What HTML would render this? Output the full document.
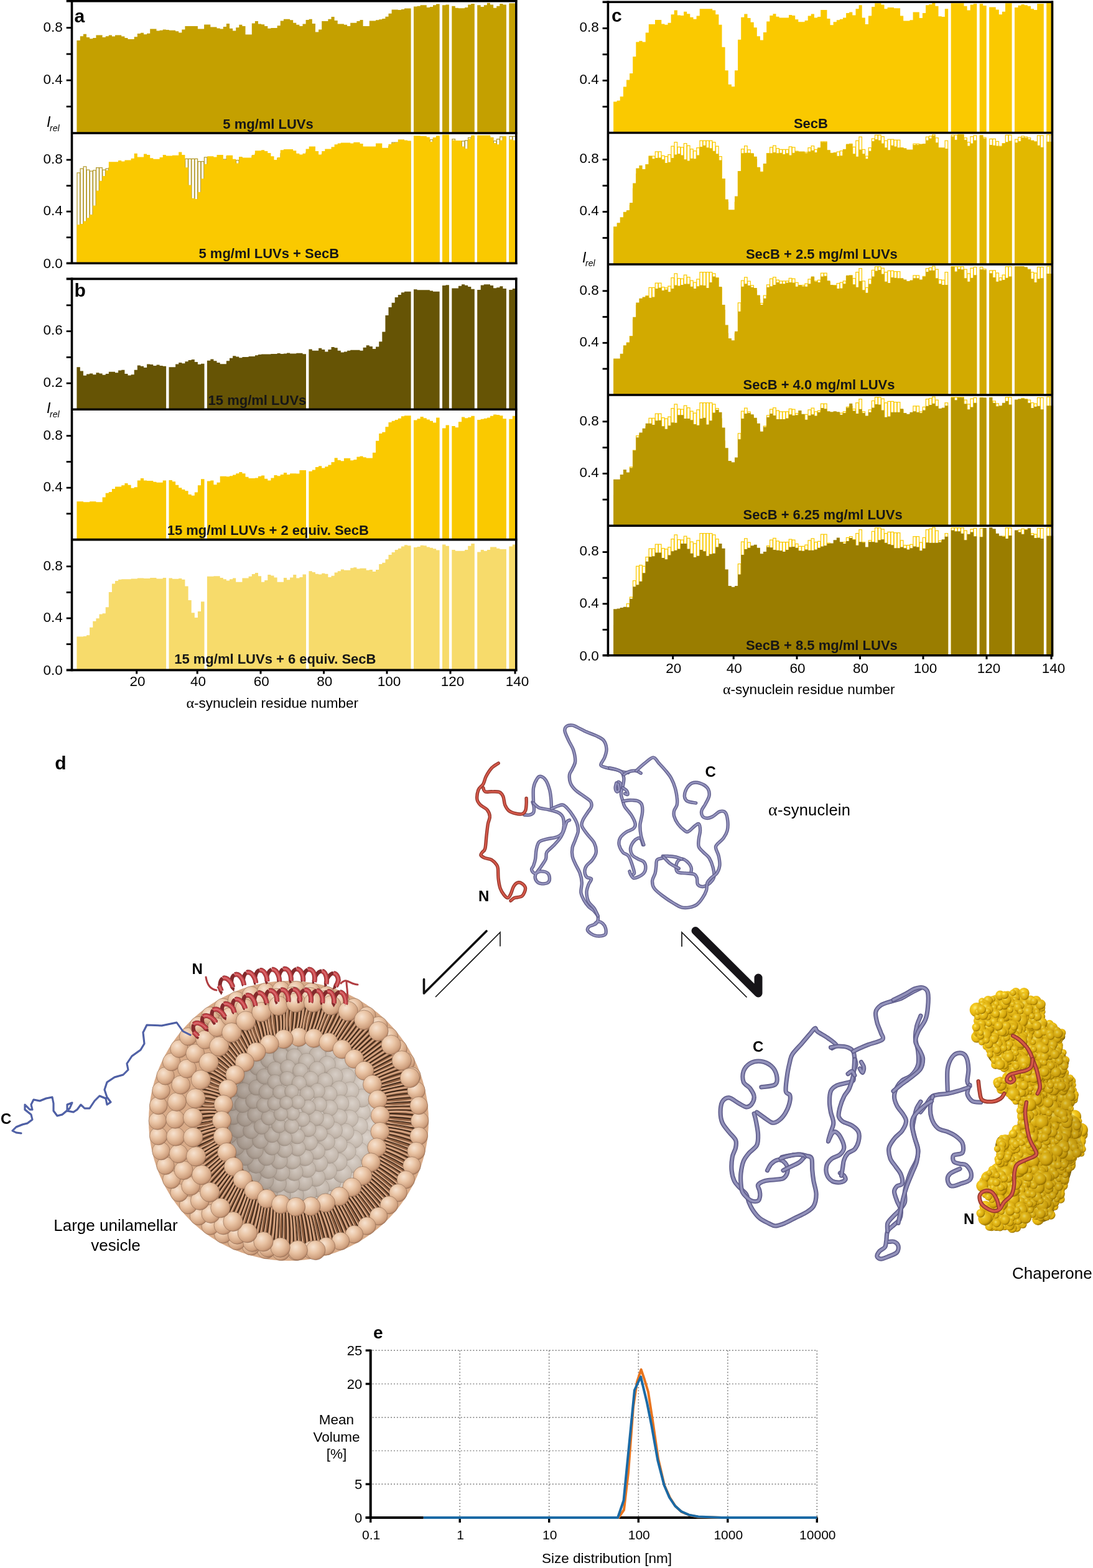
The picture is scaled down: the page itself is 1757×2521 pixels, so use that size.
<!DOCTYPE html>
<html><head><meta charset="utf-8"><title>Figure</title>
<style>html,body{margin:0;padding:0;background:#fff;width:1757px;height:2521px;overflow:hidden;}svg{display:block;}</style>
</head><body>
<svg width="1757" height="2521" viewBox="0 0 1757 2521">
<rect width="1757" height="2521" fill="#fff"/>
<path d="M123.4,213.5 L123.4,65.0 L128.8,65.0 L128.8,58.2 L133.9,58.2 L133.9,54.8 L139.0,54.8 L139.0,60.0 L144.1,60.0 L144.1,62.2 L149.3,62.2 L149.2,60.9 L154.4,60.9 L154.4,56.4 L159.5,56.4 L159.5,56.4 L164.6,56.4 L164.6,60.0 L169.7,60.0 L169.7,58.2 L174.8,58.2 L174.8,56.6 L179.9,56.6 L179.9,58.6 L185.0,58.6 L185.0,56.4 L190.1,56.4 L190.1,56.4 L195.2,56.4 L195.2,58.6 L200.4,58.6 L200.4,60.9 L205.5,60.9 L205.5,63.1 L210.6,63.1 L210.6,63.1 L215.7,63.1 L215.7,59.3 L220.8,59.3 L220.8,54.1 L225.9,54.1 L225.9,52.8 L231.0,52.8 L231.0,55.3 L236.1,55.3 L236.1,53.7 L241.2,53.7 L241.2,46.5 L246.3,46.5 L246.3,46.5 L251.5,46.5 L251.5,49.6 L256.6,49.6 L256.6,48.8 L261.7,48.8 L261.7,47.4 L266.8,47.4 L266.8,48.1 L271.9,48.1 L271.9,48.8 L277.0,48.8 L277.0,48.8 L282.1,48.8 L282.1,50.3 L287.2,50.3 L287.2,52.6 L292.3,52.6 L292.3,47.4 L297.4,47.4 L297.4,42.0 L302.6,42.0 L302.6,42.0 L307.7,42.0 L307.7,42.0 L312.8,42.0 L312.8,42.0 L317.9,42.0 L317.9,46.5 L323.0,46.5 L323.0,46.5 L328.1,46.5 L328.1,39.5 L333.2,39.5 L333.2,39.5 L338.3,39.5 L338.3,43.6 L343.4,43.6 L343.4,43.6 L348.5,43.6 L348.5,45.4 L353.7,45.4 L353.7,46.5 L358.8,46.5 L358.8,42.9 L363.9,42.9 L363.9,38.0 L369.0,38.0 L369.0,45.8 L374.1,45.8 L374.1,49.6 L379.2,49.6 L379.2,44.2 L384.3,44.2 L384.3,39.8 L389.4,39.8 L389.4,42.0 L394.5,42.0 L394.5,55.5 L399.6,55.5 L399.6,55.5 L404.8,55.5 L404.8,37.5 L409.9,37.5 L409.9,33.9 L415.0,33.9 L415.0,38.4 L420.1,38.4 L420.1,39.3 L425.2,39.3 L425.2,42.0 L430.3,42.0 L430.3,45.8 L435.4,45.8 L435.4,45.1 L440.5,45.1 L440.5,45.1 L445.6,45.1 L445.6,41.3 L450.7,41.3 L450.7,33.5 L455.9,33.5 L455.9,30.7 L461.0,30.7 L461.0,30.7 L466.1,30.7 L466.1,32.3 L471.2,32.3 L471.2,36.8 L476.3,36.8 L476.3,39.8 L481.4,39.8 L481.4,42.0 L486.5,42.0 L486.5,38.4 L491.6,38.4 L491.6,31.9 L496.7,31.9 L496.7,30.7 L501.8,30.7 L501.8,38.0 L507.0,38.0 L506.9,51.5 L512.1,51.5 L512.1,47.4 L517.2,47.4 L517.2,34.1 L522.3,34.1 L522.3,34.1 L527.4,34.1 L527.4,30.7 L532.5,30.7 L532.5,27.1 L537.6,27.1 L537.6,33.0 L542.7,33.0 L542.7,38.4 L547.8,38.4 L547.8,38.4 L552.9,38.4 L552.9,39.8 L558.1,39.8 L558.1,42.0 L563.2,42.0 L563.2,36.8 L568.3,36.8 L568.3,36.8 L573.4,36.8 L573.4,34.1 L578.5,34.1 L578.5,31.9 L583.6,31.9 L583.6,42.0 L588.7,42.0 L588.7,42.0 L593.8,42.0 L593.8,33.5 L598.9,33.5 L598.9,33.5 L604.0,33.5 L604.0,32.3 L609.2,32.3 L609.2,31.2 L614.3,31.2 L614.3,30.1 L619.4,30.1 L619.4,26.7 L624.5,26.7 L624.5,21.8 L629.6,21.8 L629.6,15.4 L634.7,15.4 L634.7,15.4 L639.8,15.4 L639.8,16.1 L644.9,16.1 L644.9,15.0 L650.0,15.0 L650.0,13.6 L655.1,13.6 L655.1,13.6 L660.6,13.6 L660.6,213.5Z M665.0,213.5 L665.0,10.5 L670.5,10.5 L670.5,9.8 L675.6,9.8 L675.6,8.2 L680.7,8.2 L680.7,8.2 L685.8,8.2 L685.8,12.1 L690.9,12.1 L690.9,10.9 L696.0,10.9 L696.0,8.2 L701.1,8.2 L701.1,6.5 L706.6,6.5 L706.6,213.5Z M711.0,213.5 L711.0,8.2 L716.5,8.2 L716.5,7.6 L721.9,7.6 L721.9,213.5Z M726.3,213.5 L726.3,9.8 L731.8,9.8 L731.8,12.7 L736.9,12.7 L736.9,13.2 L742.0,13.2 L742.0,13.2 L747.1,13.2 L747.1,12.1 L752.2,12.1 L752.2,7.6 L757.3,7.6 L757.3,6.0 L762.8,6.0 L762.8,213.5Z M767.2,213.5 L767.2,8.2 L772.7,8.2 L772.7,10.9 L777.8,10.9 L777.8,8.2 L782.9,8.2 L782.9,4.7 L788.0,4.7 L788.0,7.6 L793.1,7.6 L793.1,12.7 L798.2,12.7 L798.2,9.8 L803.3,9.8 L803.3,6.0 L808.4,6.0 L808.4,7.6 L813.9,7.6 L813.9,213.5Z M818.3,213.5 L818.3,5.3 L823.8,5.3 L823.8,5.3 L829.2,5.3 L829.2,213.5Z" fill="#c4a000"/>
<path d="M124.00,423.2V277.9H128.51V423.2M129.11,423.2V271.2H133.62V423.2M134.22,423.2V267.9H138.73V423.2M139.33,423.2V273.0H143.84V423.2M144.44,423.2V275.2H148.95V423.2M149.55,423.2V273.9H154.06V423.2M154.66,423.2V269.5H159.17V423.2M159.77,423.2V269.5H164.28V423.2M164.88,423.2V273.0H169.39V423.2M169.99,423.2V271.2H174.50V423.2M175.10,423.2V269.7H179.61V423.2M180.21,423.2V271.7H184.72V423.2M185.32,423.2V269.5H189.83V423.2M190.43,423.2V269.5H194.94V423.2M195.54,423.2V271.7H200.05V423.2M200.65,423.2V273.9H205.16V423.2M205.76,423.2V276.1H210.27V423.2M210.87,423.2V276.1H215.38V423.2M215.98,423.2V272.3H220.49V423.2M221.09,423.2V267.2H225.60V423.2M226.20,423.2V265.9H230.71V423.2M231.31,423.2V268.3H235.82V423.2M236.42,423.2V266.8H240.93V423.2M241.53,423.2V259.7H246.04V423.2M246.64,423.2V259.7H251.15V423.2M251.75,423.2V262.8H256.26V423.2M256.86,423.2V261.9H261.37V423.2M261.97,423.2V260.6H266.48V423.2M267.08,423.2V261.3H271.59V423.2M272.19,423.2V261.9H276.70V423.2M277.30,423.2V261.9H281.81V423.2M282.41,423.2V263.5H286.92V423.2M287.52,423.2V265.7H292.03V423.2M292.63,423.2V260.6H297.14V423.2M297.74,423.2V255.3H302.25V423.2M302.85,423.2V255.3H307.36V423.2M307.96,423.2V255.3H312.47V423.2M313.07,423.2V255.3H317.58V423.2M318.18,423.2V259.7H322.69V423.2M323.29,423.2V259.7H327.80V423.2M328.40,423.2V252.8H332.91V423.2M333.51,423.2V252.8H338.02V423.2M338.62,423.2V256.8H343.13V423.2M343.73,423.2V256.8H348.24V423.2M348.84,423.2V258.6H353.35V423.2M353.95,423.2V259.7H358.46V423.2M359.06,423.2V256.2H363.57V423.2M364.17,423.2V251.3H368.68V423.2M369.28,423.2V259.0H373.79V423.2M374.39,423.2V262.8H378.90V423.2M379.50,423.2V257.5H384.01V423.2M384.61,423.2V253.1H389.12V423.2M389.72,423.2V255.3H394.23V423.2M394.83,423.2V268.6H399.34V423.2M399.94,423.2V268.6H404.45V423.2M405.05,423.2V250.8H409.56V423.2M410.16,423.2V247.3H414.67V423.2M415.27,423.2V251.7H419.78V423.2M420.38,423.2V252.6H424.89V423.2M425.49,423.2V255.3H430.00V423.2M430.60,423.2V259.0H435.11V423.2M435.71,423.2V258.4H440.22V423.2M440.82,423.2V258.4H445.33V423.2M445.93,423.2V254.6H450.44V423.2M451.04,423.2V246.9H455.55V423.2M456.15,423.2V244.2H460.66V423.2M461.26,423.2V244.2H465.77V423.2M466.37,423.2V245.8H470.88V423.2M471.48,423.2V250.2H475.99V423.2M476.59,423.2V253.1H481.10V423.2M481.70,423.2V255.3H486.21V423.2M486.81,423.2V251.7H491.32V423.2M491.92,423.2V245.3H496.43V423.2M497.03,423.2V244.2H501.54V423.2M502.14,423.2V251.3H506.65V423.2M507.25,423.2V264.6H511.76V423.2M512.36,423.2V260.6H516.87V423.2M517.47,423.2V247.5H521.98V423.2M522.58,423.2V247.5H527.09V423.2M527.69,423.2V244.2H532.20V423.2M532.80,423.2V240.7H537.31V423.2M537.91,423.2V246.4H542.42V423.2M543.02,423.2V251.7H547.53V423.2M548.13,423.2V251.7H552.64V423.2M553.24,423.2V253.1H557.75V423.2M558.35,423.2V255.3H562.86V423.2M563.46,423.2V250.2H567.97V423.2M568.57,423.2V250.2H573.08V423.2M573.68,423.2V247.5H578.19V423.2M578.79,423.2V245.3H583.30V423.2M583.90,423.2V255.3H588.41V423.2M589.01,423.2V255.3H593.52V423.2M594.12,423.2V246.9H598.63V423.2M599.23,423.2V246.9H603.74V423.2M604.34,423.2V245.8H608.85V423.2M609.45,423.2V244.6H613.96V423.2M614.56,423.2V243.5H619.07V423.2M619.67,423.2V240.2H624.18V423.2M624.78,423.2V235.3H629.29V423.2M629.89,423.2V229.1H634.40V423.2M635.00,423.2V229.1H639.51V423.2M640.11,423.2V229.8H644.62V423.2M645.22,423.2V228.7H649.73V423.2M650.33,423.2V227.4H654.84V423.2M655.44,423.2V227.4H659.95V423.2M665.66,423.2V224.3H670.17V423.2M670.77,423.2V223.6H675.28V423.2M675.88,423.2V222.1H680.39V423.2M680.99,423.2V222.1H685.50V423.2M686.10,423.2V225.8H690.61V423.2M691.21,423.2V224.7H695.72V423.2M696.32,423.2V222.1H700.83V423.2M701.43,423.2V220.3H705.94V423.2M711.65,423.2V222.1H716.16V423.2M716.76,423.2V221.4H721.27V423.2M726.98,423.2V223.6H731.49V423.2M732.09,423.2V226.5H736.60V423.2M737.20,423.2V226.9H741.71V423.2M742.31,423.2V226.9H746.82V423.2M747.42,423.2V225.8H751.93V423.2M752.53,423.2V221.4H757.04V423.2M757.64,423.2V219.8H762.15V423.2M767.86,423.2V222.1H772.37V423.2M772.97,423.2V224.7H777.48V423.2M778.08,423.2V222.1H782.59V423.2M783.19,423.2V218.5H787.70V423.2M788.30,423.2V221.4H792.81V423.2M793.41,423.2V226.5H797.92V423.2M798.52,423.2V223.6H803.03V423.2M803.63,423.2V219.8H808.14V423.2M808.74,423.2V221.4H813.25V423.2M818.96,423.2V219.2H823.47V423.2M824.07,423.2V219.2H828.58V423.2" fill="none" stroke="#b39a2c" stroke-width="1.25"/>
<path d="M123.4,423.2 L123.4,361.3 L128.8,361.3 L128.8,360.0 L133.9,360.0 L133.9,355.4 L139.0,355.4 L139.0,350.2 L144.1,350.2 L144.1,345.0 L149.3,345.0 L149.2,330.6 L154.4,330.6 L154.4,306.4 L159.5,306.4 L159.5,290.7 L164.6,290.7 L164.6,282.9 L169.7,282.9 L169.7,273.8 L174.8,273.8 L174.8,260.3 L179.9,260.3 L179.9,260.3 L185.0,260.3 L185.0,260.3 L190.1,260.3 L190.1,258.1 L195.2,258.1 L195.2,259.6 L200.4,259.6 L200.4,257.4 L205.5,257.4 L205.5,257.4 L210.6,257.4 L210.6,254.7 L215.7,254.7 L215.7,246.8 L220.8,246.8 L220.8,252.4 L225.9,252.4 L225.9,252.4 L231.0,252.4 L231.0,247.5 L236.1,247.5 L236.1,249.1 L241.2,249.1 L241.2,254.2 L246.3,254.2 L246.3,255.8 L251.5,255.8 L251.5,255.8 L256.6,255.8 L256.6,252.9 L261.7,252.9 L261.7,249.1 L266.8,249.1 L266.8,250.6 L271.9,250.6 L271.9,250.6 L277.0,250.6 L277.0,249.8 L282.1,249.8 L282.1,249.8 L287.2,249.8 L287.2,244.6 L292.3,244.6 L292.3,249.1 L297.4,249.1 L297.4,269.3 L302.6,269.3 L302.6,297.4 L307.7,297.4 L307.7,318.8 L312.8,318.8 L312.8,319.9 L317.9,319.9 L317.9,308.7 L323.0,308.7 L323.0,287.3 L328.1,287.3 L328.1,263.7 L333.2,263.7 L333.2,251.3 L338.3,251.3 L338.3,251.3 L343.4,251.3 L343.4,252.4 L348.5,252.4 L348.5,249.1 L353.7,249.1 L353.7,249.1 L358.8,249.1 L358.8,256.9 L363.9,256.9 L363.9,249.8 L369.0,249.8 L369.0,249.8 L374.1,249.8 L374.1,255.8 L379.2,255.8 L379.2,262.6 L384.3,262.6 L384.3,252.0 L389.4,252.0 L389.4,253.6 L394.5,253.6 L394.5,253.6 L399.6,253.6 L399.6,253.6 L404.8,253.6 L404.8,249.1 L409.9,249.1 L409.9,242.3 L415.0,242.3 L415.0,242.3 L420.1,242.3 L420.1,241.2 L425.2,241.2 L425.2,243.0 L430.3,243.0 L430.3,246.1 L435.4,246.1 L435.4,251.3 L440.5,251.3 L440.5,256.9 L445.6,256.9 L445.6,252.9 L450.7,252.9 L450.7,241.2 L455.9,241.2 L455.9,240.1 L461.0,240.1 L461.0,240.1 L466.1,240.1 L466.1,240.1 L471.2,240.1 L471.2,242.3 L476.3,242.3 L476.3,246.8 L481.4,246.8 L481.4,248.4 L486.5,248.4 L486.5,246.8 L491.6,246.8 L491.6,239.6 L496.7,239.6 L496.7,235.6 L501.8,235.6 L501.8,235.6 L507.0,235.6 L506.9,243.0 L512.1,243.0 L512.1,248.4 L517.2,248.4 L517.2,243.0 L522.3,243.0 L522.3,239.6 L527.4,239.6 L527.4,239.6 L532.5,239.6 L532.5,236.2 L537.6,236.2 L537.6,232.2 L542.7,232.2 L542.7,230.4 L547.8,230.4 L547.8,229.5 L552.9,229.5 L552.9,229.5 L558.1,229.5 L558.1,229.5 L563.2,229.5 L563.2,230.4 L568.3,230.4 L568.3,228.8 L573.4,228.8 L573.4,228.8 L578.5,228.8 L578.5,231.1 L583.6,231.1 L583.6,235.6 L588.7,235.6 L588.7,235.6 L593.8,235.6 L593.8,235.6 L598.9,235.6 L598.9,235.6 L604.0,235.6 L604.0,230.4 L609.2,230.4 L609.2,230.4 L614.3,230.4 L614.3,237.8 L619.4,237.8 L619.4,237.8 L624.5,237.8 L624.5,231.8 L629.6,231.8 L629.6,229.9 L634.7,229.9 L634.7,228.8 L639.8,228.8 L639.8,224.3 L644.9,224.3 L644.9,224.3 L650.0,224.3 L650.0,225.4 L655.1,225.4 L655.1,226.6 L660.6,226.6 L660.6,423.2Z M665.0,423.2 L665.0,218.2 L670.5,218.2 L670.5,218.2 L675.6,218.2 L675.6,218.7 L680.7,218.7 L680.7,218.7 L685.8,218.7 L685.8,220.5 L690.9,220.5 L690.9,227.7 L696.0,227.7 L696.0,220.9 L701.1,220.9 L701.1,218.2 L706.6,218.2 L706.6,423.2Z M711.0,423.2 L711.0,216.4 L716.5,216.4 L716.5,216.4 L721.9,216.4 L721.9,423.2Z M726.3,423.2 L726.3,225.4 L731.8,225.4 L731.8,225.9 L736.9,225.9 L736.9,225.9 L742.0,225.9 L742.0,235.6 L747.1,235.6 L747.1,238.9 L752.2,238.9 L752.2,223.2 L757.3,223.2 L757.3,217.6 L762.8,217.6 L762.8,423.2Z M767.2,423.2 L767.2,217.6 L772.7,217.6 L772.7,217.6 L777.8,217.6 L777.8,217.6 L782.9,217.6 L782.9,217.6 L788.0,217.6 L788.0,220.9 L793.1,220.9 L793.1,229.9 L798.2,229.9 L798.2,232.2 L803.3,232.2 L803.3,225.4 L808.4,225.4 L808.4,219.1 L813.9,219.1 L813.9,423.2Z M818.3,423.2 L818.3,224.3 L823.8,224.3 L823.8,225.4 L829.2,225.4 L829.2,423.2Z" fill="#fac900"/>
<path d="M123.4,658.0 L123.4,590.3 L128.8,590.3 L128.8,596.4 L133.9,596.4 L133.9,603.8 L139.0,603.8 L139.0,601.6 L144.1,601.6 L144.1,600.5 L149.3,600.5 L149.2,602.2 L154.4,602.2 L154.4,599.3 L159.5,599.3 L159.5,600.5 L164.6,600.5 L164.6,602.7 L169.7,602.7 L169.7,600.9 L174.8,600.9 L174.8,597.8 L179.9,597.8 L179.9,597.8 L185.0,597.8 L185.0,599.3 L190.1,599.3 L190.1,595.5 L195.2,595.5 L195.2,594.8 L200.4,594.8 L200.4,600.9 L205.5,600.9 L205.5,603.4 L210.6,603.4 L210.6,602.2 L215.7,602.2 L215.7,594.8 L220.8,594.8 L220.8,587.4 L225.9,587.4 L225.9,588.8 L231.0,588.8 L231.0,591.0 L236.1,591.0 L236.1,585.4 L241.2,585.4 L241.2,586.1 L246.3,586.1 L246.3,587.9 L251.5,587.9 L251.5,586.5 L256.6,586.5 L256.6,588.1 L261.7,588.1 L261.7,588.8 L267.1,588.8 L267.1,658.0Z M271.5,658.0 L271.5,590.3 L277.0,590.3 L277.0,590.3 L282.1,590.3 L282.1,585.4 L287.2,585.4 L287.2,582.9 L292.3,582.9 L292.3,584.2 L297.4,584.2 L297.4,581.3 L302.6,581.3 L302.6,579.1 L307.7,579.1 L307.7,578.0 L312.8,578.0 L312.8,582.0 L317.9,582.0 L317.9,585.8 L323.0,585.8 L323.0,584.7 L328.5,584.7 L328.5,658.0Z M332.9,658.0 L332.9,579.8 L338.3,579.8 L338.3,577.5 L343.4,577.5 L343.4,580.2 L348.5,580.2 L348.5,582.9 L353.7,582.9 L353.7,585.2 L358.8,585.2 L358.8,585.2 L363.9,585.2 L363.9,580.2 L369.0,580.2 L369.0,575.7 L374.1,575.7 L374.1,572.3 L379.2,572.3 L379.2,573.5 L384.3,573.5 L384.3,575.2 L389.4,575.2 L389.4,573.9 L394.5,573.9 L394.5,573.9 L399.6,573.9 L399.6,573.0 L404.8,573.0 L404.8,573.0 L409.9,573.0 L409.9,571.2 L415.0,571.2 L415.0,570.1 L420.1,570.1 L420.1,569.4 L425.2,569.4 L425.2,569.4 L430.3,569.4 L430.3,569.4 L435.4,569.4 L435.4,569.0 L440.5,569.0 L440.5,569.0 L445.6,569.0 L445.6,568.1 L450.7,568.1 L450.7,569.0 L455.9,569.0 L455.9,568.5 L461.0,568.5 L461.0,567.4 L466.1,567.4 L466.1,568.5 L471.2,568.5 L471.2,568.5 L476.3,568.5 L476.3,567.7 L481.4,567.7 L481.4,567.7 L486.5,567.7 L486.5,569.3 L492.0,569.3 L492.0,658.0Z M496.4,658.0 L496.4,561.6 L501.8,561.6 L501.8,563.7 L507.0,563.7 L506.9,563.7 L512.1,563.7 L512.1,559.8 L517.2,559.8 L517.2,562.1 L522.3,562.1 L522.3,565.5 L527.4,565.5 L527.4,562.1 L532.5,562.1 L532.5,558.0 L537.6,558.0 L537.6,559.2 L542.7,559.2 L542.7,563.7 L547.8,563.7 L547.8,566.6 L552.9,566.6 L552.9,565.5 L558.1,565.5 L558.1,563.7 L563.2,563.7 L563.2,562.8 L568.3,562.8 L568.3,562.8 L573.4,562.8 L573.4,562.8 L578.5,562.8 L578.5,563.7 L583.6,563.7 L583.6,558.7 L588.7,558.7 L588.7,555.3 L593.8,555.3 L593.8,556.9 L598.9,556.9 L598.9,561.0 L604.0,561.0 L604.0,557.6 L609.2,557.6 L609.2,549.2 L614.3,549.2 L614.3,533.5 L619.4,533.5 L619.4,506.9 L624.5,506.9 L624.5,493.9 L629.6,493.9 L629.6,486.7 L634.7,486.7 L634.7,478.1 L639.8,478.1 L639.8,474.1 L644.9,474.1 L644.9,470.3 L650.0,470.3 L650.0,468.7 L655.1,468.7 L655.1,468.7 L660.6,468.7 L660.6,658.0Z M665.0,658.0 L665.0,465.3 L670.5,465.3 L670.5,466.2 L675.6,466.2 L675.6,466.2 L680.7,466.2 L680.7,466.2 L685.8,466.2 L685.8,466.2 L690.9,466.2 L690.9,467.4 L696.0,467.4 L696.0,468.7 L701.1,468.7 L701.1,468.7 L706.6,468.7 L706.6,658.0Z M711.0,658.0 L711.0,459.1 L716.5,459.1 L716.5,458.2 L721.9,458.2 L721.9,658.0Z M726.3,658.0 L726.3,463.4 L731.8,463.4 L731.8,463.4 L736.9,463.4 L736.9,459.7 L742.0,459.7 L742.0,457.2 L747.1,457.2 L747.1,458.7 L752.2,458.7 L752.2,460.9 L757.3,460.9 L757.3,464.7 L762.8,464.7 L762.8,658.0Z M767.2,658.0 L767.2,465.9 L772.7,465.9 L772.7,458.4 L777.8,458.4 L777.8,457.2 L782.9,457.2 L782.9,457.2 L788.0,457.2 L788.0,459.1 L793.1,459.1 L793.1,463.2 L798.2,463.2 L798.2,462.2 L803.3,462.2 L803.3,460.3 L808.4,460.3 L808.4,464.1 L813.9,464.1 L813.9,658.0Z M818.3,658.0 L818.3,465.9 L823.8,465.9 L823.8,464.1 L829.2,464.1 L829.2,658.0Z" fill="#665405"/>
<path d="M123.4,867.6 L123.4,806.2 L128.8,806.2 L128.8,806.2 L133.9,806.2 L133.9,807.3 L139.0,807.3 L139.0,807.3 L144.1,807.3 L144.1,806.2 L149.3,806.2 L149.2,806.2 L154.4,806.2 L154.4,807.3 L159.5,807.3 L159.5,807.3 L164.6,807.3 L164.6,799.5 L169.7,799.5 L169.7,792.7 L174.8,792.7 L174.8,790.9 L179.9,790.9 L179.9,786.0 L185.0,786.0 L185.0,782.6 L190.1,782.6 L190.1,782.6 L195.2,782.6 L195.2,780.3 L200.4,780.3 L200.4,777.0 L205.5,777.0 L205.5,779.7 L210.6,779.7 L210.6,784.8 L215.7,784.8 L215.7,783.2 L220.8,783.2 L220.8,772.5 L225.9,772.5 L225.9,769.1 L231.0,769.1 L231.0,772.5 L236.1,772.5 L236.1,772.9 L241.2,772.9 L241.2,772.9 L246.3,772.9 L246.3,774.7 L251.5,774.7 L251.5,775.8 L256.6,775.8 L256.6,775.8 L261.7,775.8 L261.7,772.5 L267.1,772.5 L267.1,867.6Z M271.5,867.6 L271.5,772.0 L277.0,772.0 L277.0,774.2 L282.1,774.2 L282.1,779.7 L287.2,779.7 L287.2,784.2 L292.3,784.2 L292.3,787.1 L297.4,787.1 L297.4,789.3 L302.6,789.3 L302.6,795.0 L307.7,795.0 L307.7,796.8 L312.8,796.8 L312.8,791.6 L317.9,791.6 L317.9,780.3 L323.0,780.3 L323.0,770.2 L328.5,770.2 L328.5,867.6Z M332.9,867.6 L332.9,773.6 L338.3,773.6 L338.3,772.5 L343.4,772.5 L343.4,779.2 L348.5,779.2 L348.5,775.8 L353.7,775.8 L353.7,765.7 L358.8,765.7 L358.8,765.7 L363.9,765.7 L363.9,766.2 L369.0,766.2 L369.0,765.2 L374.1,765.2 L374.1,763.5 L379.2,763.5 L379.2,761.2 L384.3,761.2 L384.3,759.0 L389.4,759.0 L389.4,761.2 L394.5,761.2 L394.5,766.8 L399.6,766.8 L399.6,769.1 L404.8,769.1 L404.8,769.1 L409.9,769.1 L409.9,768.4 L415.0,768.4 L415.0,765.7 L420.1,765.7 L420.1,764.6 L425.2,764.6 L425.2,769.8 L430.3,769.8 L430.3,772.5 L435.4,772.5 L435.4,768.4 L440.5,768.4 L440.5,763.9 L445.6,763.9 L445.6,765.2 L450.7,765.2 L450.7,763.0 L455.9,763.0 L455.9,760.1 L461.0,760.1 L461.0,763.0 L466.1,763.0 L466.1,761.2 L471.2,761.2 L471.2,761.2 L476.3,761.2 L476.3,761.6 L481.4,761.6 L481.4,756.0 L486.5,756.0 L486.5,756.0 L492.0,756.0 L492.0,867.6Z M496.4,867.6 L496.4,757.8 L501.8,757.8 L501.8,755.5 L507.0,755.5 L506.9,751.0 L512.1,751.0 L512.1,749.2 L517.2,749.2 L517.2,752.6 L522.3,752.6 L522.3,750.3 L527.4,750.3 L527.4,747.4 L532.5,747.4 L532.5,742.9 L537.6,742.9 L537.6,736.2 L542.7,736.2 L542.7,739.8 L547.8,739.8 L547.8,741.3 L552.9,741.3 L552.9,736.8 L558.1,736.8 L558.1,736.8 L563.2,736.8 L563.2,740.2 L568.3,740.2 L568.3,739.1 L573.4,739.1 L573.4,734.6 L578.5,734.6 L578.5,733.5 L583.6,733.5 L583.6,735.2 L588.7,735.2 L588.7,736.4 L593.8,736.4 L593.8,736.4 L598.9,736.4 L598.9,727.8 L604.0,727.8 L604.0,708.7 L609.2,708.7 L609.2,697.0 L614.3,697.0 L614.3,694.8 L619.4,694.8 L619.4,686.2 L624.5,686.2 L624.5,679.0 L629.6,679.0 L629.6,676.8 L634.7,676.8 L634.7,675.0 L639.8,675.0 L639.8,672.7 L644.9,672.7 L644.9,669.3 L650.0,669.3 L650.0,668.2 L655.1,668.2 L655.1,668.2 L660.6,668.2 L660.6,867.6Z M665.0,867.6 L665.0,675.4 L670.5,675.4 L670.5,673.2 L675.6,673.2 L675.6,670.0 L680.7,670.0 L680.7,672.2 L685.8,672.2 L685.8,674.5 L690.9,674.5 L690.9,676.8 L696.0,676.8 L696.0,679.5 L701.1,679.5 L701.1,671.6 L706.6,671.6 L706.6,867.6Z M711.0,867.6 L711.0,688.5 L716.5,688.5 L716.5,683.5 L721.9,683.5 L721.9,867.6Z M726.3,867.6 L726.3,685.1 L731.8,685.1 L731.8,687.3 L736.9,687.3 L736.9,678.3 L742.0,678.3 L742.0,670.5 L747.1,670.5 L747.1,672.2 L752.2,672.2 L752.2,670.9 L757.3,670.9 L757.3,668.7 L762.8,668.7 L762.8,867.6Z M767.2,867.6 L767.2,675.0 L772.7,675.0 L772.7,673.8 L777.8,673.8 L777.8,672.7 L782.9,672.7 L782.9,671.6 L788.0,671.6 L788.0,668.7 L793.1,668.7 L793.1,666.4 L798.2,666.4 L798.2,667.1 L803.3,667.1 L803.3,668.2 L808.4,668.2 L808.4,673.2 L813.9,673.2 L813.9,867.6Z M818.3,867.6 L818.3,673.8 L823.8,673.8 L823.8,668.7 L829.2,668.7 L829.2,867.6Z" fill="#fac900"/>
<path d="M123.4,1077.4 L123.4,1023.5 L128.8,1023.5 L128.8,1023.5 L133.9,1023.5 L133.9,1023.0 L139.0,1023.0 L139.0,1021.2 L144.1,1021.2 L144.1,1008.8 L149.3,1008.8 L149.2,998.7 L154.4,998.7 L154.4,994.2 L159.5,994.2 L159.5,987.5 L164.6,987.5 L164.6,986.3 L169.7,986.3 L169.7,976.2 L174.8,976.2 L174.8,951.9 L179.9,951.9 L179.9,938.4 L185.0,938.4 L185.0,933.9 L190.1,933.9 L190.1,931.7 L195.2,931.7 L195.2,931.2 L200.4,931.2 L200.4,931.2 L205.5,931.2 L205.5,931.2 L210.6,931.2 L210.6,930.5 L215.7,930.5 L215.7,930.5 L220.8,930.5 L220.8,929.6 L225.9,929.6 L225.9,929.6 L231.0,929.6 L231.0,930.1 L236.1,930.1 L236.1,930.1 L241.2,930.1 L241.2,929.0 L246.3,929.0 L246.3,929.0 L251.5,929.0 L251.5,930.5 L256.6,930.5 L256.6,930.5 L261.7,930.5 L261.7,929.0 L267.1,929.0 L267.1,1077.4Z M271.5,1077.4 L271.5,929.4 L277.0,929.4 L277.0,930.8 L282.1,930.8 L282.1,930.8 L287.2,930.8 L287.2,930.1 L292.3,930.1 L292.3,931.7 L297.4,931.7 L297.4,942.5 L302.6,942.5 L302.6,965.0 L307.7,965.0 L307.7,985.2 L312.8,985.2 L312.8,993.1 L317.9,993.1 L317.9,983.0 L323.0,983.0 L323.0,967.2 L328.5,967.2 L328.5,1077.4Z M332.9,1077.4 L332.9,926.7 L338.3,926.7 L338.3,926.7 L343.4,926.7 L343.4,926.2 L348.5,926.2 L348.5,926.2 L353.7,926.2 L353.7,929.0 L358.8,929.0 L358.8,931.2 L363.9,931.2 L363.9,933.5 L369.0,933.5 L369.0,931.2 L374.1,931.2 L374.1,929.6 L379.2,929.6 L379.2,935.7 L384.3,935.7 L384.3,935.7 L389.4,935.7 L389.4,929.4 L394.5,929.4 L394.5,929.4 L399.6,929.4 L399.6,926.7 L404.8,926.7 L404.8,922.9 L409.9,922.9 L409.9,921.1 L415.0,921.1 L415.0,926.2 L420.1,926.2 L420.1,935.7 L425.2,935.7 L425.2,933.0 L430.3,933.0 L430.3,924.0 L435.4,924.0 L435.4,925.6 L440.5,925.6 L440.5,928.5 L445.6,928.5 L445.6,935.7 L450.7,935.7 L450.7,935.7 L455.9,935.7 L455.9,929.0 L461.0,929.0 L461.0,932.3 L466.1,932.3 L466.1,928.5 L471.2,928.5 L471.2,924.0 L476.3,924.0 L476.3,929.6 L481.4,929.6 L481.4,928.0 L486.5,928.0 L486.5,923.5 L492.0,923.5 L492.0,1077.4Z M496.4,1077.4 L496.4,918.3 L501.8,918.3 L501.8,919.9 L507.0,919.9 L506.9,922.8 L512.1,922.8 L512.1,923.5 L517.2,923.5 L517.2,921.7 L522.3,921.7 L522.3,922.8 L527.4,922.8 L527.4,928.0 L532.5,928.0 L532.5,925.8 L537.6,925.8 L537.6,920.6 L542.7,920.6 L542.7,918.3 L547.8,918.3 L547.8,915.4 L552.9,915.4 L552.9,916.8 L558.1,916.8 L558.1,916.8 L563.2,916.8 L563.2,913.2 L568.3,913.2 L568.3,912.2 L573.4,912.2 L573.4,914.5 L578.5,914.5 L578.5,913.8 L583.6,913.8 L583.6,913.8 L588.7,913.8 L588.7,916.8 L593.8,916.8 L593.8,916.1 L598.9,916.1 L598.9,919.0 L604.0,919.0 L604.0,916.1 L609.2,916.1 L609.2,907.1 L614.3,907.1 L614.3,904.8 L619.4,904.8 L619.4,899.2 L624.5,899.2 L624.5,892.0 L629.6,892.0 L629.6,888.0 L634.7,888.0 L634.7,883.9 L639.8,883.9 L639.8,881.7 L644.9,881.7 L644.9,878.5 L650.0,878.5 L650.0,876.2 L655.1,876.2 L655.1,877.2 L660.6,877.2 L660.6,1077.4Z M665.0,1077.4 L665.0,880.1 L670.5,880.1 L670.5,879.0 L675.6,879.0 L675.6,876.7 L680.7,876.7 L680.7,877.2 L685.8,877.2 L685.8,879.4 L690.9,879.4 L690.9,880.8 L696.0,880.8 L696.0,882.3 L701.1,882.3 L701.1,884.6 L706.6,884.6 L706.6,1077.4Z M711.0,1077.4 L711.0,875.6 L716.5,875.6 L716.5,877.8 L721.9,877.8 L721.9,1077.4Z M726.3,1077.4 L726.3,883.9 L731.8,883.9 L731.8,885.7 L736.9,885.7 L736.9,885.7 L742.0,885.7 L742.0,885.7 L747.1,885.7 L747.1,883.9 L752.2,883.9 L752.2,877.8 L757.3,877.8 L757.3,874.0 L762.8,874.0 L762.8,1077.4Z M767.2,1077.4 L767.2,887.5 L772.7,887.5 L772.7,883.9 L777.8,883.9 L777.8,885.7 L782.9,885.7 L782.9,883.9 L788.0,883.9 L788.0,879.4 L793.1,879.4 L793.1,879.4 L798.2,879.4 L798.2,881.7 L803.3,881.7 L803.3,883.0 L808.4,883.0 L808.4,883.0 L813.9,883.0 L813.9,1077.4Z M818.3,1077.4 L818.3,878.5 L823.8,878.5 L823.8,875.6 L829.2,875.6 L829.2,1077.4Z" fill="#f7db6b"/>
<path d="M986.1,213.5 L986.1,163.6 L991.6,163.6 L991.6,161.7 L996.7,161.7 L996.7,155.2 L1001.9,155.2 L1001.9,139.5 L1007.0,139.5 L1007.0,128.4 L1012.1,128.4 L1012.1,117.9 L1017.2,117.9 L1017.2,91.1 L1022.3,91.1 L1022.3,67.6 L1027.4,67.6 L1027.4,65.7 L1032.6,65.7 L1032.6,67.6 L1037.7,67.6 L1037.7,52.6 L1042.8,52.6 L1042.8,39.1 L1047.9,39.1 L1047.9,39.1 L1053.0,39.1 L1053.0,31.9 L1058.2,31.9 L1058.2,31.9 L1063.3,31.9 L1063.3,38.4 L1068.4,38.4 L1068.4,39.8 L1073.5,39.8 L1073.5,36.8 L1078.6,36.8 L1078.6,23.3 L1083.7,23.3 L1083.7,16.6 L1088.9,16.6 L1088.9,24.4 L1094.0,24.4 L1094.0,24.9 L1099.1,24.9 L1099.1,18.8 L1104.2,18.8 L1104.2,22.2 L1109.3,22.2 L1109.3,27.8 L1114.5,27.8 L1114.5,30.7 L1119.6,30.7 L1119.6,25.6 L1124.7,25.6 L1124.7,14.3 L1129.8,14.3 L1129.8,14.3 L1134.9,14.3 L1134.9,14.3 L1140.0,14.3 L1140.0,14.3 L1145.2,14.3 L1145.2,16.6 L1150.3,16.6 L1150.3,23.3 L1155.4,23.3 L1155.4,39.8 L1160.5,39.8 L1160.5,75.8 L1165.6,75.8 L1165.6,113.3 L1170.7,113.3 L1170.7,135.8 L1175.9,135.8 L1175.9,139.2 L1181.0,139.2 L1181.0,113.3 L1186.1,113.3 L1186.1,63.8 L1191.2,63.8 L1191.2,27.8 L1196.3,27.8 L1196.3,22.6 L1201.5,22.6 L1201.5,28.9 L1206.6,28.9 L1206.6,35.7 L1211.7,35.7 L1211.7,44.2 L1216.8,44.2 L1216.8,58.2 L1221.9,58.2 L1221.9,64.5 L1227.0,64.5 L1227.0,51.9 L1232.2,51.9 L1232.2,34.6 L1237.3,34.6 L1237.3,24.9 L1242.4,24.9 L1242.4,22.2 L1247.5,22.2 L1247.5,26.7 L1252.6,26.7 L1252.6,28.5 L1257.8,28.5 L1257.8,28.5 L1262.9,28.5 L1262.9,28.5 L1268.0,28.5 L1268.0,24.0 L1273.1,24.0 L1273.1,24.9 L1278.2,24.9 L1278.2,31.2 L1283.3,31.2 L1283.3,35.2 L1288.5,35.2 L1288.5,35.2 L1293.6,35.2 L1293.6,33.0 L1298.7,33.0 L1298.7,25.6 L1303.8,25.6 L1303.8,22.6 L1308.9,22.6 L1308.9,28.5 L1314.1,28.5 L1314.1,27.1 L1319.2,27.1 L1319.2,15.9 L1324.3,15.9 L1324.3,15.9 L1329.4,15.9 L1329.4,30.1 L1334.5,30.1 L1334.5,40.2 L1339.6,40.2 L1339.6,35.2 L1344.8,35.2 L1344.8,32.3 L1349.9,32.3 L1349.9,30.7 L1355.0,30.7 L1355.0,28.5 L1360.1,28.5 L1360.1,21.1 L1365.2,21.1 L1365.2,19.5 L1370.3,19.5 L1370.3,24.4 L1375.5,24.4 L1375.5,14.3 L1380.6,14.3 L1380.6,8.2 L1385.7,8.2 L1385.7,28.5 L1390.8,28.5 L1390.8,39.1 L1395.9,39.1 L1395.9,25.6 L1401.1,25.6 L1401.1,10.9 L1406.2,10.9 L1406.2,5.3 L1411.3,5.3 L1411.3,5.3 L1416.4,5.3 L1416.4,7.6 L1421.5,7.6 L1421.5,14.3 L1426.6,14.3 L1426.6,12.1 L1431.8,12.1 L1431.8,12.1 L1436.9,12.1 L1436.9,13.2 L1442.0,13.2 L1442.0,13.2 L1447.1,13.2 L1447.1,25.6 L1452.2,25.6 L1452.2,33.5 L1457.4,33.5 L1457.4,33.5 L1462.5,33.5 L1462.5,32.3 L1467.6,32.3 L1467.6,19.5 L1472.7,19.5 L1472.7,19.5 L1477.8,19.5 L1477.8,28.9 L1482.9,28.9 L1482.9,21.1 L1488.1,21.1 L1488.1,8.2 L1493.2,8.2 L1493.2,6.9 L1498.3,6.9 L1498.3,4.7 L1503.4,4.7 L1503.4,9.8 L1508.5,9.8 L1508.5,26.2 L1513.7,26.2 L1513.7,27.1 L1518.8,27.1 L1518.8,14.3 L1524.2,14.3 L1524.2,213.5Z M1528.7,213.5 L1528.7,5.3 L1534.1,5.3 L1534.1,5.3 L1539.2,5.3 L1539.2,5.3 L1544.4,5.3 L1544.4,5.3 L1549.5,5.3 L1549.5,9.8 L1554.6,9.8 L1554.6,16.6 L1559.7,16.6 L1559.7,7.6 L1564.8,7.6 L1564.8,6.0 L1570.3,6.0 L1570.3,213.5Z M1574.7,213.5 L1574.7,6.0 L1580.2,6.0 L1580.2,9.1 L1585.7,9.1 L1585.7,213.5Z M1590.1,213.5 L1590.1,11.4 L1595.5,11.4 L1595.5,11.4 L1600.7,11.4 L1600.7,15.4 L1605.8,15.4 L1605.8,23.3 L1610.9,23.3 L1610.9,18.8 L1616.0,18.8 L1616.0,5.3 L1621.1,5.3 L1621.1,5.3 L1626.6,5.3 L1626.6,213.5Z M1631.0,213.5 L1631.0,12.1 L1636.5,12.1 L1636.5,8.7 L1641.6,8.7 L1641.6,6.9 L1646.7,6.9 L1646.7,8.2 L1651.8,8.2 L1651.8,9.8 L1657.0,9.8 L1657.0,14.3 L1662.1,14.3 L1662.1,15.9 L1667.2,15.9 L1667.2,6.0 L1672.3,6.0 L1672.3,6.0 L1677.8,6.0 L1677.8,213.5Z M1682.2,213.5 L1682.2,4.7 L1687.7,4.7 L1687.7,4.7 L1693.1,4.7 L1693.1,213.5Z" fill="#fac900"/>
<path d="M986.80,424.5V375.5H991.32V424.5M991.92,424.5V373.6H996.44V424.5M997.04,424.5V367.1H1001.55V424.5M1002.15,424.5V351.4H1006.67V424.5M1007.27,424.5V340.3H1011.79V424.5M1012.39,424.5V329.8H1016.91V424.5M1017.51,424.5V303.0H1022.03V424.5M1022.63,424.5V279.5H1027.14V424.5M1027.74,424.5V277.6H1032.26V424.5M1032.86,424.5V279.5H1037.38V424.5M1037.98,424.5V264.5H1042.50V424.5M1043.10,424.5V251.0H1047.62V424.5M1048.22,424.5V251.0H1052.73V424.5M1053.33,424.5V243.8H1057.85V424.5M1058.45,424.5V243.8H1062.97V424.5M1063.57,424.5V250.3H1068.09V424.5M1068.69,424.5V251.7H1073.21V424.5M1073.81,424.5V248.7H1078.32V424.5M1078.92,424.5V235.2H1083.44V424.5M1084.04,424.5V228.5H1088.56V424.5M1089.16,424.5V236.3H1093.68V424.5M1094.28,424.5V236.8H1098.80V424.5M1099.40,424.5V230.7H1103.91V424.5M1104.51,424.5V234.1H1109.03V424.5M1109.63,424.5V239.7H1114.15V424.5M1114.75,424.5V242.7H1119.27V424.5M1119.87,424.5V237.5H1124.39V424.5M1124.99,424.5V226.2H1129.50V424.5M1130.10,424.5V226.2H1134.62V424.5M1135.22,424.5V226.2H1139.74V424.5M1140.34,424.5V226.2H1144.86V424.5M1145.46,424.5V228.5H1149.98V424.5M1150.58,424.5V235.2H1155.09V424.5M1155.69,424.5V251.7H1160.21V424.5M1160.81,424.5V287.7H1165.33V424.5M1165.93,424.5V325.2H1170.45V424.5M1171.05,424.5V347.7H1175.57V424.5M1176.17,424.5V351.1H1180.68V424.5M1181.28,424.5V325.2H1185.80V424.5M1186.40,424.5V275.7H1190.92V424.5M1191.52,424.5V239.7H1196.04V424.5M1196.64,424.5V234.5H1201.16V424.5M1201.76,424.5V240.8H1206.27V424.5M1206.87,424.5V247.6H1211.39V424.5M1211.99,424.5V256.2H1216.51V424.5M1217.11,424.5V270.1H1221.63V424.5M1222.23,424.5V276.4H1226.75V424.5M1227.35,424.5V263.8H1231.86V424.5M1232.46,424.5V246.5H1236.98V424.5M1237.58,424.5V236.8H1242.10V424.5M1242.70,424.5V234.1H1247.22V424.5M1247.82,424.5V238.6H1252.34V424.5M1252.94,424.5V240.4H1257.45V424.5M1258.05,424.5V240.4H1262.57V424.5M1263.17,424.5V240.4H1267.69V424.5M1268.29,424.5V235.9H1272.81V424.5M1273.41,424.5V236.8H1277.93V424.5M1278.53,424.5V243.1H1283.04V424.5M1283.64,424.5V247.2H1288.16V424.5M1288.76,424.5V247.2H1293.28V424.5M1293.88,424.5V244.9H1298.40V424.5M1299.00,424.5V237.5H1303.52V424.5M1304.12,424.5V234.5H1308.63V424.5M1309.23,424.5V240.4H1313.75V424.5M1314.35,424.5V239.0H1318.87V424.5M1319.47,424.5V227.8H1323.99V424.5M1324.59,424.5V227.8H1329.11V424.5M1329.71,424.5V242.0H1334.22V424.5M1334.82,424.5V252.1H1339.34V424.5M1339.94,424.5V247.2H1344.46V424.5M1345.06,424.5V244.2H1349.58V424.5M1350.18,424.5V242.7H1354.70V424.5M1355.30,424.5V240.4H1359.81V424.5M1360.41,424.5V233.0H1364.93V424.5M1365.53,424.5V231.4H1370.05V424.5M1370.65,424.5V236.3H1375.17V424.5M1375.77,424.5V226.2H1380.29V424.5M1380.89,424.5V220.2H1385.40V424.5M1386.00,424.5V240.4H1390.52V424.5M1391.12,424.5V251.0H1395.64V424.5M1396.24,424.5V237.5H1400.76V424.5M1401.36,424.5V222.8H1405.88V424.5M1406.48,424.5V217.2H1410.99V424.5M1411.59,424.5V217.2H1416.11V424.5M1416.71,424.5V219.5H1421.23V424.5M1421.83,424.5V226.2H1426.35V424.5M1426.95,424.5V224.0H1431.47V424.5M1432.07,424.5V224.0H1436.58V424.5M1437.18,424.5V225.1H1441.70V424.5M1442.30,424.5V225.1H1446.82V424.5M1447.42,424.5V237.5H1451.94V424.5M1452.54,424.5V245.3H1457.06V424.5M1457.66,424.5V245.3H1462.17V424.5M1462.77,424.5V244.2H1467.29V424.5M1467.89,424.5V231.4H1472.41V424.5M1473.01,424.5V231.4H1477.53V424.5M1478.13,424.5V240.8H1482.65V424.5M1483.25,424.5V233.0H1487.76V424.5M1488.36,424.5V220.2H1492.88V424.5M1493.48,424.5V218.8H1498.00V424.5M1498.60,424.5V216.5H1503.12V424.5M1503.72,424.5V221.7H1508.24V424.5M1508.84,424.5V238.2H1513.35V424.5M1513.95,424.5V239.0H1518.47V424.5M1519.07,424.5V226.2H1523.59V424.5M1529.31,424.5V217.2H1533.83V424.5M1534.43,424.5V217.2H1538.94V424.5M1539.54,424.5V217.2H1544.06V424.5M1544.66,424.5V217.2H1549.18V424.5M1549.78,424.5V221.7H1554.30V424.5M1554.90,424.5V228.5H1559.42V424.5M1560.02,424.5V219.5H1564.53V424.5M1565.13,424.5V217.9H1569.65V424.5M1575.37,424.5V217.9H1579.89V424.5M1580.49,424.5V221.0H1585.01V424.5M1590.72,424.5V223.3H1595.24V424.5M1595.84,424.5V223.3H1600.36V424.5M1600.96,424.5V227.3H1605.48V424.5M1606.08,424.5V235.2H1610.60V424.5M1611.20,424.5V230.7H1615.71V424.5M1616.31,424.5V217.2H1620.83V424.5M1621.43,424.5V217.2H1625.95V424.5M1631.67,424.5V224.0H1636.19V424.5M1636.79,424.5V220.6H1641.30V424.5M1641.90,424.5V218.8H1646.42V424.5M1647.02,424.5V220.2H1651.54V424.5M1652.14,424.5V221.7H1656.66V424.5M1657.26,424.5V226.2H1661.78V424.5M1662.38,424.5V227.8H1666.89V424.5M1667.49,424.5V217.9H1672.01V424.5M1672.61,424.5V217.9H1677.13V424.5M1682.85,424.5V216.5H1687.37V424.5M1687.97,424.5V216.5H1692.48V424.5" fill="none" stroke="#fac900" stroke-width="1.25"/>
<path d="M986.1,424.5 L986.1,364.3 L991.6,364.3 L991.6,358.2 L996.7,358.2 L996.7,349.2 L1001.9,349.2 L1001.9,340.7 L1007.0,340.7 L1007.0,338.0 L1012.1,338.0 L1012.1,326.1 L1017.2,326.1 L1017.2,294.6 L1022.3,294.6 L1022.3,270.5 L1027.4,270.5 L1027.4,266.0 L1032.6,266.0 L1032.6,272.1 L1037.7,272.1 L1037.7,264.6 L1042.8,264.6 L1042.8,250.7 L1047.9,250.7 L1047.9,255.2 L1053.0,255.2 L1053.0,254.1 L1058.2,254.1 L1058.2,253.4 L1063.3,253.4 L1063.3,256.3 L1068.4,256.3 L1068.4,261.9 L1073.5,261.9 L1073.5,260.8 L1078.6,260.8 L1078.6,254.1 L1083.7,254.1 L1083.7,248.4 L1088.9,248.4 L1088.9,247.3 L1094.0,247.3 L1094.0,249.6 L1099.1,249.6 L1099.1,256.3 L1104.2,256.3 L1104.2,258.6 L1109.3,258.6 L1109.3,254.8 L1114.5,254.8 L1114.5,255.2 L1119.6,255.2 L1119.6,249.6 L1124.7,249.6 L1124.7,236.1 L1129.8,236.1 L1129.8,233.8 L1134.9,233.8 L1134.9,237.2 L1140.0,237.2 L1140.0,238.3 L1145.2,238.3 L1145.2,242.8 L1150.3,242.8 L1150.3,247.3 L1155.4,247.3 L1155.4,257.4 L1160.5,257.4 L1160.5,287.8 L1165.6,287.8 L1165.6,320.4 L1170.7,320.4 L1170.7,337.3 L1175.9,337.3 L1175.9,337.3 L1181.0,337.3 L1181.0,315.5 L1186.1,315.5 L1186.1,275.0 L1191.2,275.0 L1191.2,246.2 L1196.3,246.2 L1196.3,245.8 L1201.5,245.8 L1201.5,245.8 L1206.6,245.8 L1206.6,246.2 L1211.7,246.2 L1211.7,251.8 L1216.8,251.8 L1216.8,268.7 L1221.9,268.7 L1221.9,276.6 L1227.0,276.6 L1227.0,263.1 L1232.2,263.1 L1232.2,246.6 L1237.3,246.6 L1237.3,246.2 L1242.4,246.2 L1242.4,245.1 L1247.5,245.1 L1247.5,246.2 L1252.6,246.2 L1252.6,245.8 L1257.8,245.8 L1257.8,248.0 L1262.9,248.0 L1262.9,246.2 L1268.0,246.2 L1268.0,249.6 L1273.1,249.6 L1273.1,245.8 L1278.2,245.8 L1278.2,243.5 L1283.3,243.5 L1283.3,243.5 L1288.5,243.5 L1288.5,243.5 L1293.6,243.5 L1293.6,246.2 L1298.7,246.2 L1298.7,243.5 L1303.8,243.5 L1303.8,241.7 L1308.9,241.7 L1308.9,245.1 L1314.1,245.1 L1314.1,237.2 L1319.2,237.2 L1319.2,228.6 L1324.3,228.6 L1324.3,228.6 L1329.4,228.6 L1329.4,241.2 L1334.5,241.2 L1334.5,245.8 L1339.6,245.8 L1339.6,245.1 L1344.8,245.1 L1344.8,250.7 L1349.9,250.7 L1349.9,250.2 L1355.0,250.2 L1355.0,239.9 L1360.1,239.9 L1360.1,231.6 L1365.2,231.6 L1365.2,231.6 L1370.3,231.6 L1370.3,247.3 L1375.5,247.3 L1375.5,251.8 L1380.6,251.8 L1380.6,240.6 L1385.7,240.6 L1385.7,247.3 L1390.8,247.3 L1390.8,255.2 L1395.9,255.2 L1395.9,242.8 L1401.1,242.8 L1401.1,227.1 L1406.2,227.1 L1406.2,224.1 L1411.3,224.1 L1411.3,225.5 L1416.4,225.5 L1416.4,230.4 L1421.5,230.4 L1421.5,237.2 L1426.6,237.2 L1426.6,241.2 L1431.8,241.2 L1431.8,233.8 L1436.9,233.8 L1436.9,235.4 L1442.0,235.4 L1442.0,237.2 L1447.1,237.2 L1447.1,237.2 L1452.2,237.2 L1452.2,238.3 L1457.4,238.3 L1457.4,240.6 L1462.5,240.6 L1462.5,240.6 L1467.6,240.6 L1467.6,233.1 L1472.7,233.1 L1472.7,232.7 L1477.8,232.7 L1477.8,231.6 L1482.9,231.6 L1482.9,230.9 L1488.1,230.9 L1488.1,225.5 L1493.2,225.5 L1493.2,222.6 L1498.3,222.6 L1498.3,218.1 L1503.4,218.1 L1503.4,229.3 L1508.5,229.3 L1508.5,237.2 L1513.7,237.2 L1513.7,237.2 L1518.8,237.2 L1518.8,239.0 L1524.2,239.0 L1524.2,424.5Z M1528.7,424.5 L1528.7,219.2 L1534.1,219.2 L1534.1,224.8 L1539.2,224.8 L1539.2,215.8 L1544.4,215.8 L1544.4,215.8 L1549.5,215.8 L1549.5,224.8 L1554.6,224.8 L1554.6,234.5 L1559.7,234.5 L1559.7,230.4 L1564.8,230.4 L1564.8,225.5 L1570.3,225.5 L1570.3,424.5Z M1574.7,424.5 L1574.7,217.4 L1580.2,217.4 L1580.2,222.6 L1585.7,222.6 L1585.7,424.5Z M1590.1,424.5 L1590.1,233.1 L1595.5,233.1 L1595.5,233.8 L1600.7,233.8 L1600.7,234.5 L1605.8,234.5 L1605.8,235.4 L1610.9,235.4 L1610.9,230.9 L1616.0,230.9 L1616.0,228.2 L1621.1,228.2 L1621.1,226.4 L1626.6,226.4 L1626.6,424.5Z M1631.0,424.5 L1631.0,229.3 L1636.5,229.3 L1636.5,227.1 L1641.6,227.1 L1641.6,221.0 L1646.7,221.0 L1646.7,221.4 L1651.8,221.4 L1651.8,223.7 L1657.0,223.7 L1657.0,225.9 L1662.1,225.9 L1662.1,227.8 L1667.2,227.8 L1667.2,233.8 L1672.3,233.8 L1672.3,236.8 L1677.8,236.8 L1677.8,424.5Z M1682.2,424.5 L1682.2,227.8 L1687.7,227.8 L1687.7,227.8 L1693.1,227.8 L1693.1,424.5Z" fill="#e2b800"/>
<path d="M986.80,634.8V586.1H991.32V634.8M991.92,634.8V584.2H996.44V634.8M997.04,634.8V577.7H1001.55V634.8M1002.15,634.8V562.1H1006.67V634.8M1007.27,634.8V551.1H1011.79V634.8M1012.39,634.8V540.7H1016.91V634.8M1017.51,634.8V514.0H1022.03V634.8M1022.63,634.8V490.7H1027.14V634.8M1027.74,634.8V488.7H1032.26V634.8M1032.86,634.8V490.7H1037.38V634.8M1037.98,634.8V475.7H1042.50V634.8M1043.10,634.8V462.3H1047.62V634.8M1048.22,634.8V462.3H1052.73V634.8M1053.33,634.8V455.1H1057.85V634.8M1058.45,634.8V455.1H1062.97V634.8M1063.57,634.8V461.6H1068.09V634.8M1068.69,634.8V462.9H1073.21V634.8M1073.81,634.8V460.0H1078.32V634.8M1078.92,634.8V446.6H1083.44V634.8M1084.04,634.8V439.9H1088.56V634.8M1089.16,634.8V447.7H1093.68V634.8M1094.28,634.8V448.2H1098.80V634.8M1099.40,634.8V442.1H1103.91V634.8M1104.51,634.8V445.5H1109.03V634.8M1109.63,634.8V451.1H1114.15V634.8M1114.75,634.8V454.0H1119.27V634.8M1119.87,634.8V448.8H1124.39V634.8M1124.99,634.8V437.7H1129.50V634.8M1130.10,634.8V437.7H1134.62V634.8M1135.22,634.8V437.7H1139.74V634.8M1140.34,634.8V437.7H1144.86V634.8M1145.46,634.8V439.9H1149.98V634.8M1150.58,634.8V446.6H1155.09V634.8M1155.69,634.8V462.9H1160.21V634.8M1160.81,634.8V498.7H1165.33V634.8M1165.93,634.8V536.1H1170.45V634.8M1171.05,634.8V558.5H1175.57V634.8M1176.17,634.8V561.8H1180.68V634.8M1181.28,634.8V536.1H1185.80V634.8M1186.40,634.8V486.9H1190.92V634.8M1191.52,634.8V451.1H1196.04V634.8M1196.64,634.8V445.9H1201.16V634.8M1201.76,634.8V452.2H1206.27V634.8M1206.87,634.8V458.9H1211.39V634.8M1211.99,634.8V467.4H1216.51V634.8M1217.11,634.8V481.3H1221.63V634.8M1222.23,634.8V487.5H1226.75V634.8M1227.35,634.8V475.0H1231.86V634.8M1232.46,634.8V457.8H1236.98V634.8M1237.58,634.8V448.2H1242.10V634.8M1242.70,634.8V445.5H1247.22V634.8M1247.82,634.8V450.0H1252.34V634.8M1252.94,634.8V451.8H1257.45V634.8M1258.05,634.8V451.8H1262.57V634.8M1263.17,634.8V451.8H1267.69V634.8M1268.29,634.8V447.3H1272.81V634.8M1273.41,634.8V448.2H1277.93V634.8M1278.53,634.8V454.4H1283.04V634.8M1283.64,634.8V458.5H1288.16V634.8M1288.76,634.8V458.5H1293.28V634.8M1293.88,634.8V456.2H1298.40V634.8M1299.00,634.8V448.8H1303.52V634.8M1304.12,634.8V445.9H1308.63V634.8M1309.23,634.8V451.8H1313.75V634.8M1314.35,634.8V450.4H1318.87V634.8M1319.47,634.8V439.2H1323.99V634.8M1324.59,634.8V439.2H1329.11V634.8M1329.71,634.8V453.3H1334.22V634.8M1334.82,634.8V463.4H1339.34V634.8M1339.94,634.8V458.5H1344.46V634.8M1345.06,634.8V455.6H1349.58V634.8M1350.18,634.8V454.0H1354.70V634.8M1355.30,634.8V451.8H1359.81V634.8M1360.41,634.8V444.4H1364.93V634.8M1365.53,634.8V442.8H1370.05V634.8M1370.65,634.8V447.7H1375.17V634.8M1375.77,634.8V437.7H1380.29V634.8M1380.89,634.8V431.6H1385.40V634.8M1386.00,634.8V451.8H1390.52V634.8M1391.12,634.8V462.3H1395.64V634.8M1396.24,634.8V448.8H1400.76V634.8M1401.36,634.8V434.3H1405.88V634.8M1406.48,634.8V428.7H1410.99V634.8M1411.59,634.8V428.7H1416.11V634.8M1416.71,634.8V431.0H1421.23V634.8M1421.83,634.8V437.7H1426.35V634.8M1426.95,634.8V435.4H1431.47V634.8M1432.07,634.8V435.4H1436.58V634.8M1437.18,634.8V436.5H1441.70V634.8M1442.30,634.8V436.5H1446.82V634.8M1447.42,634.8V448.8H1451.94V634.8M1452.54,634.8V456.7H1457.06V634.8M1457.66,634.8V456.7H1462.17V634.8M1462.77,634.8V455.6H1467.29V634.8M1467.89,634.8V442.8H1472.41V634.8M1473.01,634.8V442.8H1477.53V634.8M1478.13,634.8V452.2H1482.65V634.8M1483.25,634.8V444.4H1487.76V634.8M1488.36,634.8V431.6H1492.88V634.8M1493.48,634.8V430.3H1498.00V634.8M1498.60,634.8V428.0H1503.12V634.8M1503.72,634.8V433.2H1508.24V634.8M1508.84,634.8V449.5H1513.35V634.8M1513.95,634.8V450.4H1518.47V634.8M1519.07,634.8V437.7H1523.59V634.8M1529.31,634.8V428.7H1533.83V634.8M1534.43,634.8V428.7H1538.94V634.8M1539.54,634.8V428.7H1544.06V634.8M1544.66,634.8V428.7H1549.18V634.8M1549.78,634.8V433.2H1554.30V634.8M1554.90,634.8V439.9H1559.42V634.8M1560.02,634.8V431.0H1564.53V634.8M1565.13,634.8V429.4H1569.65V634.8M1575.37,634.8V429.4H1579.89V634.8M1580.49,634.8V432.5H1585.01V634.8M1590.72,634.8V434.8H1595.24V634.8M1595.84,634.8V434.8H1600.36V634.8M1600.96,634.8V438.8H1605.48V634.8M1606.08,634.8V446.6H1610.60V634.8M1611.20,634.8V442.1H1615.71V634.8M1616.31,634.8V428.7H1620.83V634.8M1621.43,634.8V428.7H1625.95V634.8M1631.67,634.8V435.4H1636.19V634.8M1636.79,634.8V432.1H1641.30V634.8M1641.90,634.8V430.3H1646.42V634.8M1647.02,634.8V431.6H1651.54V634.8M1652.14,634.8V433.2H1656.66V634.8M1657.26,634.8V437.7H1661.78V634.8M1662.38,634.8V439.2H1666.89V634.8M1667.49,634.8V429.4H1672.01V634.8M1672.61,634.8V429.4H1677.13V634.8M1682.85,634.8V428.0H1687.37V634.8M1687.97,634.8V428.0H1692.48V634.8" fill="none" stroke="#fac900" stroke-width="1.25"/>
<path d="M986.1,634.8 L986.1,576.6 L991.6,576.6 L991.6,576.6 L996.7,576.6 L996.7,568.7 L1001.9,568.7 L1001.9,555.2 L1007.0,555.2 L1007.0,550.7 L1012.1,550.7 L1012.1,540.6 L1017.2,540.6 L1017.2,509.8 L1022.3,509.8 L1022.3,486.6 L1027.4,486.6 L1027.4,479.8 L1032.6,479.8 L1032.6,477.6 L1037.7,477.6 L1037.7,476.0 L1042.8,476.0 L1042.8,478.7 L1047.9,478.7 L1047.9,477.6 L1053.0,477.6 L1053.0,464.1 L1058.2,464.1 L1058.2,462.5 L1063.3,462.5 L1063.3,467.0 L1068.4,467.0 L1068.4,465.6 L1073.5,465.6 L1073.5,469.2 L1078.6,469.2 L1078.6,464.1 L1083.7,464.1 L1083.7,458.4 L1088.9,458.4 L1088.9,459.6 L1094.0,459.6 L1094.0,458.0 L1099.1,458.0 L1099.1,456.6 L1104.2,456.6 L1104.2,456.6 L1109.3,456.6 L1109.3,460.7 L1114.5,460.7 L1114.5,464.1 L1119.6,464.1 L1119.6,460.2 L1124.7,460.2 L1124.7,458.4 L1129.8,458.4 L1129.8,458.9 L1134.9,458.9 L1134.9,462.9 L1140.0,462.9 L1140.0,453.9 L1145.2,453.9 L1145.2,444.5 L1150.3,444.5 L1150.3,446.8 L1155.4,446.8 L1155.4,461.1 L1160.5,461.1 L1160.5,489.9 L1165.6,489.9 L1165.6,522.6 L1170.7,522.6 L1170.7,544.0 L1175.9,544.0 L1175.9,547.3 L1181.0,547.3 L1181.0,532.7 L1186.1,532.7 L1186.1,500.8 L1191.2,500.8 L1191.2,460.7 L1196.3,460.7 L1196.3,456.2 L1201.5,456.2 L1201.5,458.9 L1206.6,458.9 L1206.6,461.8 L1211.7,461.8 L1211.7,462.9 L1216.8,462.9 L1216.8,474.6 L1221.9,474.6 L1221.9,489.9 L1227.0,489.9 L1227.0,479.8 L1232.2,479.8 L1232.2,461.8 L1237.3,461.8 L1237.3,460.2 L1242.4,460.2 L1242.4,458.0 L1247.5,458.0 L1247.5,453.9 L1252.6,453.9 L1252.6,456.2 L1257.8,456.2 L1257.8,456.2 L1262.9,456.2 L1262.9,454.4 L1268.0,454.4 L1268.0,453.9 L1273.1,453.9 L1273.1,454.4 L1278.2,454.4 L1278.2,460.7 L1283.3,460.7 L1283.3,458.4 L1288.5,458.4 L1288.5,460.2 L1293.6,460.2 L1293.6,460.7 L1298.7,460.7 L1298.7,456.2 L1303.8,456.2 L1303.8,444.5 L1308.9,444.5 L1308.9,452.8 L1314.1,452.8 L1314.1,453.9 L1319.2,453.9 L1319.2,444.5 L1324.3,444.5 L1324.3,443.8 L1329.4,443.8 L1329.4,451.2 L1334.5,451.2 L1334.5,458.0 L1339.6,458.0 L1339.6,458.9 L1344.8,458.9 L1344.8,464.1 L1349.9,464.1 L1349.9,463.4 L1355.0,463.4 L1355.0,456.2 L1360.1,456.2 L1360.1,442.7 L1365.2,442.7 L1365.2,442.7 L1370.3,442.7 L1370.3,457.3 L1375.5,457.3 L1375.5,461.8 L1380.6,461.8 L1380.6,451.7 L1385.7,451.7 L1385.7,466.3 L1390.8,466.3 L1390.8,470.8 L1395.9,470.8 L1395.9,456.6 L1401.1,456.6 L1401.1,444.5 L1406.2,444.5 L1406.2,435.5 L1411.3,435.5 L1411.3,434.1 L1416.4,434.1 L1416.4,440.4 L1421.5,440.4 L1421.5,452.8 L1426.6,452.8 L1426.6,455.1 L1431.8,455.1 L1431.8,446.1 L1436.9,446.1 L1436.9,446.8 L1442.0,446.8 L1442.0,447.2 L1447.1,447.2 L1447.1,447.2 L1452.2,447.2 L1452.2,449.4 L1457.4,449.4 L1457.4,452.1 L1462.5,452.1 L1462.5,450.6 L1467.6,450.6 L1467.6,447.2 L1472.7,447.2 L1472.7,447.2 L1477.8,447.2 L1477.8,449.4 L1482.9,449.4 L1482.9,444.9 L1488.1,444.9 L1488.1,437.1 L1493.2,437.1 L1493.2,434.8 L1498.3,434.8 L1498.3,434.8 L1503.4,434.8 L1503.4,447.2 L1508.5,447.2 L1508.5,456.2 L1513.7,456.2 L1513.7,458.0 L1518.8,458.0 L1518.8,458.0 L1524.2,458.0 L1524.2,634.8Z M1528.7,634.8 L1528.7,428.8 L1534.1,428.8 L1534.1,436.4 L1539.2,436.4 L1539.2,432.6 L1544.4,432.6 L1544.4,433.2 L1549.5,433.2 L1549.5,447.2 L1554.6,447.2 L1554.6,452.8 L1559.7,452.8 L1559.7,446.8 L1564.8,446.8 L1564.8,442.2 L1570.3,442.2 L1570.3,634.8Z M1574.7,634.8 L1574.7,433.2 L1580.2,433.2 L1580.2,434.1 L1585.7,434.1 L1585.7,634.8Z M1590.1,634.8 L1590.1,439.3 L1595.5,439.3 L1595.5,446.1 L1600.7,446.1 L1600.7,452.8 L1605.8,452.8 L1605.8,451.2 L1610.9,451.2 L1610.9,449.9 L1616.0,449.9 L1616.0,446.8 L1621.1,446.8 L1621.1,444.5 L1626.6,444.5 L1626.6,634.8Z M1631.0,634.8 L1631.0,428.1 L1636.5,428.1 L1636.5,428.1 L1641.6,428.1 L1641.6,428.1 L1646.7,428.1 L1646.7,429.2 L1651.8,429.2 L1651.8,433.2 L1657.0,433.2 L1657.0,448.3 L1662.1,448.3 L1662.1,453.9 L1667.2,453.9 L1667.2,448.3 L1672.3,448.3 L1672.3,447.2 L1677.8,447.2 L1677.8,634.8Z M1682.2,634.8 L1682.2,440.0 L1687.7,440.0 L1687.7,440.0 L1693.1,440.0 L1693.1,634.8Z" fill="#d2aa00"/>
<path d="M986.80,845.0V796.3H991.32V845.0M991.92,845.0V794.3H996.44V845.0M997.04,845.0V787.8H1001.55V845.0M1002.15,845.0V772.2H1006.67V845.0M1007.27,845.0V761.2H1011.79V845.0M1012.39,845.0V750.8H1016.91V845.0M1017.51,845.0V724.1H1022.03V845.0M1022.63,845.0V700.7H1027.14V845.0M1027.74,845.0V698.8H1032.26V845.0M1032.86,845.0V700.7H1037.38V845.0M1037.98,845.0V685.8H1042.50V845.0M1043.10,845.0V672.3H1047.62V845.0M1048.22,845.0V672.3H1052.73V845.0M1053.33,845.0V665.1H1057.85V845.0M1058.45,845.0V665.1H1062.97V845.0M1063.57,845.0V671.6H1068.09V845.0M1068.69,845.0V673.0H1073.21V845.0M1073.81,845.0V670.1H1078.32V845.0M1078.92,845.0V656.6H1083.44V845.0M1084.04,845.0V649.9H1088.56V845.0M1089.16,845.0V657.7H1093.68V845.0M1094.28,845.0V658.2H1098.80V845.0M1099.40,845.0V652.2H1103.91V845.0M1104.51,845.0V655.5H1109.03V845.0M1109.63,845.0V661.1H1114.15V845.0M1114.75,845.0V664.0H1119.27V845.0M1119.87,845.0V658.9H1124.39V845.0M1124.99,845.0V647.7H1129.50V845.0M1130.10,845.0V647.7H1134.62V845.0M1135.22,845.0V647.7H1139.74V845.0M1140.34,845.0V647.7H1144.86V845.0M1145.46,845.0V649.9H1149.98V845.0M1150.58,845.0V656.6H1155.09V845.0M1155.69,845.0V673.0H1160.21V845.0M1160.81,845.0V708.8H1165.33V845.0M1165.93,845.0V746.2H1170.45V845.0M1171.05,845.0V768.6H1175.57V845.0M1176.17,845.0V772.0H1180.68V845.0M1181.28,845.0V746.2H1185.80V845.0M1186.40,845.0V696.9H1190.92V845.0M1191.52,845.0V661.1H1196.04V845.0M1196.64,845.0V656.0H1201.16V845.0M1201.76,845.0V662.2H1206.27V845.0M1206.87,845.0V668.9H1211.39V845.0M1211.99,845.0V677.5H1216.51V845.0M1217.11,845.0V691.3H1221.63V845.0M1222.23,845.0V697.6H1226.75V845.0M1227.35,845.0V685.1H1231.86V845.0M1232.46,845.0V667.8H1236.98V845.0M1237.58,845.0V658.2H1242.10V845.0M1242.70,845.0V655.5H1247.22V845.0M1247.82,845.0V660.0H1252.34V845.0M1252.94,845.0V661.8H1257.45V845.0M1258.05,845.0V661.8H1262.57V845.0M1263.17,845.0V661.8H1267.69V845.0M1268.29,845.0V657.3H1272.81V845.0M1273.41,845.0V658.2H1277.93V845.0M1278.53,845.0V664.5H1283.04V845.0M1283.64,845.0V668.5H1288.16V845.0M1288.76,845.0V668.5H1293.28V845.0M1293.88,845.0V666.3H1298.40V845.0M1299.00,845.0V658.9H1303.52V845.0M1304.12,845.0V656.0H1308.63V845.0M1309.23,845.0V661.8H1313.75V845.0M1314.35,845.0V660.4H1318.87V845.0M1319.47,845.0V649.2H1323.99V845.0M1324.59,845.0V649.2H1329.11V845.0M1329.71,845.0V663.3H1334.22V845.0M1334.82,845.0V673.4H1339.34V845.0M1339.94,845.0V668.5H1344.46V845.0M1345.06,845.0V665.6H1349.58V845.0M1350.18,845.0V664.0H1354.70V845.0M1355.30,845.0V661.8H1359.81V845.0M1360.41,845.0V654.4H1364.93V845.0M1365.53,845.0V652.8H1370.05V845.0M1370.65,845.0V657.7H1375.17V845.0M1375.77,845.0V647.7H1380.29V845.0M1380.89,845.0V641.6H1385.40V845.0M1386.00,845.0V661.8H1390.52V845.0M1391.12,845.0V672.3H1395.64V845.0M1396.24,845.0V658.9H1400.76V845.0M1401.36,845.0V644.3H1405.88V845.0M1406.48,845.0V638.7H1410.99V845.0M1411.59,845.0V638.7H1416.11V845.0M1416.71,845.0V641.0H1421.23V845.0M1421.83,845.0V647.7H1426.35V845.0M1426.95,845.0V645.4H1431.47V845.0M1432.07,845.0V645.4H1436.58V845.0M1437.18,845.0V646.6H1441.70V845.0M1442.30,845.0V646.6H1446.82V845.0M1447.42,845.0V658.9H1451.94V845.0M1452.54,845.0V666.7H1457.06V845.0M1457.66,845.0V666.7H1462.17V845.0M1462.77,845.0V665.6H1467.29V845.0M1467.89,845.0V652.8H1472.41V845.0M1473.01,845.0V652.8H1477.53V845.0M1478.13,845.0V662.2H1482.65V845.0M1483.25,845.0V654.4H1487.76V845.0M1488.36,845.0V641.6H1492.88V845.0M1493.48,845.0V640.3H1498.00V845.0M1498.60,845.0V638.0H1503.12V845.0M1503.72,845.0V643.2H1508.24V845.0M1508.84,845.0V659.5H1513.35V845.0M1513.95,845.0V660.4H1518.47V845.0M1519.07,845.0V647.7H1523.59V845.0M1529.31,845.0V638.7H1533.83V845.0M1534.43,845.0V638.7H1538.94V845.0M1539.54,845.0V638.7H1544.06V845.0M1544.66,845.0V638.7H1549.18V845.0M1549.78,845.0V643.2H1554.30V845.0M1554.90,845.0V649.9H1559.42V845.0M1560.02,845.0V641.0H1564.53V845.0M1565.13,845.0V639.4H1569.65V845.0M1575.37,845.0V639.4H1579.89V845.0M1580.49,845.0V642.5H1585.01V845.0M1590.72,845.0V644.8H1595.24V845.0M1595.84,845.0V644.8H1600.36V845.0M1600.96,845.0V648.8H1605.48V845.0M1606.08,845.0V656.6H1610.60V845.0M1611.20,845.0V652.2H1615.71V845.0M1616.31,845.0V638.7H1620.83V845.0M1621.43,845.0V638.7H1625.95V845.0M1631.67,845.0V645.4H1636.19V845.0M1636.79,845.0V642.1H1641.30V845.0M1641.90,845.0V640.3H1646.42V845.0M1647.02,845.0V641.6H1651.54V845.0M1652.14,845.0V643.2H1656.66V845.0M1657.26,845.0V647.7H1661.78V845.0M1662.38,845.0V649.2H1666.89V845.0M1667.49,845.0V639.4H1672.01V845.0M1672.61,845.0V639.4H1677.13V845.0M1682.85,845.0V638.0H1687.37V845.0M1687.97,845.0V638.0H1692.48V845.0" fill="none" stroke="#fac900" stroke-width="1.25"/>
<path d="M986.1,845.0 L986.1,770.8 L991.6,770.8 L991.6,770.8 L996.7,770.8 L996.7,763.0 L1001.9,763.0 L1001.9,755.1 L1007.0,755.1 L1007.0,759.6 L1012.1,759.6 L1012.1,752.2 L1017.2,752.2 L1017.2,724.2 L1022.3,724.2 L1022.3,703.3 L1027.4,703.3 L1027.4,695.5 L1032.6,695.5 L1032.6,688.7 L1037.7,688.7 L1037.7,680.8 L1042.8,680.8 L1042.8,680.8 L1047.9,680.8 L1047.9,683.1 L1053.0,683.1 L1053.0,676.3 L1058.2,676.3 L1058.2,675.7 L1063.3,675.7 L1063.3,685.3 L1068.4,685.3 L1068.4,689.8 L1073.5,689.8 L1073.5,684.2 L1078.6,684.2 L1078.6,679.2 L1083.7,679.2 L1083.7,679.7 L1088.9,679.7 L1088.9,667.3 L1094.0,667.3 L1094.0,667.3 L1099.1,667.3 L1099.1,673.0 L1104.2,673.0 L1104.2,673.0 L1109.3,673.0 L1109.3,675.2 L1114.5,675.2 L1114.5,682.0 L1119.6,682.0 L1119.6,683.8 L1124.7,683.8 L1124.7,673.0 L1129.8,673.0 L1129.8,671.8 L1134.9,671.8 L1134.9,682.4 L1140.0,682.4 L1140.0,676.3 L1145.2,676.3 L1145.2,663.5 L1150.3,663.5 L1150.3,659.0 L1155.4,659.0 L1155.4,662.8 L1160.5,662.8 L1160.5,687.6 L1165.6,687.6 L1165.6,720.2 L1170.7,720.2 L1170.7,740.9 L1175.9,740.9 L1175.9,743.2 L1181.0,743.2 L1181.0,735.5 L1186.1,735.5 L1186.1,706.2 L1191.2,706.2 L1191.2,673.0 L1196.3,673.0 L1196.3,665.1 L1201.5,665.1 L1201.5,664.0 L1206.6,664.0 L1206.6,666.2 L1211.7,666.2 L1211.7,671.8 L1216.8,671.8 L1216.8,680.8 L1221.9,680.8 L1221.9,693.7 L1227.0,693.7 L1227.0,686.5 L1232.2,686.5 L1232.2,670.7 L1237.3,670.7 L1237.3,665.1 L1242.4,665.1 L1242.4,668.0 L1247.5,668.0 L1247.5,674.1 L1252.6,674.1 L1252.6,674.1 L1257.8,674.1 L1257.8,674.1 L1262.9,674.1 L1262.9,672.5 L1268.0,672.5 L1268.0,666.2 L1273.1,666.2 L1273.1,668.0 L1278.2,668.0 L1278.2,667.3 L1283.3,667.3 L1283.3,659.9 L1288.5,659.9 L1288.5,665.8 L1293.6,665.8 L1293.6,674.8 L1298.7,674.8 L1298.7,668.0 L1303.8,668.0 L1303.8,666.2 L1308.9,666.2 L1308.9,668.5 L1314.1,668.5 L1314.1,662.8 L1319.2,662.8 L1319.2,656.1 L1324.3,656.1 L1324.3,657.2 L1329.4,657.2 L1329.4,661.2 L1334.5,661.2 L1334.5,662.2 L1339.6,662.2 L1339.6,661.2 L1344.8,661.2 L1344.8,662.2 L1349.9,662.2 L1349.9,666.7 L1355.0,666.7 L1355.0,664.0 L1360.1,664.0 L1360.1,655.4 L1365.2,655.4 L1365.2,648.7 L1370.3,648.7 L1370.3,660.6 L1375.5,660.6 L1375.5,665.1 L1380.6,665.1 L1380.6,657.7 L1385.7,657.7 L1385.7,664.0 L1390.8,664.0 L1390.8,668.5 L1395.9,668.5 L1395.9,662.8 L1401.1,662.8 L1401.1,655.4 L1406.2,655.4 L1406.2,650.0 L1411.3,650.0 L1411.3,650.5 L1416.4,650.5 L1416.4,659.5 L1421.5,659.5 L1421.5,670.7 L1426.6,670.7 L1426.6,669.6 L1431.8,669.6 L1431.8,662.8 L1436.9,662.8 L1436.9,662.8 L1442.0,662.8 L1442.0,662.8 L1447.1,662.8 L1447.1,657.2 L1452.2,657.2 L1452.2,664.0 L1457.4,664.0 L1457.4,665.8 L1462.5,665.8 L1462.5,662.8 L1467.6,662.8 L1467.6,661.2 L1472.7,661.2 L1472.7,662.8 L1477.8,662.8 L1477.8,664.0 L1482.9,664.0 L1482.9,659.5 L1488.1,659.5 L1488.1,652.7 L1493.2,652.7 L1493.2,650.9 L1498.3,650.9 L1498.3,648.7 L1503.4,648.7 L1503.4,652.7 L1508.5,652.7 L1508.5,656.8 L1513.7,656.8 L1513.7,655.4 L1518.8,655.4 L1518.8,652.2 L1524.2,652.2 L1524.2,845.0Z M1528.7,845.0 L1528.7,639.2 L1534.1,639.2 L1534.1,643.2 L1539.2,643.2 L1539.2,639.2 L1544.4,639.2 L1544.4,639.2 L1549.5,639.2 L1549.5,649.3 L1554.6,649.3 L1554.6,658.3 L1559.7,658.3 L1559.7,654.5 L1564.8,654.5 L1564.8,647.8 L1570.3,647.8 L1570.3,845.0Z M1574.7,845.0 L1574.7,639.2 L1580.2,639.2 L1580.2,639.2 L1585.7,639.2 L1585.7,845.0Z M1590.1,845.0 L1590.1,638.8 L1595.5,638.8 L1595.5,647.8 L1600.7,647.8 L1600.7,653.2 L1605.8,653.2 L1605.8,652.2 L1610.9,652.2 L1610.9,647.8 L1616.0,647.8 L1616.0,644.8 L1621.1,644.8 L1621.1,650.5 L1626.6,650.5 L1626.6,845.0Z M1631.0,845.0 L1631.0,642.6 L1636.5,642.6 L1636.5,641.5 L1641.6,641.5 L1641.6,641.0 L1646.7,641.0 L1646.7,641.9 L1651.8,641.9 L1651.8,647.8 L1657.0,647.8 L1657.0,656.1 L1662.1,656.1 L1662.1,653.8 L1667.2,653.8 L1667.2,652.7 L1672.3,652.7 L1672.3,658.3 L1677.8,658.3 L1677.8,845.0Z M1682.2,845.0 L1682.2,652.2 L1687.7,652.2 L1687.7,652.2 L1693.1,652.2 L1693.1,845.0Z" fill="#b89700"/>
<path d="M986.80,1054.0V1005.5H991.32V1054.0M991.92,1054.0V1003.6H996.44V1054.0M997.04,1054.0V997.1H1001.55V1054.0M1002.15,1054.0V981.6H1006.67V1054.0M1007.27,1054.0V970.6H1011.79V1054.0M1012.39,1054.0V960.2H1016.91V1054.0M1017.51,1054.0V933.7H1022.03V1054.0M1022.63,1054.0V910.4H1027.14V1054.0M1027.74,1054.0V908.5H1032.26V1054.0M1032.86,1054.0V910.4H1037.38V1054.0M1037.98,1054.0V895.5H1042.50V1054.0M1043.10,1054.0V882.1H1047.62V1054.0M1048.22,1054.0V882.1H1052.73V1054.0M1053.33,1054.0V875.0H1057.85V1054.0M1058.45,1054.0V875.0H1062.97V1054.0M1063.57,1054.0V881.5H1068.09V1054.0M1068.69,1054.0V882.8H1073.21V1054.0M1073.81,1054.0V879.9H1078.32V1054.0M1078.92,1054.0V866.5H1083.44V1054.0M1084.04,1054.0V859.8H1088.56V1054.0M1089.16,1054.0V867.6H1093.68V1054.0M1094.28,1054.0V868.1H1098.80V1054.0M1099.40,1054.0V862.1H1103.91V1054.0M1104.51,1054.0V865.4H1109.03V1054.0M1109.63,1054.0V871.0H1114.15V1054.0M1114.75,1054.0V873.9H1119.27V1054.0M1119.87,1054.0V868.8H1124.39V1054.0M1124.99,1054.0V857.6H1129.50V1054.0M1130.10,1054.0V857.6H1134.62V1054.0M1135.22,1054.0V857.6H1139.74V1054.0M1140.34,1054.0V857.6H1144.86V1054.0M1145.46,1054.0V859.8H1149.98V1054.0M1150.58,1054.0V866.5H1155.09V1054.0M1155.69,1054.0V882.8H1160.21V1054.0M1160.81,1054.0V918.5H1165.33V1054.0M1165.93,1054.0V955.7H1170.45V1054.0M1171.05,1054.0V978.0H1175.57V1054.0M1176.17,1054.0V981.3H1180.68V1054.0M1181.28,1054.0V955.7H1185.80V1054.0M1186.40,1054.0V906.6H1190.92V1054.0M1191.52,1054.0V871.0H1196.04V1054.0M1196.64,1054.0V865.9H1201.16V1054.0M1201.76,1054.0V872.1H1206.27V1054.0M1206.87,1054.0V878.8H1211.39V1054.0M1211.99,1054.0V887.3H1216.51V1054.0M1217.11,1054.0V901.1H1221.63V1054.0M1222.23,1054.0V907.3H1226.75V1054.0M1227.35,1054.0V894.8H1231.86V1054.0M1232.46,1054.0V877.7H1236.98V1054.0M1237.58,1054.0V868.1H1242.10V1054.0M1242.70,1054.0V865.4H1247.22V1054.0M1247.82,1054.0V869.9H1252.34V1054.0M1252.94,1054.0V871.7H1257.45V1054.0M1258.05,1054.0V871.7H1262.57V1054.0M1263.17,1054.0V871.7H1267.69V1054.0M1268.29,1054.0V867.2H1272.81V1054.0M1273.41,1054.0V868.1H1277.93V1054.0M1278.53,1054.0V874.3H1283.04V1054.0M1283.64,1054.0V878.3H1288.16V1054.0M1288.76,1054.0V878.3H1293.28V1054.0M1293.88,1054.0V876.1H1298.40V1054.0M1299.00,1054.0V868.8H1303.52V1054.0M1304.12,1054.0V865.9H1308.63V1054.0M1309.23,1054.0V871.7H1313.75V1054.0M1314.35,1054.0V870.3H1318.87V1054.0M1319.47,1054.0V859.2H1323.99V1054.0M1324.59,1054.0V859.2H1329.11V1054.0M1329.71,1054.0V873.2H1334.22V1054.0M1334.82,1054.0V883.2H1339.34V1054.0M1339.94,1054.0V878.3H1344.46V1054.0M1345.06,1054.0V875.4H1349.58V1054.0M1350.18,1054.0V873.9H1354.70V1054.0M1355.30,1054.0V871.7H1359.81V1054.0M1360.41,1054.0V864.3H1364.93V1054.0M1365.53,1054.0V862.7H1370.05V1054.0M1370.65,1054.0V867.6H1375.17V1054.0M1375.77,1054.0V857.6H1380.29V1054.0M1380.89,1054.0V851.6H1385.40V1054.0M1386.00,1054.0V871.7H1390.52V1054.0M1391.12,1054.0V882.1H1395.64V1054.0M1396.24,1054.0V868.8H1400.76V1054.0M1401.36,1054.0V854.3H1405.88V1054.0M1406.48,1054.0V848.7H1410.99V1054.0M1411.59,1054.0V848.7H1416.11V1054.0M1416.71,1054.0V850.9H1421.23V1054.0M1421.83,1054.0V857.6H1426.35V1054.0M1426.95,1054.0V855.4H1431.47V1054.0M1432.07,1054.0V855.4H1436.58V1054.0M1437.18,1054.0V856.5H1441.70V1054.0M1442.30,1054.0V856.5H1446.82V1054.0M1447.42,1054.0V868.8H1451.94V1054.0M1452.54,1054.0V876.6H1457.06V1054.0M1457.66,1054.0V876.6H1462.17V1054.0M1462.77,1054.0V875.4H1467.29V1054.0M1467.89,1054.0V862.7H1472.41V1054.0M1473.01,1054.0V862.7H1477.53V1054.0M1478.13,1054.0V872.1H1482.65V1054.0M1483.25,1054.0V864.3H1487.76V1054.0M1488.36,1054.0V851.6H1492.88V1054.0M1493.48,1054.0V850.3H1498.00V1054.0M1498.60,1054.0V848.0H1503.12V1054.0M1503.72,1054.0V853.2H1508.24V1054.0M1508.84,1054.0V869.4H1513.35V1054.0M1513.95,1054.0V870.3H1518.47V1054.0M1519.07,1054.0V857.6H1523.59V1054.0M1529.31,1054.0V848.7H1533.83V1054.0M1534.43,1054.0V848.7H1538.94V1054.0M1539.54,1054.0V848.7H1544.06V1054.0M1544.66,1054.0V848.7H1549.18V1054.0M1549.78,1054.0V853.2H1554.30V1054.0M1554.90,1054.0V859.8H1559.42V1054.0M1560.02,1054.0V850.9H1564.53V1054.0M1565.13,1054.0V849.4H1569.65V1054.0M1575.37,1054.0V849.4H1579.89V1054.0M1580.49,1054.0V852.5H1585.01V1054.0M1590.72,1054.0V854.7H1595.24V1054.0M1595.84,1054.0V854.7H1600.36V1054.0M1600.96,1054.0V858.7H1605.48V1054.0M1606.08,1054.0V866.5H1610.60V1054.0M1611.20,1054.0V862.1H1615.71V1054.0M1616.31,1054.0V848.7H1620.83V1054.0M1621.43,1054.0V848.7H1625.95V1054.0M1631.67,1054.0V855.4H1636.19V1054.0M1636.79,1054.0V852.0H1641.30V1054.0M1641.90,1054.0V850.3H1646.42V1054.0M1647.02,1054.0V851.6H1651.54V1054.0M1652.14,1054.0V853.2H1656.66V1054.0M1657.26,1054.0V857.6H1661.78V1054.0M1662.38,1054.0V859.2H1666.89V1054.0M1667.49,1054.0V849.4H1672.01V1054.0M1672.61,1054.0V849.4H1677.13V1054.0M1682.85,1054.0V848.0H1687.37V1054.0M1687.97,1054.0V848.0H1692.48V1054.0" fill="none" stroke="#fac900" stroke-width="1.25"/>
<path d="M986.1,1054.0 L986.1,979.2 L991.6,979.2 L991.6,978.6 L996.7,978.6 L996.7,977.0 L1001.9,977.0 L1001.9,975.7 L1007.0,975.7 L1007.0,976.3 L1012.1,976.3 L1012.1,962.8 L1017.2,962.8 L1017.2,943.2 L1022.3,943.2 L1022.3,940.3 L1027.4,940.3 L1027.4,934.7 L1032.6,934.7 L1032.6,921.2 L1037.7,921.2 L1037.7,902.8 L1042.8,902.8 L1042.8,895.3 L1047.9,895.3 L1047.9,894.2 L1053.0,894.2 L1053.0,888.6 L1058.2,888.6 L1058.2,888.6 L1063.3,888.6 L1063.3,896.9 L1068.4,896.9 L1068.4,899.2 L1073.5,899.2 L1073.5,892.4 L1078.6,892.4 L1078.6,886.3 L1083.7,886.3 L1083.7,884.8 L1088.9,884.8 L1088.9,882.5 L1094.0,882.5 L1094.0,874.0 L1099.1,874.0 L1099.1,874.0 L1104.2,874.0 L1104.2,882.5 L1109.3,882.5 L1109.3,889.7 L1114.5,889.7 L1114.5,896.0 L1119.6,896.0 L1119.6,893.8 L1124.7,893.8 L1124.7,884.1 L1129.8,884.1 L1129.8,886.3 L1134.9,886.3 L1134.9,893.8 L1140.0,893.8 L1140.0,890.8 L1145.2,890.8 L1145.2,889.7 L1150.3,889.7 L1150.3,879.6 L1155.4,879.6 L1155.4,874.0 L1160.5,874.0 L1160.5,881.8 L1165.6,881.8 L1165.6,915.6 L1170.7,915.6 L1170.7,941.9 L1175.9,941.9 L1175.9,943.7 L1181.0,943.7 L1181.0,941.9 L1186.1,941.9 L1186.1,923.5 L1191.2,923.5 L1191.2,892.0 L1196.3,892.0 L1196.3,883.0 L1201.5,883.0 L1201.5,880.7 L1206.6,880.7 L1206.6,877.3 L1211.7,877.3 L1211.7,875.8 L1216.8,875.8 L1216.8,880.7 L1221.9,880.7 L1221.9,890.2 L1227.0,890.2 L1227.0,887.0 L1232.2,887.0 L1232.2,879.6 L1237.3,879.6 L1237.3,880.2 L1242.4,880.2 L1242.4,884.1 L1247.5,884.1 L1247.5,884.8 L1252.6,884.8 L1252.6,885.2 L1257.8,885.2 L1257.8,887.0 L1262.9,887.0 L1262.9,884.1 L1268.0,884.1 L1268.0,879.6 L1273.1,879.6 L1273.1,878.9 L1278.2,878.9 L1278.2,880.7 L1283.3,880.7 L1283.3,885.2 L1288.5,885.2 L1288.5,885.7 L1293.6,885.7 L1293.6,883.4 L1298.7,883.4 L1298.7,884.8 L1303.8,884.8 L1303.8,884.8 L1308.9,884.8 L1308.9,883.4 L1314.1,883.4 L1314.1,880.7 L1319.2,880.7 L1319.2,878.5 L1324.3,878.5 L1324.3,877.3 L1329.4,877.3 L1329.4,874.0 L1334.5,874.0 L1334.5,873.5 L1339.6,873.5 L1339.6,868.3 L1344.8,868.3 L1344.8,864.5 L1349.9,864.5 L1349.9,871.2 L1355.0,871.2 L1355.0,874.0 L1360.1,874.0 L1360.1,869.9 L1365.2,869.9 L1365.2,865.0 L1370.3,865.0 L1370.3,867.7 L1375.5,867.7 L1375.5,876.7 L1380.6,876.7 L1380.6,871.2 L1385.7,871.2 L1385.7,872.2 L1390.8,872.2 L1390.8,879.6 L1395.9,879.6 L1395.9,871.2 L1401.1,871.2 L1401.1,871.2 L1406.2,871.2 L1406.2,872.2 L1411.3,872.2 L1411.3,868.3 L1416.4,868.3 L1416.4,867.2 L1421.5,867.2 L1421.5,872.8 L1426.6,872.8 L1426.6,875.1 L1431.8,875.1 L1431.8,876.2 L1436.9,876.2 L1436.9,881.2 L1442.0,881.2 L1442.0,881.2 L1447.1,881.2 L1447.1,879.6 L1452.2,879.6 L1452.2,881.2 L1457.4,881.2 L1457.4,883.4 L1462.5,883.4 L1462.5,881.2 L1467.6,881.2 L1467.6,878.5 L1472.7,878.5 L1472.7,879.6 L1477.8,879.6 L1477.8,885.2 L1482.9,885.2 L1482.9,881.8 L1488.1,881.8 L1488.1,872.2 L1493.2,872.2 L1493.2,872.8 L1498.3,872.8 L1498.3,872.8 L1503.4,872.8 L1503.4,872.8 L1508.5,872.8 L1508.5,871.7 L1513.7,871.7 L1513.7,867.2 L1518.8,867.2 L1518.8,862.7 L1524.2,862.7 L1524.2,1054.0Z M1528.7,1054.0 L1528.7,852.6 L1534.1,852.6 L1534.1,854.2 L1539.2,854.2 L1539.2,854.2 L1544.4,854.2 L1544.4,857.8 L1549.5,857.8 L1549.5,868.3 L1554.6,868.3 L1554.6,858.7 L1559.7,858.7 L1559.7,855.5 L1564.8,855.5 L1564.8,862.2 L1570.3,862.2 L1570.3,1054.0Z M1574.7,1054.0 L1574.7,863.2 L1580.2,863.2 L1580.2,848.8 L1585.7,848.8 L1585.7,1054.0Z M1590.1,1054.0 L1590.1,848.1 L1595.5,848.1 L1595.5,850.3 L1600.7,850.3 L1600.7,857.8 L1605.8,857.8 L1605.8,861.6 L1610.9,861.6 L1610.9,862.7 L1616.0,862.7 L1616.0,866.1 L1621.1,866.1 L1621.1,860.9 L1626.6,860.9 L1626.6,1054.0Z M1631.0,1054.0 L1631.0,852.6 L1636.5,852.6 L1636.5,855.5 L1641.6,855.5 L1641.6,858.7 L1646.7,858.7 L1646.7,851.9 L1651.8,851.9 L1651.8,849.2 L1657.0,849.2 L1657.0,860.5 L1662.1,860.5 L1662.1,865.0 L1667.2,865.0 L1667.2,864.5 L1672.3,864.5 L1672.3,866.1 L1677.8,866.1 L1677.8,1054.0Z M1682.2,1054.0 L1682.2,861.6 L1687.7,861.6 L1687.7,861.6 L1693.1,861.6 L1693.1,1054.0Z" fill="#9a7d00"/>
<line x1="106.7" y1="1.6" x2="831.3" y2="1.6" stroke="#000" stroke-width="3.6"/>
<line x1="115.5" y1="214.0" x2="831.3" y2="214.0" stroke="#000" stroke-width="3.6"/>
<line x1="106.7" y1="423.3" x2="831.3" y2="423.3" stroke="#000" stroke-width="3.6"/>
<line x1="106.7" y1="448.4" x2="831.3" y2="448.4" stroke="#000" stroke-width="3.6"/>
<line x1="115.5" y1="658.3" x2="831.3" y2="658.3" stroke="#000" stroke-width="3.6"/>
<line x1="115.5" y1="867.6" x2="831.3" y2="867.6" stroke="#000" stroke-width="3.6"/>
<line x1="106.7" y1="1077.4" x2="831.3" y2="1077.4" stroke="#000" stroke-width="3.6"/>
<line x1="968.6" y1="3.2" x2="1693.0" y2="3.2" stroke="#000" stroke-width="3.6"/>
<line x1="977.4" y1="213.5" x2="1693.0" y2="213.5" stroke="#000" stroke-width="3.6"/>
<line x1="977.4" y1="425.0" x2="1693.0" y2="425.0" stroke="#000" stroke-width="3.6"/>
<line x1="977.4" y1="635.0" x2="1693.0" y2="635.0" stroke="#000" stroke-width="3.6"/>
<line x1="977.4" y1="845.2" x2="1693.0" y2="845.2" stroke="#000" stroke-width="3.6"/>
<line x1="968.6" y1="1053.8" x2="1693.0" y2="1053.8" stroke="#000" stroke-width="3.6"/>
<line x1="115.5" y1="-0.2" x2="115.5" y2="425.1" stroke="#000" stroke-width="3.6"/>
<line x1="829.8" y1="-0.2" x2="829.8" y2="425.1" stroke="#000" stroke-width="3.6"/>
<line x1="115.5" y1="446.6" x2="115.5" y2="1079.2" stroke="#000" stroke-width="3.6"/>
<line x1="829.8" y1="446.6" x2="829.8" y2="1079.2" stroke="#000" stroke-width="3.6"/>
<line x1="977.4" y1="1.4" x2="977.4" y2="1055.6" stroke="#000" stroke-width="3.6"/>
<line x1="1691.5" y1="1.4" x2="1691.5" y2="1055.6" stroke="#000" stroke-width="3.6"/>
<line x1="106.7" y1="171.3" x2="115.5" y2="171.3" stroke="#000" stroke-width="2.8"/>
<line x1="106.7" y1="129.1" x2="115.5" y2="129.1" stroke="#000" stroke-width="2.8"/>
<line x1="106.7" y1="86.9" x2="115.5" y2="86.9" stroke="#000" stroke-width="2.8"/>
<line x1="106.7" y1="44.7" x2="115.5" y2="44.7" stroke="#000" stroke-width="2.8"/>
<text x="100.8" y="50.5" text-anchor="end" style="font-family:'Liberation Sans',Arial,sans-serif;font-size:22.5px">0.8</text>
<text x="100.8" y="134.9" text-anchor="end" style="font-family:'Liberation Sans',Arial,sans-serif;font-size:22.5px">0.4</text>
<line x1="106.7" y1="381.7" x2="115.5" y2="381.7" stroke="#000" stroke-width="2.8"/>
<line x1="106.7" y1="340.1" x2="115.5" y2="340.1" stroke="#000" stroke-width="2.8"/>
<line x1="106.7" y1="298.6" x2="115.5" y2="298.6" stroke="#000" stroke-width="2.8"/>
<line x1="106.7" y1="257.0" x2="115.5" y2="257.0" stroke="#000" stroke-width="2.8"/>
<text x="100.8" y="262.8" text-anchor="end" style="font-family:'Liberation Sans',Arial,sans-serif;font-size:22.5px">0.8</text>
<text x="100.8" y="345.9" text-anchor="end" style="font-family:'Liberation Sans',Arial,sans-serif;font-size:22.5px">0.4</text>
<text x="100.8" y="431.2" text-anchor="end" style="font-family:'Liberation Sans',Arial,sans-serif;font-size:22.5px">0.0</text>
<line x1="106.7" y1="616.2" x2="115.5" y2="616.2" stroke="#000" stroke-width="2.8"/>
<line x1="106.7" y1="574.4" x2="115.5" y2="574.4" stroke="#000" stroke-width="2.8"/>
<line x1="106.7" y1="532.6" x2="115.5" y2="532.6" stroke="#000" stroke-width="2.8"/>
<line x1="106.7" y1="490.8" x2="115.5" y2="490.8" stroke="#000" stroke-width="2.8"/>
<text x="100.8" y="538.4" text-anchor="end" style="font-family:'Liberation Sans',Arial,sans-serif;font-size:22.5px">0.6</text>
<text x="100.8" y="622.0" text-anchor="end" style="font-family:'Liberation Sans',Arial,sans-serif;font-size:22.5px">0.2</text>
<line x1="106.7" y1="825.9" x2="115.5" y2="825.9" stroke="#000" stroke-width="2.8"/>
<line x1="106.7" y1="784.2" x2="115.5" y2="784.2" stroke="#000" stroke-width="2.8"/>
<line x1="106.7" y1="742.4" x2="115.5" y2="742.4" stroke="#000" stroke-width="2.8"/>
<line x1="106.7" y1="700.7" x2="115.5" y2="700.7" stroke="#000" stroke-width="2.8"/>
<text x="100.8" y="706.5" text-anchor="end" style="font-family:'Liberation Sans',Arial,sans-serif;font-size:22.5px">0.8</text>
<text x="100.8" y="790.0" text-anchor="end" style="font-family:'Liberation Sans',Arial,sans-serif;font-size:22.5px">0.4</text>
<line x1="106.7" y1="1035.7" x2="115.5" y2="1035.7" stroke="#000" stroke-width="2.8"/>
<line x1="106.7" y1="994.0" x2="115.5" y2="994.0" stroke="#000" stroke-width="2.8"/>
<line x1="106.7" y1="952.4" x2="115.5" y2="952.4" stroke="#000" stroke-width="2.8"/>
<line x1="106.7" y1="910.7" x2="115.5" y2="910.7" stroke="#000" stroke-width="2.8"/>
<text x="100.8" y="916.5" text-anchor="end" style="font-family:'Liberation Sans',Arial,sans-serif;font-size:22.5px">0.8</text>
<text x="100.8" y="999.8" text-anchor="end" style="font-family:'Liberation Sans',Arial,sans-serif;font-size:22.5px">0.4</text>
<text x="100.8" y="1085.4" text-anchor="end" style="font-family:'Liberation Sans',Arial,sans-serif;font-size:22.5px">0.0</text>
<line x1="968.6" y1="171.5" x2="977.4" y2="171.5" stroke="#000" stroke-width="2.8"/>
<line x1="968.6" y1="129.5" x2="977.4" y2="129.5" stroke="#000" stroke-width="2.8"/>
<line x1="968.6" y1="87.5" x2="977.4" y2="87.5" stroke="#000" stroke-width="2.8"/>
<line x1="968.6" y1="45.5" x2="977.4" y2="45.5" stroke="#000" stroke-width="2.8"/>
<text x="962.7" y="51.3" text-anchor="end" style="font-family:'Liberation Sans',Arial,sans-serif;font-size:22.5px">0.8</text>
<text x="962.7" y="135.3" text-anchor="end" style="font-family:'Liberation Sans',Arial,sans-serif;font-size:22.5px">0.4</text>
<line x1="968.6" y1="382.5" x2="977.4" y2="382.5" stroke="#000" stroke-width="2.8"/>
<line x1="968.6" y1="340.5" x2="977.4" y2="340.5" stroke="#000" stroke-width="2.8"/>
<line x1="968.6" y1="298.5" x2="977.4" y2="298.5" stroke="#000" stroke-width="2.8"/>
<line x1="968.6" y1="256.5" x2="977.4" y2="256.5" stroke="#000" stroke-width="2.8"/>
<text x="962.7" y="262.3" text-anchor="end" style="font-family:'Liberation Sans',Arial,sans-serif;font-size:22.5px">0.8</text>
<text x="962.7" y="346.3" text-anchor="end" style="font-family:'Liberation Sans',Arial,sans-serif;font-size:22.5px">0.4</text>
<line x1="968.6" y1="593.0" x2="977.4" y2="593.0" stroke="#000" stroke-width="2.8"/>
<line x1="968.6" y1="551.3" x2="977.4" y2="551.3" stroke="#000" stroke-width="2.8"/>
<line x1="968.6" y1="509.5" x2="977.4" y2="509.5" stroke="#000" stroke-width="2.8"/>
<line x1="968.6" y1="467.8" x2="977.4" y2="467.8" stroke="#000" stroke-width="2.8"/>
<text x="962.7" y="473.6" text-anchor="end" style="font-family:'Liberation Sans',Arial,sans-serif;font-size:22.5px">0.8</text>
<text x="962.7" y="557.1" text-anchor="end" style="font-family:'Liberation Sans',Arial,sans-serif;font-size:22.5px">0.4</text>
<line x1="968.6" y1="803.2" x2="977.4" y2="803.2" stroke="#000" stroke-width="2.8"/>
<line x1="968.6" y1="761.4" x2="977.4" y2="761.4" stroke="#000" stroke-width="2.8"/>
<line x1="968.6" y1="719.6" x2="977.4" y2="719.6" stroke="#000" stroke-width="2.8"/>
<line x1="968.6" y1="677.8" x2="977.4" y2="677.8" stroke="#000" stroke-width="2.8"/>
<text x="962.7" y="683.6" text-anchor="end" style="font-family:'Liberation Sans',Arial,sans-serif;font-size:22.5px">0.8</text>
<text x="962.7" y="767.2" text-anchor="end" style="font-family:'Liberation Sans',Arial,sans-serif;font-size:22.5px">0.4</text>
<line x1="968.6" y1="1012.4" x2="977.4" y2="1012.4" stroke="#000" stroke-width="2.8"/>
<line x1="968.6" y1="970.8" x2="977.4" y2="970.8" stroke="#000" stroke-width="2.8"/>
<line x1="968.6" y1="929.2" x2="977.4" y2="929.2" stroke="#000" stroke-width="2.8"/>
<line x1="968.6" y1="887.6" x2="977.4" y2="887.6" stroke="#000" stroke-width="2.8"/>
<text x="962.7" y="893.4" text-anchor="end" style="font-family:'Liberation Sans',Arial,sans-serif;font-size:22.5px">0.8</text>
<text x="962.7" y="976.6" text-anchor="end" style="font-family:'Liberation Sans',Arial,sans-serif;font-size:22.5px">0.4</text>
<text x="962.7" y="1062.0" text-anchor="end" style="font-family:'Liberation Sans',Arial,sans-serif;font-size:22.5px">0.0</text>
<line x1="219.7" y1="1077.4" x2="219.7" y2="1083.5" stroke="#000" stroke-width="3.0"/>
<text x="220.9" y="1103.4" text-anchor="middle" style="font-family:'Liberation Sans',Arial,sans-serif;font-size:22.5px">20</text>
<line x1="317.2" y1="1077.4" x2="317.2" y2="1083.5" stroke="#000" stroke-width="3.0"/>
<text x="318.4" y="1103.4" text-anchor="middle" style="font-family:'Liberation Sans',Arial,sans-serif;font-size:22.5px">40</text>
<line x1="419.0" y1="1077.4" x2="419.0" y2="1083.5" stroke="#000" stroke-width="3.0"/>
<text x="420.2" y="1103.4" text-anchor="middle" style="font-family:'Liberation Sans',Arial,sans-serif;font-size:22.5px">60</text>
<line x1="520.5" y1="1077.4" x2="520.5" y2="1083.5" stroke="#000" stroke-width="3.0"/>
<text x="521.7" y="1103.4" text-anchor="middle" style="font-family:'Liberation Sans',Arial,sans-serif;font-size:22.5px">80</text>
<line x1="622.0" y1="1077.4" x2="622.0" y2="1083.5" stroke="#000" stroke-width="3.0"/>
<text x="625.6" y="1103.4" text-anchor="middle" style="font-family:'Liberation Sans',Arial,sans-serif;font-size:22.5px">100</text>
<line x1="724.0" y1="1077.4" x2="724.0" y2="1083.5" stroke="#000" stroke-width="3.0"/>
<text x="727.6" y="1103.4" text-anchor="middle" style="font-family:'Liberation Sans',Arial,sans-serif;font-size:22.5px">120</text>
<line x1="828.0" y1="1077.4" x2="828.0" y2="1083.5" stroke="#000" stroke-width="3.0"/>
<text x="831.6" y="1103.4" text-anchor="middle" style="font-family:'Liberation Sans',Arial,sans-serif;font-size:22.5px">140</text>
<line x1="1081.7" y1="1053.8" x2="1081.7" y2="1060.0" stroke="#000" stroke-width="3.0"/>
<text x="1082.7" y="1081.8" text-anchor="middle" style="font-family:'Liberation Sans',Arial,sans-serif;font-size:22.5px">20</text>
<line x1="1179.2" y1="1053.8" x2="1179.2" y2="1060.0" stroke="#000" stroke-width="3.0"/>
<text x="1180.2" y="1081.8" text-anchor="middle" style="font-family:'Liberation Sans',Arial,sans-serif;font-size:22.5px">40</text>
<line x1="1281.0" y1="1053.8" x2="1281.0" y2="1060.0" stroke="#000" stroke-width="3.0"/>
<text x="1282.0" y="1081.8" text-anchor="middle" style="font-family:'Liberation Sans',Arial,sans-serif;font-size:22.5px">60</text>
<line x1="1382.5" y1="1053.8" x2="1382.5" y2="1060.0" stroke="#000" stroke-width="3.0"/>
<text x="1383.5" y="1081.8" text-anchor="middle" style="font-family:'Liberation Sans',Arial,sans-serif;font-size:22.5px">80</text>
<line x1="1484.0" y1="1053.8" x2="1484.0" y2="1060.0" stroke="#000" stroke-width="3.0"/>
<text x="1487.6" y="1081.8" text-anchor="middle" style="font-family:'Liberation Sans',Arial,sans-serif;font-size:22.5px">100</text>
<line x1="1586.0" y1="1053.8" x2="1586.0" y2="1060.0" stroke="#000" stroke-width="3.0"/>
<text x="1589.6" y="1081.8" text-anchor="middle" style="font-family:'Liberation Sans',Arial,sans-serif;font-size:22.5px">120</text>
<line x1="1690.0" y1="1053.8" x2="1690.0" y2="1060.0" stroke="#000" stroke-width="3.0"/>
<text x="1693.6" y="1081.8" text-anchor="middle" style="font-family:'Liberation Sans',Arial,sans-serif;font-size:22.5px">140</text>
<text x="299.5" y="1138.2" style="font-family:'Liberation Sans',Arial,sans-serif;font-size:22.5px"><tspan style="font-family:'Liberation Serif',serif;font-size:24px">&#945;</tspan>-synuclein residue number</text>
<text x="1162.0" y="1116.3" style="font-family:'Liberation Sans',Arial,sans-serif;font-size:22.5px"><tspan style="font-family:'Liberation Serif',serif;font-size:24px">&#945;</tspan>-synuclein residue number</text>
<text x="75.0" y="204.0" style="font-family:'Liberation Sans',Arial,sans-serif;font-size:23px;font-style:italic">I</text>
<text x="80.0" y="210.5" style="font-family:'Liberation Sans',Arial,sans-serif;font-size:14px;font-style:italic">rel</text>
<text x="75.0" y="664.0" style="font-family:'Liberation Sans',Arial,sans-serif;font-size:23px;font-style:italic">I</text>
<text x="80.0" y="670.5" style="font-family:'Liberation Sans',Arial,sans-serif;font-size:14px;font-style:italic">rel</text>
<text x="936.0" y="421.8" style="font-family:'Liberation Sans',Arial,sans-serif;font-size:23px;font-style:italic">I</text>
<text x="941.0" y="428.3" style="font-family:'Liberation Sans',Arial,sans-serif;font-size:14px;font-style:italic">rel</text>
<text x="119.5" y="35.6" style="font-family:'Liberation Sans',Arial,sans-serif;font-weight:bold;font-size:30px">a</text>
<text x="119.5" y="476.5" style="font-family:'Liberation Sans',Arial,sans-serif;font-weight:bold;font-size:30px">b</text>
<text x="983.0" y="35.3" style="font-family:'Liberation Sans',Arial,sans-serif;font-weight:bold;font-size:30px">c</text>
<text x="358.3" y="206.8" style="font-family:'Liberation Sans',Arial,sans-serif;font-weight:bold;font-size:22px;fill:#161616">5 mg/ml LUVs</text>
<text x="319.5" y="415.4" style="font-family:'Liberation Sans',Arial,sans-serif;font-weight:bold;font-size:22px;fill:#161616">5 mg/ml LUVs + SecB</text>
<text x="334.6" y="650.8" style="font-family:'Liberation Sans',Arial,sans-serif;font-weight:bold;font-size:22px;fill:#161616">15 mg/ml LUVs</text>
<text x="268.7" y="860.0" style="font-family:'Liberation Sans',Arial,sans-serif;font-weight:bold;font-size:22px;fill:#161616">15 mg/ml LUVs + 2 equiv. SecB</text>
<text x="280.2" y="1066.5" style="font-family:'Liberation Sans',Arial,sans-serif;font-weight:bold;font-size:22px;fill:#161616">15 mg/ml LUVs + 6 equiv. SecB</text>
<text x="1275.9" y="205.8" style="font-family:'Liberation Sans',Arial,sans-serif;font-weight:bold;font-size:22px;fill:#161616">SecB</text>
<text x="1198.9" y="416.3" style="font-family:'Liberation Sans',Arial,sans-serif;font-weight:bold;font-size:22px;fill:#161616">SecB + 2.5 mg/ml LUVs</text>
<text x="1194.5" y="625.8" style="font-family:'Liberation Sans',Arial,sans-serif;font-weight:bold;font-size:22px;fill:#161616">SecB + 4.0 mg/ml LUVs</text>
<text x="1194.5" y="834.5" style="font-family:'Liberation Sans',Arial,sans-serif;font-weight:bold;font-size:22px;fill:#161616">SecB + 6.25 mg/ml LUVs</text>
<text x="1198.9" y="1044.5" style="font-family:'Liberation Sans',Arial,sans-serif;font-weight:bold;font-size:22px;fill:#161616">SecB + 8.5 mg/ml LUVs</text>
<text x="88.2" y="1237.2" text-anchor="start" style="font-family:'Liberation Sans',Arial,sans-serif;font-size:30.0px;font-weight:bold">d</text>
<path d="M843.1,1310.2 C844.5,1310.2 849.1,1310.8 851.5,1310.2 C853.9,1309.6 856.4,1308.5 857.6,1306.4 C858.7,1304.2 858.6,1300.0 858.3,1297.2 C858.1,1294.4 856.4,1290.9 856.1,1289.6" fill="none" stroke="#62608e" stroke-width="5.4" stroke-linecap="round" stroke-linejoin="round"/><path d="M843.1,1310.2 C844.5,1310.2 849.1,1310.8 851.5,1310.2 C853.9,1309.6 856.4,1308.5 857.6,1306.4 C858.7,1304.2 858.6,1300.0 858.3,1297.2 C858.1,1294.4 856.4,1290.9 856.1,1289.6" fill="none" stroke="#9594be" stroke-width="2.6" stroke-linecap="round" stroke-linejoin="round"/>
<path d="M857.6,1291.1 C857.6,1287.1 856.6,1273.3 857.6,1266.7 C858.6,1260.1 861.7,1254.5 863.7,1251.5 C865.7,1248.4 867.5,1247.9 869.8,1248.4 C872.1,1248.9 875.1,1251.0 877.4,1254.5 C879.7,1258.1 882.1,1264.7 883.5,1269.8 C884.9,1274.9 885.3,1279.9 885.8,1285.0 C886.3,1290.1 886.4,1297.7 886.6,1300.3" fill="none" stroke="#62608e" stroke-width="5.4" stroke-linecap="round" stroke-linejoin="round"/><path d="M857.6,1291.1 C857.6,1287.1 856.6,1273.3 857.6,1266.7 C858.6,1260.1 861.7,1254.5 863.7,1251.5 C865.7,1248.4 867.5,1247.9 869.8,1248.4 C872.1,1248.9 875.1,1251.0 877.4,1254.5 C879.7,1258.1 882.1,1264.7 883.5,1269.8 C884.9,1274.9 885.3,1279.9 885.8,1285.0 C886.3,1290.1 886.4,1297.7 886.6,1300.3" fill="none" stroke="#9594be" stroke-width="2.6" stroke-linecap="round" stroke-linejoin="round"/>
<path d="M857.6,1291.1 C859.1,1292.4 862.7,1297.0 866.7,1298.8 C870.8,1300.5 876.9,1300.5 882.0,1301.8 C887.1,1303.1 893.4,1304.3 897.2,1306.4 C901.0,1308.4 903.3,1310.4 904.9,1314.0 C906.4,1317.6 906.6,1323.4 906.4,1327.7 C906.1,1332.0 905.4,1336.9 903.3,1339.9 C901.3,1343.0 898.2,1344.5 894.2,1346.0 C890.1,1347.5 883.5,1347.8 878.9,1349.1 C874.4,1350.3 869.5,1350.9 866.7,1353.6 C863.9,1356.4 863.2,1361.3 862.2,1365.8 C861.1,1370.4 861.4,1376.8 860.6,1381.1 C859.9,1385.4 858.6,1389.0 857.6,1391.8 C856.6,1394.6 854.3,1395.8 854.5,1397.9 C854.8,1399.9 856.6,1403.5 859.1,1404.0 C861.7,1404.5 866.2,1400.9 869.8,1400.9 C873.3,1400.9 878.2,1401.9 880.5,1404.0 C882.7,1406.0 883.5,1410.6 883.5,1413.1 C883.5,1415.7 882.7,1417.9 880.5,1419.2 C878.2,1420.5 872.8,1421.2 869.8,1420.7 C866.7,1420.2 863.7,1418.4 862.2,1416.2 C860.6,1413.9 859.4,1410.8 860.6,1407.0 C861.9,1403.2 867.0,1397.6 869.8,1393.3 C872.6,1389.0 875.9,1384.9 877.4,1381.1 C878.9,1377.3 876.9,1374.0 878.9,1370.4 C881.0,1366.9 886.0,1363.6 889.6,1359.7 C893.2,1355.9 897.5,1351.6 900.3,1347.5 C903.1,1343.5 904.6,1339.7 906.4,1335.3 C908.2,1331.0 909.4,1324.4 911.0,1321.6 C912.5,1318.8 914.8,1319.1 915.5,1318.6" fill="none" stroke="#62608e" stroke-width="5.4" stroke-linecap="round" stroke-linejoin="round"/><path d="M857.6,1291.1 C859.1,1292.4 862.7,1297.0 866.7,1298.8 C870.8,1300.5 876.9,1300.5 882.0,1301.8 C887.1,1303.1 893.4,1304.3 897.2,1306.4 C901.0,1308.4 903.3,1310.4 904.9,1314.0 C906.4,1317.6 906.6,1323.4 906.4,1327.7 C906.1,1332.0 905.4,1336.9 903.3,1339.9 C901.3,1343.0 898.2,1344.5 894.2,1346.0 C890.1,1347.5 883.5,1347.8 878.9,1349.1 C874.4,1350.3 869.5,1350.9 866.7,1353.6 C863.9,1356.4 863.2,1361.3 862.2,1365.8 C861.1,1370.4 861.4,1376.8 860.6,1381.1 C859.9,1385.4 858.6,1389.0 857.6,1391.8 C856.6,1394.6 854.3,1395.8 854.5,1397.9 C854.8,1399.9 856.6,1403.5 859.1,1404.0 C861.7,1404.5 866.2,1400.9 869.8,1400.9 C873.3,1400.9 878.2,1401.9 880.5,1404.0 C882.7,1406.0 883.5,1410.6 883.5,1413.1 C883.5,1415.7 882.7,1417.9 880.5,1419.2 C878.2,1420.5 872.8,1421.2 869.8,1420.7 C866.7,1420.2 863.7,1418.4 862.2,1416.2 C860.6,1413.9 859.4,1410.8 860.6,1407.0 C861.9,1403.2 867.0,1397.6 869.8,1393.3 C872.6,1389.0 875.9,1384.9 877.4,1381.1 C878.9,1377.3 876.9,1374.0 878.9,1370.4 C881.0,1366.9 886.0,1363.6 889.6,1359.7 C893.2,1355.9 897.5,1351.6 900.3,1347.5 C903.1,1343.5 904.6,1339.7 906.4,1335.3 C908.2,1331.0 909.4,1324.4 911.0,1321.6 C912.5,1318.8 914.8,1319.1 915.5,1318.6" fill="none" stroke="#9594be" stroke-width="2.6" stroke-linecap="round" stroke-linejoin="round"/>
<path d="M886.6,1300.3 C888.3,1299.5 894.2,1296.7 897.2,1295.7 C900.3,1294.7 902.3,1293.4 904.9,1294.2 C907.4,1294.9 909.7,1297.2 912.5,1300.3 C915.3,1303.3 919.1,1308.4 921.6,1312.5 C924.2,1316.5 926.5,1320.6 927.7,1324.7 C929.0,1328.7 929.8,1332.6 929.3,1336.9 C928.7,1341.2 926.2,1346.3 924.7,1350.6 C923.2,1354.9 920.9,1358.5 920.1,1362.8 C919.3,1367.1 919.3,1372.2 920.1,1376.5 C920.9,1380.8 922.6,1384.1 924.7,1388.7 C926.7,1393.3 930.5,1398.9 932.3,1404.0 C934.1,1409.0 935.1,1414.1 935.3,1419.2 C935.6,1424.3 933.3,1429.9 933.8,1434.5 C934.3,1439.0 936.4,1442.8 938.4,1446.7 C940.4,1450.5 943.2,1454.3 946.0,1457.3 C948.8,1460.4 952.6,1462.2 955.2,1465.0 C957.7,1467.8 960.8,1470.8 961.3,1474.1 C961.8,1477.4 960.5,1482.2 958.2,1484.8 C955.9,1487.3 949.8,1487.6 947.5,1489.4 C945.3,1491.1 944.0,1493.4 944.5,1495.5 C945.0,1497.5 948.3,1500.0 950.6,1501.6 C952.9,1503.1 955.4,1504.1 958.2,1504.6 C961.0,1505.1 964.8,1505.1 967.4,1504.6 C969.9,1504.1 972.5,1503.6 973.5,1501.6 C974.5,1499.5 974.2,1495.2 973.5,1492.4 C972.7,1489.6 970.9,1486.6 968.9,1484.8 C966.9,1483.0 963.6,1481.5 961.3,1481.7 C959.0,1482.0 956.2,1485.5 955.2,1486.3" fill="none" stroke="#62608e" stroke-width="5.4" stroke-linecap="round" stroke-linejoin="round"/><path d="M886.6,1300.3 C888.3,1299.5 894.2,1296.7 897.2,1295.7 C900.3,1294.7 902.3,1293.4 904.9,1294.2 C907.4,1294.9 909.7,1297.2 912.5,1300.3 C915.3,1303.3 919.1,1308.4 921.6,1312.5 C924.2,1316.5 926.5,1320.6 927.7,1324.7 C929.0,1328.7 929.8,1332.6 929.3,1336.9 C928.7,1341.2 926.2,1346.3 924.7,1350.6 C923.2,1354.9 920.9,1358.5 920.1,1362.8 C919.3,1367.1 919.3,1372.2 920.1,1376.5 C920.9,1380.8 922.6,1384.1 924.7,1388.7 C926.7,1393.3 930.5,1398.9 932.3,1404.0 C934.1,1409.0 935.1,1414.1 935.3,1419.2 C935.6,1424.3 933.3,1429.9 933.8,1434.5 C934.3,1439.0 936.4,1442.8 938.4,1446.7 C940.4,1450.5 943.2,1454.3 946.0,1457.3 C948.8,1460.4 952.6,1462.2 955.2,1465.0 C957.7,1467.8 960.8,1470.8 961.3,1474.1 C961.8,1477.4 960.5,1482.2 958.2,1484.8 C955.9,1487.3 949.8,1487.6 947.5,1489.4 C945.3,1491.1 944.0,1493.4 944.5,1495.5 C945.0,1497.5 948.3,1500.0 950.6,1501.6 C952.9,1503.1 955.4,1504.1 958.2,1504.6 C961.0,1505.1 964.8,1505.1 967.4,1504.6 C969.9,1504.1 972.5,1503.6 973.5,1501.6 C974.5,1499.5 974.2,1495.2 973.5,1492.4 C972.7,1489.6 970.9,1486.6 968.9,1484.8 C966.9,1483.0 963.6,1481.5 961.3,1481.7 C959.0,1482.0 956.2,1485.5 955.2,1486.3" fill="none" stroke="#9594be" stroke-width="2.6" stroke-linecap="round" stroke-linejoin="round"/>
<path d="M961.3,1472.6 C960.3,1470.5 957.7,1464.2 955.2,1460.4 C952.6,1456.6 948.1,1454.0 946.0,1449.7 C944.0,1445.4 943.0,1439.0 943.0,1434.5 C943.0,1429.9 944.8,1425.8 946.0,1422.3 C947.3,1418.7 951.1,1415.1 950.6,1413.1 C950.1,1411.1 944.8,1412.1 943.0,1410.1 C941.2,1408.0 939.9,1404.0 939.9,1400.9 C939.9,1397.9 940.9,1394.8 943.0,1391.8 C945.0,1388.7 949.6,1386.2 952.1,1382.6 C954.7,1379.1 957.7,1375.0 958.2,1370.4 C958.7,1365.8 957.7,1360.3 955.2,1355.2 C952.6,1350.1 946.3,1344.5 943.0,1339.9 C939.7,1335.3 936.4,1331.3 935.3,1327.7 C934.3,1324.2 935.3,1322.1 936.9,1318.6 C938.4,1315.0 942.2,1309.9 944.5,1306.4 C946.8,1302.8 949.8,1300.3 950.6,1297.2 C951.4,1294.2 951.4,1291.1 949.1,1288.1 C946.8,1285.0 940.9,1282.0 936.9,1278.9 C932.8,1275.9 928.0,1273.1 924.7,1269.8 C921.4,1266.5 918.6,1263.2 917.1,1259.1 C915.5,1255.0 915.0,1249.2 915.5,1245.4 C916.0,1241.6 918.6,1239.8 920.1,1236.2 C921.6,1232.7 924.4,1229.1 924.7,1224.0 C924.9,1219.0 923.4,1211.3 921.6,1205.7 C919.8,1200.2 916.3,1195.6 914.0,1190.5 C911.7,1185.4 908.4,1179.1 907.9,1175.2 C907.4,1171.4 908.9,1169.1 911.0,1167.6 C913.0,1166.1 917.3,1165.8 920.1,1166.1 C922.9,1166.4 923.9,1167.4 927.7,1169.1 C931.5,1170.9 937.9,1174.5 943.0,1176.8 C948.1,1179.1 953.6,1180.6 958.2,1182.9 C962.8,1185.2 967.6,1186.9 970.4,1190.5 C973.2,1194.1 974.7,1199.6 975.0,1204.2 C975.2,1208.8 973.5,1213.6 971.9,1217.9 C970.4,1222.3 965.1,1227.3 965.8,1230.1 C966.6,1232.9 972.2,1233.4 976.5,1234.7 C980.8,1236.0 987.9,1236.7 991.8,1237.8 C995.7,1238.8 997.0,1240.1 1000.0,1240.8 C1003.0,1241.6 1008.4,1242.1 1010.1,1242.3" fill="none" stroke="#62608e" stroke-width="5.4" stroke-linecap="round" stroke-linejoin="round"/><path d="M961.3,1472.6 C960.3,1470.5 957.7,1464.2 955.2,1460.4 C952.6,1456.6 948.1,1454.0 946.0,1449.7 C944.0,1445.4 943.0,1439.0 943.0,1434.5 C943.0,1429.9 944.8,1425.8 946.0,1422.3 C947.3,1418.7 951.1,1415.1 950.6,1413.1 C950.1,1411.1 944.8,1412.1 943.0,1410.1 C941.2,1408.0 939.9,1404.0 939.9,1400.9 C939.9,1397.9 940.9,1394.8 943.0,1391.8 C945.0,1388.7 949.6,1386.2 952.1,1382.6 C954.7,1379.1 957.7,1375.0 958.2,1370.4 C958.7,1365.8 957.7,1360.3 955.2,1355.2 C952.6,1350.1 946.3,1344.5 943.0,1339.9 C939.7,1335.3 936.4,1331.3 935.3,1327.7 C934.3,1324.2 935.3,1322.1 936.9,1318.6 C938.4,1315.0 942.2,1309.9 944.5,1306.4 C946.8,1302.8 949.8,1300.3 950.6,1297.2 C951.4,1294.2 951.4,1291.1 949.1,1288.1 C946.8,1285.0 940.9,1282.0 936.9,1278.9 C932.8,1275.9 928.0,1273.1 924.7,1269.8 C921.4,1266.5 918.6,1263.2 917.1,1259.1 C915.5,1255.0 915.0,1249.2 915.5,1245.4 C916.0,1241.6 918.6,1239.8 920.1,1236.2 C921.6,1232.7 924.4,1229.1 924.7,1224.0 C924.9,1219.0 923.4,1211.3 921.6,1205.7 C919.8,1200.2 916.3,1195.6 914.0,1190.5 C911.7,1185.4 908.4,1179.1 907.9,1175.2 C907.4,1171.4 908.9,1169.1 911.0,1167.6 C913.0,1166.1 917.3,1165.8 920.1,1166.1 C922.9,1166.4 923.9,1167.4 927.7,1169.1 C931.5,1170.9 937.9,1174.5 943.0,1176.8 C948.1,1179.1 953.6,1180.6 958.2,1182.9 C962.8,1185.2 967.6,1186.9 970.4,1190.5 C973.2,1194.1 974.7,1199.6 975.0,1204.2 C975.2,1208.8 973.5,1213.6 971.9,1217.9 C970.4,1222.3 965.1,1227.3 965.8,1230.1 C966.6,1232.9 972.2,1233.4 976.5,1234.7 C980.8,1236.0 987.9,1236.7 991.8,1237.8 C995.7,1238.8 997.0,1240.1 1000.0,1240.8 C1003.0,1241.6 1008.4,1242.1 1010.1,1242.3" fill="none" stroke="#9594be" stroke-width="2.6" stroke-linecap="round" stroke-linejoin="round"/>
<path d="M990.2,1266.7 C990.7,1265.2 992.0,1258.6 993.3,1257.6 C994.6,1256.6 997.4,1258.6 997.9,1260.6 C998.4,1262.7 997.4,1268.0 996.3,1269.8 C995.3,1271.6 992.5,1271.1 991.8,1271.3" fill="none" stroke="#62608e" stroke-width="5.4" stroke-linecap="round" stroke-linejoin="round"/><path d="M990.2,1266.7 C990.7,1265.2 992.0,1258.6 993.3,1257.6 C994.6,1256.6 997.4,1258.6 997.9,1260.6 C998.4,1262.7 997.4,1268.0 996.3,1269.8 C995.3,1271.6 992.5,1271.1 991.8,1271.3" fill="none" stroke="#9594be" stroke-width="2.6" stroke-linecap="round" stroke-linejoin="round"/>
<path d="M980.0,1234.7 C982.0,1235.2 988.9,1236.5 992.2,1237.8 C995.5,1239.0 998.0,1240.0 999.8,1242.3 C1001.6,1244.6 1002.6,1247.9 1002.9,1251.5 C1003.1,1255.0 1002.1,1259.6 1001.3,1263.7 C1000.6,1267.7 998.3,1271.8 998.3,1275.9 C998.3,1279.9 1000.3,1284.5 1001.3,1288.1 C1002.4,1291.6 1002.1,1293.4 1004.4,1297.2 C1006.7,1301.0 1012.3,1306.4 1015.1,1310.9 C1017.9,1315.5 1020.7,1321.1 1021.2,1324.7 C1021.7,1328.2 1020.7,1330.0 1018.1,1332.3 C1015.6,1334.6 1009.5,1335.8 1005.9,1338.4 C1002.4,1340.9 998.5,1344.2 996.8,1347.5 C995.0,1350.8 994.5,1354.4 995.2,1358.2 C996.0,1362.0 998.8,1367.3 1001.3,1370.4 C1003.9,1373.4 1008.0,1372.9 1010.5,1376.5 C1013.0,1380.1 1015.1,1387.2 1016.6,1391.7 C1018.1,1396.3 1019.9,1401.4 1019.6,1403.9 C1019.4,1406.5 1015.8,1406.5 1015.1,1407.0" fill="none" stroke="#62608e" stroke-width="5.4" stroke-linecap="round" stroke-linejoin="round"/><path d="M980.0,1234.7 C982.0,1235.2 988.9,1236.5 992.2,1237.8 C995.5,1239.0 998.0,1240.0 999.8,1242.3 C1001.6,1244.6 1002.6,1247.9 1002.9,1251.5 C1003.1,1255.0 1002.1,1259.6 1001.3,1263.7 C1000.6,1267.7 998.3,1271.8 998.3,1275.9 C998.3,1279.9 1000.3,1284.5 1001.3,1288.1 C1002.4,1291.6 1002.1,1293.4 1004.4,1297.2 C1006.7,1301.0 1012.3,1306.4 1015.1,1310.9 C1017.9,1315.5 1020.7,1321.1 1021.2,1324.7 C1021.7,1328.2 1020.7,1330.0 1018.1,1332.3 C1015.6,1334.6 1009.5,1335.8 1005.9,1338.4 C1002.4,1340.9 998.5,1344.2 996.8,1347.5 C995.0,1350.8 994.5,1354.4 995.2,1358.2 C996.0,1362.0 998.8,1367.3 1001.3,1370.4 C1003.9,1373.4 1008.0,1372.9 1010.5,1376.5 C1013.0,1380.1 1015.1,1387.2 1016.6,1391.7 C1018.1,1396.3 1019.9,1401.4 1019.6,1403.9 C1019.4,1406.5 1015.8,1406.5 1015.1,1407.0" fill="none" stroke="#9594be" stroke-width="2.6" stroke-linecap="round" stroke-linejoin="round"/>
<path d="M1002.9,1245.4 C1004.1,1244.6 1007.2,1241.8 1010.5,1240.8 C1013.8,1239.8 1019.4,1238.9 1022.7,1239.3 C1026.0,1239.7 1029.0,1242.5 1030.3,1243.1" fill="none" stroke="#62608e" stroke-width="5.4" stroke-linecap="round" stroke-linejoin="round"/><path d="M1002.9,1245.4 C1004.1,1244.6 1007.2,1241.8 1010.5,1240.8 C1013.8,1239.8 1019.4,1238.9 1022.7,1239.3 C1026.0,1239.7 1029.0,1242.5 1030.3,1243.1" fill="none" stroke="#9594be" stroke-width="2.6" stroke-linecap="round" stroke-linejoin="round"/>
<path d="M1022.7,1239.3 C1025.0,1237.2 1031.8,1230.6 1036.4,1227.1 C1041.0,1223.5 1046.3,1217.9 1050.1,1217.9 C1053.9,1217.9 1055.7,1223.3 1059.3,1227.1 C1062.8,1230.9 1068.2,1236.7 1071.5,1240.8 C1074.8,1244.9 1076.8,1247.2 1079.1,1251.5 C1081.4,1255.8 1083.7,1261.6 1085.2,1266.7 C1086.7,1271.8 1087.7,1277.4 1088.2,1282.0 C1088.8,1286.5 1089.0,1290.6 1088.2,1294.2 C1087.5,1297.7 1084.4,1300.3 1083.7,1303.3 C1082.9,1306.4 1082.7,1308.9 1083.7,1312.5 C1084.7,1316.0 1087.0,1320.8 1089.8,1324.7 C1092.6,1328.5 1097.6,1333.3 1100.4,1335.3 C1103.2,1337.4 1103.7,1338.1 1106.5,1336.9 C1109.3,1335.6 1114.4,1329.7 1117.2,1327.7 C1120.0,1325.7 1121.9,1323.4 1123.3,1324.7 C1124.7,1325.9 1125.6,1331.3 1125.6,1335.3 C1125.6,1339.4 1123.7,1344.7 1123.3,1349.1 C1122.9,1353.4 1122.0,1357.7 1123.3,1361.2 C1124.6,1364.8 1128.1,1367.3 1130.9,1370.4 C1133.7,1373.4 1137.5,1375.5 1140.1,1379.5 C1142.6,1383.6 1144.9,1389.7 1146.2,1394.8 C1147.5,1399.9 1148.5,1406.0 1147.7,1410.0 C1146.9,1414.1 1144.4,1416.6 1141.6,1419.2 C1138.8,1421.7 1134.2,1424.8 1130.9,1425.3 C1127.6,1425.8 1123.6,1424.5 1121.8,1422.2 C1120.0,1419.9 1121.3,1414.4 1120.3,1411.6 C1119.2,1408.8 1118.7,1406.7 1115.7,1405.5 C1112.6,1404.2 1106.3,1404.4 1102.0,1403.9 C1097.6,1403.4 1092.3,1403.9 1089.8,1402.4 C1087.2,1400.9 1086.7,1397.8 1086.7,1394.8 C1086.7,1391.7 1088.0,1386.4 1089.8,1384.1 C1091.6,1381.8 1094.6,1380.6 1097.4,1381.1 C1100.2,1381.6 1104.3,1384.9 1106.5,1387.2 C1108.8,1389.5 1110.4,1392.5 1111.1,1394.8 C1111.9,1397.1 1111.1,1399.9 1111.1,1400.9" fill="none" stroke="#62608e" stroke-width="5.4" stroke-linecap="round" stroke-linejoin="round"/><path d="M1022.7,1239.3 C1025.0,1237.2 1031.8,1230.6 1036.4,1227.1 C1041.0,1223.5 1046.3,1217.9 1050.1,1217.9 C1053.9,1217.9 1055.7,1223.3 1059.3,1227.1 C1062.8,1230.9 1068.2,1236.7 1071.5,1240.8 C1074.8,1244.9 1076.8,1247.2 1079.1,1251.5 C1081.4,1255.8 1083.7,1261.6 1085.2,1266.7 C1086.7,1271.8 1087.7,1277.4 1088.2,1282.0 C1088.8,1286.5 1089.0,1290.6 1088.2,1294.2 C1087.5,1297.7 1084.4,1300.3 1083.7,1303.3 C1082.9,1306.4 1082.7,1308.9 1083.7,1312.5 C1084.7,1316.0 1087.0,1320.8 1089.8,1324.7 C1092.6,1328.5 1097.6,1333.3 1100.4,1335.3 C1103.2,1337.4 1103.7,1338.1 1106.5,1336.9 C1109.3,1335.6 1114.4,1329.7 1117.2,1327.7 C1120.0,1325.7 1121.9,1323.4 1123.3,1324.7 C1124.7,1325.9 1125.6,1331.3 1125.6,1335.3 C1125.6,1339.4 1123.7,1344.7 1123.3,1349.1 C1122.9,1353.4 1122.0,1357.7 1123.3,1361.2 C1124.6,1364.8 1128.1,1367.3 1130.9,1370.4 C1133.7,1373.4 1137.5,1375.5 1140.1,1379.5 C1142.6,1383.6 1144.9,1389.7 1146.2,1394.8 C1147.5,1399.9 1148.5,1406.0 1147.7,1410.0 C1146.9,1414.1 1144.4,1416.6 1141.6,1419.2 C1138.8,1421.7 1134.2,1424.8 1130.9,1425.3 C1127.6,1425.8 1123.6,1424.5 1121.8,1422.2 C1120.0,1419.9 1121.3,1414.4 1120.3,1411.6 C1119.2,1408.8 1118.7,1406.7 1115.7,1405.5 C1112.6,1404.2 1106.3,1404.4 1102.0,1403.9 C1097.6,1403.4 1092.3,1403.9 1089.8,1402.4 C1087.2,1400.9 1086.7,1397.8 1086.7,1394.8 C1086.7,1391.7 1088.0,1386.4 1089.8,1384.1 C1091.6,1381.8 1094.6,1380.6 1097.4,1381.1 C1100.2,1381.6 1104.3,1384.9 1106.5,1387.2 C1108.8,1389.5 1110.4,1392.5 1111.1,1394.8 C1111.9,1397.1 1111.1,1399.9 1111.1,1400.9" fill="none" stroke="#9594be" stroke-width="2.6" stroke-linecap="round" stroke-linejoin="round"/>
<path d="M1118.7,1291.1 C1116.5,1290.6 1108.1,1289.8 1105.0,1288.1 C1102.0,1286.3 1100.7,1283.7 1100.4,1280.4 C1100.2,1277.1 1101.5,1271.8 1103.5,1268.2 C1105.5,1264.7 1109.1,1260.6 1112.6,1259.1 C1116.2,1257.6 1120.8,1257.8 1124.8,1259.1 C1128.9,1260.4 1134.5,1263.4 1137.0,1266.7 C1139.6,1270.0 1140.6,1274.6 1140.1,1278.9 C1139.6,1283.2 1136.0,1288.6 1134.0,1292.6 C1132.0,1296.7 1128.6,1300.0 1127.9,1303.3 C1127.1,1306.6 1127.9,1310.4 1129.4,1312.5 C1130.9,1314.5 1134.2,1315.5 1137.0,1315.5 C1139.8,1315.5 1142.9,1314.2 1146.2,1312.5 C1149.5,1310.7 1153.6,1305.9 1156.9,1304.8 C1160.2,1303.8 1163.8,1303.8 1166.0,1306.4 C1168.2,1308.9 1169.3,1315.3 1169.8,1320.1 C1170.3,1324.9 1170.2,1330.8 1169.1,1335.3 C1167.9,1339.9 1165.7,1343.7 1163.0,1347.5 C1160.2,1351.3 1154.3,1355.4 1152.3,1358.2 C1150.2,1361.0 1150.2,1361.2 1150.8,1364.3 C1151.3,1367.3 1154.3,1371.9 1155.3,1376.5 C1156.3,1381.1 1157.4,1387.2 1156.9,1391.7 C1156.3,1396.3 1154.6,1400.6 1152.3,1403.9 C1150.0,1407.2 1145.7,1409.0 1143.1,1411.6 C1140.6,1414.1 1138.3,1415.9 1137.0,1419.2 C1135.8,1422.5 1136.8,1427.3 1135.5,1431.4 C1134.2,1435.4 1132.0,1439.8 1129.4,1443.6 C1126.9,1447.4 1123.8,1451.7 1120.3,1454.2 C1116.7,1456.8 1112.1,1458.1 1108.1,1458.8 C1104.0,1459.6 1099.9,1459.8 1095.9,1458.8 C1091.8,1457.8 1088.8,1455.8 1083.7,1452.7 C1078.6,1449.7 1070.7,1444.6 1065.4,1440.5 C1060.0,1436.5 1054.5,1432.4 1051.7,1428.3 C1048.9,1424.3 1048.4,1420.2 1048.6,1416.1 C1048.9,1412.1 1052.2,1407.7 1053.2,1403.9 C1054.2,1400.1 1054.2,1396.8 1054.7,1393.3 C1055.2,1389.7 1054.5,1384.9 1056.2,1382.6 C1058.0,1380.3 1063.9,1380.1 1065.4,1379.5" fill="none" stroke="#62608e" stroke-width="5.4" stroke-linecap="round" stroke-linejoin="round"/><path d="M1118.7,1291.1 C1116.5,1290.6 1108.1,1289.8 1105.0,1288.1 C1102.0,1286.3 1100.7,1283.7 1100.4,1280.4 C1100.2,1277.1 1101.5,1271.8 1103.5,1268.2 C1105.5,1264.7 1109.1,1260.6 1112.6,1259.1 C1116.2,1257.6 1120.8,1257.8 1124.8,1259.1 C1128.9,1260.4 1134.5,1263.4 1137.0,1266.7 C1139.6,1270.0 1140.6,1274.6 1140.1,1278.9 C1139.6,1283.2 1136.0,1288.6 1134.0,1292.6 C1132.0,1296.7 1128.6,1300.0 1127.9,1303.3 C1127.1,1306.6 1127.9,1310.4 1129.4,1312.5 C1130.9,1314.5 1134.2,1315.5 1137.0,1315.5 C1139.8,1315.5 1142.9,1314.2 1146.2,1312.5 C1149.5,1310.7 1153.6,1305.9 1156.9,1304.8 C1160.2,1303.8 1163.8,1303.8 1166.0,1306.4 C1168.2,1308.9 1169.3,1315.3 1169.8,1320.1 C1170.3,1324.9 1170.2,1330.8 1169.1,1335.3 C1167.9,1339.9 1165.7,1343.7 1163.0,1347.5 C1160.2,1351.3 1154.3,1355.4 1152.3,1358.2 C1150.2,1361.0 1150.2,1361.2 1150.8,1364.3 C1151.3,1367.3 1154.3,1371.9 1155.3,1376.5 C1156.3,1381.1 1157.4,1387.2 1156.9,1391.7 C1156.3,1396.3 1154.6,1400.6 1152.3,1403.9 C1150.0,1407.2 1145.7,1409.0 1143.1,1411.6 C1140.6,1414.1 1138.3,1415.9 1137.0,1419.2 C1135.8,1422.5 1136.8,1427.3 1135.5,1431.4 C1134.2,1435.4 1132.0,1439.8 1129.4,1443.6 C1126.9,1447.4 1123.8,1451.7 1120.3,1454.2 C1116.7,1456.8 1112.1,1458.1 1108.1,1458.8 C1104.0,1459.6 1099.9,1459.8 1095.9,1458.8 C1091.8,1457.8 1088.8,1455.8 1083.7,1452.7 C1078.6,1449.7 1070.7,1444.6 1065.4,1440.5 C1060.0,1436.5 1054.5,1432.4 1051.7,1428.3 C1048.9,1424.3 1048.4,1420.2 1048.6,1416.1 C1048.9,1412.1 1052.2,1407.7 1053.2,1403.9 C1054.2,1400.1 1054.2,1396.8 1054.7,1393.3 C1055.2,1389.7 1054.5,1384.9 1056.2,1382.6 C1058.0,1380.3 1063.9,1380.1 1065.4,1379.5" fill="none" stroke="#9594be" stroke-width="2.6" stroke-linecap="round" stroke-linejoin="round"/>
<path d="M1065.4,1376.5 C1066.9,1376.5 1071.0,1376.2 1074.5,1376.5 C1078.1,1376.7 1083.2,1377.3 1086.7,1378.0 C1090.3,1378.8 1094.3,1380.6 1095.9,1381.1" fill="none" stroke="#62608e" stroke-width="5.4" stroke-linecap="round" stroke-linejoin="round"/><path d="M1065.4,1376.5 C1066.9,1376.5 1071.0,1376.2 1074.5,1376.5 C1078.1,1376.7 1083.2,1377.3 1086.7,1378.0 C1090.3,1378.8 1094.3,1380.6 1095.9,1381.1" fill="none" stroke="#9594be" stroke-width="2.6" stroke-linecap="round" stroke-linejoin="round"/>
<path d="M1066.9,1378.0 C1068.7,1379.8 1073.5,1385.6 1077.6,1388.7 C1081.6,1391.7 1089.0,1395.0 1091.3,1396.3" fill="none" stroke="#62608e" stroke-width="5.4" stroke-linecap="round" stroke-linejoin="round"/><path d="M1066.9,1378.0 C1068.7,1379.8 1073.5,1385.6 1077.6,1388.7 C1081.6,1391.7 1089.0,1395.0 1091.3,1396.3" fill="none" stroke="#9594be" stroke-width="2.6" stroke-linecap="round" stroke-linejoin="round"/>
<path d="M1033.4,1358.2 C1032.9,1356.7 1031.6,1350.8 1030.3,1349.1 C1029.0,1347.3 1027.8,1346.8 1025.7,1347.5 C1023.7,1348.3 1020.1,1350.8 1018.1,1353.6 C1016.1,1356.4 1013.8,1360.7 1013.5,1364.3 C1013.3,1367.9 1014.6,1372.2 1016.6,1375.0 C1018.6,1377.8 1022.7,1379.3 1025.7,1381.1 C1028.8,1382.8 1032.9,1383.4 1034.9,1385.6 C1036.9,1387.9 1037.9,1391.7 1037.9,1394.8 C1037.9,1397.8 1036.9,1401.4 1034.9,1403.9 C1032.9,1406.5 1028.5,1408.8 1025.7,1410.0 C1022.9,1411.3 1020.1,1412.3 1018.1,1411.6 C1016.1,1410.8 1014.6,1407.2 1013.5,1405.5 C1012.5,1403.7 1012.3,1401.6 1012.0,1400.9" fill="none" stroke="#62608e" stroke-width="5.4" stroke-linecap="round" stroke-linejoin="round"/><path d="M1033.4,1358.2 C1032.9,1356.7 1031.6,1350.8 1030.3,1349.1 C1029.0,1347.3 1027.8,1346.8 1025.7,1347.5 C1023.7,1348.3 1020.1,1350.8 1018.1,1353.6 C1016.1,1356.4 1013.8,1360.7 1013.5,1364.3 C1013.3,1367.9 1014.6,1372.2 1016.6,1375.0 C1018.6,1377.8 1022.7,1379.3 1025.7,1381.1 C1028.8,1382.8 1032.9,1383.4 1034.9,1385.6 C1036.9,1387.9 1037.9,1391.7 1037.9,1394.8 C1037.9,1397.8 1036.9,1401.4 1034.9,1403.9 C1032.9,1406.5 1028.5,1408.8 1025.7,1410.0 C1022.9,1411.3 1020.1,1412.3 1018.1,1411.6 C1016.1,1410.8 1014.6,1407.2 1013.5,1405.5 C1012.5,1403.7 1012.3,1401.6 1012.0,1400.9" fill="none" stroke="#9594be" stroke-width="2.6" stroke-linecap="round" stroke-linejoin="round"/>
<path d="M1001.3,1288.1 C1003.4,1287.8 1009.5,1286.5 1013.5,1286.5 C1017.6,1286.5 1022.7,1286.8 1025.7,1288.1 C1028.8,1289.3 1030.7,1291.1 1031.8,1294.2 C1033.0,1297.2 1032.9,1302.3 1032.6,1306.4 C1032.3,1310.4 1030.9,1315.0 1030.3,1318.6 C1029.7,1322.1 1028.8,1323.6 1028.8,1327.7 C1028.8,1331.8 1029.3,1337.9 1030.3,1343.0 C1031.3,1348.0 1034.1,1355.7 1034.9,1358.2" fill="none" stroke="#62608e" stroke-width="5.4" stroke-linecap="round" stroke-linejoin="round"/><path d="M1001.3,1288.1 C1003.4,1287.8 1009.5,1286.5 1013.5,1286.5 C1017.6,1286.5 1022.7,1286.8 1025.7,1288.1 C1028.8,1289.3 1030.7,1291.1 1031.8,1294.2 C1033.0,1297.2 1032.9,1302.3 1032.6,1306.4 C1032.3,1310.4 1030.9,1315.0 1030.3,1318.6 C1029.7,1322.1 1028.8,1323.6 1028.8,1327.7 C1028.8,1331.8 1029.3,1337.9 1030.3,1343.0 C1031.3,1348.0 1034.1,1355.7 1034.9,1358.2" fill="none" stroke="#9594be" stroke-width="2.6" stroke-linecap="round" stroke-linejoin="round"/>
<path d="M990.7,1259.1 C990.4,1260.4 989.0,1264.4 989.1,1266.7 C989.3,1269.0 990.4,1272.3 991.4,1272.8 C992.5,1273.3 994.9,1271.8 995.2,1269.8 C995.6,1267.7 994.0,1262.1 993.7,1260.6" fill="none" stroke="#62608e" stroke-width="5.4" stroke-linecap="round" stroke-linejoin="round"/><path d="M990.7,1259.1 C990.4,1260.4 989.0,1264.4 989.1,1266.7 C989.3,1269.0 990.4,1272.3 991.4,1272.8 C992.5,1273.3 994.9,1271.8 995.2,1269.8 C995.6,1267.7 994.0,1262.1 993.7,1260.6" fill="none" stroke="#9594be" stroke-width="2.6" stroke-linecap="round" stroke-linejoin="round"/>
<path d="M1001.3,1266.7 C1002.4,1267.5 1006.2,1269.5 1007.4,1271.3 C1008.7,1273.1 1009.5,1276.6 1009.0,1277.4 C1008.5,1278.2 1005.2,1276.1 1004.4,1275.9" fill="none" stroke="#62608e" stroke-width="5.4" stroke-linecap="round" stroke-linejoin="round"/><path d="M1001.3,1266.7 C1002.4,1267.5 1006.2,1269.5 1007.4,1271.3 C1008.7,1273.1 1009.5,1276.6 1009.0,1277.4 C1008.5,1278.2 1005.2,1276.1 1004.4,1275.9" fill="none" stroke="#9594be" stroke-width="2.6" stroke-linecap="round" stroke-linejoin="round"/>
<path d="M801.2,1227.1 C799.4,1228.4 793.8,1231.2 790.5,1234.7 C787.2,1238.3 783.6,1244.1 781.3,1248.4 C779.1,1252.8 778.8,1257.1 776.8,1260.6 C774.7,1264.2 770.8,1265.7 769.1,1269.8 C767.5,1273.9 766.4,1281.0 766.9,1285.0 C767.4,1289.1 769.5,1291.4 772.2,1294.2 C774.9,1297.0 780.3,1298.8 782.9,1301.8 C785.4,1304.9 787.2,1308.7 787.4,1312.5 C787.7,1316.3 785.3,1319.6 784.4,1324.7 C783.5,1329.8 782.9,1336.4 782.1,1343.0 C781.3,1349.6 781.0,1359.7 779.8,1364.3 C778.7,1368.9 776.4,1368.6 775.2,1370.4 C774.1,1372.2 772.2,1373.5 773.0,1375.0 C773.7,1376.5 776.9,1378.3 779.8,1379.6 C782.7,1380.8 787.4,1380.8 790.5,1382.6 C793.5,1384.4 796.5,1388.0 798.1,1390.2 C799.8,1392.5 799.9,1392.5 800.4,1396.3 C800.9,1400.2 800.5,1407.8 801.2,1413.1 C801.8,1418.4 802.7,1424.0 804.2,1428.4 C805.7,1432.7 808.3,1436.5 810.3,1439.0 C812.4,1441.6 814.6,1443.9 816.4,1443.6 C818.2,1443.4 819.5,1440.6 821.0,1437.5 C822.5,1434.5 823.8,1428.4 825.6,1425.3 C827.3,1422.3 829.4,1420.0 831.7,1419.2 C834.0,1418.4 837.1,1419.2 839.3,1420.7 C841.4,1422.3 844.6,1425.1 844.6,1428.4 C844.6,1431.7 842.2,1438.0 839.3,1440.6 C836.4,1443.1 830.1,1442.3 827.1,1443.6 C824.0,1444.9 822.0,1447.4 821.0,1448.2" fill="none" stroke="#93352a" stroke-width="5.4" stroke-linecap="round" stroke-linejoin="round"/><path d="M801.2,1227.1 C799.4,1228.4 793.8,1231.2 790.5,1234.7 C787.2,1238.3 783.6,1244.1 781.3,1248.4 C779.1,1252.8 778.8,1257.1 776.8,1260.6 C774.7,1264.2 770.8,1265.7 769.1,1269.8 C767.5,1273.9 766.4,1281.0 766.9,1285.0 C767.4,1289.1 769.5,1291.4 772.2,1294.2 C774.9,1297.0 780.3,1298.8 782.9,1301.8 C785.4,1304.9 787.2,1308.7 787.4,1312.5 C787.7,1316.3 785.3,1319.6 784.4,1324.7 C783.5,1329.8 782.9,1336.4 782.1,1343.0 C781.3,1349.6 781.0,1359.7 779.8,1364.3 C778.7,1368.9 776.4,1368.6 775.2,1370.4 C774.1,1372.2 772.2,1373.5 773.0,1375.0 C773.7,1376.5 776.9,1378.3 779.8,1379.6 C782.7,1380.8 787.4,1380.8 790.5,1382.6 C793.5,1384.4 796.5,1388.0 798.1,1390.2 C799.8,1392.5 799.9,1392.5 800.4,1396.3 C800.9,1400.2 800.5,1407.8 801.2,1413.1 C801.8,1418.4 802.7,1424.0 804.2,1428.4 C805.7,1432.7 808.3,1436.5 810.3,1439.0 C812.4,1441.6 814.6,1443.9 816.4,1443.6 C818.2,1443.4 819.5,1440.6 821.0,1437.5 C822.5,1434.5 823.8,1428.4 825.6,1425.3 C827.3,1422.3 829.4,1420.0 831.7,1419.2 C834.0,1418.4 837.1,1419.2 839.3,1420.7 C841.4,1422.3 844.6,1425.1 844.6,1428.4 C844.6,1431.7 842.2,1438.0 839.3,1440.6 C836.4,1443.1 830.1,1442.3 827.1,1443.6 C824.0,1444.9 822.0,1447.4 821.0,1448.2" fill="none" stroke="#d4584a" stroke-width="2.8" stroke-linecap="round" stroke-linejoin="round"/>
<path d="M776.8,1266.7 C777.3,1267.8 777.5,1271.8 779.8,1272.8 C782.1,1273.9 786.7,1272.7 790.5,1272.8 C794.3,1273.0 799.6,1272.3 802.7,1273.6 C805.7,1274.9 807.3,1277.0 808.8,1280.5 C810.3,1283.9 810.3,1290.4 811.8,1294.2 C813.4,1298.0 815.1,1301.0 817.9,1303.3 C820.7,1305.6 825.1,1307.0 828.6,1307.9 C832.2,1308.8 836.6,1309.4 839.3,1308.7 C842.0,1307.9 843.5,1306.0 844.6,1303.3 C845.8,1300.7 845.9,1296.0 846.1,1292.7 C846.4,1289.4 846.1,1285.0 846.1,1283.5" fill="none" stroke="#93352a" stroke-width="5.4" stroke-linecap="round" stroke-linejoin="round"/><path d="M776.8,1266.7 C777.3,1267.8 777.5,1271.8 779.8,1272.8 C782.1,1273.9 786.7,1272.7 790.5,1272.8 C794.3,1273.0 799.6,1272.3 802.7,1273.6 C805.7,1274.9 807.3,1277.0 808.8,1280.5 C810.3,1283.9 810.3,1290.4 811.8,1294.2 C813.4,1298.0 815.1,1301.0 817.9,1303.3 C820.7,1305.6 825.1,1307.0 828.6,1307.9 C832.2,1308.8 836.6,1309.4 839.3,1308.7 C842.0,1307.9 843.5,1306.0 844.6,1303.3 C845.8,1300.7 845.9,1296.0 846.1,1292.7 C846.4,1289.4 846.1,1285.0 846.1,1283.5" fill="none" stroke="#d4584a" stroke-width="2.8" stroke-linecap="round" stroke-linejoin="round"/>
<text x="769.0" y="1449.0" text-anchor="start" style="font-family:'Liberation Sans',Arial,sans-serif;font-size:24.0px;font-weight:bold">N</text>
<text x="1133.5" y="1248.5" text-anchor="start" style="font-family:'Liberation Sans',Arial,sans-serif;font-size:24.0px;font-weight:bold">C</text>
<text x="1235" y="1311" style="font-family:'Liberation Sans',Arial,sans-serif;font-size:25.5px;letter-spacing:0.25px"><tspan style="font-family:'Liberation Serif',serif;font-size:28px">&#945;</tspan>-synuclein</text>
<path d="M782,1497 L681.5,1597 L681.5,1574.5" fill="none" stroke="#111" stroke-width="3.6" stroke-linecap="round" stroke-linejoin="round"/>
<path d="M700,1603 L804,1499 L804,1521.5" fill="none" stroke="#111" stroke-width="1.6"/>
<path d="M1118,1496.5 L1219,1597 L1219,1572" fill="none" stroke="#161418" stroke-width="13" stroke-linecap="round" stroke-linejoin="round"/>
<path d="M1096,1522 L1096,1499 L1200.5,1603.5" fill="none" stroke="#111" stroke-width="1.7"/>
<defs><radialGradient id="vsph" cx="0.38" cy="0.33" r="0.7"><stop offset="0" stop-color="#f6e2d0"/><stop offset="0.45" stop-color="#e9c3a3"/><stop offset="0.85" stop-color="#cfa07e"/><stop offset="1" stop-color="#ae7e60"/></radialGradient><radialGradient id="lsph" cx="0.55" cy="0.4" r="0.75"><stop offset="0" stop-color="#dbd2ca"/><stop offset="0.6" stop-color="#c4b7ab"/><stop offset="1" stop-color="#9f9084"/></radialGradient><radialGradient id="lumg" cx="0.62" cy="0.5" r="0.75"><stop offset="0" stop-color="#d9d0c8"/><stop offset="0.6" stop-color="#c4b6aa"/><stop offset="1" stop-color="#9c8c80"/></radialGradient><linearGradient id="lumshade" x1="0" y1="0" x2="1" y2="0"><stop offset="0" stop-color="#5a4a40" stop-opacity="0.35"/><stop offset="0.45" stop-color="#5a4a40" stop-opacity="0.08"/><stop offset="1" stop-color="#ffffff" stop-opacity="0.1"/></linearGradient><clipPath id="lumclip"><ellipse cx="485.0" cy="1803.0" rx="118.0" ry="127.0"/></clipPath></defs>
<circle cx="464.0" cy="1802.0" r="225.0" fill="#d9ab88"/>
<ellipse cx="491.5" cy="1811.0" rx="174.5" ry="192.5" fill="#8c5e40"/>
<path d="M621.0,1804.0 Q644.5,1810.5 668.0,1811.0" fill="none" stroke="#d8a886" stroke-width="2.4"/>
<path d="M621.0,1806.7 Q646.5,1808.6 668.0,1814.6" fill="none" stroke="#1c120b" stroke-width="1.1"/>
<path d="M620.9,1809.4 Q647.2,1814.9 667.9,1818.2" fill="none" stroke="#d8a886" stroke-width="2.4"/>
<path d="M620.8,1812.1 Q646.3,1814.9 667.7,1821.8" fill="none" stroke="#1c120b" stroke-width="1.1"/>
<path d="M620.6,1814.8 Q645.8,1817.9 667.5,1825.4" fill="none" stroke="#d8a886" stroke-width="2.4"/>
<path d="M620.4,1817.5 Q645.8,1821.2 667.2,1828.9" fill="none" stroke="#1c120b" stroke-width="1.1"/>
<path d="M620.2,1820.2 Q641.8,1823.6 666.9,1832.5" fill="none" stroke="#d8a886" stroke-width="2.4"/>
<path d="M619.9,1822.8 Q645.2,1827.5 666.5,1836.1" fill="none" stroke="#1c120b" stroke-width="1.1"/>
<path d="M619.5,1825.5 Q639.9,1832.7 666.1,1839.7" fill="none" stroke="#d8a886" stroke-width="2.4"/>
<path d="M619.1,1828.2 Q644.3,1833.7 665.6,1843.2" fill="none" stroke="#1c120b" stroke-width="1.1"/>
<path d="M618.7,1830.8 Q641.9,1841.6 665.0,1846.7" fill="none" stroke="#d8a886" stroke-width="2.4"/>
<path d="M618.2,1833.5 Q643.3,1839.9 664.4,1850.3" fill="none" stroke="#1c120b" stroke-width="1.1"/>
<path d="M617.6,1836.1 Q643.5,1847.0 663.7,1853.8" fill="none" stroke="#d8a886" stroke-width="2.4"/>
<path d="M617.1,1838.7 Q642.0,1846.0 662.9,1857.3" fill="none" stroke="#1c120b" stroke-width="1.1"/>
<path d="M616.4,1841.4 Q641.0,1849.8 662.1,1860.8" fill="none" stroke="#d8a886" stroke-width="2.4"/>
<path d="M615.8,1844.0 Q640.5,1852.1 661.3,1864.2" fill="none" stroke="#1c120b" stroke-width="1.1"/>
<path d="M615.1,1846.5 Q635.9,1854.1 660.3,1867.7" fill="none" stroke="#d8a886" stroke-width="2.4"/>
<path d="M614.3,1849.1 Q638.8,1858.1 659.4,1871.1" fill="none" stroke="#1c120b" stroke-width="1.1"/>
<path d="M613.5,1851.7 Q633.1,1862.1 658.3,1874.5" fill="none" stroke="#d8a886" stroke-width="2.4"/>
<path d="M612.6,1854.2 Q636.9,1864.1 657.2,1877.9" fill="none" stroke="#1c120b" stroke-width="1.1"/>
<path d="M611.7,1856.7 Q634.0,1871.3 656.1,1881.3" fill="none" stroke="#d8a886" stroke-width="2.4"/>
<path d="M610.8,1859.2 Q634.8,1869.9 654.9,1884.6" fill="none" stroke="#1c120b" stroke-width="1.1"/>
<path d="M609.8,1861.7 Q634.6,1877.5 653.6,1887.9" fill="none" stroke="#d8a886" stroke-width="2.4"/>
<path d="M608.8,1864.2 Q632.6,1875.7 652.3,1891.2" fill="none" stroke="#1c120b" stroke-width="1.1"/>
<path d="M607.7,1866.7 Q631.0,1880.3 650.9,1894.5" fill="none" stroke="#d8a886" stroke-width="2.4"/>
<path d="M606.6,1869.1 Q630.1,1881.4 649.5,1897.7" fill="none" stroke="#1c120b" stroke-width="1.1"/>
<path d="M605.5,1871.5 Q624.9,1883.3 648.0,1900.9" fill="none" stroke="#d8a886" stroke-width="2.4"/>
<path d="M604.3,1873.9 Q627.4,1887.0 646.5,1904.1" fill="none" stroke="#1c120b" stroke-width="1.1"/>
<path d="M603.1,1876.2 Q621.2,1889.8 644.9,1907.2" fill="none" stroke="#d8a886" stroke-width="2.4"/>
<path d="M601.8,1878.6 Q624.5,1892.4 643.3,1910.3" fill="none" stroke="#1c120b" stroke-width="1.1"/>
<path d="M600.5,1880.9 Q621.1,1898.5 641.6,1913.4" fill="none" stroke="#d8a886" stroke-width="2.4"/>
<path d="M599.1,1883.1 Q621.5,1897.8 639.8,1916.4" fill="none" stroke="#1c120b" stroke-width="1.1"/>
<path d="M597.7,1885.4 Q620.8,1905.4 638.0,1919.4" fill="none" stroke="#d8a886" stroke-width="2.4"/>
<path d="M596.3,1887.6 Q618.2,1903.0 636.2,1922.4" fill="none" stroke="#1c120b" stroke-width="1.1"/>
<path d="M594.8,1889.8 Q616.2,1908.4 634.3,1925.3" fill="none" stroke="#d8a886" stroke-width="2.4"/>
<path d="M593.3,1892.0 Q614.8,1908.1 632.4,1928.2" fill="none" stroke="#1c120b" stroke-width="1.1"/>
<path d="M591.8,1894.1 Q609.2,1910.2 630.4,1931.1" fill="none" stroke="#d8a886" stroke-width="2.4"/>
<path d="M590.2,1896.2 Q611.3,1913.0 628.3,1933.9" fill="none" stroke="#1c120b" stroke-width="1.1"/>
<path d="M588.6,1898.3 Q604.6,1914.9 626.2,1936.6" fill="none" stroke="#d8a886" stroke-width="2.4"/>
<path d="M586.9,1900.3 Q607.5,1917.9 624.1,1939.4" fill="none" stroke="#1c120b" stroke-width="1.1"/>
<path d="M585.2,1902.4 Q603.7,1922.6 621.9,1942.0" fill="none" stroke="#d8a886" stroke-width="2.4"/>
<path d="M583.5,1904.3 Q603.6,1922.5 619.7,1944.7" fill="none" stroke="#1c120b" stroke-width="1.1"/>
<path d="M581.8,1906.3 Q602.5,1929.7 617.5,1947.3" fill="none" stroke="#d8a886" stroke-width="2.4"/>
<path d="M580.0,1908.2 Q599.6,1927.0 615.1,1949.8" fill="none" stroke="#1c120b" stroke-width="1.1"/>
<path d="M578.2,1910.1 Q597.1,1933.0 612.8,1952.3" fill="none" stroke="#d8a886" stroke-width="2.4"/>
<path d="M576.3,1911.9 Q595.4,1931.3 610.4,1954.7" fill="none" stroke="#1c120b" stroke-width="1.1"/>
<path d="M574.4,1913.7 Q589.3,1933.9 608.0,1957.1" fill="none" stroke="#d8a886" stroke-width="2.4"/>
<path d="M572.5,1915.5 Q591.0,1935.5 605.5,1959.5" fill="none" stroke="#1c120b" stroke-width="1.1"/>
<path d="M570.5,1917.2 Q584.0,1936.5 603.0,1961.8" fill="none" stroke="#d8a886" stroke-width="2.4"/>
<path d="M568.6,1918.9 Q586.5,1939.4 600.4,1964.0" fill="none" stroke="#1c120b" stroke-width="1.1"/>
<path d="M566.6,1920.5 Q582.4,1942.7 597.9,1966.2" fill="none" stroke="#d8a886" stroke-width="2.4"/>
<path d="M564.5,1922.1 Q581.9,1943.2 595.2,1968.4" fill="none" stroke="#1c120b" stroke-width="1.1"/>
<path d="M562.5,1923.7 Q580.4,1949.5 592.6,1970.4" fill="none" stroke="#d8a886" stroke-width="2.4"/>
<path d="M560.4,1925.2 Q577.1,1946.8 589.9,1972.5" fill="none" stroke="#1c120b" stroke-width="1.1"/>
<path d="M558.3,1926.7 Q574.3,1953.1 587.2,1974.4" fill="none" stroke="#d8a886" stroke-width="2.4"/>
<path d="M556.1,1928.1 Q572.3,1950.2 584.4,1976.4" fill="none" stroke="#1c120b" stroke-width="1.1"/>
<path d="M554.0,1929.5 Q565.9,1953.3 581.6,1978.2" fill="none" stroke="#d8a886" stroke-width="2.4"/>
<path d="M551.8,1930.9 Q567.3,1953.5 578.8,1980.0" fill="none" stroke="#1c120b" stroke-width="1.1"/>
<path d="M549.6,1932.2 Q560.0,1954.1 576.0,1981.8" fill="none" stroke="#d8a886" stroke-width="2.4"/>
<path d="M547.3,1933.5 Q562.2,1956.5 573.1,1983.5" fill="none" stroke="#1c120b" stroke-width="1.1"/>
<path d="M545.1,1934.7 Q557.8,1958.2 570.2,1985.1" fill="none" stroke="#d8a886" stroke-width="2.4"/>
<path d="M542.8,1935.9 Q557.0,1959.3 567.2,1986.7" fill="none" stroke="#1c120b" stroke-width="1.1"/>
<path d="M540.5,1937.0 Q555.3,1964.3 564.3,1988.2" fill="none" stroke="#d8a886" stroke-width="2.4"/>
<path d="M538.2,1938.1 Q551.7,1961.9 561.3,1989.6" fill="none" stroke="#1c120b" stroke-width="1.1"/>
<path d="M535.8,1939.1 Q548.7,1968.0 558.3,1991.0" fill="none" stroke="#d8a886" stroke-width="2.4"/>
<path d="M533.5,1940.1 Q546.4,1964.3 555.3,1992.4" fill="none" stroke="#1c120b" stroke-width="1.1"/>
<path d="M531.1,1941.1 Q539.7,1967.9 552.2,1993.6" fill="none" stroke="#d8a886" stroke-width="2.4"/>
<path d="M528.7,1942.0 Q540.9,1966.4 549.1,1994.8" fill="none" stroke="#1c120b" stroke-width="1.1"/>
<path d="M526.3,1942.9 Q533.4,1966.9 546.0,1996.0" fill="none" stroke="#d8a886" stroke-width="2.4"/>
<path d="M523.9,1943.7 Q535.4,1968.4 542.9,1997.1" fill="none" stroke="#1c120b" stroke-width="1.1"/>
<path d="M521.5,1944.4 Q530.9,1968.8 539.8,1998.1" fill="none" stroke="#d8a886" stroke-width="2.4"/>
<path d="M519.1,1945.1 Q529.9,1970.1 536.7,1999.0" fill="none" stroke="#1c120b" stroke-width="1.1"/>
<path d="M516.6,1945.8 Q528.0,1973.6 533.5,1999.9" fill="none" stroke="#d8a886" stroke-width="2.4"/>
<path d="M514.1,1946.4 Q524.2,1971.6 530.3,2000.7" fill="none" stroke="#1c120b" stroke-width="1.1"/>
<path d="M511.7,1947.0 Q521.0,1977.2 527.1,2001.5" fill="none" stroke="#d8a886" stroke-width="2.4"/>
<path d="M509.2,1947.5 Q518.6,1972.9 523.9,2002.2" fill="none" stroke="#1c120b" stroke-width="1.1"/>
<path d="M506.7,1948.0 Q511.8,1976.9 520.7,2002.8" fill="none" stroke="#d8a886" stroke-width="2.4"/>
<path d="M504.2,1948.4 Q512.8,1973.9 517.5,2003.4" fill="none" stroke="#1c120b" stroke-width="1.1"/>
<path d="M501.7,1948.8 Q505.2,1974.5 514.3,2003.9" fill="none" stroke="#d8a886" stroke-width="2.4"/>
<path d="M499.2,1949.1 Q507.1,1974.7 511.0,2004.3" fill="none" stroke="#1c120b" stroke-width="1.1"/>
<path d="M496.6,1949.4 Q502.5,1974.1 507.8,2004.7" fill="none" stroke="#d8a886" stroke-width="2.4"/>
<path d="M494.1,1949.6 Q501.3,1975.3 504.5,2005.0" fill="none" stroke="#1c120b" stroke-width="1.1"/>
<path d="M491.6,1949.8 Q499.4,1977.1 501.3,2005.2" fill="none" stroke="#d8a886" stroke-width="2.4"/>
<path d="M489.1,1949.9 Q495.5,1975.6 498.0,2005.4" fill="none" stroke="#1c120b" stroke-width="1.1"/>
<path d="M486.5,1950.0 Q492.2,1980.3 494.8,2005.5" fill="none" stroke="#d8a886" stroke-width="2.4"/>
<path d="M484.0,1950.0 Q489.8,1975.8 491.5,2005.5" fill="none" stroke="#1c120b" stroke-width="1.1"/>
<path d="M481.5,1950.0 Q482.9,1980.1 488.2,2005.5" fill="none" stroke="#d8a886" stroke-width="2.4"/>
<path d="M478.9,1949.9 Q484.0,1975.6 485.0,2005.4" fill="none" stroke="#1c120b" stroke-width="1.1"/>
<path d="M476.4,1949.8 Q476.3,1976.6 481.7,2005.2" fill="none" stroke="#d8a886" stroke-width="2.4"/>
<path d="M473.9,1949.6 Q478.2,1975.3 478.5,2005.0" fill="none" stroke="#1c120b" stroke-width="1.1"/>
<path d="M471.4,1949.4 Q473.6,1974.0 475.2,2004.7" fill="none" stroke="#d8a886" stroke-width="2.4"/>
<path d="M468.8,1949.1 Q472.4,1974.7 472.0,2004.3" fill="none" stroke="#1c120b" stroke-width="1.1"/>
<path d="M466.3,1948.8 Q470.5,1974.9 468.7,2003.9" fill="none" stroke="#d8a886" stroke-width="2.4"/>
<path d="M463.8,1948.4 Q466.7,1973.9 465.5,2003.4" fill="none" stroke="#1c120b" stroke-width="1.1"/>
<path d="M461.3,1948.0 Q463.3,1977.4 462.3,2002.8" fill="none" stroke="#d8a886" stroke-width="2.4"/>
<path d="M458.8,1947.5 Q460.9,1972.9 459.1,2002.2" fill="none" stroke="#1c120b" stroke-width="1.1"/>
<path d="M456.3,1947.0 Q454.1,1977.1 455.9,2001.5" fill="none" stroke="#d8a886" stroke-width="2.4"/>
<path d="M453.9,1946.4 Q455.3,1971.6 452.7,2000.7" fill="none" stroke="#1c120b" stroke-width="1.1"/>
<path d="M451.4,1945.8 Q447.7,1973.1 449.5,1999.9" fill="none" stroke="#d8a886" stroke-width="2.4"/>
<path d="M448.9,1945.1 Q449.6,1970.1 446.3,1999.0" fill="none" stroke="#1c120b" stroke-width="1.1"/>
<path d="M446.5,1944.4 Q445.2,1968.5 443.2,1998.1" fill="none" stroke="#d8a886" stroke-width="2.4"/>
<path d="M444.1,1943.7 Q444.1,1968.4 440.1,1997.1" fill="none" stroke="#1c120b" stroke-width="1.1"/>
<path d="M441.7,1942.9 Q442.2,1967.2 437.0,1996.0" fill="none" stroke="#d8a886" stroke-width="2.4"/>
<path d="M439.3,1942.0 Q438.6,1966.4 433.9,1994.8" fill="none" stroke="#1c120b" stroke-width="1.1"/>
<path d="M436.9,1941.1 Q435.3,1968.4 430.8,1993.6" fill="none" stroke="#d8a886" stroke-width="2.4"/>
<path d="M434.5,1940.1 Q433.1,1964.3 427.7,1992.4" fill="none" stroke="#1c120b" stroke-width="1.1"/>
<path d="M432.2,1939.1 Q426.4,1968.1 424.7,1991.0" fill="none" stroke="#d8a886" stroke-width="2.4"/>
<path d="M429.8,1938.1 Q427.8,1961.9 421.7,1989.6" fill="none" stroke="#1c120b" stroke-width="1.1"/>
<path d="M427.5,1937.0 Q420.4,1963.8 418.7,1988.2" fill="none" stroke="#d8a886" stroke-width="2.4"/>
<path d="M425.2,1935.9 Q422.5,1959.3 415.8,1986.7" fill="none" stroke="#1c120b" stroke-width="1.1"/>
<path d="M422.9,1934.7 Q418.2,1957.8 412.8,1985.1" fill="none" stroke="#d8a886" stroke-width="2.4"/>
<path d="M420.7,1933.5 Q417.3,1956.5 409.9,1983.5" fill="none" stroke="#1c120b" stroke-width="1.1"/>
<path d="M418.4,1932.2 Q415.7,1954.2 407.0,1981.8" fill="none" stroke="#d8a886" stroke-width="2.4"/>
<path d="M416.2,1930.9 Q412.2,1953.5 404.2,1980.0" fill="none" stroke="#1c120b" stroke-width="1.1"/>
<path d="M414.0,1929.5 Q409.2,1953.8 401.4,1978.2" fill="none" stroke="#d8a886" stroke-width="2.4"/>
<path d="M411.9,1928.1 Q407.2,1950.2 398.6,1976.4" fill="none" stroke="#1c120b" stroke-width="1.1"/>
<path d="M409.7,1926.7 Q400.7,1953.3 395.8,1974.4" fill="none" stroke="#d8a886" stroke-width="2.4"/>
<path d="M407.6,1925.2 Q402.4,1946.8 393.1,1972.5" fill="none" stroke="#1c120b" stroke-width="1.1"/>
<path d="M405.5,1923.7 Q395.3,1949.2 390.4,1970.4" fill="none" stroke="#d8a886" stroke-width="2.4"/>
<path d="M403.5,1922.1 Q397.6,1943.2 387.8,1968.4" fill="none" stroke="#1c120b" stroke-width="1.1"/>
<path d="M401.4,1920.5 Q393.7,1942.2 385.1,1966.2" fill="none" stroke="#d8a886" stroke-width="2.4"/>
<path d="M399.4,1918.9 Q393.0,1939.4 382.6,1964.0" fill="none" stroke="#1c120b" stroke-width="1.1"/>
<path d="M397.5,1917.2 Q391.7,1936.5 380.0,1961.8" fill="none" stroke="#d8a886" stroke-width="2.4"/>
<path d="M395.5,1915.5 Q388.5,1935.5 377.5,1959.5" fill="none" stroke="#1c120b" stroke-width="1.1"/>
<path d="M393.6,1913.7 Q385.7,1934.3 375.0,1957.1" fill="none" stroke="#d8a886" stroke-width="2.4"/>
<path d="M391.7,1911.9 Q384.1,1931.3 372.6,1954.7" fill="none" stroke="#1c120b" stroke-width="1.1"/>
<path d="M389.8,1910.1 Q378.0,1933.4 370.2,1952.3" fill="none" stroke="#d8a886" stroke-width="2.4"/>
<path d="M388.0,1908.2 Q379.9,1927.0 367.9,1949.8" fill="none" stroke="#1c120b" stroke-width="1.1"/>
<path d="M386.2,1906.3 Q373.2,1929.5 365.5,1947.3" fill="none" stroke="#d8a886" stroke-width="2.4"/>
<path d="M384.5,1904.3 Q375.9,1922.5 363.3,1944.7" fill="none" stroke="#1c120b" stroke-width="1.1"/>
<path d="M382.8,1902.4 Q372.3,1922.1 361.1,1942.0" fill="none" stroke="#d8a886" stroke-width="2.4"/>
<path d="M381.1,1900.3 Q372.0,1917.9 358.9,1939.4" fill="none" stroke="#1c120b" stroke-width="1.1"/>
<path d="M379.4,1898.3 Q371.0,1914.6 356.8,1936.6" fill="none" stroke="#d8a886" stroke-width="2.4"/>
<path d="M377.8,1896.2 Q368.2,1913.0 354.7,1933.9" fill="none" stroke="#1c120b" stroke-width="1.1"/>
<path d="M376.2,1894.1 Q365.8,1910.6 352.6,1931.1" fill="none" stroke="#d8a886" stroke-width="2.4"/>
<path d="M374.7,1892.0 Q364.7,1908.1 350.6,1928.2" fill="none" stroke="#1c120b" stroke-width="1.1"/>
<path d="M373.2,1889.8 Q358.8,1908.9 348.7,1925.3" fill="none" stroke="#d8a886" stroke-width="2.4"/>
<path d="M371.7,1887.6 Q361.3,1903.0 346.8,1922.4" fill="none" stroke="#1c120b" stroke-width="1.1"/>
<path d="M370.3,1885.4 Q354.9,1905.4 345.0,1919.4" fill="none" stroke="#d8a886" stroke-width="2.4"/>
<path d="M368.9,1883.1 Q358.0,1897.8 343.2,1916.4" fill="none" stroke="#1c120b" stroke-width="1.1"/>
<path d="M367.5,1880.9 Q354.9,1898.1 341.4,1913.4" fill="none" stroke="#d8a886" stroke-width="2.4"/>
<path d="M366.2,1878.6 Q355.0,1892.4 339.7,1910.3" fill="none" stroke="#1c120b" stroke-width="1.1"/>
<path d="M364.9,1876.2 Q354.5,1889.4 338.1,1907.2" fill="none" stroke="#d8a886" stroke-width="2.4"/>
<path d="M363.7,1873.9 Q352.1,1887.0 336.5,1904.1" fill="none" stroke="#1c120b" stroke-width="1.1"/>
<path d="M362.5,1871.5 Q350.1,1883.5 335.0,1900.9" fill="none" stroke="#d8a886" stroke-width="2.4"/>
<path d="M361.4,1869.1 Q349.4,1881.4 333.5,1897.7" fill="none" stroke="#1c120b" stroke-width="1.1"/>
<path d="M360.3,1866.7 Q344.1,1880.8 332.1,1894.5" fill="none" stroke="#d8a886" stroke-width="2.4"/>
<path d="M359.2,1864.2 Q346.9,1875.7 330.7,1891.2" fill="none" stroke="#1c120b" stroke-width="1.1"/>
<path d="M358.2,1861.7 Q341.1,1877.7 329.4,1887.9" fill="none" stroke="#d8a886" stroke-width="2.4"/>
<path d="M357.2,1859.2 Q344.7,1869.9 328.1,1884.6" fill="none" stroke="#1c120b" stroke-width="1.1"/>
<path d="M356.3,1856.7 Q342.1,1870.9 326.9,1881.3" fill="none" stroke="#d8a886" stroke-width="2.4"/>
<path d="M355.4,1854.2 Q342.6,1864.1 325.8,1877.9" fill="none" stroke="#1c120b" stroke-width="1.1"/>
<path d="M354.5,1851.7 Q342.6,1861.6 324.7,1874.5" fill="none" stroke="#d8a886" stroke-width="2.4"/>
<path d="M353.7,1849.1 Q340.7,1858.1 323.6,1871.1" fill="none" stroke="#1c120b" stroke-width="1.1"/>
<path d="M352.9,1846.5 Q339.2,1854.1 322.7,1867.7" fill="none" stroke="#d8a886" stroke-width="2.4"/>
<path d="M352.2,1844.0 Q339.0,1852.1 321.7,1864.2" fill="none" stroke="#1c120b" stroke-width="1.1"/>
<path d="M351.6,1841.4 Q334.1,1850.3 320.9,1860.8" fill="none" stroke="#d8a886" stroke-width="2.4"/>
<path d="M350.9,1838.7 Q337.5,1846.0 320.1,1857.3" fill="none" stroke="#1c120b" stroke-width="1.1"/>
<path d="M350.4,1836.1 Q332.2,1847.3 319.3,1853.8" fill="none" stroke="#d8a886" stroke-width="2.4"/>
<path d="M349.8,1833.5 Q336.2,1839.9 318.6,1850.3" fill="none" stroke="#1c120b" stroke-width="1.1"/>
<path d="M349.3,1830.8 Q334.2,1841.4 318.0,1846.7" fill="none" stroke="#d8a886" stroke-width="2.4"/>
<path d="M348.9,1828.2 Q335.2,1833.7 317.4,1843.2" fill="none" stroke="#1c120b" stroke-width="1.1"/>
<path d="M348.5,1825.5 Q335.7,1832.1 316.9,1839.7" fill="none" stroke="#d8a886" stroke-width="2.4"/>
<path d="M348.1,1822.8 Q334.3,1827.5 316.5,1836.1" fill="none" stroke="#1c120b" stroke-width="1.1"/>
<path d="M347.8,1820.2 Q333.3,1823.4 316.1,1832.5" fill="none" stroke="#d8a886" stroke-width="2.4"/>
<path d="M347.6,1817.5 Q333.7,1821.2 315.8,1828.9" fill="none" stroke="#1c120b" stroke-width="1.1"/>
<path d="M347.4,1814.8 Q329.3,1818.3 315.5,1825.4" fill="none" stroke="#d8a886" stroke-width="2.4"/>
<path d="M347.2,1812.1 Q333.2,1814.9 315.3,1821.8" fill="none" stroke="#1c120b" stroke-width="1.1"/>
<path d="M347.1,1809.4 Q328.5,1815.4 315.1,1818.2" fill="none" stroke="#d8a886" stroke-width="2.4"/>
<path d="M347.0,1806.7 Q333.0,1808.6 315.0,1814.6" fill="none" stroke="#1c120b" stroke-width="1.1"/>
<path d="M347.0,1804.0 Q331.5,1810.5 315.0,1811.0" fill="none" stroke="#d8a886" stroke-width="2.4"/>
<path d="M347.0,1801.3 Q333.0,1802.4 315.0,1807.4" fill="none" stroke="#1c120b" stroke-width="1.1"/>
<path d="M347.1,1798.6 Q334.1,1801.8 315.1,1803.8" fill="none" stroke="#d8a886" stroke-width="2.4"/>
<path d="M347.2,1795.9 Q333.2,1796.1 315.3,1800.2" fill="none" stroke="#1c120b" stroke-width="1.1"/>
<path d="M347.4,1793.2 Q332.7,1792.4 315.5,1796.6" fill="none" stroke="#d8a886" stroke-width="2.4"/>
<path d="M347.6,1790.5 Q333.7,1789.8 315.8,1793.1" fill="none" stroke="#1c120b" stroke-width="1.1"/>
<path d="M347.8,1787.8 Q329.8,1786.2 316.1,1789.5" fill="none" stroke="#d8a886" stroke-width="2.4"/>
<path d="M348.1,1785.2 Q334.3,1783.5 316.5,1785.9" fill="none" stroke="#1c120b" stroke-width="1.1"/>
<path d="M348.5,1782.5 Q330.1,1783.0 316.9,1782.3" fill="none" stroke="#d8a886" stroke-width="2.4"/>
<path d="M348.9,1779.8 Q335.2,1777.3 317.4,1778.8" fill="none" stroke="#1c120b" stroke-width="1.1"/>
<path d="M349.3,1777.2 Q334.2,1779.2 318.0,1775.3" fill="none" stroke="#d8a886" stroke-width="2.4"/>
<path d="M349.8,1774.5 Q336.2,1771.1 318.6,1771.7" fill="none" stroke="#1c120b" stroke-width="1.1"/>
<path d="M350.4,1771.9 Q337.8,1771.7 319.3,1768.2" fill="none" stroke="#d8a886" stroke-width="2.4"/>
<path d="M350.9,1769.3 Q337.5,1765.0 320.1,1764.7" fill="none" stroke="#1c120b" stroke-width="1.1"/>
<path d="M351.6,1766.6 Q337.5,1762.2 320.9,1761.2" fill="none" stroke="#d8a886" stroke-width="2.4"/>
<path d="M352.2,1764.0 Q339.0,1758.9 321.7,1757.8" fill="none" stroke="#1c120b" stroke-width="1.1"/>
<path d="M352.9,1761.5 Q335.6,1755.0 322.7,1754.3" fill="none" stroke="#d8a886" stroke-width="2.4"/>
<path d="M353.7,1758.9 Q340.7,1752.9 323.6,1750.9" fill="none" stroke="#1c120b" stroke-width="1.1"/>
<path d="M354.5,1756.3 Q337.0,1751.4 324.7,1747.5" fill="none" stroke="#d8a886" stroke-width="2.4"/>
<path d="M355.4,1753.8 Q342.6,1746.9 325.8,1744.1" fill="none" stroke="#1c120b" stroke-width="1.1"/>
<path d="M356.3,1751.3 Q342.2,1748.6 326.9,1740.7" fill="none" stroke="#d8a886" stroke-width="2.4"/>
<path d="M357.2,1748.8 Q344.7,1741.1 328.1,1737.4" fill="none" stroke="#1c120b" stroke-width="1.1"/>
<path d="M358.2,1746.3 Q346.8,1742.6 329.4,1734.1" fill="none" stroke="#d8a886" stroke-width="2.4"/>
<path d="M359.2,1743.8 Q346.9,1735.3 330.7,1730.8" fill="none" stroke="#1c120b" stroke-width="1.1"/>
<path d="M360.3,1741.3 Q347.4,1733.7 332.1,1727.5" fill="none" stroke="#d8a886" stroke-width="2.4"/>
<path d="M361.4,1738.9 Q349.4,1729.6 333.5,1724.3" fill="none" stroke="#1c120b" stroke-width="1.1"/>
<path d="M362.5,1736.5 Q346.5,1725.8 335.0,1721.1" fill="none" stroke="#d8a886" stroke-width="2.4"/>
<path d="M363.7,1734.1 Q352.1,1724.0 336.5,1717.9" fill="none" stroke="#1c120b" stroke-width="1.1"/>
<path d="M364.9,1731.8 Q348.9,1721.8 338.1,1714.8" fill="none" stroke="#d8a886" stroke-width="2.4"/>
<path d="M366.2,1729.4 Q355.0,1718.6 339.7,1711.7" fill="none" stroke="#1c120b" stroke-width="1.1"/>
<path d="M367.5,1727.1 Q355.1,1719.7 341.4,1708.6" fill="none" stroke="#d8a886" stroke-width="2.4"/>
<path d="M368.9,1724.9 Q358.0,1713.2 343.2,1705.6" fill="none" stroke="#1c120b" stroke-width="1.1"/>
<path d="M370.3,1722.6 Q360.6,1715.5 345.0,1702.6" fill="none" stroke="#d8a886" stroke-width="2.4"/>
<path d="M371.7,1720.4 Q361.3,1708.0 346.8,1699.6" fill="none" stroke="#1c120b" stroke-width="1.1"/>
<path d="M373.2,1718.2 Q362.1,1707.7 348.7,1696.7" fill="none" stroke="#d8a886" stroke-width="2.4"/>
<path d="M374.7,1716.0 Q364.7,1702.9 350.6,1693.8" fill="none" stroke="#1c120b" stroke-width="1.1"/>
<path d="M376.2,1713.9 Q362.2,1699.8 352.6,1690.9" fill="none" stroke="#d8a886" stroke-width="2.4"/>
<path d="M377.8,1711.8 Q368.2,1698.0 354.7,1688.1" fill="none" stroke="#1c120b" stroke-width="1.1"/>
<path d="M379.4,1709.7 Q365.5,1695.2 356.8,1685.4" fill="none" stroke="#d8a886" stroke-width="2.4"/>
<path d="M381.1,1707.7 Q372.0,1693.1 358.9,1682.6" fill="none" stroke="#1c120b" stroke-width="1.1"/>
<path d="M382.8,1705.6 Q372.6,1693.7 361.1,1680.0" fill="none" stroke="#d8a886" stroke-width="2.4"/>
<path d="M384.5,1703.7 Q375.9,1688.5 363.3,1677.3" fill="none" stroke="#1c120b" stroke-width="1.1"/>
<path d="M386.2,1701.7 Q378.9,1691.2 365.5,1674.7" fill="none" stroke="#d8a886" stroke-width="2.4"/>
<path d="M388.0,1699.8 Q379.9,1684.0 367.9,1672.2" fill="none" stroke="#1c120b" stroke-width="1.1"/>
<path d="M389.8,1697.9 Q381.2,1685.2 370.2,1669.7" fill="none" stroke="#d8a886" stroke-width="2.4"/>
<path d="M391.7,1696.1 Q384.1,1679.7 372.6,1667.3" fill="none" stroke="#1c120b" stroke-width="1.1"/>
<path d="M393.6,1694.3 Q382.0,1677.6 375.0,1664.9" fill="none" stroke="#d8a886" stroke-width="2.4"/>
<path d="M395.5,1692.5 Q388.5,1675.5 377.5,1662.5" fill="none" stroke="#1c120b" stroke-width="1.1"/>
<path d="M397.5,1690.8 Q386.2,1672.7 380.0,1660.2" fill="none" stroke="#d8a886" stroke-width="2.4"/>
<path d="M399.4,1689.1 Q393.0,1671.6 382.6,1658.0" fill="none" stroke="#1c120b" stroke-width="1.1"/>
<path d="M401.4,1687.5 Q394.0,1671.5 385.1,1655.8" fill="none" stroke="#d8a886" stroke-width="2.4"/>
<path d="M403.5,1685.9 Q397.6,1667.8 387.8,1653.6" fill="none" stroke="#1c120b" stroke-width="1.1"/>
<path d="M405.5,1684.3 Q401.0,1670.7 390.4,1651.6" fill="none" stroke="#d8a886" stroke-width="2.4"/>
<path d="M407.6,1682.8 Q402.4,1664.2 393.1,1649.5" fill="none" stroke="#1c120b" stroke-width="1.1"/>
<path d="M409.7,1681.3 Q403.9,1666.6 395.8,1647.6" fill="none" stroke="#d8a886" stroke-width="2.4"/>
<path d="M411.9,1679.9 Q407.2,1660.8 398.6,1645.6" fill="none" stroke="#1c120b" stroke-width="1.1"/>
<path d="M414.0,1678.5 Q405.4,1660.0 401.4,1643.8" fill="none" stroke="#d8a886" stroke-width="2.4"/>
<path d="M416.2,1677.1 Q412.2,1657.5 404.2,1642.0" fill="none" stroke="#1c120b" stroke-width="1.1"/>
<path d="M418.4,1675.8 Q410.2,1655.0 407.0,1640.2" fill="none" stroke="#d8a886" stroke-width="2.4"/>
<path d="M420.7,1674.5 Q417.3,1654.5 409.9,1638.5" fill="none" stroke="#1c120b" stroke-width="1.1"/>
<path d="M422.9,1673.3 Q418.6,1653.9 412.8,1636.9" fill="none" stroke="#d8a886" stroke-width="2.4"/>
<path d="M425.2,1672.1 Q422.5,1651.7 415.8,1635.3" fill="none" stroke="#1c120b" stroke-width="1.1"/>
<path d="M427.5,1671.0 Q426.1,1654.5 418.7,1633.8" fill="none" stroke="#d8a886" stroke-width="2.4"/>
<path d="M429.8,1669.9 Q427.8,1649.1 421.7,1632.4" fill="none" stroke="#1c120b" stroke-width="1.1"/>
<path d="M432.2,1668.9 Q429.6,1652.7 424.7,1631.0" fill="none" stroke="#d8a886" stroke-width="2.4"/>
<path d="M434.5,1667.9 Q433.1,1646.7 427.7,1629.6" fill="none" stroke="#1c120b" stroke-width="1.1"/>
<path d="M436.9,1666.9 Q431.5,1647.6 430.8,1628.4" fill="none" stroke="#d8a886" stroke-width="2.4"/>
<path d="M439.3,1666.0 Q438.6,1644.6 433.9,1627.2" fill="none" stroke="#1c120b" stroke-width="1.1"/>
<path d="M441.7,1665.1 Q436.8,1642.8 437.0,1626.0" fill="none" stroke="#d8a886" stroke-width="2.4"/>
<path d="M444.1,1664.3 Q444.1,1642.6 440.1,1624.9" fill="none" stroke="#1c120b" stroke-width="1.1"/>
<path d="M446.5,1663.6 Q445.6,1641.7 443.2,1623.9" fill="none" stroke="#d8a886" stroke-width="2.4"/>
<path d="M448.9,1662.9 Q449.6,1640.9 446.3,1623.0" fill="none" stroke="#1c120b" stroke-width="1.1"/>
<path d="M451.4,1662.2 Q453.4,1643.4 449.5,1622.1" fill="none" stroke="#d8a886" stroke-width="2.4"/>
<path d="M453.9,1661.6 Q455.3,1639.4 452.7,1621.3" fill="none" stroke="#1c120b" stroke-width="1.1"/>
<path d="M456.3,1661.0 Q457.2,1643.8 455.9,1620.5" fill="none" stroke="#d8a886" stroke-width="2.4"/>
<path d="M458.8,1660.5 Q460.9,1638.1 459.1,1619.8" fill="none" stroke="#1c120b" stroke-width="1.1"/>
<path d="M461.3,1660.0 Q459.5,1640.6 462.3,1619.2" fill="none" stroke="#d8a886" stroke-width="2.4"/>
<path d="M463.8,1659.6 Q466.7,1637.1 465.5,1618.6" fill="none" stroke="#1c120b" stroke-width="1.1"/>
<path d="M466.3,1659.2 Q465.0,1636.5 468.7,1618.1" fill="none" stroke="#d8a886" stroke-width="2.4"/>
<path d="M468.8,1658.9 Q472.4,1636.3 472.0,1617.7" fill="none" stroke="#1c120b" stroke-width="1.1"/>
<path d="M471.4,1658.6 Q474.1,1635.3 475.2,1617.3" fill="none" stroke="#d8a886" stroke-width="2.4"/>
<path d="M473.9,1658.4 Q478.2,1635.7 478.5,1617.0" fill="none" stroke="#1c120b" stroke-width="1.1"/>
<path d="M476.4,1658.2 Q482.1,1637.7 481.7,1616.8" fill="none" stroke="#d8a886" stroke-width="2.4"/>
<path d="M478.9,1658.1 Q484.0,1635.4 485.0,1616.6" fill="none" stroke="#1c120b" stroke-width="1.1"/>
<path d="M481.5,1658.0 Q485.9,1640.1 488.2,1616.5" fill="none" stroke="#d8a886" stroke-width="2.4"/>
<path d="M484.0,1658.0 Q489.8,1635.2 491.5,1616.5" fill="none" stroke="#1c120b" stroke-width="1.1"/>
<path d="M486.5,1658.0 Q488.3,1639.2 494.8,1616.5" fill="none" stroke="#d8a886" stroke-width="2.4"/>
<path d="M489.1,1658.1 Q495.5,1635.4 498.0,1616.6" fill="none" stroke="#1c120b" stroke-width="1.1"/>
<path d="M491.6,1658.2 Q493.9,1636.1 501.3,1616.8" fill="none" stroke="#d8a886" stroke-width="2.4"/>
<path d="M494.1,1658.4 Q501.3,1635.7 504.5,1617.0" fill="none" stroke="#1c120b" stroke-width="1.1"/>
<path d="M496.6,1658.6 Q503.0,1635.0 507.8,1617.3" fill="none" stroke="#d8a886" stroke-width="2.4"/>
<path d="M499.2,1658.9 Q507.1,1636.3 511.0,1617.7" fill="none" stroke="#1c120b" stroke-width="1.1"/>
<path d="M501.7,1659.2 Q511.0,1637.8 514.3,1618.1" fill="none" stroke="#d8a886" stroke-width="2.4"/>
<path d="M504.2,1659.6 Q512.8,1637.1 517.5,1618.6" fill="none" stroke="#1c120b" stroke-width="1.1"/>
<path d="M506.7,1660.0 Q514.7,1641.9 520.7,1619.2" fill="none" stroke="#d8a886" stroke-width="2.4"/>
<path d="M509.2,1660.5 Q518.6,1638.1 523.9,1619.8" fill="none" stroke="#1c120b" stroke-width="1.1"/>
<path d="M511.7,1661.0 Q517.0,1643.4 527.1,1620.5" fill="none" stroke="#d8a886" stroke-width="2.4"/>
<path d="M514.1,1661.6 Q524.2,1639.4 530.3,1621.3" fill="none" stroke="#1c120b" stroke-width="1.1"/>
<path d="M516.6,1662.2 Q522.6,1641.8 533.5,1622.1" fill="none" stroke="#d8a886" stroke-width="2.4"/>
<path d="M519.1,1662.9 Q529.9,1640.9 536.7,1623.0" fill="none" stroke="#1c120b" stroke-width="1.1"/>
<path d="M521.5,1663.6 Q531.5,1640.9 539.8,1623.9" fill="none" stroke="#d8a886" stroke-width="2.4"/>
<path d="M523.9,1664.3 Q535.4,1642.6 542.9,1624.9" fill="none" stroke="#1c120b" stroke-width="1.1"/>
<path d="M526.3,1665.1 Q539.2,1643.7 546.0,1626.0" fill="none" stroke="#d8a886" stroke-width="2.4"/>
<path d="M528.7,1666.0 Q540.9,1644.6 549.1,1627.2" fill="none" stroke="#1c120b" stroke-width="1.1"/>
<path d="M531.1,1666.9 Q542.7,1649.1 552.2,1628.4" fill="none" stroke="#d8a886" stroke-width="2.4"/>
<path d="M533.5,1667.9 Q546.4,1646.7 555.3,1629.6" fill="none" stroke="#1c120b" stroke-width="1.1"/>
<path d="M535.8,1668.9 Q544.7,1652.9 558.3,1631.0" fill="none" stroke="#d8a886" stroke-width="2.4"/>
<path d="M538.2,1669.9 Q551.7,1649.1 561.3,1632.4" fill="none" stroke="#1c120b" stroke-width="1.1"/>
<path d="M540.5,1671.0 Q549.9,1653.1 564.3,1633.8" fill="none" stroke="#d8a886" stroke-width="2.4"/>
<path d="M542.8,1672.1 Q557.0,1651.7 567.2,1635.3" fill="none" stroke="#1c120b" stroke-width="1.1"/>
<path d="M545.1,1673.3 Q558.5,1652.7 570.2,1636.9" fill="none" stroke="#d8a886" stroke-width="2.4"/>
<path d="M547.3,1674.5 Q562.2,1654.5 573.1,1638.5" fill="none" stroke="#1c120b" stroke-width="1.1"/>
<path d="M549.6,1675.8 Q565.8,1655.5 576.0,1640.2" fill="none" stroke="#d8a886" stroke-width="2.4"/>
<path d="M551.8,1677.1 Q567.3,1657.5 578.8,1642.0" fill="none" stroke="#1c120b" stroke-width="1.1"/>
<path d="M554.0,1678.5 Q568.8,1661.6 581.6,1643.8" fill="none" stroke="#d8a886" stroke-width="2.4"/>
<path d="M556.1,1679.9 Q572.3,1660.8 584.4,1645.6" fill="none" stroke="#1c120b" stroke-width="1.1"/>
<path d="M558.3,1681.3 Q570.3,1667.4 587.2,1647.6" fill="none" stroke="#d8a886" stroke-width="2.4"/>
<path d="M560.4,1682.8 Q577.1,1664.2 589.9,1649.5" fill="none" stroke="#1c120b" stroke-width="1.1"/>
<path d="M562.5,1684.3 Q575.1,1669.6 592.6,1651.6" fill="none" stroke="#d8a886" stroke-width="2.4"/>
<path d="M564.5,1685.9 Q581.9,1667.8 595.2,1653.6" fill="none" stroke="#1c120b" stroke-width="1.1"/>
<path d="M566.6,1687.5 Q583.1,1670.0 597.9,1655.8" fill="none" stroke="#d8a886" stroke-width="2.4"/>
<path d="M568.6,1689.1 Q586.5,1671.6 600.4,1658.0" fill="none" stroke="#1c120b" stroke-width="1.1"/>
<path d="M570.5,1690.8 Q589.8,1672.6 603.0,1660.2" fill="none" stroke="#d8a886" stroke-width="2.4"/>
<path d="M572.5,1692.5 Q591.0,1675.5 605.5,1662.5" fill="none" stroke="#1c120b" stroke-width="1.1"/>
<path d="M574.4,1694.3 Q592.1,1679.0 608.0,1664.9" fill="none" stroke="#d8a886" stroke-width="2.4"/>
<path d="M576.3,1696.1 Q595.4,1679.7 610.4,1667.3" fill="none" stroke="#1c120b" stroke-width="1.1"/>
<path d="M578.2,1697.9 Q593.1,1686.3 612.8,1669.7" fill="none" stroke="#d8a886" stroke-width="2.4"/>
<path d="M580.0,1699.8 Q599.6,1684.0 615.1,1672.2" fill="none" stroke="#1c120b" stroke-width="1.1"/>
<path d="M581.8,1701.7 Q597.2,1690.7 617.5,1674.7" fill="none" stroke="#d8a886" stroke-width="2.4"/>
<path d="M583.5,1703.7 Q603.6,1688.5 619.7,1677.3" fill="none" stroke="#1c120b" stroke-width="1.1"/>
<path d="M585.2,1705.6 Q604.5,1692.1 621.9,1680.0" fill="none" stroke="#d8a886" stroke-width="2.4"/>
<path d="M586.9,1707.7 Q607.5,1693.1 624.1,1682.6" fill="none" stroke="#1c120b" stroke-width="1.1"/>
<path d="M588.6,1709.7 Q610.4,1694.6 626.2,1685.4" fill="none" stroke="#d8a886" stroke-width="2.4"/>
<path d="M590.2,1711.8 Q611.3,1698.0 628.3,1688.1" fill="none" stroke="#1c120b" stroke-width="1.1"/>
<path d="M591.8,1713.9 Q612.0,1700.8 630.4,1690.9" fill="none" stroke="#d8a886" stroke-width="2.4"/>
<path d="M593.3,1716.0 Q614.8,1702.9 632.4,1693.8" fill="none" stroke="#1c120b" stroke-width="1.1"/>
<path d="M594.8,1718.2 Q612.1,1709.2 634.3,1696.7" fill="none" stroke="#d8a886" stroke-width="2.4"/>
<path d="M596.3,1720.4 Q618.2,1708.0 636.2,1699.6" fill="none" stroke="#1c120b" stroke-width="1.1"/>
<path d="M597.7,1722.6 Q615.5,1715.5 638.0,1702.6" fill="none" stroke="#d8a886" stroke-width="2.4"/>
<path d="M599.1,1724.9 Q621.5,1713.2 639.8,1705.6" fill="none" stroke="#1c120b" stroke-width="1.1"/>
<path d="M600.5,1727.1 Q622.0,1718.3 641.6,1708.6" fill="none" stroke="#d8a886" stroke-width="2.4"/>
<path d="M601.8,1729.4 Q624.5,1718.6 643.3,1711.7" fill="none" stroke="#1c120b" stroke-width="1.1"/>
<path d="M603.1,1731.8 Q627.0,1720.7 644.9,1714.8" fill="none" stroke="#d8a886" stroke-width="2.4"/>
<path d="M604.3,1734.1 Q627.4,1724.0 646.5,1717.9" fill="none" stroke="#1c120b" stroke-width="1.1"/>
<path d="M605.5,1736.5 Q627.6,1726.4 648.0,1721.1" fill="none" stroke="#d8a886" stroke-width="2.4"/>
<path d="M606.6,1738.9 Q630.1,1729.6 649.5,1724.3" fill="none" stroke="#1c120b" stroke-width="1.1"/>
<path d="M607.7,1741.3 Q626.9,1735.3 650.9,1727.5" fill="none" stroke="#d8a886" stroke-width="2.4"/>
<path d="M608.8,1743.8 Q632.6,1735.3 652.3,1730.8" fill="none" stroke="#1c120b" stroke-width="1.1"/>
<path d="M609.8,1746.3 Q629.3,1743.2 653.6,1734.1" fill="none" stroke="#d8a886" stroke-width="2.4"/>
<path d="M610.8,1748.8 Q634.8,1741.1 654.9,1737.4" fill="none" stroke="#1c120b" stroke-width="1.1"/>
<path d="M611.7,1751.3 Q634.9,1747.4 656.1,1740.7" fill="none" stroke="#d8a886" stroke-width="2.4"/>
<path d="M612.6,1753.8 Q636.9,1746.9 657.2,1744.1" fill="none" stroke="#1c120b" stroke-width="1.1"/>
<path d="M613.5,1756.3 Q638.9,1750.0 658.3,1747.5" fill="none" stroke="#d8a886" stroke-width="2.4"/>
<path d="M614.3,1758.9 Q638.8,1752.9 659.4,1750.9" fill="none" stroke="#1c120b" stroke-width="1.1"/>
<path d="M615.1,1761.5 Q638.6,1755.0 660.3,1754.3" fill="none" stroke="#d8a886" stroke-width="2.4"/>
<path d="M615.8,1764.0 Q640.5,1758.9 661.3,1757.8" fill="none" stroke="#1c120b" stroke-width="1.1"/>
<path d="M616.4,1766.6 Q636.8,1763.7 662.1,1761.2" fill="none" stroke="#d8a886" stroke-width="2.4"/>
<path d="M617.1,1769.3 Q642.0,1765.0 662.9,1764.7" fill="none" stroke="#1c120b" stroke-width="1.1"/>
<path d="M617.6,1771.9 Q638.3,1772.7 663.7,1768.2" fill="none" stroke="#d8a886" stroke-width="2.4"/>
<path d="M618.2,1774.5 Q643.3,1771.1 664.4,1771.7" fill="none" stroke="#1c120b" stroke-width="1.1"/>
<path d="M618.7,1777.2 Q642.8,1778.5 665.0,1775.3" fill="none" stroke="#d8a886" stroke-width="2.4"/>
<path d="M619.1,1779.8 Q644.3,1777.3 665.6,1778.8" fill="none" stroke="#1c120b" stroke-width="1.1"/>
<path d="M619.5,1782.5 Q645.8,1781.5 666.1,1782.3" fill="none" stroke="#d8a886" stroke-width="2.4"/>
<path d="M619.9,1785.2 Q645.2,1783.5 666.5,1785.9" fill="none" stroke="#1c120b" stroke-width="1.1"/>
<path d="M620.2,1787.8 Q644.4,1785.7 666.9,1789.5" fill="none" stroke="#d8a886" stroke-width="2.4"/>
<path d="M620.4,1790.5 Q645.8,1789.8 667.2,1793.1" fill="none" stroke="#1c120b" stroke-width="1.1"/>
<path d="M620.6,1793.2 Q641.6,1793.6 667.5,1796.6" fill="none" stroke="#d8a886" stroke-width="2.4"/>
<path d="M620.8,1795.9 Q646.3,1796.1 667.7,1800.2" fill="none" stroke="#1c120b" stroke-width="1.1"/>
<path d="M620.9,1798.6 Q642.0,1803.2 667.9,1803.8" fill="none" stroke="#d8a886" stroke-width="2.4"/>
<path d="M621.0,1801.3 Q646.5,1802.4 668.0,1807.4" fill="none" stroke="#1c120b" stroke-width="1.1"/>
<ellipse cx="485.0" cy="1803.0" rx="118.0" ry="127.0" fill="url(#lumg)"/>
<g clip-path="url(#lumclip)">
<circle cx="296.1" cy="1832.2" r="16.5" fill="url(#lsph)" stroke="#8d8076" stroke-width="0.6" stroke-opacity="0.60"/>
<circle cx="290.5" cy="1809.7" r="16.5" fill="url(#lsph)" stroke="#8d8076" stroke-width="0.6" stroke-opacity="0.60"/>
<circle cx="287.6" cy="1786.6" r="16.5" fill="url(#lsph)" stroke="#8d8076" stroke-width="0.6" stroke-opacity="0.60"/>
<circle cx="287.3" cy="1763.3" r="16.5" fill="url(#lsph)" stroke="#8d8076" stroke-width="0.6" stroke-opacity="0.60"/>
<circle cx="289.8" cy="1740.2" r="16.5" fill="url(#lsph)" stroke="#8d8076" stroke-width="0.6" stroke-opacity="0.60"/>
<circle cx="295.0" cy="1717.5" r="16.5" fill="url(#lsph)" stroke="#8d8076" stroke-width="0.6" stroke-opacity="0.60"/>
<circle cx="302.8" cy="1695.7" r="16.5" fill="url(#lsph)" stroke="#8d8076" stroke-width="0.6" stroke-opacity="0.60"/>
<circle cx="313.0" cy="1675.2" r="16.5" fill="url(#lsph)" stroke="#8d8076" stroke-width="0.6" stroke-opacity="0.60"/>
<circle cx="325.6" cy="1656.2" r="16.5" fill="url(#lsph)" stroke="#8d8076" stroke-width="0.6" stroke-opacity="0.60"/>
<circle cx="340.3" cy="1639.0" r="16.5" fill="url(#lsph)" stroke="#8d8076" stroke-width="0.6" stroke-opacity="0.60"/>
<circle cx="356.9" cy="1624.0" r="16.5" fill="url(#lsph)" stroke="#8d8076" stroke-width="0.6" stroke-opacity="0.60"/>
<circle cx="375.1" cy="1611.3" r="16.5" fill="url(#lsph)" stroke="#8d8076" stroke-width="0.6" stroke-opacity="0.60"/>
<circle cx="394.6" cy="1601.1" r="16.5" fill="url(#lsph)" stroke="#8d8076" stroke-width="0.6" stroke-opacity="0.60"/>
<circle cx="415.2" cy="1593.7" r="16.5" fill="url(#lsph)" stroke="#8d8076" stroke-width="0.6" stroke-opacity="0.60"/>
<circle cx="436.5" cy="1589.1" r="16.5" fill="url(#lsph)" stroke="#8d8076" stroke-width="0.6" stroke-opacity="0.60"/>
<circle cx="458.2" cy="1587.4" r="16.5" fill="url(#lsph)" stroke="#8d8076" stroke-width="0.6" stroke-opacity="0.60"/>
<circle cx="479.8" cy="1588.6" r="16.5" fill="url(#lsph)" stroke="#8d8076" stroke-width="0.6" stroke-opacity="0.60"/>
<circle cx="501.2" cy="1592.7" r="16.5" fill="url(#lsph)" stroke="#8d8076" stroke-width="0.6" stroke-opacity="0.60"/>
<circle cx="521.9" cy="1599.7" r="16.5" fill="url(#lsph)" stroke="#8d8076" stroke-width="0.6" stroke-opacity="0.60"/>
<circle cx="541.7" cy="1609.4" r="16.5" fill="url(#lsph)" stroke="#8d8076" stroke-width="0.6" stroke-opacity="0.60"/>
<circle cx="560.1" cy="1621.7" r="16.5" fill="url(#lsph)" stroke="#8d8076" stroke-width="0.6" stroke-opacity="0.60"/>
<circle cx="577.0" cy="1636.3" r="16.5" fill="url(#lsph)" stroke="#8d8076" stroke-width="0.6" stroke-opacity="0.60"/>
<circle cx="592.0" cy="1653.2" r="16.5" fill="url(#lsph)" stroke="#8d8076" stroke-width="0.6" stroke-opacity="0.60"/>
<circle cx="605.0" cy="1671.9" r="16.5" fill="url(#lsph)" stroke="#8d8076" stroke-width="0.6" stroke-opacity="0.60"/>
<circle cx="615.7" cy="1692.2" r="16.5" fill="url(#lsph)" stroke="#8d8076" stroke-width="0.6" stroke-opacity="0.60"/>
<circle cx="623.9" cy="1713.8" r="16.5" fill="url(#lsph)" stroke="#8d8076" stroke-width="0.6" stroke-opacity="0.60"/>
<circle cx="629.5" cy="1736.3" r="16.5" fill="url(#lsph)" stroke="#8d8076" stroke-width="0.6" stroke-opacity="0.60"/>
<circle cx="632.4" cy="1759.4" r="16.5" fill="url(#lsph)" stroke="#8d8076" stroke-width="0.6" stroke-opacity="0.60"/>
<circle cx="632.7" cy="1782.7" r="16.5" fill="url(#lsph)" stroke="#8d8076" stroke-width="0.6" stroke-opacity="0.60"/>
<circle cx="630.2" cy="1805.8" r="16.5" fill="url(#lsph)" stroke="#8d8076" stroke-width="0.6" stroke-opacity="0.60"/>
<circle cx="625.0" cy="1828.5" r="16.5" fill="url(#lsph)" stroke="#8d8076" stroke-width="0.6" stroke-opacity="0.60"/>
<circle cx="617.2" cy="1850.3" r="16.5" fill="url(#lsph)" stroke="#8d8076" stroke-width="0.6" stroke-opacity="0.60"/>
<circle cx="607.0" cy="1870.8" r="16.5" fill="url(#lsph)" stroke="#8d8076" stroke-width="0.6" stroke-opacity="0.60"/>
<circle cx="594.4" cy="1889.8" r="16.5" fill="url(#lsph)" stroke="#8d8076" stroke-width="0.6" stroke-opacity="0.60"/>
<circle cx="579.7" cy="1907.0" r="16.5" fill="url(#lsph)" stroke="#8d8076" stroke-width="0.6" stroke-opacity="0.60"/>
<circle cx="563.1" cy="1922.0" r="16.5" fill="url(#lsph)" stroke="#8d8076" stroke-width="0.6" stroke-opacity="0.60"/>
<circle cx="544.9" cy="1934.7" r="16.5" fill="url(#lsph)" stroke="#8d8076" stroke-width="0.6" stroke-opacity="0.60"/>
<circle cx="525.4" cy="1944.9" r="16.5" fill="url(#lsph)" stroke="#8d8076" stroke-width="0.6" stroke-opacity="0.60"/>
<circle cx="504.8" cy="1952.3" r="16.5" fill="url(#lsph)" stroke="#8d8076" stroke-width="0.6" stroke-opacity="0.60"/>
<circle cx="483.5" cy="1956.9" r="16.5" fill="url(#lsph)" stroke="#8d8076" stroke-width="0.6" stroke-opacity="0.60"/>
<circle cx="461.8" cy="1958.6" r="16.5" fill="url(#lsph)" stroke="#8d8076" stroke-width="0.6" stroke-opacity="0.60"/>
<circle cx="440.2" cy="1957.4" r="16.5" fill="url(#lsph)" stroke="#8d8076" stroke-width="0.6" stroke-opacity="0.60"/>
<circle cx="418.8" cy="1953.3" r="16.5" fill="url(#lsph)" stroke="#8d8076" stroke-width="0.6" stroke-opacity="0.60"/>
<circle cx="398.1" cy="1946.3" r="16.5" fill="url(#lsph)" stroke="#8d8076" stroke-width="0.6" stroke-opacity="0.60"/>
<circle cx="378.3" cy="1936.6" r="16.5" fill="url(#lsph)" stroke="#8d8076" stroke-width="0.6" stroke-opacity="0.60"/>
<circle cx="359.9" cy="1924.3" r="16.5" fill="url(#lsph)" stroke="#8d8076" stroke-width="0.6" stroke-opacity="0.60"/>
<circle cx="343.0" cy="1909.7" r="16.5" fill="url(#lsph)" stroke="#8d8076" stroke-width="0.6" stroke-opacity="0.60"/>
<circle cx="328.0" cy="1892.8" r="16.5" fill="url(#lsph)" stroke="#8d8076" stroke-width="0.6" stroke-opacity="0.60"/>
<circle cx="315.0" cy="1874.1" r="16.5" fill="url(#lsph)" stroke="#8d8076" stroke-width="0.6" stroke-opacity="0.60"/>
<circle cx="304.3" cy="1853.8" r="16.5" fill="url(#lsph)" stroke="#8d8076" stroke-width="0.6" stroke-opacity="0.60"/>
<circle cx="407.2" cy="1930.4" r="15.9" fill="url(#lsph)" stroke="#8d8076" stroke-width="0.6" stroke-opacity="0.60"/>
<circle cx="387.7" cy="1921.2" r="15.9" fill="url(#lsph)" stroke="#8d8076" stroke-width="0.6" stroke-opacity="0.60"/>
<circle cx="369.6" cy="1909.2" r="15.9" fill="url(#lsph)" stroke="#8d8076" stroke-width="0.6" stroke-opacity="0.60"/>
<circle cx="353.1" cy="1894.7" r="15.9" fill="url(#lsph)" stroke="#8d8076" stroke-width="0.6" stroke-opacity="0.60"/>
<circle cx="338.7" cy="1878.0" r="15.9" fill="url(#lsph)" stroke="#8d8076" stroke-width="0.6" stroke-opacity="0.60"/>
<circle cx="326.5" cy="1859.3" r="15.9" fill="url(#lsph)" stroke="#8d8076" stroke-width="0.6" stroke-opacity="0.60"/>
<circle cx="316.8" cy="1838.9" r="15.9" fill="url(#lsph)" stroke="#8d8076" stroke-width="0.6" stroke-opacity="0.60"/>
<circle cx="309.8" cy="1817.4" r="15.9" fill="url(#lsph)" stroke="#8d8076" stroke-width="0.6" stroke-opacity="0.60"/>
<circle cx="305.6" cy="1795.0" r="15.9" fill="url(#lsph)" stroke="#8d8076" stroke-width="0.6" stroke-opacity="0.60"/>
<circle cx="304.2" cy="1772.2" r="15.9" fill="url(#lsph)" stroke="#8d8076" stroke-width="0.6" stroke-opacity="0.60"/>
<circle cx="305.7" cy="1749.5" r="15.9" fill="url(#lsph)" stroke="#8d8076" stroke-width="0.6" stroke-opacity="0.60"/>
<circle cx="310.2" cy="1727.1" r="15.9" fill="url(#lsph)" stroke="#8d8076" stroke-width="0.6" stroke-opacity="0.60"/>
<circle cx="317.4" cy="1705.7" r="15.9" fill="url(#lsph)" stroke="#8d8076" stroke-width="0.6" stroke-opacity="0.60"/>
<circle cx="327.3" cy="1685.4" r="15.9" fill="url(#lsph)" stroke="#8d8076" stroke-width="0.6" stroke-opacity="0.60"/>
<circle cx="339.6" cy="1666.8" r="15.9" fill="url(#lsph)" stroke="#8d8076" stroke-width="0.6" stroke-opacity="0.60"/>
<circle cx="354.2" cy="1650.2" r="15.9" fill="url(#lsph)" stroke="#8d8076" stroke-width="0.6" stroke-opacity="0.60"/>
<circle cx="370.7" cy="1635.9" r="15.9" fill="url(#lsph)" stroke="#8d8076" stroke-width="0.6" stroke-opacity="0.60"/>
<circle cx="389.0" cy="1624.1" r="15.9" fill="url(#lsph)" stroke="#8d8076" stroke-width="0.6" stroke-opacity="0.60"/>
<circle cx="408.5" cy="1615.1" r="15.9" fill="url(#lsph)" stroke="#8d8076" stroke-width="0.6" stroke-opacity="0.60"/>
<circle cx="429.0" cy="1609.1" r="15.9" fill="url(#lsph)" stroke="#8d8076" stroke-width="0.6" stroke-opacity="0.60"/>
<circle cx="450.1" cy="1606.1" r="15.9" fill="url(#lsph)" stroke="#8d8076" stroke-width="0.6" stroke-opacity="0.60"/>
<circle cx="471.3" cy="1606.2" r="15.9" fill="url(#lsph)" stroke="#8d8076" stroke-width="0.6" stroke-opacity="0.60"/>
<circle cx="492.4" cy="1609.4" r="15.9" fill="url(#lsph)" stroke="#8d8076" stroke-width="0.6" stroke-opacity="0.60"/>
<circle cx="512.8" cy="1615.6" r="15.9" fill="url(#lsph)" stroke="#8d8076" stroke-width="0.6" stroke-opacity="0.60"/>
<circle cx="532.3" cy="1624.8" r="15.9" fill="url(#lsph)" stroke="#8d8076" stroke-width="0.6" stroke-opacity="0.60"/>
<circle cx="550.4" cy="1636.8" r="15.9" fill="url(#lsph)" stroke="#8d8076" stroke-width="0.6" stroke-opacity="0.60"/>
<circle cx="566.9" cy="1651.3" r="15.9" fill="url(#lsph)" stroke="#8d8076" stroke-width="0.6" stroke-opacity="0.60"/>
<circle cx="581.3" cy="1668.0" r="15.9" fill="url(#lsph)" stroke="#8d8076" stroke-width="0.6" stroke-opacity="0.60"/>
<circle cx="593.5" cy="1686.7" r="15.9" fill="url(#lsph)" stroke="#8d8076" stroke-width="0.6" stroke-opacity="0.60"/>
<circle cx="603.2" cy="1707.1" r="15.9" fill="url(#lsph)" stroke="#8d8076" stroke-width="0.6" stroke-opacity="0.60"/>
<circle cx="610.2" cy="1728.6" r="15.9" fill="url(#lsph)" stroke="#8d8076" stroke-width="0.6" stroke-opacity="0.60"/>
<circle cx="614.4" cy="1751.0" r="15.9" fill="url(#lsph)" stroke="#8d8076" stroke-width="0.6" stroke-opacity="0.60"/>
<circle cx="615.8" cy="1773.8" r="15.9" fill="url(#lsph)" stroke="#8d8076" stroke-width="0.6" stroke-opacity="0.60"/>
<circle cx="614.3" cy="1796.5" r="15.9" fill="url(#lsph)" stroke="#8d8076" stroke-width="0.6" stroke-opacity="0.60"/>
<circle cx="609.8" cy="1818.9" r="15.9" fill="url(#lsph)" stroke="#8d8076" stroke-width="0.6" stroke-opacity="0.60"/>
<circle cx="602.6" cy="1840.3" r="15.9" fill="url(#lsph)" stroke="#8d8076" stroke-width="0.6" stroke-opacity="0.60"/>
<circle cx="592.7" cy="1860.6" r="15.9" fill="url(#lsph)" stroke="#8d8076" stroke-width="0.6" stroke-opacity="0.60"/>
<circle cx="580.4" cy="1879.2" r="15.9" fill="url(#lsph)" stroke="#8d8076" stroke-width="0.6" stroke-opacity="0.60"/>
<circle cx="565.8" cy="1895.8" r="15.9" fill="url(#lsph)" stroke="#8d8076" stroke-width="0.6" stroke-opacity="0.60"/>
<circle cx="549.3" cy="1910.1" r="15.9" fill="url(#lsph)" stroke="#8d8076" stroke-width="0.6" stroke-opacity="0.60"/>
<circle cx="531.0" cy="1921.9" r="15.9" fill="url(#lsph)" stroke="#8d8076" stroke-width="0.6" stroke-opacity="0.60"/>
<circle cx="511.5" cy="1930.9" r="15.9" fill="url(#lsph)" stroke="#8d8076" stroke-width="0.6" stroke-opacity="0.60"/>
<circle cx="491.0" cy="1936.9" r="15.9" fill="url(#lsph)" stroke="#8d8076" stroke-width="0.6" stroke-opacity="0.60"/>
<circle cx="469.9" cy="1939.9" r="15.9" fill="url(#lsph)" stroke="#8d8076" stroke-width="0.6" stroke-opacity="0.60"/>
<circle cx="448.7" cy="1939.8" r="15.9" fill="url(#lsph)" stroke="#8d8076" stroke-width="0.6" stroke-opacity="0.60"/>
<circle cx="427.6" cy="1936.6" r="15.9" fill="url(#lsph)" stroke="#8d8076" stroke-width="0.6" stroke-opacity="0.60"/>
<circle cx="533.0" cy="1899.6" r="15.3" fill="url(#lsph)" stroke="#8d8076" stroke-width="0.6" stroke-opacity="0.60"/>
<circle cx="514.1" cy="1910.1" r="15.3" fill="url(#lsph)" stroke="#8d8076" stroke-width="0.6" stroke-opacity="0.60"/>
<circle cx="494.0" cy="1917.4" r="15.3" fill="url(#lsph)" stroke="#8d8076" stroke-width="0.6" stroke-opacity="0.60"/>
<circle cx="473.1" cy="1921.3" r="15.3" fill="url(#lsph)" stroke="#8d8076" stroke-width="0.6" stroke-opacity="0.60"/>
<circle cx="451.8" cy="1921.7" r="15.3" fill="url(#lsph)" stroke="#8d8076" stroke-width="0.6" stroke-opacity="0.60"/>
<circle cx="430.8" cy="1918.6" r="15.3" fill="url(#lsph)" stroke="#8d8076" stroke-width="0.6" stroke-opacity="0.60"/>
<circle cx="410.4" cy="1912.1" r="15.3" fill="url(#lsph)" stroke="#8d8076" stroke-width="0.6" stroke-opacity="0.60"/>
<circle cx="391.2" cy="1902.3" r="15.3" fill="url(#lsph)" stroke="#8d8076" stroke-width="0.6" stroke-opacity="0.60"/>
<circle cx="373.7" cy="1889.5" r="15.3" fill="url(#lsph)" stroke="#8d8076" stroke-width="0.6" stroke-opacity="0.60"/>
<circle cx="358.1" cy="1874.0" r="15.3" fill="url(#lsph)" stroke="#8d8076" stroke-width="0.6" stroke-opacity="0.60"/>
<circle cx="344.9" cy="1856.1" r="15.3" fill="url(#lsph)" stroke="#8d8076" stroke-width="0.6" stroke-opacity="0.60"/>
<circle cx="334.5" cy="1836.3" r="15.3" fill="url(#lsph)" stroke="#8d8076" stroke-width="0.6" stroke-opacity="0.60"/>
<circle cx="326.9" cy="1815.0" r="15.3" fill="url(#lsph)" stroke="#8d8076" stroke-width="0.6" stroke-opacity="0.60"/>
<circle cx="322.5" cy="1792.7" r="15.3" fill="url(#lsph)" stroke="#8d8076" stroke-width="0.6" stroke-opacity="0.60"/>
<circle cx="321.3" cy="1769.9" r="15.3" fill="url(#lsph)" stroke="#8d8076" stroke-width="0.6" stroke-opacity="0.60"/>
<circle cx="323.4" cy="1747.2" r="15.3" fill="url(#lsph)" stroke="#8d8076" stroke-width="0.6" stroke-opacity="0.60"/>
<circle cx="328.7" cy="1725.1" r="15.3" fill="url(#lsph)" stroke="#8d8076" stroke-width="0.6" stroke-opacity="0.60"/>
<circle cx="337.0" cy="1704.2" r="15.3" fill="url(#lsph)" stroke="#8d8076" stroke-width="0.6" stroke-opacity="0.60"/>
<circle cx="348.2" cy="1684.8" r="15.3" fill="url(#lsph)" stroke="#8d8076" stroke-width="0.6" stroke-opacity="0.60"/>
<circle cx="362.1" cy="1667.5" r="15.3" fill="url(#lsph)" stroke="#8d8076" stroke-width="0.6" stroke-opacity="0.60"/>
<circle cx="378.2" cy="1652.7" r="15.3" fill="url(#lsph)" stroke="#8d8076" stroke-width="0.6" stroke-opacity="0.60"/>
<circle cx="396.3" cy="1640.7" r="15.3" fill="url(#lsph)" stroke="#8d8076" stroke-width="0.6" stroke-opacity="0.60"/>
<circle cx="415.8" cy="1631.8" r="15.3" fill="url(#lsph)" stroke="#8d8076" stroke-width="0.6" stroke-opacity="0.60"/>
<circle cx="436.4" cy="1626.2" r="15.3" fill="url(#lsph)" stroke="#8d8076" stroke-width="0.6" stroke-opacity="0.60"/>
<circle cx="457.6" cy="1624.1" r="15.3" fill="url(#lsph)" stroke="#8d8076" stroke-width="0.6" stroke-opacity="0.60"/>
<circle cx="478.8" cy="1625.4" r="15.3" fill="url(#lsph)" stroke="#8d8076" stroke-width="0.6" stroke-opacity="0.60"/>
<circle cx="499.5" cy="1630.3" r="15.3" fill="url(#lsph)" stroke="#8d8076" stroke-width="0.6" stroke-opacity="0.60"/>
<circle cx="519.3" cy="1638.4" r="15.3" fill="url(#lsph)" stroke="#8d8076" stroke-width="0.6" stroke-opacity="0.60"/>
<circle cx="537.8" cy="1649.7" r="15.3" fill="url(#lsph)" stroke="#8d8076" stroke-width="0.6" stroke-opacity="0.60"/>
<circle cx="554.4" cy="1663.9" r="15.3" fill="url(#lsph)" stroke="#8d8076" stroke-width="0.6" stroke-opacity="0.60"/>
<circle cx="568.8" cy="1680.6" r="15.3" fill="url(#lsph)" stroke="#8d8076" stroke-width="0.6" stroke-opacity="0.60"/>
<circle cx="580.7" cy="1699.6" r="15.3" fill="url(#lsph)" stroke="#8d8076" stroke-width="0.6" stroke-opacity="0.60"/>
<circle cx="589.7" cy="1720.2" r="15.3" fill="url(#lsph)" stroke="#8d8076" stroke-width="0.6" stroke-opacity="0.60"/>
<circle cx="595.7" cy="1742.1" r="15.3" fill="url(#lsph)" stroke="#8d8076" stroke-width="0.6" stroke-opacity="0.60"/>
<circle cx="598.5" cy="1764.7" r="15.3" fill="url(#lsph)" stroke="#8d8076" stroke-width="0.6" stroke-opacity="0.60"/>
<circle cx="598.0" cy="1787.5" r="15.3" fill="url(#lsph)" stroke="#8d8076" stroke-width="0.6" stroke-opacity="0.60"/>
<circle cx="594.4" cy="1809.9" r="15.3" fill="url(#lsph)" stroke="#8d8076" stroke-width="0.6" stroke-opacity="0.60"/>
<circle cx="587.5" cy="1831.5" r="15.3" fill="url(#lsph)" stroke="#8d8076" stroke-width="0.6" stroke-opacity="0.60"/>
<circle cx="577.7" cy="1851.7" r="15.3" fill="url(#lsph)" stroke="#8d8076" stroke-width="0.6" stroke-opacity="0.60"/>
<circle cx="565.2" cy="1870.1" r="15.3" fill="url(#lsph)" stroke="#8d8076" stroke-width="0.6" stroke-opacity="0.60"/>
<circle cx="550.1" cy="1886.2" r="15.3" fill="url(#lsph)" stroke="#8d8076" stroke-width="0.6" stroke-opacity="0.60"/>
<circle cx="580.8" cy="1788.2" r="14.7" fill="url(#lsph)" stroke="#8d8076" stroke-width="0.6" stroke-opacity="0.60"/>
<circle cx="576.5" cy="1810.5" r="14.7" fill="url(#lsph)" stroke="#8d8076" stroke-width="0.6" stroke-opacity="0.60"/>
<circle cx="568.6" cy="1831.6" r="14.7" fill="url(#lsph)" stroke="#8d8076" stroke-width="0.6" stroke-opacity="0.60"/>
<circle cx="557.5" cy="1851.0" r="14.7" fill="url(#lsph)" stroke="#8d8076" stroke-width="0.6" stroke-opacity="0.60"/>
<circle cx="543.4" cy="1868.0" r="14.7" fill="url(#lsph)" stroke="#8d8076" stroke-width="0.6" stroke-opacity="0.60"/>
<circle cx="526.8" cy="1882.1" r="14.7" fill="url(#lsph)" stroke="#8d8076" stroke-width="0.6" stroke-opacity="0.60"/>
<circle cx="508.1" cy="1892.9" r="14.7" fill="url(#lsph)" stroke="#8d8076" stroke-width="0.6" stroke-opacity="0.60"/>
<circle cx="488.0" cy="1900.1" r="14.7" fill="url(#lsph)" stroke="#8d8076" stroke-width="0.6" stroke-opacity="0.60"/>
<circle cx="467.0" cy="1903.3" r="14.7" fill="url(#lsph)" stroke="#8d8076" stroke-width="0.6" stroke-opacity="0.60"/>
<circle cx="445.8" cy="1902.7" r="14.7" fill="url(#lsph)" stroke="#8d8076" stroke-width="0.6" stroke-opacity="0.60"/>
<circle cx="425.1" cy="1898.1" r="14.7" fill="url(#lsph)" stroke="#8d8076" stroke-width="0.6" stroke-opacity="0.60"/>
<circle cx="405.4" cy="1889.6" r="14.7" fill="url(#lsph)" stroke="#8d8076" stroke-width="0.6" stroke-opacity="0.60"/>
<circle cx="387.3" cy="1877.7" r="14.7" fill="url(#lsph)" stroke="#8d8076" stroke-width="0.6" stroke-opacity="0.60"/>
<circle cx="371.5" cy="1862.6" r="14.7" fill="url(#lsph)" stroke="#8d8076" stroke-width="0.6" stroke-opacity="0.60"/>
<circle cx="358.4" cy="1844.7" r="14.7" fill="url(#lsph)" stroke="#8d8076" stroke-width="0.6" stroke-opacity="0.60"/>
<circle cx="348.3" cy="1824.7" r="14.7" fill="url(#lsph)" stroke="#8d8076" stroke-width="0.6" stroke-opacity="0.60"/>
<circle cx="341.7" cy="1803.1" r="14.7" fill="url(#lsph)" stroke="#8d8076" stroke-width="0.6" stroke-opacity="0.60"/>
<circle cx="338.6" cy="1780.5" r="14.7" fill="url(#lsph)" stroke="#8d8076" stroke-width="0.6" stroke-opacity="0.60"/>
<circle cx="339.2" cy="1757.8" r="14.7" fill="url(#lsph)" stroke="#8d8076" stroke-width="0.6" stroke-opacity="0.60"/>
<circle cx="343.5" cy="1735.5" r="14.7" fill="url(#lsph)" stroke="#8d8076" stroke-width="0.6" stroke-opacity="0.60"/>
<circle cx="351.4" cy="1714.4" r="14.7" fill="url(#lsph)" stroke="#8d8076" stroke-width="0.6" stroke-opacity="0.60"/>
<circle cx="362.5" cy="1695.0" r="14.7" fill="url(#lsph)" stroke="#8d8076" stroke-width="0.6" stroke-opacity="0.60"/>
<circle cx="376.6" cy="1678.0" r="14.7" fill="url(#lsph)" stroke="#8d8076" stroke-width="0.6" stroke-opacity="0.60"/>
<circle cx="393.2" cy="1663.9" r="14.7" fill="url(#lsph)" stroke="#8d8076" stroke-width="0.6" stroke-opacity="0.60"/>
<circle cx="411.9" cy="1653.1" r="14.7" fill="url(#lsph)" stroke="#8d8076" stroke-width="0.6" stroke-opacity="0.60"/>
<circle cx="432.0" cy="1645.9" r="14.7" fill="url(#lsph)" stroke="#8d8076" stroke-width="0.6" stroke-opacity="0.60"/>
<circle cx="453.0" cy="1642.7" r="14.7" fill="url(#lsph)" stroke="#8d8076" stroke-width="0.6" stroke-opacity="0.60"/>
<circle cx="474.2" cy="1643.3" r="14.7" fill="url(#lsph)" stroke="#8d8076" stroke-width="0.6" stroke-opacity="0.60"/>
<circle cx="494.9" cy="1647.9" r="14.7" fill="url(#lsph)" stroke="#8d8076" stroke-width="0.6" stroke-opacity="0.60"/>
<circle cx="514.6" cy="1656.4" r="14.7" fill="url(#lsph)" stroke="#8d8076" stroke-width="0.6" stroke-opacity="0.60"/>
<circle cx="532.7" cy="1668.3" r="14.7" fill="url(#lsph)" stroke="#8d8076" stroke-width="0.6" stroke-opacity="0.60"/>
<circle cx="548.5" cy="1683.4" r="14.7" fill="url(#lsph)" stroke="#8d8076" stroke-width="0.6" stroke-opacity="0.60"/>
<circle cx="561.6" cy="1701.3" r="14.7" fill="url(#lsph)" stroke="#8d8076" stroke-width="0.6" stroke-opacity="0.60"/>
<circle cx="571.7" cy="1721.3" r="14.7" fill="url(#lsph)" stroke="#8d8076" stroke-width="0.6" stroke-opacity="0.60"/>
<circle cx="578.3" cy="1742.9" r="14.7" fill="url(#lsph)" stroke="#8d8076" stroke-width="0.6" stroke-opacity="0.60"/>
<circle cx="581.4" cy="1765.5" r="14.7" fill="url(#lsph)" stroke="#8d8076" stroke-width="0.6" stroke-opacity="0.60"/>
<circle cx="534.1" cy="1693.8" r="14.1" fill="url(#lsph)" stroke="#8d8076" stroke-width="0.6" stroke-opacity="0.60"/>
<circle cx="547.4" cy="1711.5" r="14.1" fill="url(#lsph)" stroke="#8d8076" stroke-width="0.6" stroke-opacity="0.60"/>
<circle cx="557.1" cy="1731.6" r="14.1" fill="url(#lsph)" stroke="#8d8076" stroke-width="0.6" stroke-opacity="0.60"/>
<circle cx="562.9" cy="1753.5" r="14.1" fill="url(#lsph)" stroke="#8d8076" stroke-width="0.6" stroke-opacity="0.60"/>
<circle cx="564.5" cy="1776.1" r="14.1" fill="url(#lsph)" stroke="#8d8076" stroke-width="0.6" stroke-opacity="0.60"/>
<circle cx="561.7" cy="1798.6" r="14.1" fill="url(#lsph)" stroke="#8d8076" stroke-width="0.6" stroke-opacity="0.60"/>
<circle cx="554.9" cy="1820.1" r="14.1" fill="url(#lsph)" stroke="#8d8076" stroke-width="0.6" stroke-opacity="0.60"/>
<circle cx="544.1" cy="1839.6" r="14.1" fill="url(#lsph)" stroke="#8d8076" stroke-width="0.6" stroke-opacity="0.60"/>
<circle cx="529.9" cy="1856.4" r="14.1" fill="url(#lsph)" stroke="#8d8076" stroke-width="0.6" stroke-opacity="0.60"/>
<circle cx="512.8" cy="1869.8" r="14.1" fill="url(#lsph)" stroke="#8d8076" stroke-width="0.6" stroke-opacity="0.60"/>
<circle cx="493.6" cy="1879.2" r="14.1" fill="url(#lsph)" stroke="#8d8076" stroke-width="0.6" stroke-opacity="0.60"/>
<circle cx="473.0" cy="1884.3" r="14.1" fill="url(#lsph)" stroke="#8d8076" stroke-width="0.6" stroke-opacity="0.60"/>
<circle cx="451.8" cy="1884.9" r="14.1" fill="url(#lsph)" stroke="#8d8076" stroke-width="0.6" stroke-opacity="0.60"/>
<circle cx="431.0" cy="1880.8" r="14.1" fill="url(#lsph)" stroke="#8d8076" stroke-width="0.6" stroke-opacity="0.60"/>
<circle cx="411.4" cy="1872.3" r="14.1" fill="url(#lsph)" stroke="#8d8076" stroke-width="0.6" stroke-opacity="0.60"/>
<circle cx="393.8" cy="1859.8" r="14.1" fill="url(#lsph)" stroke="#8d8076" stroke-width="0.6" stroke-opacity="0.60"/>
<circle cx="378.9" cy="1843.7" r="14.1" fill="url(#lsph)" stroke="#8d8076" stroke-width="0.6" stroke-opacity="0.60"/>
<circle cx="367.3" cy="1824.7" r="14.1" fill="url(#lsph)" stroke="#8d8076" stroke-width="0.6" stroke-opacity="0.60"/>
<circle cx="359.5" cy="1803.6" r="14.1" fill="url(#lsph)" stroke="#8d8076" stroke-width="0.6" stroke-opacity="0.60"/>
<circle cx="355.8" cy="1781.3" r="14.1" fill="url(#lsph)" stroke="#8d8076" stroke-width="0.6" stroke-opacity="0.60"/>
<circle cx="356.4" cy="1758.6" r="14.1" fill="url(#lsph)" stroke="#8d8076" stroke-width="0.6" stroke-opacity="0.60"/>
<circle cx="361.2" cy="1736.5" r="14.1" fill="url(#lsph)" stroke="#8d8076" stroke-width="0.6" stroke-opacity="0.60"/>
<circle cx="370.1" cy="1715.9" r="14.1" fill="url(#lsph)" stroke="#8d8076" stroke-width="0.6" stroke-opacity="0.60"/>
<circle cx="382.6" cy="1697.6" r="14.1" fill="url(#lsph)" stroke="#8d8076" stroke-width="0.6" stroke-opacity="0.60"/>
<circle cx="398.3" cy="1682.4" r="14.1" fill="url(#lsph)" stroke="#8d8076" stroke-width="0.6" stroke-opacity="0.60"/>
<circle cx="416.6" cy="1670.9" r="14.1" fill="url(#lsph)" stroke="#8d8076" stroke-width="0.6" stroke-opacity="0.60"/>
<circle cx="436.6" cy="1663.6" r="14.1" fill="url(#lsph)" stroke="#8d8076" stroke-width="0.6" stroke-opacity="0.60"/>
<circle cx="457.6" cy="1660.8" r="14.1" fill="url(#lsph)" stroke="#8d8076" stroke-width="0.6" stroke-opacity="0.60"/>
<circle cx="478.7" cy="1662.6" r="14.1" fill="url(#lsph)" stroke="#8d8076" stroke-width="0.6" stroke-opacity="0.60"/>
<circle cx="499.0" cy="1668.9" r="14.1" fill="url(#lsph)" stroke="#8d8076" stroke-width="0.6" stroke-opacity="0.60"/>
<circle cx="517.7" cy="1679.5" r="14.1" fill="url(#lsph)" stroke="#8d8076" stroke-width="0.6" stroke-opacity="0.60"/>
<circle cx="450.2" cy="1679.8" r="13.5" fill="url(#lsph)" stroke="#8d8076" stroke-width="0.6" stroke-opacity="0.60"/>
<circle cx="471.3" cy="1679.9" r="13.5" fill="url(#lsph)" stroke="#8d8076" stroke-width="0.6" stroke-opacity="0.60"/>
<circle cx="491.7" cy="1685.5" r="13.5" fill="url(#lsph)" stroke="#8d8076" stroke-width="0.6" stroke-opacity="0.60"/>
<circle cx="510.3" cy="1696.2" r="13.5" fill="url(#lsph)" stroke="#8d8076" stroke-width="0.6" stroke-opacity="0.60"/>
<circle cx="525.9" cy="1711.4" r="13.5" fill="url(#lsph)" stroke="#8d8076" stroke-width="0.6" stroke-opacity="0.60"/>
<circle cx="537.7" cy="1730.1" r="13.5" fill="url(#lsph)" stroke="#8d8076" stroke-width="0.6" stroke-opacity="0.60"/>
<circle cx="545.0" cy="1751.3" r="13.5" fill="url(#lsph)" stroke="#8d8076" stroke-width="0.6" stroke-opacity="0.60"/>
<circle cx="547.4" cy="1773.8" r="13.5" fill="url(#lsph)" stroke="#8d8076" stroke-width="0.6" stroke-opacity="0.60"/>
<circle cx="544.7" cy="1796.2" r="13.5" fill="url(#lsph)" stroke="#8d8076" stroke-width="0.6" stroke-opacity="0.60"/>
<circle cx="537.0" cy="1817.3" r="13.5" fill="url(#lsph)" stroke="#8d8076" stroke-width="0.6" stroke-opacity="0.60"/>
<circle cx="524.9" cy="1835.8" r="13.5" fill="url(#lsph)" stroke="#8d8076" stroke-width="0.6" stroke-opacity="0.60"/>
<circle cx="509.0" cy="1850.7" r="13.5" fill="url(#lsph)" stroke="#8d8076" stroke-width="0.6" stroke-opacity="0.60"/>
<circle cx="490.3" cy="1861.0" r="13.5" fill="url(#lsph)" stroke="#8d8076" stroke-width="0.6" stroke-opacity="0.60"/>
<circle cx="469.8" cy="1866.2" r="13.5" fill="url(#lsph)" stroke="#8d8076" stroke-width="0.6" stroke-opacity="0.60"/>
<circle cx="448.7" cy="1866.1" r="13.5" fill="url(#lsph)" stroke="#8d8076" stroke-width="0.6" stroke-opacity="0.60"/>
<circle cx="428.3" cy="1860.5" r="13.5" fill="url(#lsph)" stroke="#8d8076" stroke-width="0.6" stroke-opacity="0.60"/>
<circle cx="409.7" cy="1849.8" r="13.5" fill="url(#lsph)" stroke="#8d8076" stroke-width="0.6" stroke-opacity="0.60"/>
<circle cx="394.1" cy="1834.6" r="13.5" fill="url(#lsph)" stroke="#8d8076" stroke-width="0.6" stroke-opacity="0.60"/>
<circle cx="382.3" cy="1815.9" r="13.5" fill="url(#lsph)" stroke="#8d8076" stroke-width="0.6" stroke-opacity="0.60"/>
<circle cx="375.0" cy="1794.7" r="13.5" fill="url(#lsph)" stroke="#8d8076" stroke-width="0.6" stroke-opacity="0.60"/>
<circle cx="372.6" cy="1772.2" r="13.5" fill="url(#lsph)" stroke="#8d8076" stroke-width="0.6" stroke-opacity="0.60"/>
<circle cx="375.3" cy="1749.8" r="13.5" fill="url(#lsph)" stroke="#8d8076" stroke-width="0.6" stroke-opacity="0.60"/>
<circle cx="383.0" cy="1728.7" r="13.5" fill="url(#lsph)" stroke="#8d8076" stroke-width="0.6" stroke-opacity="0.60"/>
<circle cx="395.1" cy="1710.2" r="13.5" fill="url(#lsph)" stroke="#8d8076" stroke-width="0.6" stroke-opacity="0.60"/>
<circle cx="411.0" cy="1695.3" r="13.5" fill="url(#lsph)" stroke="#8d8076" stroke-width="0.6" stroke-opacity="0.60"/>
<circle cx="429.7" cy="1685.0" r="13.5" fill="url(#lsph)" stroke="#8d8076" stroke-width="0.6" stroke-opacity="0.60"/>
<circle cx="400.4" cy="1733.0" r="12.9" fill="url(#lsph)" stroke="#8d8076" stroke-width="0.6" stroke-opacity="0.60"/>
<circle cx="414.0" cy="1715.9" r="12.9" fill="url(#lsph)" stroke="#8d8076" stroke-width="0.6" stroke-opacity="0.60"/>
<circle cx="431.7" cy="1703.9" r="12.9" fill="url(#lsph)" stroke="#8d8076" stroke-width="0.6" stroke-opacity="0.60"/>
<circle cx="451.9" cy="1698.0" r="12.9" fill="url(#lsph)" stroke="#8d8076" stroke-width="0.6" stroke-opacity="0.60"/>
<circle cx="472.9" cy="1698.8" r="12.9" fill="url(#lsph)" stroke="#8d8076" stroke-width="0.6" stroke-opacity="0.60"/>
<circle cx="492.7" cy="1706.2" r="12.9" fill="url(#lsph)" stroke="#8d8076" stroke-width="0.6" stroke-opacity="0.60"/>
<circle cx="509.6" cy="1719.5" r="12.9" fill="url(#lsph)" stroke="#8d8076" stroke-width="0.6" stroke-opacity="0.60"/>
<circle cx="522.1" cy="1737.6" r="12.9" fill="url(#lsph)" stroke="#8d8076" stroke-width="0.6" stroke-opacity="0.60"/>
<circle cx="529.0" cy="1758.8" r="12.9" fill="url(#lsph)" stroke="#8d8076" stroke-width="0.6" stroke-opacity="0.60"/>
<circle cx="529.9" cy="1781.3" r="12.9" fill="url(#lsph)" stroke="#8d8076" stroke-width="0.6" stroke-opacity="0.60"/>
<circle cx="524.5" cy="1803.0" r="12.9" fill="url(#lsph)" stroke="#8d8076" stroke-width="0.6" stroke-opacity="0.60"/>
<circle cx="513.4" cy="1822.1" r="12.9" fill="url(#lsph)" stroke="#8d8076" stroke-width="0.6" stroke-opacity="0.60"/>
<circle cx="497.6" cy="1836.8" r="12.9" fill="url(#lsph)" stroke="#8d8076" stroke-width="0.6" stroke-opacity="0.60"/>
<circle cx="478.4" cy="1845.9" r="12.9" fill="url(#lsph)" stroke="#8d8076" stroke-width="0.6" stroke-opacity="0.60"/>
<circle cx="457.6" cy="1848.4" r="12.9" fill="url(#lsph)" stroke="#8d8076" stroke-width="0.6" stroke-opacity="0.60"/>
<circle cx="437.0" cy="1844.3" r="12.9" fill="url(#lsph)" stroke="#8d8076" stroke-width="0.6" stroke-opacity="0.60"/>
<circle cx="418.4" cy="1833.8" r="12.9" fill="url(#lsph)" stroke="#8d8076" stroke-width="0.6" stroke-opacity="0.60"/>
<circle cx="403.5" cy="1818.0" r="12.9" fill="url(#lsph)" stroke="#8d8076" stroke-width="0.6" stroke-opacity="0.60"/>
<circle cx="393.7" cy="1798.1" r="12.9" fill="url(#lsph)" stroke="#8d8076" stroke-width="0.6" stroke-opacity="0.60"/>
<circle cx="389.8" cy="1776.0" r="12.9" fill="url(#lsph)" stroke="#8d8076" stroke-width="0.6" stroke-opacity="0.60"/>
<circle cx="392.0" cy="1753.7" r="12.9" fill="url(#lsph)" stroke="#8d8076" stroke-width="0.6" stroke-opacity="0.60"/>
<circle cx="409.9" cy="1792.1" r="12.3" fill="url(#lsph)" stroke="#8d8076" stroke-width="0.6" stroke-opacity="0.60"/>
<circle cx="406.9" cy="1770.1" r="12.3" fill="url(#lsph)" stroke="#8d8076" stroke-width="0.6" stroke-opacity="0.60"/>
<circle cx="412.0" cy="1748.5" r="12.3" fill="url(#lsph)" stroke="#8d8076" stroke-width="0.6" stroke-opacity="0.60"/>
<circle cx="424.4" cy="1730.6" r="12.3" fill="url(#lsph)" stroke="#8d8076" stroke-width="0.6" stroke-opacity="0.60"/>
<circle cx="442.2" cy="1719.2" r="12.3" fill="url(#lsph)" stroke="#8d8076" stroke-width="0.6" stroke-opacity="0.60"/>
<circle cx="462.7" cy="1716.0" r="12.3" fill="url(#lsph)" stroke="#8d8076" stroke-width="0.6" stroke-opacity="0.60"/>
<circle cx="482.8" cy="1721.4" r="12.3" fill="url(#lsph)" stroke="#8d8076" stroke-width="0.6" stroke-opacity="0.60"/>
<circle cx="499.5" cy="1734.7" r="12.3" fill="url(#lsph)" stroke="#8d8076" stroke-width="0.6" stroke-opacity="0.60"/>
<circle cx="510.1" cy="1753.9" r="12.3" fill="url(#lsph)" stroke="#8d8076" stroke-width="0.6" stroke-opacity="0.60"/>
<circle cx="513.1" cy="1775.9" r="12.3" fill="url(#lsph)" stroke="#8d8076" stroke-width="0.6" stroke-opacity="0.60"/>
<circle cx="508.0" cy="1797.5" r="12.3" fill="url(#lsph)" stroke="#8d8076" stroke-width="0.6" stroke-opacity="0.60"/>
<circle cx="495.6" cy="1815.4" r="12.3" fill="url(#lsph)" stroke="#8d8076" stroke-width="0.6" stroke-opacity="0.60"/>
<circle cx="477.8" cy="1826.8" r="12.3" fill="url(#lsph)" stroke="#8d8076" stroke-width="0.6" stroke-opacity="0.60"/>
<circle cx="457.3" cy="1830.0" r="12.3" fill="url(#lsph)" stroke="#8d8076" stroke-width="0.6" stroke-opacity="0.60"/>
<circle cx="437.2" cy="1824.6" r="12.3" fill="url(#lsph)" stroke="#8d8076" stroke-width="0.6" stroke-opacity="0.60"/>
<circle cx="420.5" cy="1811.3" r="12.3" fill="url(#lsph)" stroke="#8d8076" stroke-width="0.6" stroke-opacity="0.60"/>
<circle cx="448.3" cy="1809.7" r="11.8" fill="url(#lsph)" stroke="#8d8076" stroke-width="0.6" stroke-opacity="0.60"/>
<circle cx="431.7" cy="1797.1" r="11.8" fill="url(#lsph)" stroke="#8d8076" stroke-width="0.6" stroke-opacity="0.60"/>
<circle cx="424.1" cy="1776.8" r="11.8" fill="url(#lsph)" stroke="#8d8076" stroke-width="0.6" stroke-opacity="0.60"/>
<circle cx="427.8" cy="1755.4" r="11.8" fill="url(#lsph)" stroke="#8d8076" stroke-width="0.6" stroke-opacity="0.60"/>
<circle cx="441.8" cy="1739.5" r="11.8" fill="url(#lsph)" stroke="#8d8076" stroke-width="0.6" stroke-opacity="0.60"/>
<circle cx="461.6" cy="1734.3" r="11.8" fill="url(#lsph)" stroke="#8d8076" stroke-width="0.6" stroke-opacity="0.60"/>
<circle cx="480.8" cy="1741.3" r="11.8" fill="url(#lsph)" stroke="#8d8076" stroke-width="0.6" stroke-opacity="0.60"/>
<circle cx="493.5" cy="1758.5" r="11.8" fill="url(#lsph)" stroke="#8d8076" stroke-width="0.6" stroke-opacity="0.60"/>
<circle cx="495.5" cy="1780.2" r="11.8" fill="url(#lsph)" stroke="#8d8076" stroke-width="0.6" stroke-opacity="0.60"/>
<circle cx="486.2" cy="1799.6" r="11.8" fill="url(#lsph)" stroke="#8d8076" stroke-width="0.6" stroke-opacity="0.60"/>
<circle cx="468.7" cy="1810.6" r="11.8" fill="url(#lsph)" stroke="#8d8076" stroke-width="0.6" stroke-opacity="0.60"/>
<circle cx="470.3" cy="1790.2" r="11.2" fill="url(#lsph)" stroke="#8d8076" stroke-width="0.6" stroke-opacity="0.60"/>
<circle cx="451.3" cy="1791.1" r="11.2" fill="url(#lsph)" stroke="#8d8076" stroke-width="0.6" stroke-opacity="0.60"/>
<circle cx="441.0" cy="1774.0" r="11.2" fill="url(#lsph)" stroke="#8d8076" stroke-width="0.6" stroke-opacity="0.60"/>
<circle cx="449.7" cy="1755.8" r="11.2" fill="url(#lsph)" stroke="#8d8076" stroke-width="0.6" stroke-opacity="0.60"/>
<circle cx="468.7" cy="1754.9" r="11.2" fill="url(#lsph)" stroke="#8d8076" stroke-width="0.6" stroke-opacity="0.60"/>
<circle cx="479.0" cy="1772.0" r="11.2" fill="url(#lsph)" stroke="#8d8076" stroke-width="0.6" stroke-opacity="0.60"/>
<circle cx="460.0" cy="1773.0" r="10.5" fill="url(#lsph)" stroke="#8d8076" stroke-width="0.6" stroke-opacity="0.60"/>
<ellipse cx="485.0" cy="1803.0" rx="118.0" ry="127.0" fill="url(#lumshade)"/>
</g>
<circle cx="480.3" cy="1667.4" r="15.1" fill="url(#vsph)" stroke="#80604a" stroke-width="0.7" stroke-opacity="0.75"/>
<circle cx="504.5" cy="1669.1" r="15.1" fill="url(#vsph)" stroke="#80604a" stroke-width="0.7" stroke-opacity="0.75"/>
<circle cx="456.2" cy="1670.6" r="15.1" fill="url(#vsph)" stroke="#80604a" stroke-width="0.7" stroke-opacity="0.75"/>
<circle cx="528.0" cy="1675.7" r="15.1" fill="url(#vsph)" stroke="#80604a" stroke-width="0.7" stroke-opacity="0.75"/>
<circle cx="433.1" cy="1678.6" r="15.1" fill="url(#vsph)" stroke="#80604a" stroke-width="0.7" stroke-opacity="0.75"/>
<circle cx="549.9" cy="1686.9" r="15.1" fill="url(#vsph)" stroke="#80604a" stroke-width="0.7" stroke-opacity="0.75"/>
<circle cx="411.9" cy="1691.2" r="15.1" fill="url(#vsph)" stroke="#80604a" stroke-width="0.7" stroke-opacity="0.75"/>
<circle cx="569.4" cy="1702.4" r="15.1" fill="url(#vsph)" stroke="#80604a" stroke-width="0.7" stroke-opacity="0.75"/>
<circle cx="393.2" cy="1707.9" r="15.1" fill="url(#vsph)" stroke="#80604a" stroke-width="0.7" stroke-opacity="0.75"/>
<circle cx="585.8" cy="1721.5" r="15.1" fill="url(#vsph)" stroke="#80604a" stroke-width="0.7" stroke-opacity="0.75"/>
<circle cx="377.9" cy="1728.0" r="15.1" fill="url(#vsph)" stroke="#80604a" stroke-width="0.7" stroke-opacity="0.75"/>
<circle cx="598.6" cy="1743.6" r="15.1" fill="url(#vsph)" stroke="#80604a" stroke-width="0.7" stroke-opacity="0.75"/>
<circle cx="366.3" cy="1750.9" r="15.1" fill="url(#vsph)" stroke="#80604a" stroke-width="0.7" stroke-opacity="0.75"/>
<circle cx="607.2" cy="1767.9" r="15.1" fill="url(#vsph)" stroke="#80604a" stroke-width="0.7" stroke-opacity="0.75"/>
<circle cx="359.1" cy="1775.7" r="15.1" fill="url(#vsph)" stroke="#80604a" stroke-width="0.7" stroke-opacity="0.75"/>
<circle cx="611.3" cy="1793.5" r="15.1" fill="url(#vsph)" stroke="#80604a" stroke-width="0.7" stroke-opacity="0.75"/>
<circle cx="356.3" cy="1801.5" r="15.1" fill="url(#vsph)" stroke="#80604a" stroke-width="0.7" stroke-opacity="0.75"/>
<circle cx="610.9" cy="1819.5" r="15.1" fill="url(#vsph)" stroke="#80604a" stroke-width="0.7" stroke-opacity="0.75"/>
<circle cx="358.2" cy="1827.4" r="15.1" fill="url(#vsph)" stroke="#80604a" stroke-width="0.7" stroke-opacity="0.75"/>
<circle cx="605.8" cy="1844.9" r="15.1" fill="url(#vsph)" stroke="#80604a" stroke-width="0.7" stroke-opacity="0.75"/>
<circle cx="364.6" cy="1852.5" r="15.1" fill="url(#vsph)" stroke="#80604a" stroke-width="0.7" stroke-opacity="0.75"/>
<circle cx="596.4" cy="1868.9" r="15.1" fill="url(#vsph)" stroke="#80604a" stroke-width="0.7" stroke-opacity="0.75"/>
<circle cx="375.3" cy="1875.8" r="15.1" fill="url(#vsph)" stroke="#80604a" stroke-width="0.7" stroke-opacity="0.75"/>
<circle cx="582.9" cy="1890.5" r="15.1" fill="url(#vsph)" stroke="#80604a" stroke-width="0.7" stroke-opacity="0.75"/>
<circle cx="390.0" cy="1896.5" r="15.1" fill="url(#vsph)" stroke="#80604a" stroke-width="0.7" stroke-opacity="0.75"/>
<circle cx="565.8" cy="1908.9" r="15.1" fill="url(#vsph)" stroke="#80604a" stroke-width="0.7" stroke-opacity="0.75"/>
<circle cx="408.0" cy="1913.9" r="15.1" fill="url(#vsph)" stroke="#80604a" stroke-width="0.7" stroke-opacity="0.75"/>
<circle cx="545.8" cy="1923.6" r="15.1" fill="url(#vsph)" stroke="#80604a" stroke-width="0.7" stroke-opacity="0.75"/>
<circle cx="428.8" cy="1927.3" r="15.1" fill="url(#vsph)" stroke="#80604a" stroke-width="0.7" stroke-opacity="0.75"/>
<circle cx="523.5" cy="1934.0" r="15.1" fill="url(#vsph)" stroke="#80604a" stroke-width="0.7" stroke-opacity="0.75"/>
<circle cx="451.6" cy="1936.2" r="15.1" fill="url(#vsph)" stroke="#80604a" stroke-width="0.7" stroke-opacity="0.75"/>
<circle cx="499.8" cy="1939.6" r="15.1" fill="url(#vsph)" stroke="#80604a" stroke-width="0.7" stroke-opacity="0.75"/>
<circle cx="475.6" cy="1940.4" r="15.1" fill="url(#vsph)" stroke="#80604a" stroke-width="0.7" stroke-opacity="0.75"/>
<circle cx="674.7" cy="1802.0" r="14.3" fill="url(#vsph)" stroke="#80604a" stroke-width="0.7" stroke-opacity="0.75"/>
<circle cx="673.3" cy="1826.5" r="14.3" fill="url(#vsph)" stroke="#80604a" stroke-width="0.7" stroke-opacity="0.75"/>
<circle cx="669.0" cy="1850.6" r="14.3" fill="url(#vsph)" stroke="#80604a" stroke-width="0.7" stroke-opacity="0.75"/>
<circle cx="662.0" cy="1874.1" r="14.3" fill="url(#vsph)" stroke="#80604a" stroke-width="0.7" stroke-opacity="0.75"/>
<circle cx="652.3" cy="1896.6" r="14.3" fill="url(#vsph)" stroke="#80604a" stroke-width="0.7" stroke-opacity="0.75"/>
<circle cx="640.0" cy="1917.8" r="14.3" fill="url(#vsph)" stroke="#80604a" stroke-width="0.7" stroke-opacity="0.75"/>
<circle cx="625.4" cy="1937.4" r="14.3" fill="url(#vsph)" stroke="#80604a" stroke-width="0.7" stroke-opacity="0.75"/>
<circle cx="608.6" cy="1955.3" r="14.3" fill="url(#vsph)" stroke="#80604a" stroke-width="0.7" stroke-opacity="0.75"/>
<circle cx="589.8" cy="1971.0" r="14.3" fill="url(#vsph)" stroke="#80604a" stroke-width="0.7" stroke-opacity="0.75"/>
<circle cx="569.4" cy="1984.5" r="14.3" fill="url(#vsph)" stroke="#80604a" stroke-width="0.7" stroke-opacity="0.75"/>
<circle cx="547.5" cy="1995.5" r="14.3" fill="url(#vsph)" stroke="#80604a" stroke-width="0.7" stroke-opacity="0.75"/>
<circle cx="524.4" cy="2003.8" r="14.3" fill="url(#vsph)" stroke="#80604a" stroke-width="0.7" stroke-opacity="0.75"/>
<circle cx="500.6" cy="2009.5" r="14.3" fill="url(#vsph)" stroke="#80604a" stroke-width="0.7" stroke-opacity="0.75"/>
<circle cx="476.3" cy="2012.3" r="14.3" fill="url(#vsph)" stroke="#80604a" stroke-width="0.7" stroke-opacity="0.75"/>
<circle cx="451.7" cy="2012.3" r="14.3" fill="url(#vsph)" stroke="#80604a" stroke-width="0.7" stroke-opacity="0.75"/>
<circle cx="427.4" cy="2009.5" r="14.3" fill="url(#vsph)" stroke="#80604a" stroke-width="0.7" stroke-opacity="0.75"/>
<circle cx="403.6" cy="2003.8" r="14.3" fill="url(#vsph)" stroke="#80604a" stroke-width="0.7" stroke-opacity="0.75"/>
<circle cx="380.5" cy="1995.5" r="14.3" fill="url(#vsph)" stroke="#80604a" stroke-width="0.7" stroke-opacity="0.75"/>
<circle cx="358.7" cy="1984.5" r="14.3" fill="url(#vsph)" stroke="#80604a" stroke-width="0.7" stroke-opacity="0.75"/>
<circle cx="338.2" cy="1971.0" r="14.3" fill="url(#vsph)" stroke="#80604a" stroke-width="0.7" stroke-opacity="0.75"/>
<circle cx="319.4" cy="1955.3" r="14.3" fill="url(#vsph)" stroke="#80604a" stroke-width="0.7" stroke-opacity="0.75"/>
<circle cx="302.6" cy="1937.4" r="14.3" fill="url(#vsph)" stroke="#80604a" stroke-width="0.7" stroke-opacity="0.75"/>
<circle cx="288.0" cy="1917.8" r="14.3" fill="url(#vsph)" stroke="#80604a" stroke-width="0.7" stroke-opacity="0.75"/>
<circle cx="275.7" cy="1896.6" r="14.3" fill="url(#vsph)" stroke="#80604a" stroke-width="0.7" stroke-opacity="0.75"/>
<circle cx="266.0" cy="1874.1" r="14.3" fill="url(#vsph)" stroke="#80604a" stroke-width="0.7" stroke-opacity="0.75"/>
<circle cx="259.0" cy="1850.6" r="14.3" fill="url(#vsph)" stroke="#80604a" stroke-width="0.7" stroke-opacity="0.75"/>
<circle cx="254.7" cy="1826.5" r="14.3" fill="url(#vsph)" stroke="#80604a" stroke-width="0.7" stroke-opacity="0.75"/>
<circle cx="253.3" cy="1802.0" r="14.3" fill="url(#vsph)" stroke="#80604a" stroke-width="0.7" stroke-opacity="0.75"/>
<circle cx="254.7" cy="1777.5" r="14.3" fill="url(#vsph)" stroke="#80604a" stroke-width="0.7" stroke-opacity="0.75"/>
<circle cx="259.0" cy="1753.4" r="14.3" fill="url(#vsph)" stroke="#80604a" stroke-width="0.7" stroke-opacity="0.75"/>
<circle cx="266.0" cy="1729.9" r="14.3" fill="url(#vsph)" stroke="#80604a" stroke-width="0.7" stroke-opacity="0.75"/>
<circle cx="275.7" cy="1707.4" r="14.3" fill="url(#vsph)" stroke="#80604a" stroke-width="0.7" stroke-opacity="0.75"/>
<circle cx="288.0" cy="1686.2" r="14.3" fill="url(#vsph)" stroke="#80604a" stroke-width="0.7" stroke-opacity="0.75"/>
<circle cx="302.6" cy="1666.6" r="14.3" fill="url(#vsph)" stroke="#80604a" stroke-width="0.7" stroke-opacity="0.75"/>
<circle cx="319.4" cy="1648.7" r="14.3" fill="url(#vsph)" stroke="#80604a" stroke-width="0.7" stroke-opacity="0.75"/>
<circle cx="338.2" cy="1633.0" r="14.3" fill="url(#vsph)" stroke="#80604a" stroke-width="0.7" stroke-opacity="0.75"/>
<circle cx="358.6" cy="1619.5" r="14.3" fill="url(#vsph)" stroke="#80604a" stroke-width="0.7" stroke-opacity="0.75"/>
<circle cx="380.5" cy="1608.5" r="14.3" fill="url(#vsph)" stroke="#80604a" stroke-width="0.7" stroke-opacity="0.75"/>
<circle cx="403.6" cy="1600.2" r="14.3" fill="url(#vsph)" stroke="#80604a" stroke-width="0.7" stroke-opacity="0.75"/>
<circle cx="427.4" cy="1594.5" r="14.3" fill="url(#vsph)" stroke="#80604a" stroke-width="0.7" stroke-opacity="0.75"/>
<circle cx="451.7" cy="1591.7" r="14.3" fill="url(#vsph)" stroke="#80604a" stroke-width="0.7" stroke-opacity="0.75"/>
<circle cx="476.3" cy="1591.7" r="14.3" fill="url(#vsph)" stroke="#80604a" stroke-width="0.7" stroke-opacity="0.75"/>
<circle cx="500.6" cy="1594.5" r="14.3" fill="url(#vsph)" stroke="#80604a" stroke-width="0.7" stroke-opacity="0.75"/>
<circle cx="524.4" cy="1600.2" r="14.3" fill="url(#vsph)" stroke="#80604a" stroke-width="0.7" stroke-opacity="0.75"/>
<circle cx="547.5" cy="1608.5" r="14.3" fill="url(#vsph)" stroke="#80604a" stroke-width="0.7" stroke-opacity="0.75"/>
<circle cx="569.4" cy="1619.5" r="14.3" fill="url(#vsph)" stroke="#80604a" stroke-width="0.7" stroke-opacity="0.75"/>
<circle cx="589.8" cy="1633.0" r="14.3" fill="url(#vsph)" stroke="#80604a" stroke-width="0.7" stroke-opacity="0.75"/>
<circle cx="608.6" cy="1648.7" r="14.3" fill="url(#vsph)" stroke="#80604a" stroke-width="0.7" stroke-opacity="0.75"/>
<circle cx="625.4" cy="1666.6" r="14.3" fill="url(#vsph)" stroke="#80604a" stroke-width="0.7" stroke-opacity="0.75"/>
<circle cx="640.0" cy="1686.2" r="14.3" fill="url(#vsph)" stroke="#80604a" stroke-width="0.7" stroke-opacity="0.75"/>
<circle cx="652.3" cy="1707.4" r="14.3" fill="url(#vsph)" stroke="#80604a" stroke-width="0.7" stroke-opacity="0.75"/>
<circle cx="662.0" cy="1729.9" r="14.3" fill="url(#vsph)" stroke="#80604a" stroke-width="0.7" stroke-opacity="0.75"/>
<circle cx="669.0" cy="1753.4" r="14.3" fill="url(#vsph)" stroke="#80604a" stroke-width="0.7" stroke-opacity="0.75"/>
<circle cx="673.3" cy="1777.5" r="14.3" fill="url(#vsph)" stroke="#80604a" stroke-width="0.7" stroke-opacity="0.75"/>
<circle cx="431.1" cy="2005.9" r="15.0" fill="url(#vsph)" stroke="#80604a" stroke-width="0.7" stroke-opacity="0.75"/>
<circle cx="405.6" cy="1997.4" r="15.0" fill="url(#vsph)" stroke="#80604a" stroke-width="0.7" stroke-opacity="0.75"/>
<circle cx="381.4" cy="1985.3" r="15.0" fill="url(#vsph)" stroke="#80604a" stroke-width="0.7" stroke-opacity="0.75"/>
<circle cx="359.0" cy="1969.9" r="15.0" fill="url(#vsph)" stroke="#80604a" stroke-width="0.7" stroke-opacity="0.75"/>
<circle cx="338.9" cy="1951.5" r="15.0" fill="url(#vsph)" stroke="#80604a" stroke-width="0.7" stroke-opacity="0.75"/>
<circle cx="321.3" cy="1930.4" r="15.0" fill="url(#vsph)" stroke="#80604a" stroke-width="0.7" stroke-opacity="0.75"/>
<circle cx="306.6" cy="1906.9" r="15.0" fill="url(#vsph)" stroke="#80604a" stroke-width="0.7" stroke-opacity="0.75"/>
<circle cx="295.1" cy="1881.6" r="15.0" fill="url(#vsph)" stroke="#80604a" stroke-width="0.7" stroke-opacity="0.75"/>
<circle cx="287.0" cy="1854.9" r="15.0" fill="url(#vsph)" stroke="#80604a" stroke-width="0.7" stroke-opacity="0.75"/>
<circle cx="282.5" cy="1827.3" r="15.0" fill="url(#vsph)" stroke="#80604a" stroke-width="0.7" stroke-opacity="0.75"/>
<circle cx="281.6" cy="1799.3" r="15.0" fill="url(#vsph)" stroke="#80604a" stroke-width="0.7" stroke-opacity="0.75"/>
<circle cx="284.4" cy="1771.5" r="15.0" fill="url(#vsph)" stroke="#80604a" stroke-width="0.7" stroke-opacity="0.75"/>
<circle cx="290.7" cy="1744.2" r="15.0" fill="url(#vsph)" stroke="#80604a" stroke-width="0.7" stroke-opacity="0.75"/>
<circle cx="300.6" cy="1718.2" r="15.0" fill="url(#vsph)" stroke="#80604a" stroke-width="0.7" stroke-opacity="0.75"/>
<circle cx="313.7" cy="1693.8" r="15.0" fill="url(#vsph)" stroke="#80604a" stroke-width="0.7" stroke-opacity="0.75"/>
<circle cx="329.9" cy="1671.5" r="15.0" fill="url(#vsph)" stroke="#80604a" stroke-width="0.7" stroke-opacity="0.75"/>
<circle cx="348.9" cy="1651.7" r="15.0" fill="url(#vsph)" stroke="#80604a" stroke-width="0.7" stroke-opacity="0.75"/>
<circle cx="370.3" cy="1634.8" r="15.0" fill="url(#vsph)" stroke="#80604a" stroke-width="0.7" stroke-opacity="0.75"/>
<circle cx="393.6" cy="1621.1" r="15.0" fill="url(#vsph)" stroke="#80604a" stroke-width="0.7" stroke-opacity="0.75"/>
<circle cx="418.5" cy="1610.8" r="15.0" fill="url(#vsph)" stroke="#80604a" stroke-width="0.7" stroke-opacity="0.75"/>
<circle cx="444.6" cy="1604.2" r="15.0" fill="url(#vsph)" stroke="#80604a" stroke-width="0.7" stroke-opacity="0.75"/>
<circle cx="471.2" cy="1601.4" r="15.0" fill="url(#vsph)" stroke="#80604a" stroke-width="0.7" stroke-opacity="0.75"/>
<circle cx="498.0" cy="1602.3" r="15.0" fill="url(#vsph)" stroke="#80604a" stroke-width="0.7" stroke-opacity="0.75"/>
<circle cx="524.4" cy="1607.1" r="15.0" fill="url(#vsph)" stroke="#80604a" stroke-width="0.7" stroke-opacity="0.75"/>
<circle cx="507.3" cy="2010.0" r="15.7" fill="url(#vsph)" stroke="#80604a" stroke-width="0.7" stroke-opacity="0.75"/>
<circle cx="478.8" cy="2010.3" r="15.7" fill="url(#vsph)" stroke="#80604a" stroke-width="0.7" stroke-opacity="0.75"/>
<circle cx="450.6" cy="2005.7" r="15.7" fill="url(#vsph)" stroke="#80604a" stroke-width="0.7" stroke-opacity="0.75"/>
<circle cx="423.4" cy="1996.2" r="15.7" fill="url(#vsph)" stroke="#80604a" stroke-width="0.7" stroke-opacity="0.75"/>
<circle cx="397.8" cy="1982.2" r="15.7" fill="url(#vsph)" stroke="#80604a" stroke-width="0.7" stroke-opacity="0.75"/>
<circle cx="374.6" cy="1964.0" r="15.7" fill="url(#vsph)" stroke="#80604a" stroke-width="0.7" stroke-opacity="0.75"/>
<circle cx="354.3" cy="1942.1" r="15.7" fill="url(#vsph)" stroke="#80604a" stroke-width="0.7" stroke-opacity="0.75"/>
<circle cx="337.3" cy="1916.8" r="15.7" fill="url(#vsph)" stroke="#80604a" stroke-width="0.7" stroke-opacity="0.75"/>
<circle cx="324.1" cy="1889.0" r="15.7" fill="url(#vsph)" stroke="#80604a" stroke-width="0.7" stroke-opacity="0.75"/>
<circle cx="315.1" cy="1859.3" r="15.7" fill="url(#vsph)" stroke="#80604a" stroke-width="0.7" stroke-opacity="0.75"/>
<circle cx="310.4" cy="1828.4" r="15.7" fill="url(#vsph)" stroke="#80604a" stroke-width="0.7" stroke-opacity="0.75"/>
<circle cx="310.1" cy="1797.0" r="15.7" fill="url(#vsph)" stroke="#80604a" stroke-width="0.7" stroke-opacity="0.75"/>
<circle cx="314.4" cy="1766.0" r="15.7" fill="url(#vsph)" stroke="#80604a" stroke-width="0.7" stroke-opacity="0.75"/>
<circle cx="323.0" cy="1736.1" r="15.7" fill="url(#vsph)" stroke="#80604a" stroke-width="0.7" stroke-opacity="0.75"/>
<circle cx="335.7" cy="1708.1" r="15.7" fill="url(#vsph)" stroke="#80604a" stroke-width="0.7" stroke-opacity="0.75"/>
<circle cx="352.3" cy="1682.5" r="15.7" fill="url(#vsph)" stroke="#80604a" stroke-width="0.7" stroke-opacity="0.75"/>
<circle cx="372.3" cy="1660.2" r="15.7" fill="url(#vsph)" stroke="#80604a" stroke-width="0.7" stroke-opacity="0.75"/>
<circle cx="395.2" cy="1641.5" r="15.7" fill="url(#vsph)" stroke="#80604a" stroke-width="0.7" stroke-opacity="0.75"/>
<circle cx="420.5" cy="1627.1" r="15.7" fill="url(#vsph)" stroke="#80604a" stroke-width="0.7" stroke-opacity="0.75"/>
<circle cx="447.6" cy="1617.1" r="15.7" fill="url(#vsph)" stroke="#80604a" stroke-width="0.7" stroke-opacity="0.75"/>
<circle cx="475.7" cy="1612.0" r="15.7" fill="url(#vsph)" stroke="#80604a" stroke-width="0.7" stroke-opacity="0.75"/>
<circle cx="504.2" cy="1611.7" r="15.7" fill="url(#vsph)" stroke="#80604a" stroke-width="0.7" stroke-opacity="0.75"/>
<circle cx="532.4" cy="1616.3" r="15.7" fill="url(#vsph)" stroke="#80604a" stroke-width="0.7" stroke-opacity="0.75"/>
<circle cx="559.6" cy="1625.8" r="15.7" fill="url(#vsph)" stroke="#80604a" stroke-width="0.7" stroke-opacity="0.75"/>
<circle cx="585.2" cy="1639.8" r="15.7" fill="url(#vsph)" stroke="#80604a" stroke-width="0.7" stroke-opacity="0.75"/>
<circle cx="608.4" cy="1658.0" r="15.7" fill="url(#vsph)" stroke="#80604a" stroke-width="0.7" stroke-opacity="0.75"/>
<circle cx="628.7" cy="1679.9" r="15.7" fill="url(#vsph)" stroke="#80604a" stroke-width="0.7" stroke-opacity="0.75"/>
<circle cx="645.7" cy="1705.2" r="15.7" fill="url(#vsph)" stroke="#80604a" stroke-width="0.7" stroke-opacity="0.75"/>
<circle cx="658.9" cy="1733.0" r="15.7" fill="url(#vsph)" stroke="#80604a" stroke-width="0.7" stroke-opacity="0.75"/>
<polyline points="317.6,1666.2 317.4,1666.5 316.6,1665.9 315.3,1664.4 313.8,1662.2 312.3,1659.3 311.2,1656.1 310.6,1652.8 310.7,1649.8 311.5,1647.3" fill="none" stroke="#842a2c" stroke-width="6.2" stroke-linecap="butt"/>
<polyline points="331.9,1654.2 331.9,1654.8 331.3,1654.6 330.2,1653.5 328.7,1651.5 327.2,1648.8 326.0,1645.7 325.1,1642.4 324.9,1639.3 325.5,1636.6 326.8,1634.5" fill="none" stroke="#842a2c" stroke-width="6.2" stroke-linecap="butt"/>
<polyline points="345.7,1643.5 344.5,1644.1 343.8,1643.2 342.7,1641.4 341.7,1638.7 340.9,1635.6 340.5,1632.2 340.6,1629.0 341.4,1626.1 342.8,1624.0" fill="none" stroke="#842a2c" stroke-width="6.2" stroke-linecap="butt"/>
<polyline points="361.2,1635.0 361.1,1635.5 360.5,1635.1 359.6,1633.7 358.5,1631.4 357.6,1628.5 357.0,1625.2 356.8,1621.8 357.3,1618.8 358.3,1616.2 360.1,1614.5" fill="none" stroke="#842a2c" stroke-width="6.2" stroke-linecap="butt"/>
<polyline points="376.5,1627.7 376.1,1627.6 375.4,1626.4 374.7,1624.2 374.0,1621.2 373.7,1617.8 373.9,1614.4 374.7,1611.2 376.1,1608.6 378.0,1607.0" fill="none" stroke="#842a2c" stroke-width="6.2" stroke-linecap="butt"/>
<polyline points="393.9,1621.3 393.5,1621.2 392.8,1619.9 392.0,1617.7 391.4,1614.7 391.1,1611.3 391.3,1607.8 392.1,1604.7 393.5,1602.2 395.5,1600.6" fill="none" stroke="#842a2c" stroke-width="6.2" stroke-linecap="butt"/>
<polyline points="410.2,1616.6 409.8,1616.4 409.3,1615.1 408.9,1612.9 408.7,1609.9 409.0,1606.6 409.7,1603.2 410.9,1600.2 412.6,1597.8 414.7,1596.4" fill="none" stroke="#842a2c" stroke-width="6.2" stroke-linecap="butt"/>
<polyline points="428.4,1612.9 428.0,1612.9 427.5,1611.8 427.1,1609.6 426.9,1606.8 427.0,1603.4 427.7,1600.0 428.8,1596.9 430.4,1594.5 432.5,1592.9" fill="none" stroke="#842a2c" stroke-width="6.2" stroke-linecap="butt"/>
<polyline points="445.1,1610.1 444.8,1610.3 444.4,1609.4 444.3,1607.5 444.5,1604.9 445.0,1601.7 446.1,1598.5 447.5,1595.5 449.4,1593.2 451.6,1591.6" fill="none" stroke="#842a2c" stroke-width="6.2" stroke-linecap="butt"/>
<polyline points="463.4,1609.9 463.1,1609.5 462.8,1608.1 462.8,1605.8 463.2,1602.9 464.0,1599.6 465.3,1596.5 466.9,1593.8 469.0,1591.8 471.2,1590.8" fill="none" stroke="#842a2c" stroke-width="6.2" stroke-linecap="butt"/>
<polyline points="481.2,1609.4 480.8,1609.5 480.6,1608.6 480.6,1606.6 481.1,1604.0 482.0,1600.9 483.3,1597.8 485.1,1595.0 487.2,1592.9 489.5,1591.6" fill="none" stroke="#842a2c" stroke-width="6.2" stroke-linecap="butt"/>
<polyline points="499.4,1611.0 499.1,1610.5 499.0,1609.0 499.3,1606.6 500.0,1603.7 501.1,1600.6 502.7,1597.6 504.7,1595.1 506.9,1593.4 509.3,1592.7" fill="none" stroke="#842a2c" stroke-width="6.2" stroke-linecap="butt"/>
<polyline points="518.0,1612.2 517.7,1612.2 517.5,1611.2 517.7,1609.2 518.1,1606.5 519.0,1603.4 520.3,1600.3 522.1,1597.5 524.2,1595.4 526.5,1594.2" fill="none" stroke="#842a2c" stroke-width="6.2" stroke-linecap="butt"/>
<polyline points="536.8,1612.9 536.5,1613.4 536.2,1612.9 536.1,1611.3 536.3,1608.9 537.0,1605.9 538.1,1602.8 539.7,1599.8 541.6,1597.3 543.9,1595.6 546.2,1595.0" fill="none" stroke="#842a2c" stroke-width="6.2" stroke-linecap="butt"/>
<polyline points="555.1,1614.3 554.8,1614.3" fill="none" stroke="#842a2c" stroke-width="6.2" stroke-linecap="butt"/>
<polyline points="311.1,1659.5 313.7,1661.5 315.8,1663.4 317.1,1665.1 317.6,1666.2" fill="none" stroke="#8e2c2e" stroke-width="7.8" stroke-linecap="butt"/>
<polyline points="311.1,1659.5 313.7,1661.5 315.8,1663.4 317.1,1665.1 317.6,1666.2" fill="none" stroke="#c7464b" stroke-width="5.8" stroke-linecap="butt"/>
<polyline points="311.1,1659.5 313.7,1661.5 315.8,1663.4 317.1,1665.1 317.6,1666.2" fill="none" stroke="#e0787a" stroke-width="1.4" stroke-linecap="butt"/>
<polyline points="311.5,1647.3 313.2,1645.6 315.5,1644.7 318.2,1644.7 321.3,1645.6 324.3,1647.1 327.1,1649.0 329.4,1651.0 331.0,1652.8 331.9,1654.2" fill="none" stroke="#8e2c2e" stroke-width="7.8" stroke-linecap="butt"/>
<polyline points="311.5,1647.3 313.2,1645.6 315.5,1644.7 318.2,1644.7 321.3,1645.6 324.3,1647.1 327.1,1649.0 329.4,1651.0 331.0,1652.8 331.9,1654.2" fill="none" stroke="#c7464b" stroke-width="5.8" stroke-linecap="butt"/>
<polyline points="311.5,1647.3 313.2,1645.6 315.5,1644.7 318.2,1644.7 321.3,1645.6 324.3,1647.1 327.1,1649.0 329.4,1651.0 331.0,1652.8 331.9,1654.2" fill="none" stroke="#e0787a" stroke-width="1.4" stroke-linecap="butt"/>
<polyline points="326.8,1634.5 328.8,1633.3 331.4,1633.0 334.4,1633.5 337.5,1634.8 340.4,1636.5 342.9,1638.5 344.8,1640.5 346.0,1642.0 345.7,1643.5" fill="none" stroke="#8e2c2e" stroke-width="7.8" stroke-linecap="butt"/>
<polyline points="326.8,1634.5 328.8,1633.3 331.4,1633.0 334.4,1633.5 337.5,1634.8 340.4,1636.5 342.9,1638.5 344.8,1640.5 346.0,1642.0 345.7,1643.5" fill="none" stroke="#c7464b" stroke-width="5.8" stroke-linecap="butt"/>
<polyline points="326.8,1634.5 328.8,1633.3 331.4,1633.0 334.4,1633.5 337.5,1634.8 340.4,1636.5 342.9,1638.5 344.8,1640.5 346.0,1642.0 345.7,1643.5" fill="none" stroke="#e0787a" stroke-width="1.4" stroke-linecap="butt"/>
<polyline points="342.8,1624.0 344.8,1622.7 347.3,1622.5 350.0,1623.2 352.8,1624.7 355.5,1626.8 357.8,1629.2 359.5,1631.6 360.7,1633.6 361.2,1635.0" fill="none" stroke="#8e2c2e" stroke-width="7.8" stroke-linecap="butt"/>
<polyline points="342.8,1624.0 344.8,1622.7 347.3,1622.5 350.0,1623.2 352.8,1624.7 355.5,1626.8 357.8,1629.2 359.5,1631.6 360.7,1633.6 361.2,1635.0" fill="none" stroke="#c7464b" stroke-width="5.8" stroke-linecap="butt"/>
<polyline points="342.8,1624.0 344.8,1622.7 347.3,1622.5 350.0,1623.2 352.8,1624.7 355.5,1626.8 357.8,1629.2 359.5,1631.6 360.7,1633.6 361.2,1635.0" fill="none" stroke="#e0787a" stroke-width="1.4" stroke-linecap="butt"/>
<polyline points="360.1,1614.5 362.3,1613.8 364.9,1614.0 367.7,1615.1 370.5,1617.0 373.0,1619.3 374.9,1622.0 375.9,1624.9 376.5,1626.7 376.5,1627.7" fill="none" stroke="#8e2c2e" stroke-width="7.8" stroke-linecap="butt"/>
<polyline points="360.1,1614.5 362.3,1613.8 364.9,1614.0 367.7,1615.1 370.5,1617.0 373.0,1619.3 374.9,1622.0 375.9,1624.9 376.5,1626.7 376.5,1627.7" fill="none" stroke="#c7464b" stroke-width="5.8" stroke-linecap="butt"/>
<polyline points="360.1,1614.5 362.3,1613.8 364.9,1614.0 367.7,1615.1 370.5,1617.0 373.0,1619.3 374.9,1622.0 375.9,1624.9 376.5,1626.7 376.5,1627.7" fill="none" stroke="#e0787a" stroke-width="1.4" stroke-linecap="butt"/>
<polyline points="378.0,1607.0 380.4,1606.4 383.0,1606.9 385.7,1608.4 388.3,1610.7 390.5,1613.4 392.2,1616.1 393.4,1618.6 393.9,1620.4 393.9,1621.3" fill="none" stroke="#8e2c2e" stroke-width="7.8" stroke-linecap="butt"/>
<polyline points="378.0,1607.0 380.4,1606.4 383.0,1606.9 385.7,1608.4 388.3,1610.7 390.5,1613.4 392.2,1616.1 393.4,1618.6 393.9,1620.4 393.9,1621.3" fill="none" stroke="#c7464b" stroke-width="5.8" stroke-linecap="butt"/>
<polyline points="378.0,1607.0 380.4,1606.4 383.0,1606.9 385.7,1608.4 388.3,1610.7 390.5,1613.4 392.2,1616.1 393.4,1618.6 393.9,1620.4 393.9,1621.3" fill="none" stroke="#e0787a" stroke-width="1.4" stroke-linecap="butt"/>
<polyline points="395.5,1600.6 398.6,1599.9 401.8,1600.8 404.2,1602.7 406.3,1605.3 408.1,1608.3 409.3,1611.2 410.1,1613.8 410.4,1615.7 410.2,1616.6" fill="none" stroke="#8e2c2e" stroke-width="7.8" stroke-linecap="butt"/>
<polyline points="395.5,1600.6 398.6,1599.9 401.8,1600.8 404.2,1602.7 406.3,1605.3 408.1,1608.3 409.3,1611.2 410.1,1613.8 410.4,1615.7 410.2,1616.6" fill="none" stroke="#c7464b" stroke-width="5.8" stroke-linecap="butt"/>
<polyline points="395.5,1600.6 398.6,1599.9 401.8,1600.8 404.2,1602.7 406.3,1605.3 408.1,1608.3 409.3,1611.2 410.1,1613.8 410.4,1615.7 410.2,1616.6" fill="none" stroke="#e0787a" stroke-width="1.4" stroke-linecap="butt"/>
<polyline points="414.7,1596.4 417.1,1596.1 419.6,1596.9 422.0,1598.7 424.2,1601.2 426.0,1604.2 427.3,1607.2 428.2,1609.9 428.5,1611.8 428.4,1612.9" fill="none" stroke="#8e2c2e" stroke-width="7.8" stroke-linecap="butt"/>
<polyline points="414.7,1596.4 417.1,1596.1 419.6,1596.9 422.0,1598.7 424.2,1601.2 426.0,1604.2 427.3,1607.2 428.2,1609.9 428.5,1611.8 428.4,1612.9" fill="none" stroke="#c7464b" stroke-width="5.8" stroke-linecap="butt"/>
<polyline points="414.7,1596.4 417.1,1596.1 419.6,1596.9 422.0,1598.7 424.2,1601.2 426.0,1604.2 427.3,1607.2 428.2,1609.9 428.5,1611.8 428.4,1612.9" fill="none" stroke="#e0787a" stroke-width="1.4" stroke-linecap="butt"/>
<polyline points="432.5,1592.9 434.9,1592.5 437.3,1593.1 439.8,1594.8 442.0,1597.2 444.0,1600.5 444.9,1604.0 445.3,1606.8 445.3,1608.9 445.1,1610.1" fill="none" stroke="#8e2c2e" stroke-width="7.8" stroke-linecap="butt"/>
<polyline points="432.5,1592.9 434.9,1592.5 437.3,1593.1 439.8,1594.8 442.0,1597.2 444.0,1600.5 444.9,1604.0 445.3,1606.8 445.3,1608.9 445.1,1610.1" fill="none" stroke="#c7464b" stroke-width="5.8" stroke-linecap="butt"/>
<polyline points="432.5,1592.9 434.9,1592.5 437.3,1593.1 439.8,1594.8 442.0,1597.2 444.0,1600.5 444.9,1604.0 445.3,1606.8 445.3,1608.9 445.1,1610.1" fill="none" stroke="#e0787a" stroke-width="1.4" stroke-linecap="butt"/>
<polyline points="451.6,1591.6 453.9,1591.2 456.2,1591.8 458.4,1593.4 460.4,1595.8 461.9,1598.8 463.0,1602.0 463.6,1605.0 463.8,1607.5 463.7,1609.2 463.4,1609.9" fill="none" stroke="#8e2c2e" stroke-width="7.8" stroke-linecap="butt"/>
<polyline points="451.6,1591.6 453.9,1591.2 456.2,1591.8 458.4,1593.4 460.4,1595.8 461.9,1598.8 463.0,1602.0 463.6,1605.0 463.8,1607.5 463.7,1609.2 463.4,1609.9" fill="none" stroke="#c7464b" stroke-width="5.8" stroke-linecap="butt"/>
<polyline points="451.6,1591.6 453.9,1591.2 456.2,1591.8 458.4,1593.4 460.4,1595.8 461.9,1598.8 463.0,1602.0 463.6,1605.0 463.8,1607.5 463.7,1609.2 463.4,1609.9" fill="none" stroke="#e0787a" stroke-width="1.4" stroke-linecap="butt"/>
<polyline points="471.2,1590.8 473.6,1590.9 475.9,1592.0 478.0,1594.0 479.7,1596.8 481.0,1599.9 481.9,1603.1 482.3,1605.9 481.9,1608.1 481.2,1609.4" fill="none" stroke="#8e2c2e" stroke-width="7.8" stroke-linecap="butt"/>
<polyline points="471.2,1590.8 473.6,1590.9 475.9,1592.0 478.0,1594.0 479.7,1596.8 481.0,1599.9 481.9,1603.1 482.3,1605.9 481.9,1608.1 481.2,1609.4" fill="none" stroke="#c7464b" stroke-width="5.8" stroke-linecap="butt"/>
<polyline points="471.2,1590.8 473.6,1590.9 475.9,1592.0 478.0,1594.0 479.7,1596.8 481.0,1599.9 481.9,1603.1 482.3,1605.9 481.9,1608.1 481.2,1609.4" fill="none" stroke="#e0787a" stroke-width="1.4" stroke-linecap="butt"/>
<polyline points="489.5,1591.6 491.9,1591.4 494.2,1592.3 496.2,1594.1 497.8,1596.8 499.1,1599.9 499.8,1603.2 500.1,1606.3 500.1,1608.7 499.8,1610.4 499.4,1611.0" fill="none" stroke="#8e2c2e" stroke-width="7.8" stroke-linecap="butt"/>
<polyline points="489.5,1591.6 491.9,1591.4 494.2,1592.3 496.2,1594.1 497.8,1596.8 499.1,1599.9 499.8,1603.2 500.1,1606.3 500.1,1608.7 499.8,1610.4 499.4,1611.0" fill="none" stroke="#c7464b" stroke-width="5.8" stroke-linecap="butt"/>
<polyline points="489.5,1591.6 491.9,1591.4 494.2,1592.3 496.2,1594.1 497.8,1596.8 499.1,1599.9 499.8,1603.2 500.1,1606.3 500.1,1608.7 499.8,1610.4 499.4,1611.0" fill="none" stroke="#e0787a" stroke-width="1.4" stroke-linecap="butt"/>
<polyline points="509.3,1592.7 511.6,1593.1 513.8,1594.6 515.6,1596.9 517.0,1599.9 518.0,1603.1 518.5,1606.3 518.6,1609.1 518.4,1611.1 518.0,1612.2" fill="none" stroke="#8e2c2e" stroke-width="7.8" stroke-linecap="butt"/>
<polyline points="509.3,1592.7 511.6,1593.1 513.8,1594.6 515.6,1596.9 517.0,1599.9 518.0,1603.1 518.5,1606.3 518.6,1609.1 518.4,1611.1 518.0,1612.2" fill="none" stroke="#c7464b" stroke-width="5.8" stroke-linecap="butt"/>
<polyline points="509.3,1592.7 511.6,1593.1 513.8,1594.6 515.6,1596.9 517.0,1599.9 518.0,1603.1 518.5,1606.3 518.6,1609.1 518.4,1611.1 518.0,1612.2" fill="none" stroke="#e0787a" stroke-width="1.4" stroke-linecap="butt"/>
<polyline points="526.5,1594.2 528.8,1594.0 531.1,1594.9 533.1,1596.8 534.8,1599.5 536.0,1602.7 536.8,1605.9 537.1,1608.9 537.1,1611.4 536.8,1612.9" fill="none" stroke="#8e2c2e" stroke-width="7.8" stroke-linecap="butt"/>
<polyline points="526.5,1594.2 528.8,1594.0 531.1,1594.9 533.1,1596.8 534.8,1599.5 536.0,1602.7 536.8,1605.9 537.1,1608.9 537.1,1611.4 536.8,1612.9" fill="none" stroke="#c7464b" stroke-width="5.8" stroke-linecap="butt"/>
<polyline points="526.5,1594.2 528.8,1594.0 531.1,1594.9 533.1,1596.8 534.8,1599.5 536.0,1602.7 536.8,1605.9 537.1,1608.9 537.1,1611.4 536.8,1612.9" fill="none" stroke="#e0787a" stroke-width="1.4" stroke-linecap="butt"/>
<polyline points="546.2,1595.0 548.5,1595.4 550.7,1596.9 552.5,1599.2 554.0,1602.2 555.0,1605.4 555.5,1608.6 555.6,1611.3 555.5,1613.3 555.1,1614.3" fill="none" stroke="#8e2c2e" stroke-width="7.8" stroke-linecap="butt"/>
<polyline points="546.2,1595.0 548.5,1595.4 550.7,1596.9 552.5,1599.2 554.0,1602.2 555.0,1605.4 555.5,1608.6 555.6,1611.3 555.5,1613.3 555.1,1614.3" fill="none" stroke="#c7464b" stroke-width="5.8" stroke-linecap="butt"/>
<polyline points="546.2,1595.0 548.5,1595.4 550.7,1596.9 552.5,1599.2 554.0,1602.2 555.0,1605.4 555.5,1608.6 555.6,1611.3 555.5,1613.3 555.1,1614.3" fill="none" stroke="#e0787a" stroke-width="1.4" stroke-linecap="butt"/>
<polyline points="355.6,1593.2 355.4,1593.6 355.0,1593.0 354.4,1591.5 353.9,1589.1 353.5,1586.2 353.5,1583.0 354.0,1579.7 354.9,1576.8 356.4,1574.4 358.3,1572.9" fill="none" stroke="#842a2c" stroke-width="6.2" stroke-linecap="butt"/>
<polyline points="374.2,1587.2 374.1,1587.8 373.7,1587.4 373.1,1586.0 372.6,1583.8 372.2,1581.0 372.1,1577.8 372.5,1574.5 373.3,1571.5 374.7,1569.0 377.1,1567.1" fill="none" stroke="#842a2c" stroke-width="6.2" stroke-linecap="butt"/>
<polyline points="391.9,1583.5 391.6,1583.3 391.2,1582.1 390.9,1580.0 390.8,1577.2 391.1,1574.1 391.7,1570.8 392.9,1567.9 394.5,1565.4 396.4,1563.8" fill="none" stroke="#842a2c" stroke-width="6.2" stroke-linecap="butt"/>
<polyline points="411.1,1580.1 410.8,1580.1 410.5,1579.0 410.1,1577.1 410.0,1574.5 410.2,1571.4 410.8,1568.1 411.8,1565.1 413.3,1562.5 415.2,1560.7 417.4,1559.8" fill="none" stroke="#842a2c" stroke-width="6.2" stroke-linecap="butt"/>
<polyline points="429.4,1577.8 429.1,1578.0 428.8,1577.3 428.7,1575.6 428.8,1573.3 429.2,1570.4 430.0,1567.3 431.2,1564.3 432.8,1561.7 434.8,1559.8 436.9,1558.7" fill="none" stroke="#842a2c" stroke-width="6.2" stroke-linecap="butt"/>
<polyline points="448.7,1577.1 448.4,1576.8 448.2,1575.6 448.2,1573.5 448.4,1570.8 449.0,1567.8 450.0,1564.7 451.5,1561.9 453.3,1559.6 455.3,1558.2" fill="none" stroke="#842a2c" stroke-width="6.2" stroke-linecap="butt"/>
<polyline points="467.6,1576.5 467.4,1576.6 467.1,1575.8 467.1,1574.2 467.4,1571.8 468.0,1568.9 469.1,1565.9 470.5,1563.0 472.3,1560.6 474.4,1558.9 476.7,1558.0" fill="none" stroke="#842a2c" stroke-width="6.2" stroke-linecap="butt"/>
<polyline points="487.0,1577.2 486.7,1576.8 486.6,1575.6 486.7,1573.5 487.2,1570.9 488.0,1567.9 489.3,1564.9 490.9,1562.2 492.9,1560.1 495.0,1558.8" fill="none" stroke="#842a2c" stroke-width="6.2" stroke-linecap="butt"/>
<polyline points="505.1,1578.4 504.8,1578.4 504.8,1577.5 505.0,1575.7 505.7,1573.2 506.9,1570.4 508.5,1567.5 510.4,1565.0 512.7,1562.9 515.0,1561.7 517.4,1561.4" fill="none" stroke="#842a2c" stroke-width="6.2" stroke-linecap="butt"/>
<polyline points="524.4,1581.6 524.1,1581.8 524.0,1581.1 524.2,1579.5 524.8,1577.1 525.8,1574.4 527.3,1571.5 529.2,1568.8 531.4,1566.6 533.7,1565.2 536.1,1564.8" fill="none" stroke="#842a2c" stroke-width="6.2" stroke-linecap="butt"/>
<polyline points="539.7,1585.5 539.2,1585.7 539.4,1585.0 540.2,1583.5 541.7,1581.5 543.8,1579.2" fill="none" stroke="#842a2c" stroke-width="6.2" stroke-linecap="butt"/>
<polyline points="351.8,1584.8 353.5,1587.5 354.7,1590.0 355.4,1592.0 355.6,1593.2" fill="none" stroke="#8e2c2e" stroke-width="7.8" stroke-linecap="butt"/>
<polyline points="351.8,1584.8 353.5,1587.5 354.7,1590.0 355.4,1592.0 355.6,1593.2" fill="none" stroke="#c7464b" stroke-width="5.8" stroke-linecap="butt"/>
<polyline points="351.8,1584.8 353.5,1587.5 354.7,1590.0 355.4,1592.0 355.6,1593.2" fill="none" stroke="#e0787a" stroke-width="1.4" stroke-linecap="butt"/>
<polyline points="358.3,1572.9 360.5,1572.3 363.0,1572.7 365.5,1574.0 367.9,1576.0 370.1,1578.5 371.8,1581.2 373.1,1583.7 373.9,1585.8 374.2,1587.2" fill="none" stroke="#8e2c2e" stroke-width="7.8" stroke-linecap="butt"/>
<polyline points="358.3,1572.9 360.5,1572.3 363.0,1572.7 365.5,1574.0 367.9,1576.0 370.1,1578.5 371.8,1581.2 373.1,1583.7 373.9,1585.8 374.2,1587.2" fill="none" stroke="#c7464b" stroke-width="5.8" stroke-linecap="butt"/>
<polyline points="358.3,1572.9 360.5,1572.3 363.0,1572.7 365.5,1574.0 367.9,1576.0 370.1,1578.5 371.8,1581.2 373.1,1583.7 373.9,1585.8 374.2,1587.2" fill="none" stroke="#e0787a" stroke-width="1.4" stroke-linecap="butt"/>
<polyline points="377.1,1567.1 379.9,1566.5 382.3,1567.0 384.6,1568.4 386.8,1570.6 388.7,1573.2 390.2,1576.1 391.2,1578.9 391.8,1581.2 392.0,1582.8 391.9,1583.5" fill="none" stroke="#8e2c2e" stroke-width="7.8" stroke-linecap="butt"/>
<polyline points="377.1,1567.1 379.9,1566.5 382.3,1567.0 384.6,1568.4 386.8,1570.6 388.7,1573.2 390.2,1576.1 391.2,1578.9 391.8,1581.2 392.0,1582.8 391.9,1583.5" fill="none" stroke="#c7464b" stroke-width="5.8" stroke-linecap="butt"/>
<polyline points="377.1,1567.1 379.9,1566.5 382.3,1567.0 384.6,1568.4 386.8,1570.6 388.7,1573.2 390.2,1576.1 391.2,1578.9 391.8,1581.2 392.0,1582.8 391.9,1583.5" fill="none" stroke="#e0787a" stroke-width="1.4" stroke-linecap="butt"/>
<polyline points="396.4,1563.8 398.6,1563.1 401.0,1563.4 403.4,1564.7 405.6,1566.7 407.5,1569.3 409.1,1572.2 410.3,1575.0 410.9,1577.4 411.2,1579.2 411.1,1580.1" fill="none" stroke="#8e2c2e" stroke-width="7.8" stroke-linecap="butt"/>
<polyline points="396.4,1563.8 398.6,1563.1 401.0,1563.4 403.4,1564.7 405.6,1566.7 407.5,1569.3 409.1,1572.2 410.3,1575.0 410.9,1577.4 411.2,1579.2 411.1,1580.1" fill="none" stroke="#c7464b" stroke-width="5.8" stroke-linecap="butt"/>
<polyline points="396.4,1563.8 398.6,1563.1 401.0,1563.4 403.4,1564.7 405.6,1566.7 407.5,1569.3 409.1,1572.2 410.3,1575.0 410.9,1577.4 411.2,1579.2 411.1,1580.1" fill="none" stroke="#e0787a" stroke-width="1.4" stroke-linecap="butt"/>
<polyline points="417.4,1559.8 420.3,1559.9 423.0,1561.3 425.0,1563.4 426.7,1566.1 428.0,1569.0 428.9,1572.0 429.4,1574.6 429.5,1576.6 429.4,1577.8" fill="none" stroke="#8e2c2e" stroke-width="7.8" stroke-linecap="butt"/>
<polyline points="417.4,1559.8 420.3,1559.9 423.0,1561.3 425.0,1563.4 426.7,1566.1 428.0,1569.0 428.9,1572.0 429.4,1574.6 429.5,1576.6 429.4,1577.8" fill="none" stroke="#c7464b" stroke-width="5.8" stroke-linecap="butt"/>
<polyline points="417.4,1559.8 420.3,1559.9 423.0,1561.3 425.0,1563.4 426.7,1566.1 428.0,1569.0 428.9,1572.0 429.4,1574.6 429.5,1576.6 429.4,1577.8" fill="none" stroke="#e0787a" stroke-width="1.4" stroke-linecap="butt"/>
<polyline points="436.9,1558.7 439.2,1558.7 441.5,1559.6 443.6,1561.3 445.4,1563.8 446.9,1566.6 448.0,1569.6 448.7,1572.4 449.0,1574.8 449.0,1576.4 448.7,1577.1" fill="none" stroke="#8e2c2e" stroke-width="7.8" stroke-linecap="butt"/>
<polyline points="436.9,1558.7 439.2,1558.7 441.5,1559.6 443.6,1561.3 445.4,1563.8 446.9,1566.6 448.0,1569.6 448.7,1572.4 449.0,1574.8 449.0,1576.4 448.7,1577.1" fill="none" stroke="#c7464b" stroke-width="5.8" stroke-linecap="butt"/>
<polyline points="436.9,1558.7 439.2,1558.7 441.5,1559.6 443.6,1561.3 445.4,1563.8 446.9,1566.6 448.0,1569.6 448.7,1572.4 449.0,1574.8 449.0,1576.4 448.7,1577.1" fill="none" stroke="#e0787a" stroke-width="1.4" stroke-linecap="butt"/>
<polyline points="455.3,1558.2 457.6,1557.6 459.9,1558.0 462.4,1559.5 464.5,1561.9 465.9,1564.7 467.0,1567.7 467.6,1570.7 467.9,1573.3 467.9,1575.3 467.6,1576.5" fill="none" stroke="#8e2c2e" stroke-width="7.8" stroke-linecap="butt"/>
<polyline points="455.3,1558.2 457.6,1557.6 459.9,1558.0 462.4,1559.5 464.5,1561.9 465.9,1564.7 467.0,1567.7 467.6,1570.7 467.9,1573.3 467.9,1575.3 467.6,1576.5" fill="none" stroke="#c7464b" stroke-width="5.8" stroke-linecap="butt"/>
<polyline points="455.3,1558.2 457.6,1557.6 459.9,1558.0 462.4,1559.5 464.5,1561.9 465.9,1564.7 467.0,1567.7 467.6,1570.7 467.9,1573.3 467.9,1575.3 467.6,1576.5" fill="none" stroke="#e0787a" stroke-width="1.4" stroke-linecap="butt"/>
<polyline points="476.7,1558.0 479.0,1558.1 481.1,1559.2 483.1,1561.1 484.7,1563.7 486.0,1566.7 486.8,1569.8 487.3,1572.6 487.4,1574.9 487.3,1576.5 487.0,1577.2" fill="none" stroke="#8e2c2e" stroke-width="7.8" stroke-linecap="butt"/>
<polyline points="476.7,1558.0 479.0,1558.1 481.1,1559.2 483.1,1561.1 484.7,1563.7 486.0,1566.7 486.8,1569.8 487.3,1572.6 487.4,1574.9 487.3,1576.5 487.0,1577.2" fill="none" stroke="#c7464b" stroke-width="5.8" stroke-linecap="butt"/>
<polyline points="476.7,1558.0 479.0,1558.1 481.1,1559.2 483.1,1561.1 484.7,1563.7 486.0,1566.7 486.8,1569.8 487.3,1572.6 487.4,1574.9 487.3,1576.5 487.0,1577.2" fill="none" stroke="#e0787a" stroke-width="1.4" stroke-linecap="butt"/>
<polyline points="495.0,1558.8 497.3,1558.4 499.6,1559.0 501.7,1560.6 503.8,1563.1 505.2,1566.5 505.8,1569.7 506.0,1572.8 505.9,1575.4 505.5,1577.4 505.1,1578.4" fill="none" stroke="#8e2c2e" stroke-width="7.8" stroke-linecap="butt"/>
<polyline points="495.0,1558.8 497.3,1558.4 499.6,1559.0 501.7,1560.6 503.8,1563.1 505.2,1566.5 505.8,1569.7 506.0,1572.8 505.9,1575.4 505.5,1577.4 505.1,1578.4" fill="none" stroke="#c7464b" stroke-width="5.8" stroke-linecap="butt"/>
<polyline points="495.0,1558.8 497.3,1558.4 499.6,1559.0 501.7,1560.6 503.8,1563.1 505.2,1566.5 505.8,1569.7 506.0,1572.8 505.9,1575.4 505.5,1577.4 505.1,1578.4" fill="none" stroke="#e0787a" stroke-width="1.4" stroke-linecap="butt"/>
<polyline points="517.4,1561.4 519.6,1562.1 521.6,1563.8 523.1,1566.2 524.3,1569.2 524.9,1572.4 525.2,1575.6 525.1,1578.3 524.8,1580.4 524.4,1581.6" fill="none" stroke="#8e2c2e" stroke-width="7.8" stroke-linecap="butt"/>
<polyline points="517.4,1561.4 519.6,1562.1 521.6,1563.8 523.1,1566.2 524.3,1569.2 524.9,1572.4 525.2,1575.6 525.1,1578.3 524.8,1580.4 524.4,1581.6" fill="none" stroke="#c7464b" stroke-width="5.8" stroke-linecap="butt"/>
<polyline points="517.4,1561.4 519.6,1562.1 521.6,1563.8 523.1,1566.2 524.3,1569.2 524.9,1572.4 525.2,1575.6 525.1,1578.3 524.8,1580.4 524.4,1581.6" fill="none" stroke="#e0787a" stroke-width="1.4" stroke-linecap="butt"/>
<polyline points="536.1,1564.8 538.4,1565.3 540.4,1566.7 542.0,1569.0 543.3,1571.9 543.9,1575.9 542.8,1579.8 541.7,1582.5 540.5,1584.5 539.7,1585.5" fill="none" stroke="#8e2c2e" stroke-width="7.8" stroke-linecap="butt"/>
<polyline points="536.1,1564.8 538.4,1565.3 540.4,1566.7 542.0,1569.0 543.3,1571.9 543.9,1575.9 542.8,1579.8 541.7,1582.5 540.5,1584.5 539.7,1585.5" fill="none" stroke="#c7464b" stroke-width="5.8" stroke-linecap="butt"/>
<polyline points="536.1,1564.8 538.4,1565.3 540.4,1566.7 542.0,1569.0 543.3,1571.9 543.9,1575.9 542.8,1579.8 541.7,1582.5 540.5,1584.5 539.7,1585.5" fill="none" stroke="#e0787a" stroke-width="1.4" stroke-linecap="butt"/>
<path d="M331,1571 Q334,1590 348,1592" fill="none" stroke="#b03c40" stroke-width="3" stroke-linecap="round"/>
<path d="M548,1581 Q553,1576 557,1577 C562,1578 567,1583 575,1583" fill="none" stroke="#b03c40" stroke-width="3" stroke-linecap="round"/>
<path d="M558,1606 C560,1597 557,1588 557,1578" fill="none" stroke="#b03c40" stroke-width="3" stroke-linecap="round"/>
<polyline points="306.0,1664.0 294.0,1658.0 284.0,1644.0 260.0,1649.0 236.0,1648.0 230.0,1660.0 232.0,1678.0 226.0,1688.0 212.0,1698.0 204.0,1710.0 206.0,1720.0 198.0,1728.0 184.0,1732.0 172.0,1740.0 168.0,1752.0 172.0,1764.0 178.0,1772.0 172.0,1776.0 170.0,1766.0 160.0,1762.0 152.0,1770.0 144.0,1782.0 136.0,1782.0 130.0,1776.0 124.0,1784.0 118.0,1788.0 108.0,1786.0 108.0,1776.0 116.0,1773.0 112.0,1782.0 100.0,1792.0 92.0,1794.0 86.0,1786.0 86.0,1774.0 84.0,1764.0 74.0,1766.0 64.0,1770.0 54.0,1768.0 50.0,1776.0 52.0,1784.0 48.0,1784.0 40.0,1776.0 40.0,1784.0 50.0,1792.0 52.0,1800.0 44.0,1806.0 36.0,1808.0 26.0,1812.0 20.0,1818.0 26.0,1821.0 34.0,1822.0" fill="none" stroke="#3d4d94" stroke-width="3.0" stroke-linejoin="round" stroke-linecap="round"/>
<polyline points="306.0,1664.0 294.0,1658.0 284.0,1644.0 260.0,1649.0 236.0,1648.0 230.0,1660.0 232.0,1678.0 226.0,1688.0 212.0,1698.0 204.0,1710.0 206.0,1720.0 198.0,1728.0 184.0,1732.0 172.0,1740.0 168.0,1752.0 172.0,1764.0 178.0,1772.0 172.0,1776.0 170.0,1766.0 160.0,1762.0 152.0,1770.0 144.0,1782.0 136.0,1782.0 130.0,1776.0 124.0,1784.0 118.0,1788.0 108.0,1786.0 108.0,1776.0 116.0,1773.0 112.0,1782.0 100.0,1792.0 92.0,1794.0 86.0,1786.0 86.0,1774.0 84.0,1764.0 74.0,1766.0 64.0,1770.0 54.0,1768.0 50.0,1776.0 52.0,1784.0 48.0,1784.0 40.0,1776.0 40.0,1784.0 50.0,1792.0 52.0,1800.0 44.0,1806.0 36.0,1808.0 26.0,1812.0 20.0,1818.0 26.0,1821.0 34.0,1822.0" fill="none" stroke="#5c6fb6" stroke-width="1.2" stroke-linejoin="round"/>
<text x="308.5" y="1565.5" style="font-family:'Liberation Sans',Arial,sans-serif;font-size:24px;font-weight:bold">N</text>
<text x="1" y="1806.5" style="font-family:'Liberation Sans',Arial,sans-serif;font-size:24px;font-weight:bold">C</text>
<text x="186.0" y="1979.2" text-anchor="middle" style="font-family:'Liberation Sans',Arial,sans-serif;font-size:26.0px">Large unilamellar</text>
<text x="186.0" y="2010.8" text-anchor="middle" style="font-family:'Liberation Sans',Arial,sans-serif;font-size:26.0px">vesicle</text>
<path d="M1223.9,1747.9 C1227.7,1747.2 1242.2,1746.8 1246.2,1743.6 C1250.3,1740.4 1249.4,1733.7 1248.4,1728.8 C1247.3,1723.8 1244.1,1717.6 1239.9,1713.9 C1235.6,1710.2 1228.5,1707.1 1222.9,1706.4 C1217.2,1705.7 1210.5,1707.0 1205.9,1709.6 C1201.3,1712.3 1197.0,1717.4 1195.2,1722.4 C1193.5,1727.3 1193.5,1734.8 1195.2,1739.4 C1197.0,1744.0 1203.0,1746.1 1205.9,1750.0 C1208.7,1753.9 1211.9,1758.5 1212.2,1762.8 C1212.6,1767.0 1210.1,1772.7 1208.0,1775.5 C1205.9,1778.3 1203.0,1780.1 1199.5,1779.8 C1196.0,1779.4 1191.4,1775.9 1186.8,1773.4 C1182.1,1770.9 1176.1,1765.2 1171.9,1764.9 C1167.6,1764.5 1163.6,1767.4 1161.2,1771.2 C1158.9,1775.1 1158.1,1782.6 1158.1,1788.2 C1158.1,1793.9 1158.9,1799.9 1161.2,1805.2 C1163.6,1810.6 1168.3,1815.5 1171.9,1820.1 C1175.4,1824.7 1180.7,1828.6 1182.5,1832.9 C1184.3,1837.1 1183.4,1841.0 1182.5,1845.6 C1181.6,1850.2 1178.2,1854.5 1177.2,1860.5 C1176.1,1866.5 1175.6,1875.4 1176.1,1881.8 C1176.7,1888.1 1178.2,1894.1 1180.4,1898.8 C1182.5,1903.4 1185.7,1905.8 1188.9,1909.4 C1192.1,1912.9 1197.0,1916.1 1199.5,1920.0 C1202.0,1923.9 1202.0,1928.5 1203.8,1932.8 C1205.5,1937.0 1207.3,1941.2 1210.1,1945.5 C1213.0,1949.8 1216.5,1954.7 1220.8,1958.2 C1225.0,1961.8 1231.4,1964.6 1235.6,1966.8 C1239.9,1968.9 1242.0,1971.0 1246.2,1971.0 C1250.5,1971.0 1255.8,1968.9 1261.1,1966.8 C1266.4,1964.6 1272.5,1961.1 1278.1,1958.2 C1283.8,1955.4 1290.2,1952.9 1295.1,1949.8 C1300.1,1946.6 1305.0,1944.1 1307.9,1939.1 C1310.7,1934.2 1312.1,1926.7 1312.1,1920.0 C1312.1,1913.3 1308.9,1905.1 1307.9,1898.8 C1306.8,1892.4 1306.3,1887.8 1305.8,1881.8 C1305.2,1875.7 1306.1,1866.5 1304.7,1862.6 C1303.3,1858.7 1301.0,1859.4 1297.2,1858.4 C1293.5,1857.3 1287.3,1856.2 1282.4,1856.2 C1277.4,1856.2 1271.8,1857.7 1267.5,1858.4 C1263.2,1859.1 1258.6,1860.1 1256.9,1860.5" fill="none" stroke="#62608e" stroke-width="7.2" stroke-linecap="round" stroke-linejoin="round"/><path d="M1223.9,1747.9 C1227.7,1747.2 1242.2,1746.8 1246.2,1743.6 C1250.3,1740.4 1249.4,1733.7 1248.4,1728.8 C1247.3,1723.8 1244.1,1717.6 1239.9,1713.9 C1235.6,1710.2 1228.5,1707.1 1222.9,1706.4 C1217.2,1705.7 1210.5,1707.0 1205.9,1709.6 C1201.3,1712.3 1197.0,1717.4 1195.2,1722.4 C1193.5,1727.3 1193.5,1734.8 1195.2,1739.4 C1197.0,1744.0 1203.0,1746.1 1205.9,1750.0 C1208.7,1753.9 1211.9,1758.5 1212.2,1762.8 C1212.6,1767.0 1210.1,1772.7 1208.0,1775.5 C1205.9,1778.3 1203.0,1780.1 1199.5,1779.8 C1196.0,1779.4 1191.4,1775.9 1186.8,1773.4 C1182.1,1770.9 1176.1,1765.2 1171.9,1764.9 C1167.6,1764.5 1163.6,1767.4 1161.2,1771.2 C1158.9,1775.1 1158.1,1782.6 1158.1,1788.2 C1158.1,1793.9 1158.9,1799.9 1161.2,1805.2 C1163.6,1810.6 1168.3,1815.5 1171.9,1820.1 C1175.4,1824.7 1180.7,1828.6 1182.5,1832.9 C1184.3,1837.1 1183.4,1841.0 1182.5,1845.6 C1181.6,1850.2 1178.2,1854.5 1177.2,1860.5 C1176.1,1866.5 1175.6,1875.4 1176.1,1881.8 C1176.7,1888.1 1178.2,1894.1 1180.4,1898.8 C1182.5,1903.4 1185.7,1905.8 1188.9,1909.4 C1192.1,1912.9 1197.0,1916.1 1199.5,1920.0 C1202.0,1923.9 1202.0,1928.5 1203.8,1932.8 C1205.5,1937.0 1207.3,1941.2 1210.1,1945.5 C1213.0,1949.8 1216.5,1954.7 1220.8,1958.2 C1225.0,1961.8 1231.4,1964.6 1235.6,1966.8 C1239.9,1968.9 1242.0,1971.0 1246.2,1971.0 C1250.5,1971.0 1255.8,1968.9 1261.1,1966.8 C1266.4,1964.6 1272.5,1961.1 1278.1,1958.2 C1283.8,1955.4 1290.2,1952.9 1295.1,1949.8 C1300.1,1946.6 1305.0,1944.1 1307.9,1939.1 C1310.7,1934.2 1312.1,1926.7 1312.1,1920.0 C1312.1,1913.3 1308.9,1905.1 1307.9,1898.8 C1306.8,1892.4 1306.3,1887.8 1305.8,1881.8 C1305.2,1875.7 1306.1,1866.5 1304.7,1862.6 C1303.3,1858.7 1301.0,1859.4 1297.2,1858.4 C1293.5,1857.3 1287.3,1856.2 1282.4,1856.2 C1277.4,1856.2 1271.8,1857.7 1267.5,1858.4 C1263.2,1859.1 1258.6,1860.1 1256.9,1860.5" fill="none" stroke="#9392bb" stroke-width="3.6" stroke-linecap="round" stroke-linejoin="round"/>
<path d="M1216.5,1788.2 C1219.0,1790.0 1227.1,1796.0 1231.4,1798.9 C1235.6,1801.7 1238.5,1804.9 1242.0,1805.2 C1245.5,1805.6 1249.1,1803.8 1252.6,1801.0 C1256.2,1798.2 1260.4,1793.2 1263.2,1788.2 C1266.1,1783.3 1268.6,1775.9 1269.6,1771.2 C1270.7,1766.6 1270.7,1763.5 1269.6,1760.6 C1268.6,1757.8 1264.0,1759.6 1263.2,1754.2 C1262.5,1748.9 1264.3,1736.5 1265.4,1728.8 C1266.4,1721.0 1268.2,1713.2 1269.6,1707.5 C1271.0,1701.8 1270.7,1699.7 1273.9,1694.8 C1277.1,1689.8 1284.1,1683.1 1288.8,1677.8 C1293.4,1672.4 1298.0,1666.9 1301.5,1662.9 C1305.0,1658.8 1307.9,1654.0 1310.0,1653.3 C1312.1,1652.6 1310.7,1656.0 1314.2,1658.6 C1317.8,1661.3 1326.3,1665.7 1331.2,1669.2 C1336.2,1672.8 1342.9,1677.2 1344.0,1679.9 C1345.1,1682.5 1338.7,1684.3 1337.6,1685.2" fill="none" stroke="#62608e" stroke-width="7.2" stroke-linecap="round" stroke-linejoin="round"/><path d="M1216.5,1788.2 C1219.0,1790.0 1227.1,1796.0 1231.4,1798.9 C1235.6,1801.7 1238.5,1804.9 1242.0,1805.2 C1245.5,1805.6 1249.1,1803.8 1252.6,1801.0 C1256.2,1798.2 1260.4,1793.2 1263.2,1788.2 C1266.1,1783.3 1268.6,1775.9 1269.6,1771.2 C1270.7,1766.6 1270.7,1763.5 1269.6,1760.6 C1268.6,1757.8 1264.0,1759.6 1263.2,1754.2 C1262.5,1748.9 1264.3,1736.5 1265.4,1728.8 C1266.4,1721.0 1268.2,1713.2 1269.6,1707.5 C1271.0,1701.8 1270.7,1699.7 1273.9,1694.8 C1277.1,1689.8 1284.1,1683.1 1288.8,1677.8 C1293.4,1672.4 1298.0,1666.9 1301.5,1662.9 C1305.0,1658.8 1307.9,1654.0 1310.0,1653.3 C1312.1,1652.6 1310.7,1656.0 1314.2,1658.6 C1317.8,1661.3 1326.3,1665.7 1331.2,1669.2 C1336.2,1672.8 1342.9,1677.2 1344.0,1679.9 C1345.1,1682.5 1338.7,1684.3 1337.6,1685.2" fill="none" stroke="#9392bb" stroke-width="3.6" stroke-linecap="round" stroke-linejoin="round"/>
<path d="M1212.2,1790.4 C1212.8,1792.5 1214.4,1797.5 1215.4,1803.1 C1216.5,1808.8 1218.4,1818.0 1218.6,1824.4 C1218.8,1830.8 1219.0,1836.4 1216.5,1841.4 C1214.0,1846.3 1207.3,1849.9 1203.8,1854.1 C1200.2,1858.4 1197.4,1861.6 1195.2,1866.9 C1193.1,1872.2 1191.7,1880.0 1191.0,1886.0 C1190.3,1892.0 1190.6,1898.0 1191.0,1903.0 C1191.4,1908.0 1191.7,1912.2 1193.1,1915.8 C1194.5,1919.3 1197.0,1921.8 1199.5,1924.2 C1202.0,1926.7 1204.8,1929.6 1208.0,1930.6 C1211.2,1931.7 1216.3,1932.0 1218.6,1930.6 C1220.9,1929.2 1221.5,1925.0 1221.8,1922.1 C1222.2,1919.3 1221.3,1916.5 1220.8,1913.6 C1220.2,1910.8 1217.2,1907.6 1218.6,1905.1 C1220.0,1902.6 1224.6,1900.2 1229.2,1898.8 C1233.9,1897.3 1241.3,1897.3 1246.2,1896.6 C1251.2,1895.9 1255.8,1896.3 1259.0,1894.5 C1262.2,1892.7 1264.3,1889.2 1265.4,1886.0 C1266.4,1882.8 1266.4,1878.6 1265.4,1875.4 C1264.3,1872.2 1261.5,1868.6 1259.0,1866.9 C1256.5,1865.1 1253.7,1864.0 1250.5,1864.8 C1247.3,1865.5 1242.7,1868.3 1239.9,1871.1 C1237.0,1874.0 1234.6,1880.0 1233.5,1881.8" fill="none" stroke="#62608e" stroke-width="7.2" stroke-linecap="round" stroke-linejoin="round"/><path d="M1212.2,1790.4 C1212.8,1792.5 1214.4,1797.5 1215.4,1803.1 C1216.5,1808.8 1218.4,1818.0 1218.6,1824.4 C1218.8,1830.8 1219.0,1836.4 1216.5,1841.4 C1214.0,1846.3 1207.3,1849.9 1203.8,1854.1 C1200.2,1858.4 1197.4,1861.6 1195.2,1866.9 C1193.1,1872.2 1191.7,1880.0 1191.0,1886.0 C1190.3,1892.0 1190.6,1898.0 1191.0,1903.0 C1191.4,1908.0 1191.7,1912.2 1193.1,1915.8 C1194.5,1919.3 1197.0,1921.8 1199.5,1924.2 C1202.0,1926.7 1204.8,1929.6 1208.0,1930.6 C1211.2,1931.7 1216.3,1932.0 1218.6,1930.6 C1220.9,1929.2 1221.5,1925.0 1221.8,1922.1 C1222.2,1919.3 1221.3,1916.5 1220.8,1913.6 C1220.2,1910.8 1217.2,1907.6 1218.6,1905.1 C1220.0,1902.6 1224.6,1900.2 1229.2,1898.8 C1233.9,1897.3 1241.3,1897.3 1246.2,1896.6 C1251.2,1895.9 1255.8,1896.3 1259.0,1894.5 C1262.2,1892.7 1264.3,1889.2 1265.4,1886.0 C1266.4,1882.8 1266.4,1878.6 1265.4,1875.4 C1264.3,1872.2 1261.5,1868.6 1259.0,1866.9 C1256.5,1865.1 1253.7,1864.0 1250.5,1864.8 C1247.3,1865.5 1242.7,1868.3 1239.9,1871.1 C1237.0,1874.0 1234.6,1880.0 1233.5,1881.8" fill="none" stroke="#9392bb" stroke-width="3.6" stroke-linecap="round" stroke-linejoin="round"/>
<path d="M1254.8,1862.6 C1256.9,1861.9 1262.2,1859.4 1267.5,1858.4 C1272.8,1857.3 1282.4,1855.9 1286.6,1856.2 C1290.9,1856.6 1291.9,1859.8 1293.0,1860.5" fill="none" stroke="#62608e" stroke-width="7.2" stroke-linecap="round" stroke-linejoin="round"/><path d="M1254.8,1862.6 C1256.9,1861.9 1262.2,1859.4 1267.5,1858.4 C1272.8,1857.3 1282.4,1855.9 1286.6,1856.2 C1290.9,1856.6 1291.9,1859.8 1293.0,1860.5" fill="none" stroke="#9392bb" stroke-width="3.6" stroke-linecap="round" stroke-linejoin="round"/>
<path d="M1259.0,1881.8 C1260.4,1881.0 1263.2,1879.6 1267.5,1877.5 C1271.8,1875.4 1280.6,1871.5 1284.5,1869.0 C1288.4,1866.5 1289.8,1863.7 1290.9,1862.6" fill="none" stroke="#62608e" stroke-width="7.2" stroke-linecap="round" stroke-linejoin="round"/><path d="M1259.0,1881.8 C1260.4,1881.0 1263.2,1879.6 1267.5,1877.5 C1271.8,1875.4 1280.6,1871.5 1284.5,1869.0 C1288.4,1866.5 1289.8,1863.7 1290.9,1862.6" fill="none" stroke="#9392bb" stroke-width="3.6" stroke-linecap="round" stroke-linejoin="round"/>
<path d="M1335.5,1684.1 C1337.6,1683.8 1343.6,1682.0 1348.2,1682.0 C1352.9,1682.0 1359.2,1682.7 1363.1,1684.1 C1367.0,1685.5 1369.9,1687.7 1371.6,1690.5 C1373.4,1693.3 1373.0,1697.6 1373.8,1701.1 C1374.5,1704.7 1376.2,1707.9 1375.9,1711.8 C1375.5,1715.6 1372.3,1720.2 1371.6,1724.5 C1370.9,1728.8 1373.8,1734.4 1371.6,1737.2 C1369.5,1740.1 1363.5,1740.1 1358.9,1741.5 C1354.3,1742.9 1347.9,1743.6 1344.0,1745.8 C1340.1,1747.9 1337.3,1750.0 1335.5,1754.2 C1333.7,1758.5 1333.4,1765.6 1333.4,1771.2 C1333.4,1776.9 1334.4,1782.6 1335.5,1788.2 C1336.6,1793.9 1339.8,1799.9 1339.8,1805.2 C1339.8,1810.6 1336.9,1815.2 1335.5,1820.1 C1334.1,1825.1 1330.9,1834.6 1331.2,1835.0 C1331.6,1835.4 1335.5,1824.7 1337.6,1822.2 C1339.8,1819.8 1341.5,1818.7 1344.0,1820.1 C1346.5,1821.5 1350.4,1826.5 1352.5,1830.8 C1354.6,1835.0 1357.1,1841.4 1356.8,1845.6 C1356.4,1849.9 1353.6,1853.4 1350.4,1856.2 C1347.2,1859.1 1341.2,1859.8 1337.6,1862.6 C1334.1,1865.5 1330.5,1869.0 1329.1,1873.2 C1327.7,1877.5 1327.7,1883.9 1329.1,1888.1 C1330.5,1892.4 1334.1,1896.6 1337.6,1898.8 C1341.2,1900.9 1346.8,1901.2 1350.4,1900.9 C1353.9,1900.5 1357.8,1898.4 1358.9,1896.6 C1359.9,1894.9 1358.2,1892.0 1356.8,1890.2 C1355.3,1888.5 1351.4,1886.7 1350.4,1886.0" fill="none" stroke="#62608e" stroke-width="7.2" stroke-linecap="round" stroke-linejoin="round"/><path d="M1335.5,1684.1 C1337.6,1683.8 1343.6,1682.0 1348.2,1682.0 C1352.9,1682.0 1359.2,1682.7 1363.1,1684.1 C1367.0,1685.5 1369.9,1687.7 1371.6,1690.5 C1373.4,1693.3 1373.0,1697.6 1373.8,1701.1 C1374.5,1704.7 1376.2,1707.9 1375.9,1711.8 C1375.5,1715.6 1372.3,1720.2 1371.6,1724.5 C1370.9,1728.8 1373.8,1734.4 1371.6,1737.2 C1369.5,1740.1 1363.5,1740.1 1358.9,1741.5 C1354.3,1742.9 1347.9,1743.6 1344.0,1745.8 C1340.1,1747.9 1337.3,1750.0 1335.5,1754.2 C1333.7,1758.5 1333.4,1765.6 1333.4,1771.2 C1333.4,1776.9 1334.4,1782.6 1335.5,1788.2 C1336.6,1793.9 1339.8,1799.9 1339.8,1805.2 C1339.8,1810.6 1336.9,1815.2 1335.5,1820.1 C1334.1,1825.1 1330.9,1834.6 1331.2,1835.0 C1331.6,1835.4 1335.5,1824.7 1337.6,1822.2 C1339.8,1819.8 1341.5,1818.7 1344.0,1820.1 C1346.5,1821.5 1350.4,1826.5 1352.5,1830.8 C1354.6,1835.0 1357.1,1841.4 1356.8,1845.6 C1356.4,1849.9 1353.6,1853.4 1350.4,1856.2 C1347.2,1859.1 1341.2,1859.8 1337.6,1862.6 C1334.1,1865.5 1330.5,1869.0 1329.1,1873.2 C1327.7,1877.5 1327.7,1883.9 1329.1,1888.1 C1330.5,1892.4 1334.1,1896.6 1337.6,1898.8 C1341.2,1900.9 1346.8,1901.2 1350.4,1900.9 C1353.9,1900.5 1357.8,1898.4 1358.9,1896.6 C1359.9,1894.9 1358.2,1892.0 1356.8,1890.2 C1355.3,1888.5 1351.4,1886.7 1350.4,1886.0" fill="none" stroke="#9392bb" stroke-width="3.6" stroke-linecap="round" stroke-linejoin="round"/>
<path d="M1371.6,1690.5 C1373.0,1689.8 1376.2,1688.0 1380.1,1686.2 C1384.0,1684.5 1388.6,1682.4 1395.0,1679.9 C1401.4,1677.4 1414.8,1674.6 1418.4,1671.4 C1421.9,1668.2 1417.7,1665.4 1416.2,1660.8 C1414.8,1656.1 1411.3,1649.4 1409.9,1643.8 C1408.5,1638.1 1406.7,1631.4 1407.8,1626.8 C1408.8,1622.1 1412.0,1619.0 1416.2,1616.1 C1420.5,1613.3 1427.9,1611.5 1433.2,1609.8 C1438.6,1608.0 1443.2,1607.6 1448.1,1605.5 C1453.1,1603.4 1457.7,1599.8 1463.0,1597.0 C1468.3,1594.2 1477.2,1589.9 1480.0,1588.5" fill="none" stroke="#62608e" stroke-width="7.2" stroke-linecap="round" stroke-linejoin="round"/><path d="M1371.6,1690.5 C1373.0,1689.8 1376.2,1688.0 1380.1,1686.2 C1384.0,1684.5 1388.6,1682.4 1395.0,1679.9 C1401.4,1677.4 1414.8,1674.6 1418.4,1671.4 C1421.9,1668.2 1417.7,1665.4 1416.2,1660.8 C1414.8,1656.1 1411.3,1649.4 1409.9,1643.8 C1408.5,1638.1 1406.7,1631.4 1407.8,1626.8 C1408.8,1622.1 1412.0,1619.0 1416.2,1616.1 C1420.5,1613.3 1427.9,1611.5 1433.2,1609.8 C1438.6,1608.0 1443.2,1607.6 1448.1,1605.5 C1453.1,1603.4 1457.7,1599.8 1463.0,1597.0 C1468.3,1594.2 1477.2,1589.9 1480.0,1588.5" fill="none" stroke="#9392bb" stroke-width="3.6" stroke-linecap="round" stroke-linejoin="round"/>
<path d="M1373.8,1703.2 C1373.4,1707.5 1373.0,1721.0 1371.6,1728.8 C1370.2,1736.5 1367.7,1744.3 1365.2,1750.0 C1362.8,1755.7 1359.2,1757.8 1356.8,1762.8 C1354.3,1767.7 1351.8,1774.4 1350.4,1779.8 C1349.0,1785.1 1347.5,1790.7 1348.2,1794.6 C1349.0,1798.5 1351.1,1800.6 1354.6,1803.1 C1358.2,1805.6 1365.2,1806.7 1369.5,1809.5 C1373.8,1812.3 1378.4,1815.9 1380.1,1820.1 C1381.9,1824.4 1381.2,1830.4 1380.1,1835.0 C1379.1,1839.6 1376.6,1844.6 1373.8,1847.8 C1370.9,1850.9 1366.0,1851.3 1363.1,1854.1 C1360.3,1857.0 1358.2,1860.9 1356.8,1864.8 C1355.3,1868.6 1355.3,1873.2 1354.6,1877.5 C1353.9,1881.8 1352.9,1888.1 1352.5,1890.2" fill="none" stroke="#62608e" stroke-width="7.2" stroke-linecap="round" stroke-linejoin="round"/><path d="M1373.8,1703.2 C1373.4,1707.5 1373.0,1721.0 1371.6,1728.8 C1370.2,1736.5 1367.7,1744.3 1365.2,1750.0 C1362.8,1755.7 1359.2,1757.8 1356.8,1762.8 C1354.3,1767.7 1351.8,1774.4 1350.4,1779.8 C1349.0,1785.1 1347.5,1790.7 1348.2,1794.6 C1349.0,1798.5 1351.1,1800.6 1354.6,1803.1 C1358.2,1805.6 1365.2,1806.7 1369.5,1809.5 C1373.8,1812.3 1378.4,1815.9 1380.1,1820.1 C1381.9,1824.4 1381.2,1830.4 1380.1,1835.0 C1379.1,1839.6 1376.6,1844.6 1373.8,1847.8 C1370.9,1850.9 1366.0,1851.3 1363.1,1854.1 C1360.3,1857.0 1358.2,1860.9 1356.8,1864.8 C1355.3,1868.6 1355.3,1873.2 1354.6,1877.5 C1353.9,1881.8 1352.9,1888.1 1352.5,1890.2" fill="none" stroke="#9392bb" stroke-width="3.6" stroke-linecap="round" stroke-linejoin="round"/>
<path d="M1384.4,1707.5 C1385.1,1708.9 1388.3,1713.2 1388.6,1716.0 C1389.0,1718.8 1387.6,1724.1 1386.5,1724.5 C1385.4,1724.9 1383.0,1719.2 1382.2,1718.1" fill="none" stroke="#62608e" stroke-width="7.2" stroke-linecap="round" stroke-linejoin="round"/><path d="M1384.4,1707.5 C1385.1,1708.9 1388.3,1713.2 1388.6,1716.0 C1389.0,1718.8 1387.6,1724.1 1386.5,1724.5 C1385.4,1724.9 1383.0,1719.2 1382.2,1718.1" fill="none" stroke="#9392bb" stroke-width="3.6" stroke-linecap="round" stroke-linejoin="round"/>
<path d="M1363.1,1726.6 C1364.2,1725.9 1367.7,1722.0 1369.5,1722.4 C1371.3,1722.7 1373.0,1727.7 1373.8,1728.8" fill="none" stroke="#62608e" stroke-width="7.2" stroke-linecap="round" stroke-linejoin="round"/><path d="M1363.1,1726.6 C1364.2,1725.9 1367.7,1722.0 1369.5,1722.4 C1371.3,1722.7 1373.0,1727.7 1373.8,1728.8" fill="none" stroke="#9392bb" stroke-width="3.6" stroke-linecap="round" stroke-linejoin="round"/>
<path d="M1480.0,1633.1 C1478.9,1636.0 1475.0,1644.1 1473.6,1650.1 C1472.2,1656.1 1471.1,1662.5 1471.5,1669.2 C1471.9,1676.0 1475.0,1683.4 1475.8,1690.5 C1476.5,1697.6 1477.5,1705.4 1475.8,1711.8 C1474.0,1718.1 1469.4,1724.5 1465.1,1728.8 C1460.9,1733.0 1454.1,1734.1 1450.2,1737.2 C1446.4,1740.4 1443.9,1743.6 1441.8,1747.9 C1439.6,1752.1 1437.5,1757.8 1437.5,1762.8 C1437.5,1767.7 1439.3,1772.7 1441.8,1777.6 C1444.2,1782.6 1449.9,1788.2 1452.4,1792.5 C1454.9,1796.8 1457.0,1798.9 1456.6,1803.1 C1456.3,1807.4 1453.4,1813.4 1450.2,1818.0 C1447.1,1822.6 1441.0,1826.1 1437.5,1830.8 C1434.0,1835.4 1430.1,1840.3 1429.0,1845.6 C1427.9,1850.9 1429.4,1857.7 1431.1,1862.6 C1432.9,1867.6 1436.8,1871.1 1439.6,1875.4 C1442.5,1879.6 1446.4,1883.5 1448.1,1888.1 C1449.9,1892.7 1451.3,1899.8 1450.2,1903.0 C1449.2,1906.2 1443.9,1905.1 1441.8,1907.2 C1439.6,1909.4 1437.5,1911.9 1437.5,1915.8 C1437.5,1919.6 1440.0,1925.7 1441.8,1930.6 C1443.5,1935.6 1447.4,1940.5 1448.1,1945.5 C1448.8,1950.5 1447.8,1956.5 1446.0,1960.4 C1444.2,1964.3 1440.7,1965.7 1437.5,1968.9 C1434.3,1972.1 1429.0,1975.2 1426.9,1979.5 C1424.8,1983.8 1425.5,1990.1 1424.8,1994.4 C1424.0,1998.6 1424.4,2002.2 1422.6,2005.0 C1420.9,2007.8 1416.2,2008.9 1414.1,2011.4 C1412.0,2013.9 1409.5,2017.8 1409.9,2019.9 C1410.2,2022.0 1413.1,2024.1 1416.2,2024.1 C1419.4,2024.1 1424.8,2021.6 1429.0,2019.9 C1433.2,2018.1 1439.3,2016.3 1441.8,2013.5 C1444.2,2010.7 1444.6,2005.7 1443.9,2002.9 C1443.2,2000.0 1440.0,1997.6 1437.5,1996.5 C1435.0,1995.4 1430.4,1996.5 1429.0,1996.5" fill="none" stroke="#62608e" stroke-width="7.2" stroke-linecap="round" stroke-linejoin="round"/><path d="M1480.0,1633.1 C1478.9,1636.0 1475.0,1644.1 1473.6,1650.1 C1472.2,1656.1 1471.1,1662.5 1471.5,1669.2 C1471.9,1676.0 1475.0,1683.4 1475.8,1690.5 C1476.5,1697.6 1477.5,1705.4 1475.8,1711.8 C1474.0,1718.1 1469.4,1724.5 1465.1,1728.8 C1460.9,1733.0 1454.1,1734.1 1450.2,1737.2 C1446.4,1740.4 1443.9,1743.6 1441.8,1747.9 C1439.6,1752.1 1437.5,1757.8 1437.5,1762.8 C1437.5,1767.7 1439.3,1772.7 1441.8,1777.6 C1444.2,1782.6 1449.9,1788.2 1452.4,1792.5 C1454.9,1796.8 1457.0,1798.9 1456.6,1803.1 C1456.3,1807.4 1453.4,1813.4 1450.2,1818.0 C1447.1,1822.6 1441.0,1826.1 1437.5,1830.8 C1434.0,1835.4 1430.1,1840.3 1429.0,1845.6 C1427.9,1850.9 1429.4,1857.7 1431.1,1862.6 C1432.9,1867.6 1436.8,1871.1 1439.6,1875.4 C1442.5,1879.6 1446.4,1883.5 1448.1,1888.1 C1449.9,1892.7 1451.3,1899.8 1450.2,1903.0 C1449.2,1906.2 1443.9,1905.1 1441.8,1907.2 C1439.6,1909.4 1437.5,1911.9 1437.5,1915.8 C1437.5,1919.6 1440.0,1925.7 1441.8,1930.6 C1443.5,1935.6 1447.4,1940.5 1448.1,1945.5 C1448.8,1950.5 1447.8,1956.5 1446.0,1960.4 C1444.2,1964.3 1440.7,1965.7 1437.5,1968.9 C1434.3,1972.1 1429.0,1975.2 1426.9,1979.5 C1424.8,1983.8 1425.5,1990.1 1424.8,1994.4 C1424.0,1998.6 1424.4,2002.2 1422.6,2005.0 C1420.9,2007.8 1416.2,2008.9 1414.1,2011.4 C1412.0,2013.9 1409.5,2017.8 1409.9,2019.9 C1410.2,2022.0 1413.1,2024.1 1416.2,2024.1 C1419.4,2024.1 1424.8,2021.6 1429.0,2019.9 C1433.2,2018.1 1439.3,2016.3 1441.8,2013.5 C1444.2,2010.7 1444.6,2005.7 1443.9,2002.9 C1443.2,2000.0 1440.0,1997.6 1437.5,1996.5 C1435.0,1995.4 1430.4,1996.5 1429.0,1996.5" fill="none" stroke="#9392bb" stroke-width="3.6" stroke-linecap="round" stroke-linejoin="round"/>
<path d="M1480.0,1771.2 C1478.9,1773.0 1475.4,1777.3 1473.6,1781.9 C1471.9,1786.5 1470.4,1793.6 1469.4,1798.9 C1468.3,1804.2 1466.9,1808.1 1467.2,1813.8 C1467.6,1819.4 1470.1,1826.9 1471.5,1832.9 C1472.9,1838.9 1475.4,1844.6 1475.8,1849.9 C1476.1,1855.2 1475.4,1859.4 1473.6,1864.8 C1471.9,1870.1 1467.6,1876.1 1465.1,1881.8 C1462.6,1887.4 1460.5,1893.1 1458.8,1898.8 C1457.0,1904.4 1455.2,1910.1 1454.5,1915.8 C1453.8,1921.4 1455.9,1927.8 1454.5,1932.8 C1453.1,1937.7 1449.2,1941.6 1446.0,1945.5 C1442.8,1949.4 1438.6,1952.6 1435.4,1956.1 C1432.2,1959.7 1428.3,1962.9 1426.9,1966.8 C1425.5,1970.6 1426.9,1977.4 1426.9,1979.5" fill="none" stroke="#62608e" stroke-width="7.2" stroke-linecap="round" stroke-linejoin="round"/><path d="M1480.0,1771.2 C1478.9,1773.0 1475.4,1777.3 1473.6,1781.9 C1471.9,1786.5 1470.4,1793.6 1469.4,1798.9 C1468.3,1804.2 1466.9,1808.1 1467.2,1813.8 C1467.6,1819.4 1470.1,1826.9 1471.5,1832.9 C1472.9,1838.9 1475.4,1844.6 1475.8,1849.9 C1476.1,1855.2 1475.4,1859.4 1473.6,1864.8 C1471.9,1870.1 1467.6,1876.1 1465.1,1881.8 C1462.6,1887.4 1460.5,1893.1 1458.8,1898.8 C1457.0,1904.4 1455.2,1910.1 1454.5,1915.8 C1453.8,1921.4 1455.9,1927.8 1454.5,1932.8 C1453.1,1937.7 1449.2,1941.6 1446.0,1945.5 C1442.8,1949.4 1438.6,1952.6 1435.4,1956.1 C1432.2,1959.7 1428.3,1962.9 1426.9,1966.8 C1425.5,1970.6 1426.9,1977.4 1426.9,1979.5" fill="none" stroke="#9392bb" stroke-width="3.6" stroke-linecap="round" stroke-linejoin="round"/>
<path d="M1436.0,1607.7 C1439.3,1606.1 1450.2,1600.8 1455.8,1597.8 C1461.5,1594.9 1465.1,1591.6 1469.7,1589.9 C1474.3,1588.3 1480.0,1586.9 1483.6,1587.9 C1487.2,1588.9 1490.2,1590.6 1491.5,1595.8 C1492.8,1601.1 1492.2,1612.4 1491.5,1619.6 C1490.9,1626.9 1490.2,1632.8 1487.5,1639.4 C1484.9,1646.0 1478.3,1653.3 1475.7,1659.2 C1473.0,1665.2 1471.0,1669.8 1471.7,1675.1 C1472.4,1680.4 1477.6,1686.3 1479.6,1691.0 C1481.6,1695.6 1483.6,1698.2 1483.6,1702.8 C1483.6,1707.5 1482.9,1713.7 1479.6,1718.7 C1476.3,1723.6 1469.1,1728.3 1463.8,1732.6 C1458.5,1736.8 1452.5,1740.8 1447.9,1744.4 C1443.3,1748.1 1438.0,1752.7 1436.0,1754.3" fill="none" stroke="#62608e" stroke-width="7.2" stroke-linecap="round" stroke-linejoin="round"/><path d="M1436.0,1607.7 C1439.3,1606.1 1450.2,1600.8 1455.8,1597.8 C1461.5,1594.9 1465.1,1591.6 1469.7,1589.9 C1474.3,1588.3 1480.0,1586.9 1483.6,1587.9 C1487.2,1588.9 1490.2,1590.6 1491.5,1595.8 C1492.8,1601.1 1492.2,1612.4 1491.5,1619.6 C1490.9,1626.9 1490.2,1632.8 1487.5,1639.4 C1484.9,1646.0 1478.3,1653.3 1475.7,1659.2 C1473.0,1665.2 1471.0,1669.8 1471.7,1675.1 C1472.4,1680.4 1477.6,1686.3 1479.6,1691.0 C1481.6,1695.6 1483.6,1698.2 1483.6,1702.8 C1483.6,1707.5 1482.9,1713.7 1479.6,1718.7 C1476.3,1723.6 1469.1,1728.3 1463.8,1732.6 C1458.5,1736.8 1452.5,1740.8 1447.9,1744.4 C1443.3,1748.1 1438.0,1752.7 1436.0,1754.3" fill="none" stroke="#9392bb" stroke-width="3.6" stroke-linecap="round" stroke-linejoin="round"/>
<path d="M1523.2,1752.4 C1523.2,1746.8 1521.9,1727.6 1523.2,1718.7 C1524.5,1709.8 1527.8,1703.2 1531.1,1698.9 C1534.4,1694.6 1539.4,1692.9 1543.0,1692.9 C1546.7,1692.9 1550.6,1694.6 1552.9,1698.9 C1555.2,1703.2 1556.6,1712.1 1556.9,1718.7 C1557.2,1725.3 1554.6,1733.9 1554.9,1738.5 C1555.2,1743.1 1558.2,1745.1 1558.9,1746.4" fill="none" stroke="#62608e" stroke-width="7.2" stroke-linecap="round" stroke-linejoin="round"/><path d="M1523.2,1752.4 C1523.2,1746.8 1521.9,1727.6 1523.2,1718.7 C1524.5,1709.8 1527.8,1703.2 1531.1,1698.9 C1534.4,1694.6 1539.4,1692.9 1543.0,1692.9 C1546.7,1692.9 1550.6,1694.6 1552.9,1698.9 C1555.2,1703.2 1556.6,1712.1 1556.9,1718.7 C1557.2,1725.3 1554.6,1733.9 1554.9,1738.5 C1555.2,1743.1 1558.2,1745.1 1558.9,1746.4" fill="none" stroke="#9392bb" stroke-width="3.6" stroke-linecap="round" stroke-linejoin="round"/>
<path d="M1558.9,1744.4 C1558.2,1746.8 1554.3,1754.0 1554.9,1758.3 C1555.6,1762.6 1559.2,1767.9 1562.8,1770.2 C1566.5,1772.5 1574.4,1771.9 1576.7,1772.2" fill="none" stroke="#62608e" stroke-width="7.2" stroke-linecap="round" stroke-linejoin="round"/><path d="M1558.9,1744.4 C1558.2,1746.8 1554.3,1754.0 1554.9,1758.3 C1555.6,1762.6 1559.2,1767.9 1562.8,1770.2 C1566.5,1772.5 1574.4,1771.9 1576.7,1772.2" fill="none" stroke="#9392bb" stroke-width="3.6" stroke-linecap="round" stroke-linejoin="round"/>
<path d="M1479.6,1788.0 C1480.9,1786.4 1484.2,1782.4 1487.5,1778.1 C1490.9,1773.8 1493.5,1765.6 1499.4,1762.3 C1505.4,1759.0 1516.6,1759.6 1523.2,1758.3 C1529.8,1757.0 1533.4,1756.0 1539.1,1754.3 C1544.7,1752.7 1553.9,1749.4 1556.9,1748.4" fill="none" stroke="#62608e" stroke-width="7.2" stroke-linecap="round" stroke-linejoin="round"/><path d="M1479.6,1788.0 C1480.9,1786.4 1484.2,1782.4 1487.5,1778.1 C1490.9,1773.8 1493.5,1765.6 1499.4,1762.3 C1505.4,1759.0 1516.6,1759.6 1523.2,1758.3 C1529.8,1757.0 1533.4,1756.0 1539.1,1754.3 C1544.7,1752.7 1553.9,1749.4 1556.9,1748.4" fill="none" stroke="#9392bb" stroke-width="3.6" stroke-linecap="round" stroke-linejoin="round"/>
<path d="M1499.4,1762.3 C1498.8,1764.9 1495.8,1772.2 1495.5,1778.1 C1495.1,1784.1 1495.5,1792.0 1497.5,1797.9 C1499.4,1803.9 1503.1,1810.2 1507.4,1813.8 C1511.7,1817.4 1518.6,1817.8 1523.2,1819.7 C1527.8,1821.7 1531.1,1822.7 1535.1,1825.7 C1539.1,1828.6 1545.0,1832.9 1547.0,1837.6 C1549.0,1842.2 1549.3,1850.1 1547.0,1853.4 C1544.7,1856.7 1535.4,1855.1 1533.1,1857.4 C1530.8,1859.7 1531.5,1865.0 1533.1,1867.3 C1534.8,1869.6 1539.7,1870.3 1543.0,1871.2 C1546.3,1872.2 1550.0,1870.9 1552.9,1873.2 C1555.9,1875.5 1559.9,1881.1 1560.9,1885.1 C1561.8,1889.1 1561.5,1894.0 1558.9,1897.0 C1556.2,1900.0 1550.0,1901.3 1545.0,1902.9 C1540.1,1904.6 1532.8,1907.9 1529.2,1906.9 C1525.5,1905.9 1523.5,1900.3 1523.2,1897.0 C1522.9,1893.7 1523.9,1890.1 1527.2,1887.1 C1530.5,1884.1 1540.4,1880.5 1543.0,1879.2" fill="none" stroke="#62608e" stroke-width="7.2" stroke-linecap="round" stroke-linejoin="round"/><path d="M1499.4,1762.3 C1498.8,1764.9 1495.8,1772.2 1495.5,1778.1 C1495.1,1784.1 1495.5,1792.0 1497.5,1797.9 C1499.4,1803.9 1503.1,1810.2 1507.4,1813.8 C1511.7,1817.4 1518.6,1817.8 1523.2,1819.7 C1527.8,1821.7 1531.1,1822.7 1535.1,1825.7 C1539.1,1828.6 1545.0,1832.9 1547.0,1837.6 C1549.0,1842.2 1549.3,1850.1 1547.0,1853.4 C1544.7,1856.7 1535.4,1855.1 1533.1,1857.4 C1530.8,1859.7 1531.5,1865.0 1533.1,1867.3 C1534.8,1869.6 1539.7,1870.3 1543.0,1871.2 C1546.3,1872.2 1550.0,1870.9 1552.9,1873.2 C1555.9,1875.5 1559.9,1881.1 1560.9,1885.1 C1561.8,1889.1 1561.5,1894.0 1558.9,1897.0 C1556.2,1900.0 1550.0,1901.3 1545.0,1902.9 C1540.1,1904.6 1532.8,1907.9 1529.2,1906.9 C1525.5,1905.9 1523.5,1900.3 1523.2,1897.0 C1522.9,1893.7 1523.9,1890.1 1527.2,1887.1 C1530.5,1884.1 1540.4,1880.5 1543.0,1879.2" fill="none" stroke="#9392bb" stroke-width="3.6" stroke-linecap="round" stroke-linejoin="round"/>
<path d="M1497.5,1770.2 C1495.5,1771.5 1490.2,1774.2 1485.6,1778.1 C1480.9,1782.1 1473.0,1789.0 1469.7,1794.0 C1466.4,1798.9 1465.8,1802.2 1465.8,1807.8 C1465.8,1813.5 1468.1,1821.1 1469.7,1827.7 C1471.4,1834.3 1475.0,1840.9 1475.7,1847.5 C1476.3,1854.1 1475.3,1860.7 1473.7,1867.3 C1472.0,1873.9 1468.4,1880.5 1465.8,1887.1 C1463.1,1893.7 1460.1,1900.3 1457.8,1906.9 C1455.5,1913.5 1453.5,1920.1 1451.9,1926.7 C1450.2,1933.3 1449.2,1939.9 1447.9,1946.5 C1446.6,1953.1 1444.6,1963.0 1444.0,1966.3" fill="none" stroke="#62608e" stroke-width="7.2" stroke-linecap="round" stroke-linejoin="round"/><path d="M1497.5,1770.2 C1495.5,1771.5 1490.2,1774.2 1485.6,1778.1 C1480.9,1782.1 1473.0,1789.0 1469.7,1794.0 C1466.4,1798.9 1465.8,1802.2 1465.8,1807.8 C1465.8,1813.5 1468.1,1821.1 1469.7,1827.7 C1471.4,1834.3 1475.0,1840.9 1475.7,1847.5 C1476.3,1854.1 1475.3,1860.7 1473.7,1867.3 C1472.0,1873.9 1468.4,1880.5 1465.8,1887.1 C1463.1,1893.7 1460.1,1900.3 1457.8,1906.9 C1455.5,1913.5 1453.5,1920.1 1451.9,1926.7 C1450.2,1933.3 1449.2,1939.9 1447.9,1946.5 C1446.6,1953.1 1444.6,1963.0 1444.0,1966.3" fill="none" stroke="#9392bb" stroke-width="3.6" stroke-linecap="round" stroke-linejoin="round"/>
<defs><radialGradient id="ysph" cx="0.38" cy="0.35" r="0.65"><stop offset="0" stop-color="#fdec78"/><stop offset="0.3" stop-color="#f6cc22"/><stop offset="0.75" stop-color="#e0b00e"/><stop offset="1" stop-color="#9c7600"/></radialGradient><linearGradient id="chshade" x1="0" y1="0" x2="1" y2="0.3"><stop offset="0" stop-color="#6a4a00" stop-opacity="0.05"/><stop offset="0.55" stop-color="#6a4a00" stop-opacity="0.12"/><stop offset="1" stop-color="#6a4a00" stop-opacity="0.32"/></linearGradient><clipPath id="chclip"><path d="M1566.8,1625.6 C1568.5,1619.0 1573.4,1611.7 1578.7,1607.7 C1584.0,1603.8 1591.9,1603.4 1598.5,1601.8 C1605.1,1600.1 1613.0,1599.5 1618.3,1597.8 C1623.6,1596.2 1625.6,1592.2 1630.2,1591.9 C1634.8,1591.6 1641.4,1593.5 1646.0,1595.8 C1650.7,1598.2 1653.3,1603.8 1657.9,1605.8 C1662.6,1607.7 1670.5,1605.4 1673.8,1607.7 C1677.1,1610.0 1677.8,1614.3 1677.8,1619.6 C1677.8,1624.9 1671.8,1635.1 1673.8,1639.4 C1675.8,1643.7 1684.0,1642.4 1689.6,1645.4 C1695.3,1648.4 1703.8,1653.3 1707.5,1657.3 C1711.1,1661.2 1712.4,1665.5 1711.4,1669.2 C1710.4,1672.8 1701.5,1674.8 1701.5,1679.1 C1701.5,1683.4 1708.8,1690.0 1711.4,1694.9 C1714.1,1699.9 1717.0,1704.2 1717.4,1708.8 C1717.7,1713.4 1712.1,1718.0 1713.4,1722.7 C1714.7,1727.3 1723.0,1731.6 1725.3,1736.5 C1727.6,1741.5 1726.6,1747.1 1727.3,1752.4 C1727.9,1757.7 1730.3,1762.3 1729.3,1768.2 C1728.3,1774.2 1720.7,1783.1 1721.3,1788.0 C1722.0,1793.0 1729.9,1793.6 1733.2,1797.9 C1736.5,1802.2 1740.5,1808.5 1741.2,1813.8 C1741.8,1819.1 1737.2,1824.7 1737.2,1829.6 C1737.2,1834.6 1740.8,1838.9 1741.2,1843.5 C1741.5,1848.1 1741.8,1854.4 1739.2,1857.4 C1736.5,1860.3 1727.9,1858.0 1725.3,1861.3 C1722.7,1864.6 1724.6,1871.2 1723.3,1877.2 C1722.0,1883.1 1720.0,1891.1 1717.4,1897.0 C1714.7,1902.9 1709.5,1907.6 1707.5,1912.8 C1705.5,1918.1 1707.1,1924.7 1705.5,1928.7 C1703.8,1932.7 1700.2,1932.0 1697.6,1936.6 C1694.9,1941.2 1693.6,1951.8 1689.6,1956.4 C1685.7,1961.1 1679.1,1964.4 1673.8,1964.4 C1668.5,1964.4 1662.2,1955.8 1657.9,1956.4 C1653.6,1957.1 1652.0,1965.0 1648.0,1968.3 C1644.1,1971.6 1639.1,1975.3 1634.2,1976.2 C1629.2,1977.2 1623.6,1973.9 1618.3,1974.3 C1613.0,1974.6 1607.7,1978.6 1602.5,1978.2 C1597.2,1977.9 1590.9,1974.9 1586.6,1972.3 C1582.3,1969.6 1578.7,1966.3 1576.7,1962.4 C1574.7,1958.4 1573.7,1952.1 1574.7,1948.5 C1575.7,1944.9 1580.0,1943.2 1582.7,1940.6 C1585.3,1937.9 1590.6,1936.0 1590.6,1932.7 C1590.6,1929.4 1585.3,1925.1 1582.7,1920.8 C1580.0,1916.5 1575.4,1911.5 1574.7,1906.9 C1574.1,1902.3 1576.0,1897.3 1578.7,1893.0 C1581.3,1888.7 1586.6,1883.8 1590.6,1881.2 C1594.5,1878.5 1600.2,1880.5 1602.5,1877.2 C1604.8,1873.9 1604.8,1866.6 1604.4,1861.3 C1604.1,1856.1 1600.5,1850.8 1600.5,1845.5 C1600.5,1840.2 1601.5,1832.9 1604.4,1829.6 C1607.4,1826.3 1614.0,1827.0 1618.3,1825.7 C1622.6,1824.4 1627.2,1824.7 1630.2,1821.7 C1633.2,1818.7 1634.8,1813.5 1636.1,1807.8 C1637.5,1802.2 1638.1,1793.6 1638.1,1788.0 C1638.1,1782.4 1637.8,1777.8 1636.1,1774.2 C1634.5,1770.5 1631.2,1768.9 1628.2,1766.2 C1625.2,1763.6 1622.6,1761.0 1618.3,1758.3 C1614.0,1755.7 1605.8,1753.0 1602.5,1750.4 C1599.2,1747.7 1597.8,1745.1 1598.5,1742.5 C1599.2,1739.8 1603.1,1736.5 1606.4,1734.5 C1609.7,1732.6 1617.0,1733.2 1618.3,1730.6 C1619.6,1727.9 1617.7,1722.0 1614.3,1718.7 C1611.0,1715.4 1602.8,1714.1 1598.5,1710.8 C1594.2,1707.5 1590.6,1703.2 1588.6,1698.9 C1586.6,1694.6 1588.9,1689.0 1586.6,1685.0 C1584.3,1681.0 1578.0,1678.7 1574.7,1675.1 C1571.4,1671.5 1567.8,1667.8 1566.8,1663.2 C1565.8,1658.6 1568.8,1653.6 1568.8,1647.4 C1568.8,1641.1 1565.1,1632.2 1566.8,1625.6Z"/></clipPath></defs>
<path d="M1566.8,1625.6 C1568.5,1619.0 1573.4,1611.7 1578.7,1607.7 C1584.0,1603.8 1591.9,1603.4 1598.5,1601.8 C1605.1,1600.1 1613.0,1599.5 1618.3,1597.8 C1623.6,1596.2 1625.6,1592.2 1630.2,1591.9 C1634.8,1591.6 1641.4,1593.5 1646.0,1595.8 C1650.7,1598.2 1653.3,1603.8 1657.9,1605.8 C1662.6,1607.7 1670.5,1605.4 1673.8,1607.7 C1677.1,1610.0 1677.8,1614.3 1677.8,1619.6 C1677.8,1624.9 1671.8,1635.1 1673.8,1639.4 C1675.8,1643.7 1684.0,1642.4 1689.6,1645.4 C1695.3,1648.4 1703.8,1653.3 1707.5,1657.3 C1711.1,1661.2 1712.4,1665.5 1711.4,1669.2 C1710.4,1672.8 1701.5,1674.8 1701.5,1679.1 C1701.5,1683.4 1708.8,1690.0 1711.4,1694.9 C1714.1,1699.9 1717.0,1704.2 1717.4,1708.8 C1717.7,1713.4 1712.1,1718.0 1713.4,1722.7 C1714.7,1727.3 1723.0,1731.6 1725.3,1736.5 C1727.6,1741.5 1726.6,1747.1 1727.3,1752.4 C1727.9,1757.7 1730.3,1762.3 1729.3,1768.2 C1728.3,1774.2 1720.7,1783.1 1721.3,1788.0 C1722.0,1793.0 1729.9,1793.6 1733.2,1797.9 C1736.5,1802.2 1740.5,1808.5 1741.2,1813.8 C1741.8,1819.1 1737.2,1824.7 1737.2,1829.6 C1737.2,1834.6 1740.8,1838.9 1741.2,1843.5 C1741.5,1848.1 1741.8,1854.4 1739.2,1857.4 C1736.5,1860.3 1727.9,1858.0 1725.3,1861.3 C1722.7,1864.6 1724.6,1871.2 1723.3,1877.2 C1722.0,1883.1 1720.0,1891.1 1717.4,1897.0 C1714.7,1902.9 1709.5,1907.6 1707.5,1912.8 C1705.5,1918.1 1707.1,1924.7 1705.5,1928.7 C1703.8,1932.7 1700.2,1932.0 1697.6,1936.6 C1694.9,1941.2 1693.6,1951.8 1689.6,1956.4 C1685.7,1961.1 1679.1,1964.4 1673.8,1964.4 C1668.5,1964.4 1662.2,1955.8 1657.9,1956.4 C1653.6,1957.1 1652.0,1965.0 1648.0,1968.3 C1644.1,1971.6 1639.1,1975.3 1634.2,1976.2 C1629.2,1977.2 1623.6,1973.9 1618.3,1974.3 C1613.0,1974.6 1607.7,1978.6 1602.5,1978.2 C1597.2,1977.9 1590.9,1974.9 1586.6,1972.3 C1582.3,1969.6 1578.7,1966.3 1576.7,1962.4 C1574.7,1958.4 1573.7,1952.1 1574.7,1948.5 C1575.7,1944.9 1580.0,1943.2 1582.7,1940.6 C1585.3,1937.9 1590.6,1936.0 1590.6,1932.7 C1590.6,1929.4 1585.3,1925.1 1582.7,1920.8 C1580.0,1916.5 1575.4,1911.5 1574.7,1906.9 C1574.1,1902.3 1576.0,1897.3 1578.7,1893.0 C1581.3,1888.7 1586.6,1883.8 1590.6,1881.2 C1594.5,1878.5 1600.2,1880.5 1602.5,1877.2 C1604.8,1873.9 1604.8,1866.6 1604.4,1861.3 C1604.1,1856.1 1600.5,1850.8 1600.5,1845.5 C1600.5,1840.2 1601.5,1832.9 1604.4,1829.6 C1607.4,1826.3 1614.0,1827.0 1618.3,1825.7 C1622.6,1824.4 1627.2,1824.7 1630.2,1821.7 C1633.2,1818.7 1634.8,1813.5 1636.1,1807.8 C1637.5,1802.2 1638.1,1793.6 1638.1,1788.0 C1638.1,1782.4 1637.8,1777.8 1636.1,1774.2 C1634.5,1770.5 1631.2,1768.9 1628.2,1766.2 C1625.2,1763.6 1622.6,1761.0 1618.3,1758.3 C1614.0,1755.7 1605.8,1753.0 1602.5,1750.4 C1599.2,1747.7 1597.8,1745.1 1598.5,1742.5 C1599.2,1739.8 1603.1,1736.5 1606.4,1734.5 C1609.7,1732.6 1617.0,1733.2 1618.3,1730.6 C1619.6,1727.9 1617.7,1722.0 1614.3,1718.7 C1611.0,1715.4 1602.8,1714.1 1598.5,1710.8 C1594.2,1707.5 1590.6,1703.2 1588.6,1698.9 C1586.6,1694.6 1588.9,1689.0 1586.6,1685.0 C1584.3,1681.0 1578.0,1678.7 1574.7,1675.1 C1571.4,1671.5 1567.8,1667.8 1566.8,1663.2 C1565.8,1658.6 1568.8,1653.6 1568.8,1647.4 C1568.8,1641.1 1565.1,1632.2 1566.8,1625.6Z" fill="#9c7a00" stroke="#6e5400" stroke-width="1"/>
<circle cx="1619.8" cy="1600.1" r="6.9" fill="url(#ysph)"/>
<circle cx="1654.9" cy="1612.5" r="4.6" fill="url(#ysph)"/>
<circle cx="1642.4" cy="1600.1" r="7.4" fill="url(#ysph)"/>
<circle cx="1675.6" cy="1626.8" r="5.0" fill="url(#ysph)"/>
<circle cx="1674.4" cy="1620.6" r="5.9" fill="url(#ysph)"/>
<circle cx="1640.3" cy="1606.9" r="11.1" fill="url(#ysph)"/>
<circle cx="1661.0" cy="1613.3" r="6.9" fill="url(#ysph)"/>
<circle cx="1665.3" cy="1616.4" r="9.9" fill="url(#ysph)"/>
<circle cx="1632.9" cy="1595.2" r="7.2" fill="url(#ysph)"/>
<circle cx="1648.9" cy="1610.4" r="7.6" fill="url(#ysph)"/>
<circle cx="1665.7" cy="1609.2" r="8.1" fill="url(#ysph)"/>
<circle cx="1633.9" cy="1607.0" r="5.6" fill="url(#ysph)"/>
<circle cx="1646.1" cy="1596.7" r="8.6" fill="url(#ysph)"/>
<circle cx="1659.1" cy="1626.4" r="5.1" fill="url(#ysph)"/>
<circle cx="1648.3" cy="1615.0" r="9.6" fill="url(#ysph)"/>
<circle cx="1656.5" cy="1608.3" r="7.7" fill="url(#ysph)"/>
<circle cx="1626.8" cy="1601.2" r="7.0" fill="url(#ysph)"/>
<circle cx="1663.7" cy="1623.0" r="7.9" fill="url(#ysph)"/>
<circle cx="1666.1" cy="1621.0" r="6.2" fill="url(#ysph)"/>
<circle cx="1672.8" cy="1634.4" r="7.4" fill="url(#ysph)"/>
<circle cx="1672.7" cy="1614.8" r="8.1" fill="url(#ysph)"/>
<circle cx="1666.9" cy="1626.9" r="4.6" fill="url(#ysph)"/>
<circle cx="1662.1" cy="1609.9" r="6.0" fill="url(#ysph)"/>
<circle cx="1632.9" cy="1603.8" r="6.6" fill="url(#ysph)"/>
<circle cx="1631.1" cy="1607.7" r="5.4" fill="url(#ysph)"/>
<circle cx="1628.2" cy="1596.2" r="5.1" fill="url(#ysph)"/>
<circle cx="1647.1" cy="1601.1" r="6.7" fill="url(#ysph)"/>
<circle cx="1654.3" cy="1621.3" r="6.5" fill="url(#ysph)"/>
<circle cx="1669.3" cy="1668.1" r="5.5" fill="url(#ysph)"/>
<circle cx="1688.1" cy="1684.9" r="5.5" fill="url(#ysph)"/>
<circle cx="1700.9" cy="1680.8" r="7.9" fill="url(#ysph)"/>
<circle cx="1681.6" cy="1652.9" r="5.0" fill="url(#ysph)"/>
<circle cx="1647.2" cy="1651.6" r="7.3" fill="url(#ysph)"/>
<circle cx="1640.0" cy="1647.5" r="11.0" fill="url(#ysph)"/>
<circle cx="1611.2" cy="1635.2" r="7.4" fill="url(#ysph)"/>
<circle cx="1661.2" cy="1653.1" r="6.6" fill="url(#ysph)"/>
<circle cx="1687.6" cy="1653.4" r="5.1" fill="url(#ysph)"/>
<circle cx="1653.8" cy="1633.7" r="8.1" fill="url(#ysph)"/>
<circle cx="1674.3" cy="1665.4" r="4.9" fill="url(#ysph)"/>
<circle cx="1692.4" cy="1668.2" r="7.5" fill="url(#ysph)"/>
<circle cx="1676.3" cy="1671.0" r="10.8" fill="url(#ysph)"/>
<circle cx="1660.8" cy="1662.5" r="5.1" fill="url(#ysph)"/>
<circle cx="1678.3" cy="1647.3" r="4.8" fill="url(#ysph)"/>
<circle cx="1708.9" cy="1692.3" r="5.6" fill="url(#ysph)"/>
<circle cx="1600.9" cy="1621.1" r="7.1" fill="url(#ysph)"/>
<circle cx="1614.4" cy="1638.5" r="6.2" fill="url(#ysph)"/>
<circle cx="1643.7" cy="1623.7" r="6.5" fill="url(#ysph)"/>
<circle cx="1626.8" cy="1642.6" r="5.9" fill="url(#ysph)"/>
<circle cx="1687.1" cy="1646.4" r="6.6" fill="url(#ysph)"/>
<circle cx="1624.5" cy="1610.8" r="6.7" fill="url(#ysph)"/>
<circle cx="1662.2" cy="1665.4" r="5.9" fill="url(#ysph)"/>
<circle cx="1683.1" cy="1665.9" r="8.0" fill="url(#ysph)"/>
<circle cx="1688.6" cy="1671.1" r="6.0" fill="url(#ysph)"/>
<circle cx="1676.7" cy="1659.1" r="5.5" fill="url(#ysph)"/>
<circle cx="1620.5" cy="1640.2" r="10.5" fill="url(#ysph)"/>
<circle cx="1620.1" cy="1629.7" r="5.3" fill="url(#ysph)"/>
<circle cx="1655.2" cy="1657.9" r="7.9" fill="url(#ysph)"/>
<circle cx="1650.3" cy="1660.3" r="5.8" fill="url(#ysph)"/>
<circle cx="1647.0" cy="1636.7" r="8.0" fill="url(#ysph)"/>
<circle cx="1673.1" cy="1677.8" r="6.2" fill="url(#ysph)"/>
<circle cx="1597.9" cy="1613.4" r="8.1" fill="url(#ysph)"/>
<circle cx="1584.9" cy="1609.6" r="4.8" fill="url(#ysph)"/>
<circle cx="1608.1" cy="1609.4" r="6.5" fill="url(#ysph)"/>
<circle cx="1621.3" cy="1634.2" r="5.0" fill="url(#ysph)"/>
<circle cx="1702.4" cy="1672.2" r="5.9" fill="url(#ysph)"/>
<circle cx="1613.7" cy="1622.2" r="5.9" fill="url(#ysph)"/>
<circle cx="1620.5" cy="1616.9" r="5.9" fill="url(#ysph)"/>
<circle cx="1663.2" cy="1648.4" r="6.9" fill="url(#ysph)"/>
<circle cx="1589.5" cy="1616.7" r="4.9" fill="url(#ysph)"/>
<circle cx="1635.6" cy="1641.5" r="7.8" fill="url(#ysph)"/>
<circle cx="1627.1" cy="1622.5" r="6.9" fill="url(#ysph)"/>
<circle cx="1646.9" cy="1623.7" r="6.2" fill="url(#ysph)"/>
<circle cx="1656.3" cy="1642.1" r="6.5" fill="url(#ysph)"/>
<circle cx="1701.2" cy="1684.8" r="7.3" fill="url(#ysph)"/>
<circle cx="1600.4" cy="1607.3" r="7.5" fill="url(#ysph)"/>
<circle cx="1648.4" cy="1626.6" r="7.0" fill="url(#ysph)"/>
<circle cx="1614.7" cy="1633.1" r="10.4" fill="url(#ysph)"/>
<circle cx="1578.6" cy="1609.9" r="5.6" fill="url(#ysph)"/>
<circle cx="1613.7" cy="1629.7" r="5.3" fill="url(#ysph)"/>
<circle cx="1627.1" cy="1634.1" r="6.7" fill="url(#ysph)"/>
<circle cx="1648.2" cy="1638.4" r="5.9" fill="url(#ysph)"/>
<circle cx="1608.0" cy="1615.3" r="6.9" fill="url(#ysph)"/>
<circle cx="1668.6" cy="1638.7" r="4.7" fill="url(#ysph)"/>
<circle cx="1696.0" cy="1661.5" r="7.0" fill="url(#ysph)"/>
<circle cx="1595.6" cy="1606.0" r="4.7" fill="url(#ysph)"/>
<circle cx="1691.5" cy="1671.2" r="6.7" fill="url(#ysph)"/>
<circle cx="1666.3" cy="1672.7" r="10.9" fill="url(#ysph)"/>
<circle cx="1610.0" cy="1629.4" r="9.2" fill="url(#ysph)"/>
<circle cx="1601.6" cy="1613.9" r="5.1" fill="url(#ysph)"/>
<circle cx="1688.3" cy="1679.6" r="7.8" fill="url(#ysph)"/>
<circle cx="1614.6" cy="1614.5" r="8.7" fill="url(#ysph)"/>
<circle cx="1666.8" cy="1655.1" r="4.8" fill="url(#ysph)"/>
<circle cx="1635.7" cy="1616.9" r="9.5" fill="url(#ysph)"/>
<circle cx="1678.8" cy="1679.9" r="5.6" fill="url(#ysph)"/>
<circle cx="1607.8" cy="1600.2" r="7.7" fill="url(#ysph)"/>
<circle cx="1635.6" cy="1630.0" r="7.9" fill="url(#ysph)"/>
<circle cx="1628.6" cy="1627.1" r="8.7" fill="url(#ysph)"/>
<circle cx="1692.1" cy="1652.2" r="8.1" fill="url(#ysph)"/>
<circle cx="1699.3" cy="1669.1" r="7.7" fill="url(#ysph)"/>
<circle cx="1650.6" cy="1645.6" r="6.4" fill="url(#ysph)"/>
<circle cx="1706.6" cy="1660.6" r="6.7" fill="url(#ysph)"/>
<circle cx="1652.8" cy="1626.2" r="7.5" fill="url(#ysph)"/>
<circle cx="1588.4" cy="1608.5" r="7.6" fill="url(#ysph)"/>
<circle cx="1674.2" cy="1645.0" r="9.4" fill="url(#ysph)"/>
<circle cx="1706.9" cy="1697.2" r="4.8" fill="url(#ysph)"/>
<circle cx="1598.0" cy="1619.6" r="4.7" fill="url(#ysph)"/>
<circle cx="1669.4" cy="1662.2" r="7.4" fill="url(#ysph)"/>
<circle cx="1680.4" cy="1674.9" r="6.2" fill="url(#ysph)"/>
<circle cx="1700.2" cy="1690.7" r="6.8" fill="url(#ysph)"/>
<circle cx="1713.0" cy="1704.3" r="6.2" fill="url(#ysph)"/>
<circle cx="1676.7" cy="1652.7" r="4.5" fill="url(#ysph)"/>
<circle cx="1623.7" cy="1623.4" r="5.3" fill="url(#ysph)"/>
<circle cx="1678.8" cy="1658.7" r="6.2" fill="url(#ysph)"/>
<circle cx="1644.2" cy="1634.6" r="6.4" fill="url(#ysph)"/>
<circle cx="1583.4" cy="1617.1" r="9.2" fill="url(#ysph)"/>
<circle cx="1607.2" cy="1620.1" r="4.6" fill="url(#ysph)"/>
<circle cx="1698.8" cy="1655.9" r="5.3" fill="url(#ysph)"/>
<circle cx="1656.9" cy="1652.0" r="6.2" fill="url(#ysph)"/>
<circle cx="1641.4" cy="1617.0" r="5.2" fill="url(#ysph)"/>
<circle cx="1656.4" cy="1647.4" r="8.2" fill="url(#ysph)"/>
<circle cx="1642.4" cy="1641.8" r="9.9" fill="url(#ysph)"/>
<circle cx="1661.3" cy="1641.1" r="5.8" fill="url(#ysph)"/>
<circle cx="1687.4" cy="1661.3" r="7.0" fill="url(#ysph)"/>
<circle cx="1692.5" cy="1679.5" r="7.5" fill="url(#ysph)"/>
<circle cx="1688.9" cy="1665.5" r="6.4" fill="url(#ysph)"/>
<circle cx="1666.5" cy="1649.4" r="7.4" fill="url(#ysph)"/>
<circle cx="1691.4" cy="1685.5" r="5.6" fill="url(#ysph)"/>
<circle cx="1706.8" cy="1665.3" r="5.4" fill="url(#ysph)"/>
<circle cx="1667.7" cy="1634.4" r="6.8" fill="url(#ysph)"/>
<circle cx="1628.1" cy="1614.7" r="4.6" fill="url(#ysph)"/>
<circle cx="1634.1" cy="1636.7" r="7.4" fill="url(#ysph)"/>
<circle cx="1618.1" cy="1608.1" r="7.7" fill="url(#ysph)"/>
<circle cx="1615.0" cy="1599.7" r="6.3" fill="url(#ysph)"/>
<circle cx="1658.8" cy="1633.8" r="4.8" fill="url(#ysph)"/>
<circle cx="1636.1" cy="1619.6" r="6.8" fill="url(#ysph)"/>
<circle cx="1640.6" cy="1626.0" r="4.7" fill="url(#ysph)"/>
<circle cx="1633.9" cy="1647.8" r="6.4" fill="url(#ysph)"/>
<circle cx="1701.0" cy="1661.7" r="7.7" fill="url(#ysph)"/>
<circle cx="1643.1" cy="1654.6" r="6.0" fill="url(#ysph)"/>
<circle cx="1611.2" cy="1655.4" r="6.5" fill="url(#ysph)"/>
<circle cx="1662.0" cy="1705.2" r="7.2" fill="url(#ysph)"/>
<circle cx="1576.3" cy="1633.6" r="4.7" fill="url(#ysph)"/>
<circle cx="1598.6" cy="1658.5" r="4.8" fill="url(#ysph)"/>
<circle cx="1688.5" cy="1718.0" r="5.0" fill="url(#ysph)"/>
<circle cx="1692.3" cy="1730.7" r="8.0" fill="url(#ysph)"/>
<circle cx="1706.3" cy="1711.1" r="4.7" fill="url(#ysph)"/>
<circle cx="1698.0" cy="1712.5" r="4.6" fill="url(#ysph)"/>
<circle cx="1682.3" cy="1695.2" r="7.7" fill="url(#ysph)"/>
<circle cx="1575.0" cy="1630.0" r="5.8" fill="url(#ysph)"/>
<circle cx="1622.0" cy="1646.2" r="5.0" fill="url(#ysph)"/>
<circle cx="1648.2" cy="1698.1" r="7.1" fill="url(#ysph)"/>
<circle cx="1687.9" cy="1705.4" r="4.6" fill="url(#ysph)"/>
<circle cx="1603.2" cy="1642.9" r="7.0" fill="url(#ysph)"/>
<circle cx="1706.2" cy="1733.8" r="7.1" fill="url(#ysph)"/>
<circle cx="1721.8" cy="1738.0" r="7.5" fill="url(#ysph)"/>
<circle cx="1581.5" cy="1641.0" r="6.0" fill="url(#ysph)"/>
<circle cx="1694.5" cy="1697.3" r="5.9" fill="url(#ysph)"/>
<circle cx="1596.4" cy="1652.3" r="7.1" fill="url(#ysph)"/>
<circle cx="1639.5" cy="1661.4" r="7.8" fill="url(#ysph)"/>
<circle cx="1595.1" cy="1632.7" r="11.3" fill="url(#ysph)"/>
<circle cx="1647.0" cy="1677.7" r="8.0" fill="url(#ysph)"/>
<circle cx="1579.2" cy="1615.6" r="5.9" fill="url(#ysph)"/>
<circle cx="1660.4" cy="1682.3" r="5.2" fill="url(#ysph)"/>
<circle cx="1687.4" cy="1697.1" r="7.3" fill="url(#ysph)"/>
<circle cx="1604.7" cy="1666.8" r="5.2" fill="url(#ysph)"/>
<circle cx="1621.8" cy="1660.1" r="7.3" fill="url(#ysph)"/>
<circle cx="1654.0" cy="1666.5" r="6.3" fill="url(#ysph)"/>
<circle cx="1583.4" cy="1647.2" r="6.4" fill="url(#ysph)"/>
<circle cx="1608.0" cy="1665.6" r="4.6" fill="url(#ysph)"/>
<circle cx="1602.2" cy="1656.2" r="7.5" fill="url(#ysph)"/>
<circle cx="1685.8" cy="1691.0" r="8.1" fill="url(#ysph)"/>
<circle cx="1712.6" cy="1724.5" r="5.7" fill="url(#ysph)"/>
<circle cx="1636.5" cy="1653.6" r="7.6" fill="url(#ysph)"/>
<circle cx="1578.0" cy="1642.4" r="8.5" fill="url(#ysph)"/>
<circle cx="1571.2" cy="1648.3" r="5.4" fill="url(#ysph)"/>
<circle cx="1617.4" cy="1681.3" r="7.4" fill="url(#ysph)"/>
<circle cx="1570.2" cy="1623.6" r="11.5" fill="url(#ysph)"/>
<circle cx="1646.9" cy="1664.6" r="5.3" fill="url(#ysph)"/>
<circle cx="1621.3" cy="1664.5" r="7.8" fill="url(#ysph)"/>
<circle cx="1602.8" cy="1661.0" r="5.6" fill="url(#ysph)"/>
<circle cx="1582.2" cy="1656.1" r="6.0" fill="url(#ysph)"/>
<circle cx="1588.5" cy="1652.7" r="10.5" fill="url(#ysph)"/>
<circle cx="1572.3" cy="1641.5" r="7.3" fill="url(#ysph)"/>
<circle cx="1636.7" cy="1677.8" r="6.6" fill="url(#ysph)"/>
<circle cx="1669.7" cy="1706.2" r="7.5" fill="url(#ysph)"/>
<circle cx="1608.7" cy="1672.5" r="4.7" fill="url(#ysph)"/>
<circle cx="1571.3" cy="1635.1" r="5.1" fill="url(#ysph)"/>
<circle cx="1587.6" cy="1659.3" r="5.6" fill="url(#ysph)"/>
<circle cx="1637.2" cy="1658.0" r="5.7" fill="url(#ysph)"/>
<circle cx="1695.7" cy="1718.0" r="5.6" fill="url(#ysph)"/>
<circle cx="1597.2" cy="1627.5" r="7.1" fill="url(#ysph)"/>
<circle cx="1725.2" cy="1744.4" r="4.7" fill="url(#ysph)"/>
<circle cx="1649.9" cy="1673.0" r="5.1" fill="url(#ysph)"/>
<circle cx="1681.5" cy="1712.1" r="7.4" fill="url(#ysph)"/>
<circle cx="1585.5" cy="1620.2" r="8.0" fill="url(#ysph)"/>
<circle cx="1667.9" cy="1695.0" r="6.5" fill="url(#ysph)"/>
<circle cx="1672.3" cy="1692.8" r="7.4" fill="url(#ysph)"/>
<circle cx="1589.8" cy="1642.6" r="8.1" fill="url(#ysph)"/>
<circle cx="1643.6" cy="1686.1" r="6.2" fill="url(#ysph)"/>
<circle cx="1598.3" cy="1645.9" r="7.3" fill="url(#ysph)"/>
<circle cx="1637.5" cy="1685.7" r="7.2" fill="url(#ysph)"/>
<circle cx="1631.1" cy="1671.5" r="11.2" fill="url(#ysph)"/>
<circle cx="1627.3" cy="1649.6" r="9.6" fill="url(#ysph)"/>
<circle cx="1712.0" cy="1731.7" r="6.8" fill="url(#ysph)"/>
<circle cx="1702.3" cy="1731.9" r="4.7" fill="url(#ysph)"/>
<circle cx="1652.5" cy="1673.3" r="6.9" fill="url(#ysph)"/>
<circle cx="1647.1" cy="1687.8" r="6.3" fill="url(#ysph)"/>
<circle cx="1669.7" cy="1682.3" r="6.9" fill="url(#ysph)"/>
<circle cx="1590.1" cy="1623.6" r="6.6" fill="url(#ysph)"/>
<circle cx="1603.6" cy="1672.8" r="5.8" fill="url(#ysph)"/>
<circle cx="1699.0" cy="1720.9" r="7.2" fill="url(#ysph)"/>
<circle cx="1642.6" cy="1669.0" r="7.9" fill="url(#ysph)"/>
<circle cx="1621.2" cy="1672.6" r="8.2" fill="url(#ysph)"/>
<circle cx="1659.5" cy="1691.8" r="4.8" fill="url(#ysph)"/>
<circle cx="1666.4" cy="1685.7" r="4.5" fill="url(#ysph)"/>
<circle cx="1719.1" cy="1742.7" r="5.3" fill="url(#ysph)"/>
<circle cx="1631.1" cy="1662.1" r="6.5" fill="url(#ysph)"/>
<circle cx="1577.7" cy="1646.3" r="6.9" fill="url(#ysph)"/>
<circle cx="1705.7" cy="1726.5" r="6.9" fill="url(#ysph)"/>
<circle cx="1689.2" cy="1729.5" r="6.2" fill="url(#ysph)"/>
<circle cx="1706.1" cy="1707.2" r="4.6" fill="url(#ysph)"/>
<circle cx="1637.6" cy="1671.9" r="8.2" fill="url(#ysph)"/>
<circle cx="1614.1" cy="1670.9" r="5.6" fill="url(#ysph)"/>
<circle cx="1606.9" cy="1647.2" r="10.9" fill="url(#ysph)"/>
<circle cx="1642.5" cy="1694.9" r="9.6" fill="url(#ysph)"/>
<circle cx="1707.5" cy="1719.9" r="8.0" fill="url(#ysph)"/>
<circle cx="1688.6" cy="1723.9" r="5.1" fill="url(#ysph)"/>
<circle cx="1695.3" cy="1704.7" r="4.8" fill="url(#ysph)"/>
<circle cx="1583.7" cy="1628.9" r="5.7" fill="url(#ysph)"/>
<circle cx="1652.5" cy="1680.2" r="6.4" fill="url(#ysph)"/>
<circle cx="1673.1" cy="1717.6" r="6.3" fill="url(#ysph)"/>
<circle cx="1600.7" cy="1636.1" r="4.5" fill="url(#ysph)"/>
<circle cx="1597.8" cy="1642.5" r="6.7" fill="url(#ysph)"/>
<circle cx="1667.7" cy="1697.4" r="7.6" fill="url(#ysph)"/>
<circle cx="1616.5" cy="1656.0" r="10.4" fill="url(#ysph)"/>
<circle cx="1672.5" cy="1684.9" r="10.2" fill="url(#ysph)"/>
<circle cx="1624.5" cy="1654.1" r="10.0" fill="url(#ysph)"/>
<circle cx="1672.4" cy="1699.0" r="7.8" fill="url(#ysph)"/>
<circle cx="1627.9" cy="1679.2" r="7.1" fill="url(#ysph)"/>
<circle cx="1657.0" cy="1684.4" r="5.3" fill="url(#ysph)"/>
<circle cx="1629.9" cy="1651.6" r="5.1" fill="url(#ysph)"/>
<circle cx="1692.9" cy="1725.0" r="5.1" fill="url(#ysph)"/>
<circle cx="1634.9" cy="1665.7" r="4.6" fill="url(#ysph)"/>
<circle cx="1660.8" cy="1711.2" r="7.0" fill="url(#ysph)"/>
<circle cx="1610.2" cy="1641.9" r="5.4" fill="url(#ysph)"/>
<circle cx="1652.9" cy="1706.0" r="10.8" fill="url(#ysph)"/>
<circle cx="1678.8" cy="1699.1" r="7.5" fill="url(#ysph)"/>
<circle cx="1587.7" cy="1635.6" r="5.1" fill="url(#ysph)"/>
<circle cx="1711.1" cy="1713.8" r="6.5" fill="url(#ysph)"/>
<circle cx="1617.4" cy="1649.7" r="7.5" fill="url(#ysph)"/>
<circle cx="1589.6" cy="1645.5" r="5.1" fill="url(#ysph)"/>
<circle cx="1674.6" cy="1711.6" r="8.1" fill="url(#ysph)"/>
<circle cx="1661.1" cy="1697.8" r="4.9" fill="url(#ysph)"/>
<circle cx="1692.5" cy="1714.4" r="6.7" fill="url(#ysph)"/>
<circle cx="1598.6" cy="1667.6" r="7.6" fill="url(#ysph)"/>
<circle cx="1600.7" cy="1630.1" r="6.4" fill="url(#ysph)"/>
<circle cx="1660.7" cy="1675.5" r="4.5" fill="url(#ysph)"/>
<circle cx="1669.7" cy="1716.5" r="7.7" fill="url(#ysph)"/>
<circle cx="1701.5" cy="1700.8" r="6.6" fill="url(#ysph)"/>
<circle cx="1720.0" cy="1733.2" r="5.7" fill="url(#ysph)"/>
<circle cx="1674.7" cy="1707.8" r="5.3" fill="url(#ysph)"/>
<circle cx="1618.1" cy="1667.9" r="6.0" fill="url(#ysph)"/>
<circle cx="1682.0" cy="1721.1" r="8.2" fill="url(#ysph)"/>
<circle cx="1614.7" cy="1659.1" r="7.7" fill="url(#ysph)"/>
<circle cx="1689.5" cy="1713.6" r="6.1" fill="url(#ysph)"/>
<circle cx="1712.8" cy="1739.6" r="6.8" fill="url(#ysph)"/>
<circle cx="1571.9" cy="1626.7" r="5.0" fill="url(#ysph)"/>
<circle cx="1587.7" cy="1625.7" r="5.0" fill="url(#ysph)"/>
<circle cx="1702.8" cy="1706.3" r="6.0" fill="url(#ysph)"/>
<circle cx="1581.1" cy="1632.5" r="7.3" fill="url(#ysph)"/>
<circle cx="1724.5" cy="1753.0" r="6.3" fill="url(#ysph)"/>
<circle cx="1654.2" cy="1692.9" r="6.4" fill="url(#ysph)"/>
<circle cx="1705.0" cy="1738.9" r="6.4" fill="url(#ysph)"/>
<circle cx="1628.8" cy="1667.8" r="5.4" fill="url(#ysph)"/>
<circle cx="1665.4" cy="1713.1" r="8.8" fill="url(#ysph)"/>
<circle cx="1611.1" cy="1659.0" r="7.2" fill="url(#ysph)"/>
<circle cx="1577.8" cy="1623.3" r="7.1" fill="url(#ysph)"/>
<circle cx="1640.3" cy="1681.2" r="6.9" fill="url(#ysph)"/>
<circle cx="1656.1" cy="1700.8" r="7.6" fill="url(#ysph)"/>
<circle cx="1678.8" cy="1708.4" r="4.7" fill="url(#ysph)"/>
<circle cx="1622.8" cy="1679.0" r="6.3" fill="url(#ysph)"/>
<circle cx="1605.2" cy="1649.6" r="7.1" fill="url(#ysph)"/>
<circle cx="1697.9" cy="1724.2" r="8.0" fill="url(#ysph)"/>
<circle cx="1661.8" cy="1687.0" r="5.1" fill="url(#ysph)"/>
<circle cx="1641.1" cy="1675.0" r="10.6" fill="url(#ysph)"/>
<circle cx="1679.6" cy="1686.9" r="6.8" fill="url(#ysph)"/>
<circle cx="1631.2" cy="1686.8" r="6.0" fill="url(#ysph)"/>
<circle cx="1646.2" cy="1693.5" r="6.6" fill="url(#ysph)"/>
<circle cx="1696.0" cy="1695.3" r="7.5" fill="url(#ysph)"/>
<circle cx="1709.1" cy="1755.8" r="6.5" fill="url(#ysph)"/>
<circle cx="1595.6" cy="1691.4" r="5.6" fill="url(#ysph)"/>
<circle cx="1610.8" cy="1681.1" r="7.8" fill="url(#ysph)"/>
<circle cx="1604.9" cy="1678.3" r="6.8" fill="url(#ysph)"/>
<circle cx="1595.9" cy="1679.9" r="6.1" fill="url(#ysph)"/>
<circle cx="1702.3" cy="1764.9" r="10.1" fill="url(#ysph)"/>
<circle cx="1711.1" cy="1772.3" r="7.4" fill="url(#ysph)"/>
<circle cx="1570.4" cy="1667.3" r="9.3" fill="url(#ysph)"/>
<circle cx="1598.8" cy="1684.4" r="6.8" fill="url(#ysph)"/>
<circle cx="1640.5" cy="1710.6" r="10.9" fill="url(#ysph)"/>
<circle cx="1628.6" cy="1691.2" r="4.7" fill="url(#ysph)"/>
<circle cx="1663.5" cy="1745.0" r="11.2" fill="url(#ysph)"/>
<circle cx="1709.3" cy="1783.3" r="5.6" fill="url(#ysph)"/>
<circle cx="1653.6" cy="1719.6" r="8.0" fill="url(#ysph)"/>
<circle cx="1646.3" cy="1723.9" r="4.8" fill="url(#ysph)"/>
<circle cx="1604.5" cy="1697.5" r="7.2" fill="url(#ysph)"/>
<circle cx="1622.7" cy="1710.9" r="5.7" fill="url(#ysph)"/>
<circle cx="1585.6" cy="1682.2" r="6.1" fill="url(#ysph)"/>
<circle cx="1657.2" cy="1739.9" r="8.1" fill="url(#ysph)"/>
<circle cx="1646.3" cy="1737.8" r="4.9" fill="url(#ysph)"/>
<circle cx="1701.4" cy="1769.6" r="6.5" fill="url(#ysph)"/>
<circle cx="1707.3" cy="1779.4" r="7.4" fill="url(#ysph)"/>
<circle cx="1646.3" cy="1732.6" r="10.0" fill="url(#ysph)"/>
<circle cx="1600.3" cy="1711.7" r="7.2" fill="url(#ysph)"/>
<circle cx="1727.2" cy="1760.0" r="6.8" fill="url(#ysph)"/>
<circle cx="1727.4" cy="1768.8" r="5.2" fill="url(#ysph)"/>
<circle cx="1629.4" cy="1712.3" r="9.0" fill="url(#ysph)"/>
<circle cx="1687.1" cy="1758.2" r="4.6" fill="url(#ysph)"/>
<circle cx="1622.3" cy="1705.0" r="7.1" fill="url(#ysph)"/>
<circle cx="1668.5" cy="1727.0" r="9.1" fill="url(#ysph)"/>
<circle cx="1615.4" cy="1694.5" r="5.8" fill="url(#ysph)"/>
<circle cx="1679.7" cy="1750.1" r="5.2" fill="url(#ysph)"/>
<circle cx="1597.6" cy="1697.1" r="7.7" fill="url(#ysph)"/>
<circle cx="1642.8" cy="1731.9" r="6.0" fill="url(#ysph)"/>
<circle cx="1711.1" cy="1753.0" r="10.5" fill="url(#ysph)"/>
<circle cx="1708.0" cy="1769.3" r="7.8" fill="url(#ysph)"/>
<circle cx="1582.7" cy="1659.6" r="7.8" fill="url(#ysph)"/>
<circle cx="1663.6" cy="1717.5" r="6.8" fill="url(#ysph)"/>
<circle cx="1717.3" cy="1776.2" r="6.1" fill="url(#ysph)"/>
<circle cx="1606.8" cy="1694.9" r="7.9" fill="url(#ysph)"/>
<circle cx="1643.9" cy="1727.6" r="6.5" fill="url(#ysph)"/>
<circle cx="1686.8" cy="1739.8" r="4.6" fill="url(#ysph)"/>
<circle cx="1611.0" cy="1688.5" r="4.6" fill="url(#ysph)"/>
<circle cx="1571.5" cy="1660.0" r="6.9" fill="url(#ysph)"/>
<circle cx="1639.4" cy="1700.0" r="10.9" fill="url(#ysph)"/>
<circle cx="1665.8" cy="1745.3" r="6.4" fill="url(#ysph)"/>
<circle cx="1720.9" cy="1772.7" r="7.0" fill="url(#ysph)"/>
<circle cx="1694.6" cy="1759.6" r="6.9" fill="url(#ysph)"/>
<circle cx="1666.3" cy="1739.1" r="7.9" fill="url(#ysph)"/>
<circle cx="1662.5" cy="1738.1" r="8.0" fill="url(#ysph)"/>
<circle cx="1621.5" cy="1720.1" r="5.8" fill="url(#ysph)"/>
<circle cx="1680.2" cy="1736.1" r="5.2" fill="url(#ysph)"/>
<circle cx="1621.8" cy="1694.8" r="7.0" fill="url(#ysph)"/>
<circle cx="1626.5" cy="1704.3" r="6.3" fill="url(#ysph)"/>
<circle cx="1673.8" cy="1731.4" r="8.1" fill="url(#ysph)"/>
<circle cx="1629.8" cy="1720.6" r="7.8" fill="url(#ysph)"/>
<circle cx="1633.6" cy="1708.1" r="8.2" fill="url(#ysph)"/>
<circle cx="1689.4" cy="1764.9" r="7.0" fill="url(#ysph)"/>
<circle cx="1620.4" cy="1684.8" r="4.5" fill="url(#ysph)"/>
<circle cx="1598.3" cy="1704.8" r="5.7" fill="url(#ysph)"/>
<circle cx="1588.8" cy="1666.7" r="6.6" fill="url(#ysph)"/>
<circle cx="1699.7" cy="1757.5" r="5.7" fill="url(#ysph)"/>
<circle cx="1642.7" cy="1707.9" r="6.5" fill="url(#ysph)"/>
<circle cx="1693.4" cy="1747.1" r="7.7" fill="url(#ysph)"/>
<circle cx="1721.8" cy="1752.8" r="6.3" fill="url(#ysph)"/>
<circle cx="1660.7" cy="1750.2" r="4.7" fill="url(#ysph)"/>
<circle cx="1653.1" cy="1746.3" r="4.8" fill="url(#ysph)"/>
<circle cx="1699.7" cy="1778.3" r="5.6" fill="url(#ysph)"/>
<circle cx="1574.8" cy="1655.6" r="10.3" fill="url(#ysph)"/>
<circle cx="1674.5" cy="1759.7" r="5.0" fill="url(#ysph)"/>
<circle cx="1711.3" cy="1784.6" r="7.7" fill="url(#ysph)"/>
<circle cx="1727.1" cy="1764.2" r="6.1" fill="url(#ysph)"/>
<circle cx="1583.8" cy="1664.4" r="9.8" fill="url(#ysph)"/>
<circle cx="1727.1" cy="1795.4" r="11.0" fill="url(#ysph)"/>
<circle cx="1656.7" cy="1713.8" r="9.3" fill="url(#ysph)"/>
<circle cx="1614.5" cy="1716.6" r="7.4" fill="url(#ysph)"/>
<circle cx="1609.8" cy="1699.6" r="6.4" fill="url(#ysph)"/>
<circle cx="1588.2" cy="1675.6" r="6.4" fill="url(#ysph)"/>
<circle cx="1597.5" cy="1671.0" r="7.1" fill="url(#ysph)"/>
<circle cx="1714.0" cy="1758.6" r="5.5" fill="url(#ysph)"/>
<circle cx="1672.3" cy="1736.9" r="5.7" fill="url(#ysph)"/>
<circle cx="1591.3" cy="1687.2" r="7.1" fill="url(#ysph)"/>
<circle cx="1694.8" cy="1738.4" r="4.7" fill="url(#ysph)"/>
<circle cx="1635.0" cy="1699.1" r="7.5" fill="url(#ysph)"/>
<circle cx="1609.3" cy="1708.0" r="6.7" fill="url(#ysph)"/>
<circle cx="1589.2" cy="1678.6" r="7.2" fill="url(#ysph)"/>
<circle cx="1613.5" cy="1685.4" r="5.8" fill="url(#ysph)"/>
<circle cx="1707.4" cy="1765.0" r="7.7" fill="url(#ysph)"/>
<circle cx="1714.3" cy="1764.9" r="6.4" fill="url(#ysph)"/>
<circle cx="1646.6" cy="1707.3" r="10.9" fill="url(#ysph)"/>
<circle cx="1614.3" cy="1704.7" r="7.8" fill="url(#ysph)"/>
<circle cx="1569.2" cy="1651.6" r="6.7" fill="url(#ysph)"/>
<circle cx="1717.4" cy="1758.4" r="4.8" fill="url(#ysph)"/>
<circle cx="1675.0" cy="1724.3" r="7.6" fill="url(#ysph)"/>
<circle cx="1708.9" cy="1753.2" r="8.0" fill="url(#ysph)"/>
<circle cx="1652.7" cy="1733.3" r="7.3" fill="url(#ysph)"/>
<circle cx="1663.0" cy="1726.9" r="7.6" fill="url(#ysph)"/>
<circle cx="1701.1" cy="1750.7" r="5.1" fill="url(#ysph)"/>
<circle cx="1591.6" cy="1695.4" r="5.3" fill="url(#ysph)"/>
<circle cx="1616.4" cy="1698.4" r="5.3" fill="url(#ysph)"/>
<circle cx="1734.7" cy="1802.2" r="4.7" fill="url(#ysph)"/>
<circle cx="1711.4" cy="1747.3" r="8.2" fill="url(#ysph)"/>
<circle cx="1693.4" cy="1752.1" r="9.6" fill="url(#ysph)"/>
<circle cx="1671.8" cy="1752.5" r="6.8" fill="url(#ysph)"/>
<circle cx="1717.6" cy="1788.6" r="5.3" fill="url(#ysph)"/>
<circle cx="1628.4" cy="1700.2" r="6.2" fill="url(#ysph)"/>
<circle cx="1642.1" cy="1718.6" r="4.7" fill="url(#ysph)"/>
<circle cx="1649.7" cy="1719.0" r="6.9" fill="url(#ysph)"/>
<circle cx="1634.2" cy="1730.5" r="6.5" fill="url(#ysph)"/>
<circle cx="1604.4" cy="1704.1" r="5.5" fill="url(#ysph)"/>
<circle cx="1578.0" cy="1675.9" r="4.9" fill="url(#ysph)"/>
<circle cx="1691.9" cy="1768.5" r="7.8" fill="url(#ysph)"/>
<circle cx="1720.7" cy="1763.0" r="7.8" fill="url(#ysph)"/>
<circle cx="1621.9" cy="1699.8" r="8.0" fill="url(#ysph)"/>
<circle cx="1694.6" cy="1765.8" r="4.9" fill="url(#ysph)"/>
<circle cx="1630.4" cy="1727.3" r="8.1" fill="url(#ysph)"/>
<circle cx="1668.4" cy="1731.2" r="9.6" fill="url(#ysph)"/>
<circle cx="1632.9" cy="1693.1" r="4.9" fill="url(#ysph)"/>
<circle cx="1603.9" cy="1691.4" r="6.3" fill="url(#ysph)"/>
<circle cx="1680.9" cy="1745.6" r="5.7" fill="url(#ysph)"/>
<circle cx="1585.5" cy="1672.5" r="5.2" fill="url(#ysph)"/>
<circle cx="1636.4" cy="1717.7" r="5.7" fill="url(#ysph)"/>
<circle cx="1662.3" cy="1733.3" r="8.0" fill="url(#ysph)"/>
<circle cx="1576.2" cy="1665.5" r="5.9" fill="url(#ysph)"/>
<circle cx="1633.1" cy="1727.2" r="8.0" fill="url(#ysph)"/>
<circle cx="1674.5" cy="1746.0" r="6.3" fill="url(#ysph)"/>
<circle cx="1701.0" cy="1738.2" r="5.2" fill="url(#ysph)"/>
<circle cx="1667.4" cy="1749.8" r="7.0" fill="url(#ysph)"/>
<circle cx="1678.3" cy="1762.8" r="5.2" fill="url(#ysph)"/>
<circle cx="1698.9" cy="1745.8" r="5.6" fill="url(#ysph)"/>
<circle cx="1682.8" cy="1729.8" r="7.1" fill="url(#ysph)"/>
<circle cx="1652.9" cy="1723.1" r="6.1" fill="url(#ysph)"/>
<circle cx="1576.4" cy="1660.5" r="4.8" fill="url(#ysph)"/>
<circle cx="1686.3" cy="1751.3" r="7.0" fill="url(#ysph)"/>
<circle cx="1714.8" cy="1776.3" r="9.4" fill="url(#ysph)"/>
<circle cx="1721.2" cy="1782.2" r="4.9" fill="url(#ysph)"/>
<circle cx="1614.4" cy="1712.8" r="6.6" fill="url(#ysph)"/>
<circle cx="1646.3" cy="1713.1" r="5.5" fill="url(#ysph)"/>
<circle cx="1678.3" cy="1759.6" r="4.8" fill="url(#ysph)"/>
<circle cx="1678.8" cy="1723.4" r="7.8" fill="url(#ysph)"/>
<circle cx="1602.7" cy="1688.0" r="6.4" fill="url(#ysph)"/>
<circle cx="1706.3" cy="1746.2" r="7.1" fill="url(#ysph)"/>
<circle cx="1688.9" cy="1745.0" r="5.2" fill="url(#ysph)"/>
<circle cx="1607.3" cy="1711.7" r="8.2" fill="url(#ysph)"/>
<circle cx="1633.5" cy="1714.6" r="5.3" fill="url(#ysph)"/>
<circle cx="1661.1" cy="1756.1" r="5.0" fill="url(#ysph)"/>
<circle cx="1672.0" cy="1763.4" r="7.2" fill="url(#ysph)"/>
<circle cx="1685.8" cy="1801.2" r="7.0" fill="url(#ysph)"/>
<circle cx="1676.6" cy="1792.8" r="10.3" fill="url(#ysph)"/>
<circle cx="1609.1" cy="1751.7" r="7.1" fill="url(#ysph)"/>
<circle cx="1621.6" cy="1752.1" r="7.6" fill="url(#ysph)"/>
<circle cx="1623.2" cy="1747.0" r="6.4" fill="url(#ysph)"/>
<circle cx="1627.9" cy="1736.8" r="8.6" fill="url(#ysph)"/>
<circle cx="1628.8" cy="1766.8" r="4.7" fill="url(#ysph)"/>
<circle cx="1654.4" cy="1768.9" r="6.5" fill="url(#ysph)"/>
<circle cx="1731.8" cy="1836.8" r="5.9" fill="url(#ysph)"/>
<circle cx="1717.8" cy="1821.5" r="5.0" fill="url(#ysph)"/>
<circle cx="1641.0" cy="1763.5" r="5.9" fill="url(#ysph)"/>
<circle cx="1731.8" cy="1817.1" r="5.1" fill="url(#ysph)"/>
<circle cx="1719.8" cy="1801.0" r="4.9" fill="url(#ysph)"/>
<circle cx="1667.7" cy="1784.3" r="5.0" fill="url(#ysph)"/>
<circle cx="1738.6" cy="1823.8" r="10.0" fill="url(#ysph)"/>
<circle cx="1695.8" cy="1792.4" r="6.2" fill="url(#ysph)"/>
<circle cx="1647.3" cy="1764.8" r="7.2" fill="url(#ysph)"/>
<circle cx="1712.2" cy="1808.0" r="5.0" fill="url(#ysph)"/>
<circle cx="1654.8" cy="1755.7" r="4.5" fill="url(#ysph)"/>
<circle cx="1639.8" cy="1740.7" r="5.8" fill="url(#ysph)"/>
<circle cx="1663.2" cy="1784.0" r="7.6" fill="url(#ysph)"/>
<circle cx="1650.5" cy="1778.8" r="6.1" fill="url(#ysph)"/>
<circle cx="1694.5" cy="1815.2" r="4.7" fill="url(#ysph)"/>
<circle cx="1737.4" cy="1816.9" r="11.5" fill="url(#ysph)"/>
<circle cx="1698.6" cy="1796.8" r="11.3" fill="url(#ysph)"/>
<circle cx="1708.4" cy="1802.6" r="5.2" fill="url(#ysph)"/>
<circle cx="1668.8" cy="1779.0" r="7.4" fill="url(#ysph)"/>
<circle cx="1621.5" cy="1733.5" r="10.8" fill="url(#ysph)"/>
<circle cx="1701.4" cy="1801.2" r="4.8" fill="url(#ysph)"/>
<circle cx="1650.0" cy="1750.7" r="6.2" fill="url(#ysph)"/>
<circle cx="1693.3" cy="1784.0" r="5.1" fill="url(#ysph)"/>
<circle cx="1655.2" cy="1785.9" r="10.0" fill="url(#ysph)"/>
<circle cx="1728.4" cy="1803.3" r="7.9" fill="url(#ysph)"/>
<circle cx="1650.7" cy="1770.8" r="6.3" fill="url(#ysph)"/>
<circle cx="1678.9" cy="1773.2" r="7.2" fill="url(#ysph)"/>
<circle cx="1603.8" cy="1740.1" r="7.5" fill="url(#ysph)"/>
<circle cx="1669.7" cy="1764.6" r="8.6" fill="url(#ysph)"/>
<circle cx="1630.4" cy="1753.0" r="6.4" fill="url(#ysph)"/>
<circle cx="1698.0" cy="1808.0" r="5.2" fill="url(#ysph)"/>
<circle cx="1719.9" cy="1816.1" r="5.3" fill="url(#ysph)"/>
<circle cx="1627.6" cy="1734.1" r="5.5" fill="url(#ysph)"/>
<circle cx="1641.2" cy="1778.8" r="5.4" fill="url(#ysph)"/>
<circle cx="1733.1" cy="1829.4" r="7.1" fill="url(#ysph)"/>
<circle cx="1635.0" cy="1759.8" r="4.9" fill="url(#ysph)"/>
<circle cx="1695.0" cy="1802.9" r="6.5" fill="url(#ysph)"/>
<circle cx="1719.3" cy="1808.1" r="5.8" fill="url(#ysph)"/>
<circle cx="1672.7" cy="1782.3" r="6.9" fill="url(#ysph)"/>
<circle cx="1719.4" cy="1831.4" r="4.6" fill="url(#ysph)"/>
<circle cx="1736.8" cy="1834.9" r="8.8" fill="url(#ysph)"/>
<circle cx="1706.8" cy="1809.9" r="4.7" fill="url(#ysph)"/>
<circle cx="1720.5" cy="1833.6" r="5.5" fill="url(#ysph)"/>
<circle cx="1637.7" cy="1739.5" r="5.9" fill="url(#ysph)"/>
<circle cx="1695.5" cy="1796.1" r="11.3" fill="url(#ysph)"/>
<circle cx="1672.5" cy="1798.7" r="6.6" fill="url(#ysph)"/>
<circle cx="1673.5" cy="1777.9" r="4.7" fill="url(#ysph)"/>
<circle cx="1671.8" cy="1771.8" r="7.8" fill="url(#ysph)"/>
<circle cx="1698.5" cy="1781.6" r="4.7" fill="url(#ysph)"/>
<circle cx="1687.8" cy="1776.4" r="9.1" fill="url(#ysph)"/>
<circle cx="1726.8" cy="1811.7" r="8.1" fill="url(#ysph)"/>
<circle cx="1647.0" cy="1756.1" r="7.4" fill="url(#ysph)"/>
<circle cx="1620.8" cy="1758.9" r="4.8" fill="url(#ysph)"/>
<circle cx="1659.0" cy="1765.5" r="5.4" fill="url(#ysph)"/>
<circle cx="1662.0" cy="1769.4" r="8.0" fill="url(#ysph)"/>
<circle cx="1649.7" cy="1782.6" r="5.1" fill="url(#ysph)"/>
<circle cx="1667.8" cy="1757.9" r="6.0" fill="url(#ysph)"/>
<circle cx="1707.0" cy="1818.5" r="5.1" fill="url(#ysph)"/>
<circle cx="1723.9" cy="1827.1" r="5.2" fill="url(#ysph)"/>
<circle cx="1621.6" cy="1727.0" r="6.5" fill="url(#ysph)"/>
<circle cx="1686.6" cy="1784.2" r="5.4" fill="url(#ysph)"/>
<circle cx="1659.1" cy="1779.8" r="6.9" fill="url(#ysph)"/>
<circle cx="1688.3" cy="1807.9" r="4.9" fill="url(#ysph)"/>
<circle cx="1701.2" cy="1815.3" r="4.8" fill="url(#ysph)"/>
<circle cx="1725.9" cy="1837.3" r="5.1" fill="url(#ysph)"/>
<circle cx="1685.6" cy="1795.7" r="4.8" fill="url(#ysph)"/>
<circle cx="1636.7" cy="1744.3" r="6.7" fill="url(#ysph)"/>
<circle cx="1616.4" cy="1744.4" r="7.3" fill="url(#ysph)"/>
<circle cx="1714.0" cy="1792.8" r="8.0" fill="url(#ysph)"/>
<circle cx="1731.1" cy="1822.1" r="8.0" fill="url(#ysph)"/>
<circle cx="1704.6" cy="1822.3" r="7.6" fill="url(#ysph)"/>
<circle cx="1614.4" cy="1753.7" r="5.7" fill="url(#ysph)"/>
<circle cx="1642.0" cy="1749.5" r="7.2" fill="url(#ysph)"/>
<circle cx="1632.9" cy="1770.3" r="5.8" fill="url(#ysph)"/>
<circle cx="1728.6" cy="1815.3" r="8.2" fill="url(#ysph)"/>
<circle cx="1683.2" cy="1779.0" r="6.9" fill="url(#ysph)"/>
<circle cx="1642.3" cy="1773.1" r="4.6" fill="url(#ysph)"/>
<circle cx="1693.4" cy="1779.3" r="9.4" fill="url(#ysph)"/>
<circle cx="1641.7" cy="1747.3" r="4.9" fill="url(#ysph)"/>
<circle cx="1635.1" cy="1750.4" r="6.1" fill="url(#ysph)"/>
<circle cx="1655.5" cy="1765.8" r="6.3" fill="url(#ysph)"/>
<circle cx="1627.2" cy="1745.7" r="7.7" fill="url(#ysph)"/>
<circle cx="1679.4" cy="1788.1" r="6.5" fill="url(#ysph)"/>
<circle cx="1608.9" cy="1744.7" r="9.3" fill="url(#ysph)"/>
<circle cx="1738.0" cy="1841.8" r="5.7" fill="url(#ysph)"/>
<circle cx="1642.1" cy="1756.7" r="7.2" fill="url(#ysph)"/>
<circle cx="1731.0" cy="1810.3" r="7.1" fill="url(#ysph)"/>
<circle cx="1679.6" cy="1796.4" r="4.8" fill="url(#ysph)"/>
<circle cx="1728.6" cy="1824.1" r="6.9" fill="url(#ysph)"/>
<circle cx="1679.2" cy="1784.9" r="8.1" fill="url(#ysph)"/>
<circle cx="1705.9" cy="1798.9" r="7.2" fill="url(#ysph)"/>
<circle cx="1713.9" cy="1815.1" r="10.1" fill="url(#ysph)"/>
<circle cx="1622.4" cy="1736.7" r="5.8" fill="url(#ysph)"/>
<circle cx="1667.5" cy="1788.7" r="6.1" fill="url(#ysph)"/>
<circle cx="1702.0" cy="1788.1" r="7.8" fill="url(#ysph)"/>
<circle cx="1682.4" cy="1803.8" r="5.6" fill="url(#ysph)"/>
<circle cx="1607.6" cy="1736.7" r="5.8" fill="url(#ysph)"/>
<circle cx="1717.6" cy="1798.9" r="7.2" fill="url(#ysph)"/>
<circle cx="1666.1" cy="1768.5" r="9.1" fill="url(#ysph)"/>
<circle cx="1715.0" cy="1805.2" r="8.9" fill="url(#ysph)"/>
<circle cx="1668.9" cy="1797.2" r="5.8" fill="url(#ysph)"/>
<circle cx="1708.2" cy="1791.4" r="8.0" fill="url(#ysph)"/>
<circle cx="1614.5" cy="1737.5" r="5.1" fill="url(#ysph)"/>
<circle cx="1695.6" cy="1811.0" r="6.9" fill="url(#ysph)"/>
<circle cx="1629.0" cy="1759.1" r="10.5" fill="url(#ysph)"/>
<circle cx="1715.6" cy="1827.9" r="9.0" fill="url(#ysph)"/>
<circle cx="1656.6" cy="1750.2" r="4.7" fill="url(#ysph)"/>
<circle cx="1603.4" cy="1743.6" r="5.1" fill="url(#ysph)"/>
<circle cx="1713.0" cy="1824.1" r="9.3" fill="url(#ysph)"/>
<circle cx="1662.1" cy="1789.9" r="6.4" fill="url(#ysph)"/>
<circle cx="1685.2" cy="1772.7" r="8.2" fill="url(#ysph)"/>
<circle cx="1711.4" cy="1799.3" r="6.0" fill="url(#ysph)"/>
<circle cx="1646.0" cy="1745.1" r="7.4" fill="url(#ysph)"/>
<circle cx="1636.1" cy="1765.8" r="4.9" fill="url(#ysph)"/>
<circle cx="1655.1" cy="1776.3" r="10.6" fill="url(#ysph)"/>
<circle cx="1686.1" cy="1789.6" r="5.3" fill="url(#ysph)"/>
<circle cx="1711.4" cy="1857.5" r="6.6" fill="url(#ysph)"/>
<circle cx="1669.2" cy="1831.1" r="4.9" fill="url(#ysph)"/>
<circle cx="1670.1" cy="1817.8" r="7.6" fill="url(#ysph)"/>
<circle cx="1702.2" cy="1822.6" r="6.2" fill="url(#ysph)"/>
<circle cx="1699.0" cy="1840.1" r="7.8" fill="url(#ysph)"/>
<circle cx="1712.4" cy="1844.4" r="6.6" fill="url(#ysph)"/>
<circle cx="1720.8" cy="1847.7" r="9.9" fill="url(#ysph)"/>
<circle cx="1732.1" cy="1847.6" r="5.4" fill="url(#ysph)"/>
<circle cx="1714.6" cy="1859.6" r="8.2" fill="url(#ysph)"/>
<circle cx="1659.9" cy="1794.7" r="4.6" fill="url(#ysph)"/>
<circle cx="1685.6" cy="1834.8" r="5.7" fill="url(#ysph)"/>
<circle cx="1693.2" cy="1851.2" r="6.9" fill="url(#ysph)"/>
<circle cx="1694.2" cy="1827.3" r="5.7" fill="url(#ysph)"/>
<circle cx="1669.6" cy="1821.6" r="6.8" fill="url(#ysph)"/>
<circle cx="1647.1" cy="1790.7" r="6.5" fill="url(#ysph)"/>
<circle cx="1724.0" cy="1853.1" r="6.2" fill="url(#ysph)"/>
<circle cx="1685.5" cy="1829.8" r="10.5" fill="url(#ysph)"/>
<circle cx="1708.9" cy="1860.0" r="6.2" fill="url(#ysph)"/>
<circle cx="1648.5" cy="1814.2" r="5.1" fill="url(#ysph)"/>
<circle cx="1725.1" cy="1862.1" r="6.2" fill="url(#ysph)"/>
<circle cx="1649.4" cy="1828.4" r="5.1" fill="url(#ysph)"/>
<circle cx="1666.7" cy="1801.9" r="8.1" fill="url(#ysph)"/>
<circle cx="1674.0" cy="1841.8" r="7.3" fill="url(#ysph)"/>
<circle cx="1679.7" cy="1825.3" r="7.7" fill="url(#ysph)"/>
<circle cx="1642.5" cy="1815.7" r="7.7" fill="url(#ysph)"/>
<circle cx="1699.9" cy="1861.9" r="4.7" fill="url(#ysph)"/>
<circle cx="1719.5" cy="1873.3" r="9.7" fill="url(#ysph)"/>
<circle cx="1654.3" cy="1829.7" r="6.2" fill="url(#ysph)"/>
<circle cx="1687.7" cy="1844.7" r="5.8" fill="url(#ysph)"/>
<circle cx="1659.0" cy="1807.9" r="10.1" fill="url(#ysph)"/>
<circle cx="1724.3" cy="1868.3" r="4.9" fill="url(#ysph)"/>
<circle cx="1676.5" cy="1817.1" r="6.5" fill="url(#ysph)"/>
<circle cx="1693.9" cy="1835.9" r="5.9" fill="url(#ysph)"/>
<circle cx="1658.9" cy="1814.6" r="6.7" fill="url(#ysph)"/>
<circle cx="1722.2" cy="1868.7" r="5.5" fill="url(#ysph)"/>
<circle cx="1655.5" cy="1792.7" r="6.8" fill="url(#ysph)"/>
<circle cx="1640.9" cy="1821.6" r="7.6" fill="url(#ysph)"/>
<circle cx="1668.8" cy="1808.4" r="8.1" fill="url(#ysph)"/>
<circle cx="1686.3" cy="1824.2" r="5.0" fill="url(#ysph)"/>
<circle cx="1682.3" cy="1847.2" r="4.9" fill="url(#ysph)"/>
<circle cx="1639.9" cy="1792.7" r="4.6" fill="url(#ysph)"/>
<circle cx="1721.4" cy="1841.4" r="11.5" fill="url(#ysph)"/>
<circle cx="1712.6" cy="1838.4" r="5.2" fill="url(#ysph)"/>
<circle cx="1639.7" cy="1785.4" r="5.8" fill="url(#ysph)"/>
<circle cx="1654.2" cy="1823.3" r="5.1" fill="url(#ysph)"/>
<circle cx="1689.2" cy="1814.1" r="5.1" fill="url(#ysph)"/>
<circle cx="1708.5" cy="1831.1" r="9.6" fill="url(#ysph)"/>
<circle cx="1692.1" cy="1820.7" r="7.8" fill="url(#ysph)"/>
<circle cx="1661.8" cy="1803.4" r="10.1" fill="url(#ysph)"/>
<circle cx="1720.8" cy="1863.4" r="7.5" fill="url(#ysph)"/>
<circle cx="1652.7" cy="1801.3" r="4.7" fill="url(#ysph)"/>
<circle cx="1702.0" cy="1854.6" r="5.2" fill="url(#ysph)"/>
<circle cx="1694.8" cy="1854.1" r="6.4" fill="url(#ysph)"/>
<circle cx="1711.2" cy="1869.5" r="7.4" fill="url(#ysph)"/>
<circle cx="1706.8" cy="1847.5" r="7.7" fill="url(#ysph)"/>
<circle cx="1655.4" cy="1795.1" r="6.5" fill="url(#ysph)"/>
<circle cx="1681.2" cy="1810.0" r="9.3" fill="url(#ysph)"/>
<circle cx="1707.5" cy="1836.4" r="5.6" fill="url(#ysph)"/>
<circle cx="1644.1" cy="1808.5" r="8.1" fill="url(#ysph)"/>
<circle cx="1675.9" cy="1838.3" r="8.0" fill="url(#ysph)"/>
<circle cx="1649.9" cy="1796.8" r="7.0" fill="url(#ysph)"/>
<circle cx="1732.8" cy="1844.6" r="5.7" fill="url(#ysph)"/>
<circle cx="1649.4" cy="1801.9" r="7.7" fill="url(#ysph)"/>
<circle cx="1674.6" cy="1822.8" r="6.5" fill="url(#ysph)"/>
<circle cx="1669.8" cy="1836.8" r="4.7" fill="url(#ysph)"/>
<circle cx="1698.7" cy="1834.3" r="4.8" fill="url(#ysph)"/>
<circle cx="1728.3" cy="1849.3" r="6.7" fill="url(#ysph)"/>
<circle cx="1641.6" cy="1796.1" r="6.4" fill="url(#ysph)"/>
<circle cx="1721.0" cy="1856.5" r="11.2" fill="url(#ysph)"/>
<circle cx="1709.0" cy="1844.2" r="10.4" fill="url(#ysph)"/>
<circle cx="1658.9" cy="1822.2" r="11.0" fill="url(#ysph)"/>
<circle cx="1678.6" cy="1844.3" r="6.2" fill="url(#ysph)"/>
<circle cx="1671.9" cy="1810.4" r="5.2" fill="url(#ysph)"/>
<circle cx="1726.8" cy="1844.7" r="6.8" fill="url(#ysph)"/>
<circle cx="1738.3" cy="1854.8" r="5.0" fill="url(#ysph)"/>
<circle cx="1674.9" cy="1804.4" r="10.7" fill="url(#ysph)"/>
<circle cx="1640.2" cy="1804.7" r="4.7" fill="url(#ysph)"/>
<circle cx="1653.6" cy="1811.5" r="7.0" fill="url(#ysph)"/>
<circle cx="1654.5" cy="1816.4" r="9.1" fill="url(#ysph)"/>
<circle cx="1674.3" cy="1829.1" r="8.1" fill="url(#ysph)"/>
<circle cx="1682.3" cy="1818.3" r="8.1" fill="url(#ysph)"/>
<circle cx="1707.4" cy="1853.8" r="9.4" fill="url(#ysph)"/>
<circle cx="1713.1" cy="1847.0" r="5.6" fill="url(#ysph)"/>
<circle cx="1646.9" cy="1822.9" r="6.9" fill="url(#ysph)"/>
<circle cx="1661.4" cy="1833.9" r="6.7" fill="url(#ysph)"/>
<circle cx="1682.7" cy="1835.5" r="5.9" fill="url(#ysph)"/>
<circle cx="1739.8" cy="1847.5" r="5.9" fill="url(#ysph)"/>
<circle cx="1634.0" cy="1816.0" r="7.6" fill="url(#ysph)"/>
<circle cx="1686.6" cy="1850.0" r="5.3" fill="url(#ysph)"/>
<circle cx="1660.7" cy="1828.5" r="8.0" fill="url(#ysph)"/>
<circle cx="1693.5" cy="1843.0" r="5.0" fill="url(#ysph)"/>
<circle cx="1698.8" cy="1851.1" r="9.8" fill="url(#ysph)"/>
<circle cx="1646.7" cy="1807.9" r="7.4" fill="url(#ysph)"/>
<circle cx="1702.4" cy="1828.5" r="5.8" fill="url(#ysph)"/>
<circle cx="1679.2" cy="1828.4" r="6.8" fill="url(#ysph)"/>
<circle cx="1731.1" cy="1853.9" r="7.4" fill="url(#ysph)"/>
<circle cx="1709.3" cy="1869.6" r="6.0" fill="url(#ysph)"/>
<circle cx="1671.9" cy="1856.3" r="6.3" fill="url(#ysph)"/>
<circle cx="1622.4" cy="1844.0" r="8.0" fill="url(#ysph)"/>
<circle cx="1620.4" cy="1850.5" r="7.3" fill="url(#ysph)"/>
<circle cx="1676.3" cy="1877.1" r="5.2" fill="url(#ysph)"/>
<circle cx="1704.7" cy="1893.5" r="5.3" fill="url(#ysph)"/>
<circle cx="1705.1" cy="1889.1" r="6.9" fill="url(#ysph)"/>
<circle cx="1635.9" cy="1822.7" r="6.6" fill="url(#ysph)"/>
<circle cx="1653.1" cy="1849.9" r="5.5" fill="url(#ysph)"/>
<circle cx="1669.5" cy="1847.0" r="4.9" fill="url(#ysph)"/>
<circle cx="1615.3" cy="1846.7" r="6.7" fill="url(#ysph)"/>
<circle cx="1676.5" cy="1862.8" r="5.7" fill="url(#ysph)"/>
<circle cx="1635.8" cy="1828.8" r="7.7" fill="url(#ysph)"/>
<circle cx="1713.6" cy="1880.9" r="7.4" fill="url(#ysph)"/>
<circle cx="1695.5" cy="1893.9" r="6.5" fill="url(#ysph)"/>
<circle cx="1708.9" cy="1905.9" r="7.8" fill="url(#ysph)"/>
<circle cx="1610.6" cy="1829.8" r="5.1" fill="url(#ysph)"/>
<circle cx="1705.5" cy="1899.6" r="4.9" fill="url(#ysph)"/>
<circle cx="1624.6" cy="1835.8" r="6.1" fill="url(#ysph)"/>
<circle cx="1630.2" cy="1831.3" r="7.6" fill="url(#ysph)"/>
<circle cx="1674.0" cy="1850.6" r="6.1" fill="url(#ysph)"/>
<circle cx="1622.7" cy="1829.0" r="5.1" fill="url(#ysph)"/>
<circle cx="1615.8" cy="1831.7" r="7.8" fill="url(#ysph)"/>
<circle cx="1665.6" cy="1867.3" r="6.9" fill="url(#ysph)"/>
<circle cx="1643.2" cy="1841.5" r="10.7" fill="url(#ysph)"/>
<circle cx="1702.4" cy="1889.7" r="7.6" fill="url(#ysph)"/>
<circle cx="1668.2" cy="1841.6" r="6.7" fill="url(#ysph)"/>
<circle cx="1687.9" cy="1861.7" r="6.9" fill="url(#ysph)"/>
<circle cx="1693.1" cy="1866.7" r="4.9" fill="url(#ysph)"/>
<circle cx="1627.8" cy="1853.2" r="7.7" fill="url(#ysph)"/>
<circle cx="1698.2" cy="1865.9" r="7.8" fill="url(#ysph)"/>
<circle cx="1669.4" cy="1875.9" r="4.9" fill="url(#ysph)"/>
<circle cx="1641.6" cy="1829.2" r="7.6" fill="url(#ysph)"/>
<circle cx="1680.8" cy="1874.9" r="6.8" fill="url(#ysph)"/>
<circle cx="1663.2" cy="1857.2" r="8.0" fill="url(#ysph)"/>
<circle cx="1640.5" cy="1846.6" r="10.9" fill="url(#ysph)"/>
<circle cx="1700.2" cy="1900.2" r="8.1" fill="url(#ysph)"/>
<circle cx="1717.9" cy="1879.8" r="5.6" fill="url(#ysph)"/>
<circle cx="1686.4" cy="1868.2" r="7.5" fill="url(#ysph)"/>
<circle cx="1699.7" cy="1881.8" r="4.7" fill="url(#ysph)"/>
<circle cx="1608.8" cy="1836.2" r="7.8" fill="url(#ysph)"/>
<circle cx="1672.8" cy="1869.4" r="5.3" fill="url(#ysph)"/>
<circle cx="1685.6" cy="1873.9" r="7.6" fill="url(#ysph)"/>
<circle cx="1688.2" cy="1881.1" r="11.3" fill="url(#ysph)"/>
<circle cx="1702.2" cy="1894.9" r="5.3" fill="url(#ysph)"/>
<circle cx="1706.4" cy="1881.5" r="7.7" fill="url(#ysph)"/>
<circle cx="1691.6" cy="1862.9" r="7.3" fill="url(#ysph)"/>
<circle cx="1643.0" cy="1859.8" r="4.9" fill="url(#ysph)"/>
<circle cx="1656.8" cy="1856.8" r="6.2" fill="url(#ysph)"/>
<circle cx="1649.4" cy="1841.7" r="4.6" fill="url(#ysph)"/>
<circle cx="1712.5" cy="1899.1" r="5.8" fill="url(#ysph)"/>
<circle cx="1616.2" cy="1837.8" r="5.9" fill="url(#ysph)"/>
<circle cx="1649.6" cy="1870.0" r="6.5" fill="url(#ysph)"/>
<circle cx="1681.8" cy="1887.5" r="6.0" fill="url(#ysph)"/>
<circle cx="1634.4" cy="1854.0" r="7.5" fill="url(#ysph)"/>
<circle cx="1711.9" cy="1896.4" r="7.0" fill="url(#ysph)"/>
<circle cx="1657.2" cy="1837.5" r="6.5" fill="url(#ysph)"/>
<circle cx="1686.9" cy="1856.2" r="5.5" fill="url(#ysph)"/>
<circle cx="1628.1" cy="1847.6" r="7.9" fill="url(#ysph)"/>
<circle cx="1647.2" cy="1854.9" r="9.1" fill="url(#ysph)"/>
<circle cx="1656.0" cy="1863.5" r="8.0" fill="url(#ysph)"/>
<circle cx="1649.1" cy="1848.1" r="8.2" fill="url(#ysph)"/>
<circle cx="1706.5" cy="1877.2" r="4.9" fill="url(#ysph)"/>
<circle cx="1649.3" cy="1861.4" r="7.8" fill="url(#ysph)"/>
<circle cx="1680.5" cy="1866.5" r="4.5" fill="url(#ysph)"/>
<circle cx="1633.8" cy="1847.8" r="6.3" fill="url(#ysph)"/>
<circle cx="1637.8" cy="1835.1" r="5.2" fill="url(#ysph)"/>
<circle cx="1653.5" cy="1872.6" r="7.7" fill="url(#ysph)"/>
<circle cx="1628.5" cy="1836.5" r="6.9" fill="url(#ysph)"/>
<circle cx="1689.2" cy="1888.5" r="5.0" fill="url(#ysph)"/>
<circle cx="1666.0" cy="1854.3" r="4.5" fill="url(#ysph)"/>
<circle cx="1629.4" cy="1843.9" r="5.9" fill="url(#ysph)"/>
<circle cx="1694.2" cy="1872.8" r="6.4" fill="url(#ysph)"/>
<circle cx="1613.8" cy="1840.7" r="8.7" fill="url(#ysph)"/>
<circle cx="1712.5" cy="1889.2" r="4.7" fill="url(#ysph)"/>
<circle cx="1660.2" cy="1859.8" r="7.4" fill="url(#ysph)"/>
<circle cx="1659.3" cy="1847.7" r="10.4" fill="url(#ysph)"/>
<circle cx="1668.5" cy="1880.4" r="8.2" fill="url(#ysph)"/>
<circle cx="1661.6" cy="1875.5" r="7.4" fill="url(#ysph)"/>
<circle cx="1678.4" cy="1879.8" r="7.1" fill="url(#ysph)"/>
<circle cx="1670.0" cy="1861.5" r="6.9" fill="url(#ysph)"/>
<circle cx="1652.9" cy="1867.3" r="9.9" fill="url(#ysph)"/>
<circle cx="1633.1" cy="1839.9" r="6.3" fill="url(#ysph)"/>
<circle cx="1639.9" cy="1856.5" r="4.9" fill="url(#ysph)"/>
<circle cx="1691.7" cy="1882.2" r="5.9" fill="url(#ysph)"/>
<circle cx="1701.2" cy="1873.2" r="6.3" fill="url(#ysph)"/>
<circle cx="1711.2" cy="1872.6" r="5.9" fill="url(#ysph)"/>
<circle cx="1659.3" cy="1844.4" r="6.6" fill="url(#ysph)"/>
<circle cx="1610.6" cy="1840.4" r="6.7" fill="url(#ysph)"/>
<circle cx="1646.7" cy="1835.0" r="5.5" fill="url(#ysph)"/>
<circle cx="1642.0" cy="1837.5" r="5.1" fill="url(#ysph)"/>
<circle cx="1681.6" cy="1854.6" r="6.8" fill="url(#ysph)"/>
<circle cx="1695.7" cy="1888.2" r="6.7" fill="url(#ysph)"/>
<circle cx="1653.1" cy="1841.2" r="5.1" fill="url(#ysph)"/>
<circle cx="1687.2" cy="1892.7" r="7.6" fill="url(#ysph)"/>
<circle cx="1660.6" cy="1866.9" r="10.3" fill="url(#ysph)"/>
<circle cx="1628.6" cy="1823.1" r="7.0" fill="url(#ysph)"/>
<circle cx="1673.5" cy="1883.3" r="7.9" fill="url(#ysph)"/>
<circle cx="1682.0" cy="1863.5" r="10.9" fill="url(#ysph)"/>
<circle cx="1621.5" cy="1870.0" r="6.0" fill="url(#ysph)"/>
<circle cx="1665.4" cy="1888.4" r="7.5" fill="url(#ysph)"/>
<circle cx="1634.8" cy="1886.2" r="5.8" fill="url(#ysph)"/>
<circle cx="1701.7" cy="1913.2" r="10.0" fill="url(#ysph)"/>
<circle cx="1629.0" cy="1869.7" r="6.9" fill="url(#ysph)"/>
<circle cx="1614.9" cy="1881.2" r="6.5" fill="url(#ysph)"/>
<circle cx="1679.8" cy="1922.9" r="4.8" fill="url(#ysph)"/>
<circle cx="1611.0" cy="1877.0" r="8.1" fill="url(#ysph)"/>
<circle cx="1705.0" cy="1928.1" r="6.7" fill="url(#ysph)"/>
<circle cx="1633.9" cy="1864.0" r="8.1" fill="url(#ysph)"/>
<circle cx="1624.8" cy="1889.0" r="8.1" fill="url(#ysph)"/>
<circle cx="1674.8" cy="1905.3" r="6.9" fill="url(#ysph)"/>
<circle cx="1702.1" cy="1919.2" r="9.8" fill="url(#ysph)"/>
<circle cx="1692.0" cy="1926.5" r="6.6" fill="url(#ysph)"/>
<circle cx="1641.1" cy="1875.1" r="7.6" fill="url(#ysph)"/>
<circle cx="1647.6" cy="1876.5" r="7.0" fill="url(#ysph)"/>
<circle cx="1660.0" cy="1887.2" r="9.9" fill="url(#ysph)"/>
<circle cx="1626.8" cy="1889.5" r="5.7" fill="url(#ysph)"/>
<circle cx="1624.0" cy="1876.1" r="6.9" fill="url(#ysph)"/>
<circle cx="1644.1" cy="1888.2" r="4.8" fill="url(#ysph)"/>
<circle cx="1649.7" cy="1886.1" r="5.8" fill="url(#ysph)"/>
<circle cx="1655.3" cy="1909.2" r="5.7" fill="url(#ysph)"/>
<circle cx="1637.2" cy="1894.6" r="5.6" fill="url(#ysph)"/>
<circle cx="1689.3" cy="1931.1" r="5.4" fill="url(#ysph)"/>
<circle cx="1636.9" cy="1874.0" r="6.4" fill="url(#ysph)"/>
<circle cx="1642.3" cy="1868.2" r="6.7" fill="url(#ysph)"/>
<circle cx="1624.7" cy="1883.4" r="6.1" fill="url(#ysph)"/>
<circle cx="1657.0" cy="1901.8" r="8.0" fill="url(#ysph)"/>
<circle cx="1656.2" cy="1885.7" r="7.5" fill="url(#ysph)"/>
<circle cx="1682.3" cy="1909.3" r="6.5" fill="url(#ysph)"/>
<circle cx="1674.1" cy="1912.8" r="9.3" fill="url(#ysph)"/>
<circle cx="1642.7" cy="1895.9" r="7.1" fill="url(#ysph)"/>
<circle cx="1685.9" cy="1920.7" r="7.1" fill="url(#ysph)"/>
<circle cx="1607.8" cy="1879.3" r="6.0" fill="url(#ysph)"/>
<circle cx="1641.1" cy="1899.8" r="6.9" fill="url(#ysph)"/>
<circle cx="1663.6" cy="1881.3" r="7.5" fill="url(#ysph)"/>
<circle cx="1633.6" cy="1869.2" r="6.9" fill="url(#ysph)"/>
<circle cx="1695.3" cy="1940.0" r="6.1" fill="url(#ysph)"/>
<circle cx="1685.1" cy="1900.1" r="8.0" fill="url(#ysph)"/>
<circle cx="1672.9" cy="1886.9" r="7.0" fill="url(#ysph)"/>
<circle cx="1669.2" cy="1916.3" r="7.0" fill="url(#ysph)"/>
<circle cx="1694.8" cy="1932.5" r="8.1" fill="url(#ysph)"/>
<circle cx="1649.2" cy="1881.9" r="6.9" fill="url(#ysph)"/>
<circle cx="1604.5" cy="1863.3" r="6.0" fill="url(#ysph)"/>
<circle cx="1630.6" cy="1883.8" r="5.0" fill="url(#ysph)"/>
<circle cx="1614.1" cy="1876.3" r="5.7" fill="url(#ysph)"/>
<circle cx="1603.1" cy="1880.6" r="10.5" fill="url(#ysph)"/>
<circle cx="1692.2" cy="1907.6" r="4.8" fill="url(#ysph)"/>
<circle cx="1613.8" cy="1855.7" r="5.1" fill="url(#ysph)"/>
<circle cx="1614.0" cy="1868.7" r="7.4" fill="url(#ysph)"/>
<circle cx="1662.7" cy="1912.9" r="6.2" fill="url(#ysph)"/>
<circle cx="1617.6" cy="1862.4" r="6.7" fill="url(#ysph)"/>
<circle cx="1627.9" cy="1873.3" r="7.8" fill="url(#ysph)"/>
<circle cx="1608.3" cy="1870.3" r="6.5" fill="url(#ysph)"/>
<circle cx="1698.7" cy="1927.8" r="4.8" fill="url(#ysph)"/>
<circle cx="1680.9" cy="1916.1" r="6.5" fill="url(#ysph)"/>
<circle cx="1685.4" cy="1926.8" r="7.7" fill="url(#ysph)"/>
<circle cx="1675.0" cy="1900.1" r="5.0" fill="url(#ysph)"/>
<circle cx="1661.3" cy="1896.3" r="8.1" fill="url(#ysph)"/>
<circle cx="1693.7" cy="1914.7" r="8.1" fill="url(#ysph)"/>
<circle cx="1681.1" cy="1900.4" r="4.8" fill="url(#ysph)"/>
<circle cx="1685.5" cy="1911.4" r="7.9" fill="url(#ysph)"/>
<circle cx="1660.3" cy="1902.2" r="5.3" fill="url(#ysph)"/>
<circle cx="1692.1" cy="1922.2" r="6.1" fill="url(#ysph)"/>
<circle cx="1617.1" cy="1886.0" r="11.3" fill="url(#ysph)"/>
<circle cx="1666.5" cy="1918.9" r="6.0" fill="url(#ysph)"/>
<circle cx="1609.5" cy="1848.3" r="6.7" fill="url(#ysph)"/>
<circle cx="1655.9" cy="1915.2" r="6.1" fill="url(#ysph)"/>
<circle cx="1675.6" cy="1921.1" r="4.8" fill="url(#ysph)"/>
<circle cx="1669.0" cy="1909.7" r="10.2" fill="url(#ysph)"/>
<circle cx="1626.9" cy="1863.3" r="4.6" fill="url(#ysph)"/>
<circle cx="1608.4" cy="1856.2" r="7.3" fill="url(#ysph)"/>
<circle cx="1642.8" cy="1906.0" r="6.8" fill="url(#ysph)"/>
<circle cx="1649.8" cy="1902.8" r="7.8" fill="url(#ysph)"/>
<circle cx="1647.8" cy="1905.9" r="5.0" fill="url(#ysph)"/>
<circle cx="1669.3" cy="1892.1" r="7.8" fill="url(#ysph)"/>
<circle cx="1679.9" cy="1928.8" r="5.8" fill="url(#ysph)"/>
<circle cx="1692.9" cy="1903.3" r="4.8" fill="url(#ysph)"/>
<circle cx="1636.0" cy="1901.6" r="7.4" fill="url(#ysph)"/>
<circle cx="1605.0" cy="1867.6" r="5.7" fill="url(#ysph)"/>
<circle cx="1669.0" cy="1900.9" r="5.2" fill="url(#ysph)"/>
<circle cx="1681.7" cy="1893.9" r="10.0" fill="url(#ysph)"/>
<circle cx="1672.7" cy="1896.0" r="9.3" fill="url(#ysph)"/>
<circle cx="1686.5" cy="1905.6" r="7.3" fill="url(#ysph)"/>
<circle cx="1608.2" cy="1859.6" r="5.5" fill="url(#ysph)"/>
<circle cx="1621.6" cy="1855.4" r="6.1" fill="url(#ysph)"/>
<circle cx="1620.0" cy="1860.6" r="6.2" fill="url(#ysph)"/>
<circle cx="1702.2" cy="1908.1" r="6.6" fill="url(#ysph)"/>
<circle cx="1650.5" cy="1892.0" r="7.0" fill="url(#ysph)"/>
<circle cx="1653.8" cy="1881.7" r="4.9" fill="url(#ysph)"/>
<circle cx="1628.2" cy="1892.6" r="7.0" fill="url(#ysph)"/>
<circle cx="1603.1" cy="1847.0" r="5.3" fill="url(#ysph)"/>
<circle cx="1654.0" cy="1892.6" r="7.0" fill="url(#ysph)"/>
<circle cx="1662.0" cy="1905.9" r="5.7" fill="url(#ysph)"/>
<circle cx="1637.6" cy="1882.0" r="11.0" fill="url(#ysph)"/>
<circle cx="1643.4" cy="1879.2" r="9.8" fill="url(#ysph)"/>
<circle cx="1588.3" cy="1894.1" r="11.2" fill="url(#ysph)"/>
<circle cx="1656.7" cy="1951.1" r="7.3" fill="url(#ysph)"/>
<circle cx="1590.7" cy="1899.8" r="4.8" fill="url(#ysph)"/>
<circle cx="1685.3" cy="1939.2" r="9.7" fill="url(#ysph)"/>
<circle cx="1650.8" cy="1954.5" r="5.8" fill="url(#ysph)"/>
<circle cx="1623.9" cy="1913.5" r="11.1" fill="url(#ysph)"/>
<circle cx="1644.2" cy="1924.6" r="10.9" fill="url(#ysph)"/>
<circle cx="1686.4" cy="1944.2" r="6.1" fill="url(#ysph)"/>
<circle cx="1636.4" cy="1928.8" r="11.0" fill="url(#ysph)"/>
<circle cx="1618.3" cy="1898.6" r="7.7" fill="url(#ysph)"/>
<circle cx="1587.7" cy="1905.8" r="6.3" fill="url(#ysph)"/>
<circle cx="1668.7" cy="1960.3" r="9.6" fill="url(#ysph)"/>
<circle cx="1650.5" cy="1921.0" r="5.7" fill="url(#ysph)"/>
<circle cx="1667.2" cy="1941.5" r="6.8" fill="url(#ysph)"/>
<circle cx="1647.8" cy="1947.1" r="8.0" fill="url(#ysph)"/>
<circle cx="1598.0" cy="1894.8" r="8.8" fill="url(#ysph)"/>
<circle cx="1581.0" cy="1899.1" r="6.9" fill="url(#ysph)"/>
<circle cx="1660.7" cy="1946.8" r="6.1" fill="url(#ysph)"/>
<circle cx="1679.1" cy="1938.6" r="4.6" fill="url(#ysph)"/>
<circle cx="1585.4" cy="1907.8" r="6.2" fill="url(#ysph)"/>
<circle cx="1600.9" cy="1892.0" r="7.6" fill="url(#ysph)"/>
<circle cx="1595.3" cy="1881.1" r="6.7" fill="url(#ysph)"/>
<circle cx="1584.2" cy="1893.2" r="6.7" fill="url(#ysph)"/>
<circle cx="1649.5" cy="1912.7" r="4.5" fill="url(#ysph)"/>
<circle cx="1682.5" cy="1934.8" r="7.8" fill="url(#ysph)"/>
<circle cx="1592.2" cy="1911.7" r="10.4" fill="url(#ysph)"/>
<circle cx="1669.9" cy="1944.8" r="9.4" fill="url(#ysph)"/>
<circle cx="1622.6" cy="1902.2" r="5.4" fill="url(#ysph)"/>
<circle cx="1642.3" cy="1913.0" r="6.0" fill="url(#ysph)"/>
<circle cx="1689.1" cy="1953.2" r="7.5" fill="url(#ysph)"/>
<circle cx="1665.3" cy="1955.3" r="6.1" fill="url(#ysph)"/>
<circle cx="1628.9" cy="1940.0" r="6.8" fill="url(#ysph)"/>
<circle cx="1660.5" cy="1953.0" r="5.0" fill="url(#ysph)"/>
<circle cx="1634.7" cy="1932.8" r="5.6" fill="url(#ysph)"/>
<circle cx="1576.6" cy="1903.3" r="4.7" fill="url(#ysph)"/>
<circle cx="1609.4" cy="1903.2" r="7.0" fill="url(#ysph)"/>
<circle cx="1604.3" cy="1920.2" r="7.1" fill="url(#ysph)"/>
<circle cx="1607.4" cy="1895.9" r="7.3" fill="url(#ysph)"/>
<circle cx="1641.3" cy="1922.5" r="7.9" fill="url(#ysph)"/>
<circle cx="1673.3" cy="1957.9" r="5.5" fill="url(#ysph)"/>
<circle cx="1620.1" cy="1921.1" r="7.6" fill="url(#ysph)"/>
<circle cx="1602.1" cy="1908.8" r="7.2" fill="url(#ysph)"/>
<circle cx="1596.9" cy="1915.0" r="7.3" fill="url(#ysph)"/>
<circle cx="1682.5" cy="1957.6" r="5.0" fill="url(#ysph)"/>
<circle cx="1579.0" cy="1906.6" r="9.8" fill="url(#ysph)"/>
<circle cx="1624.3" cy="1906.3" r="7.8" fill="url(#ysph)"/>
<circle cx="1617.1" cy="1911.8" r="5.1" fill="url(#ysph)"/>
<circle cx="1661.3" cy="1925.5" r="7.6" fill="url(#ysph)"/>
<circle cx="1671.9" cy="1929.3" r="5.6" fill="url(#ysph)"/>
<circle cx="1656.4" cy="1941.9" r="6.5" fill="url(#ysph)"/>
<circle cx="1663.1" cy="1937.6" r="4.7" fill="url(#ysph)"/>
<circle cx="1647.0" cy="1928.3" r="11.0" fill="url(#ysph)"/>
<circle cx="1609.6" cy="1889.0" r="7.0" fill="url(#ysph)"/>
<circle cx="1675.9" cy="1938.0" r="9.6" fill="url(#ysph)"/>
<circle cx="1595.8" cy="1885.8" r="7.9" fill="url(#ysph)"/>
<circle cx="1628.4" cy="1935.8" r="4.6" fill="url(#ysph)"/>
<circle cx="1613.8" cy="1925.2" r="7.7" fill="url(#ysph)"/>
<circle cx="1595.2" cy="1900.9" r="7.3" fill="url(#ysph)"/>
<circle cx="1601.9" cy="1911.9" r="7.6" fill="url(#ysph)"/>
<circle cx="1648.1" cy="1940.6" r="7.8" fill="url(#ysph)"/>
<circle cx="1667.2" cy="1932.1" r="5.6" fill="url(#ysph)"/>
<circle cx="1590.2" cy="1885.8" r="4.7" fill="url(#ysph)"/>
<circle cx="1633.1" cy="1920.7" r="5.5" fill="url(#ysph)"/>
<circle cx="1655.7" cy="1924.6" r="5.2" fill="url(#ysph)"/>
<circle cx="1621.8" cy="1932.5" r="6.4" fill="url(#ysph)"/>
<circle cx="1613.8" cy="1921.6" r="8.1" fill="url(#ysph)"/>
<circle cx="1656.4" cy="1945.6" r="5.0" fill="url(#ysph)"/>
<circle cx="1660.1" cy="1933.9" r="7.1" fill="url(#ysph)"/>
<circle cx="1602.5" cy="1889.7" r="5.0" fill="url(#ysph)"/>
<circle cx="1608.4" cy="1922.4" r="6.2" fill="url(#ysph)"/>
<circle cx="1641.3" cy="1931.6" r="6.7" fill="url(#ysph)"/>
<circle cx="1623.2" cy="1924.8" r="6.8" fill="url(#ysph)"/>
<circle cx="1636.9" cy="1938.6" r="5.1" fill="url(#ysph)"/>
<circle cx="1635.6" cy="1914.7" r="4.6" fill="url(#ysph)"/>
<circle cx="1676.7" cy="1947.4" r="5.2" fill="url(#ysph)"/>
<circle cx="1680.2" cy="1947.2" r="4.5" fill="url(#ysph)"/>
<circle cx="1630.7" cy="1902.3" r="7.2" fill="url(#ysph)"/>
<circle cx="1628.3" cy="1922.2" r="7.0" fill="url(#ysph)"/>
<circle cx="1653.4" cy="1919.1" r="6.5" fill="url(#ysph)"/>
<circle cx="1679.9" cy="1951.7" r="4.8" fill="url(#ysph)"/>
<circle cx="1627.6" cy="1905.0" r="5.2" fill="url(#ysph)"/>
<circle cx="1628.0" cy="1929.0" r="11.2" fill="url(#ysph)"/>
<circle cx="1596.7" cy="1909.8" r="6.0" fill="url(#ysph)"/>
<circle cx="1607.6" cy="1912.1" r="11.3" fill="url(#ysph)"/>
<circle cx="1640.2" cy="1941.5" r="9.7" fill="url(#ysph)"/>
<circle cx="1650.8" cy="1930.9" r="5.2" fill="url(#ysph)"/>
<circle cx="1613.6" cy="1907.3" r="6.1" fill="url(#ysph)"/>
<circle cx="1621.3" cy="1895.3" r="6.2" fill="url(#ysph)"/>
<circle cx="1667.5" cy="1924.9" r="7.6" fill="url(#ysph)"/>
<circle cx="1672.8" cy="1931.5" r="4.7" fill="url(#ysph)"/>
<circle cx="1629.0" cy="1914.3" r="9.8" fill="url(#ysph)"/>
<circle cx="1614.2" cy="1894.7" r="6.1" fill="url(#ysph)"/>
<circle cx="1673.2" cy="1951.7" r="7.7" fill="url(#ysph)"/>
<circle cx="1660.1" cy="1920.1" r="5.6" fill="url(#ysph)"/>
<circle cx="1642.9" cy="1945.4" r="8.7" fill="url(#ysph)"/>
<circle cx="1608.9" cy="1909.2" r="6.1" fill="url(#ysph)"/>
<circle cx="1601.6" cy="1901.2" r="6.3" fill="url(#ysph)"/>
<circle cx="1655.3" cy="1935.5" r="5.4" fill="url(#ysph)"/>
<circle cx="1633.6" cy="1906.2" r="6.9" fill="url(#ysph)"/>
<circle cx="1607.9" cy="1966.1" r="11.1" fill="url(#ysph)"/>
<circle cx="1603.0" cy="1933.6" r="7.6" fill="url(#ysph)"/>
<circle cx="1643.6" cy="1957.2" r="5.8" fill="url(#ysph)"/>
<circle cx="1634.5" cy="1974.1" r="6.6" fill="url(#ysph)"/>
<circle cx="1620.1" cy="1953.8" r="4.8" fill="url(#ysph)"/>
<circle cx="1613.8" cy="1965.7" r="5.1" fill="url(#ysph)"/>
<circle cx="1581.1" cy="1944.8" r="5.0" fill="url(#ysph)"/>
<circle cx="1607.6" cy="1928.1" r="7.6" fill="url(#ysph)"/>
<circle cx="1627.1" cy="1974.6" r="7.7" fill="url(#ysph)"/>
<circle cx="1643.9" cy="1968.4" r="6.7" fill="url(#ysph)"/>
<circle cx="1629.9" cy="1952.8" r="6.8" fill="url(#ysph)"/>
<circle cx="1595.1" cy="1941.9" r="5.4" fill="url(#ysph)"/>
<circle cx="1641.4" cy="1953.3" r="4.6" fill="url(#ysph)"/>
<circle cx="1602.7" cy="1941.0" r="7.5" fill="url(#ysph)"/>
<circle cx="1595.4" cy="1945.1" r="6.5" fill="url(#ysph)"/>
<circle cx="1601.8" cy="1960.4" r="7.7" fill="url(#ysph)"/>
<circle cx="1636.0" cy="1957.1" r="11.5" fill="url(#ysph)"/>
<circle cx="1588.4" cy="1940.5" r="7.2" fill="url(#ysph)"/>
<circle cx="1614.4" cy="1938.1" r="10.4" fill="url(#ysph)"/>
<circle cx="1592.2" cy="1920.4" r="8.2" fill="url(#ysph)"/>
<circle cx="1629.7" cy="1964.0" r="5.3" fill="url(#ysph)"/>
<circle cx="1607.3" cy="1950.8" r="6.9" fill="url(#ysph)"/>
<circle cx="1617.7" cy="1934.5" r="6.2" fill="url(#ysph)"/>
<circle cx="1614.3" cy="1946.0" r="5.9" fill="url(#ysph)"/>
<circle cx="1617.1" cy="1953.2" r="10.7" fill="url(#ysph)"/>
<circle cx="1584.7" cy="1919.1" r="7.3" fill="url(#ysph)"/>
<circle cx="1604.5" cy="1944.3" r="6.9" fill="url(#ysph)"/>
<circle cx="1622.0" cy="1961.3" r="6.8" fill="url(#ysph)"/>
<circle cx="1633.1" cy="1953.8" r="6.8" fill="url(#ysph)"/>
<circle cx="1624.4" cy="1940.0" r="8.2" fill="url(#ysph)"/>
<circle cx="1585.4" cy="1914.2" r="5.9" fill="url(#ysph)"/>
<circle cx="1610.3" cy="1935.8" r="10.0" fill="url(#ysph)"/>
<circle cx="1597.0" cy="1919.6" r="6.4" fill="url(#ysph)"/>
<circle cx="1648.8" cy="1957.8" r="9.4" fill="url(#ysph)"/>
<circle cx="1626.6" cy="1959.1" r="4.8" fill="url(#ysph)"/>
<circle cx="1615.1" cy="1971.8" r="6.3" fill="url(#ysph)"/>
<circle cx="1609.4" cy="1939.8" r="7.8" fill="url(#ysph)"/>
<circle cx="1600.7" cy="1954.5" r="4.8" fill="url(#ysph)"/>
<circle cx="1636.9" cy="1964.0" r="5.1" fill="url(#ysph)"/>
<circle cx="1600.3" cy="1928.9" r="4.8" fill="url(#ysph)"/>
<circle cx="1610.8" cy="1959.8" r="6.5" fill="url(#ysph)"/>
<circle cx="1628.2" cy="1944.1" r="5.8" fill="url(#ysph)"/>
<circle cx="1594.4" cy="1951.5" r="5.7" fill="url(#ysph)"/>
<circle cx="1583.9" cy="1940.1" r="9.5" fill="url(#ysph)"/>
<circle cx="1623.1" cy="1970.7" r="7.7" fill="url(#ysph)"/>
<circle cx="1590.9" cy="1945.3" r="7.2" fill="url(#ysph)"/>
<circle cx="1597.2" cy="1934.2" r="8.1" fill="url(#ysph)"/>
<circle cx="1623.4" cy="1965.5" r="6.2" fill="url(#ysph)"/>
<circle cx="1591.1" cy="1954.2" r="7.3" fill="url(#ysph)"/>
<circle cx="1615.6" cy="1961.6" r="7.8" fill="url(#ysph)"/>
<circle cx="1594.4" cy="1929.3" r="5.0" fill="url(#ysph)"/>
<circle cx="1623.8" cy="1947.0" r="7.5" fill="url(#ysph)"/>
<circle cx="1610.0" cy="1948.2" r="4.7" fill="url(#ysph)"/>
<circle cx="1588.8" cy="1924.5" r="5.8" fill="url(#ysph)"/>
<circle cx="1635.0" cy="1945.7" r="5.4" fill="url(#ysph)"/>
<circle cx="1585.0" cy="1964.1" r="6.6" fill="url(#ysph)"/>
<circle cx="1594.0" cy="1972.5" r="6.8" fill="url(#ysph)"/>
<circle cx="1595.2" cy="1960.9" r="4.5" fill="url(#ysph)"/>
<circle cx="1595.8" cy="1963.6" r="6.1" fill="url(#ysph)"/>
<circle cx="1591.3" cy="1968.3" r="5.9" fill="url(#ysph)"/>
<circle cx="1590.3" cy="1972.2" r="6.6" fill="url(#ysph)"/>
<circle cx="1584.2" cy="1953.2" r="5.3" fill="url(#ysph)"/>
<circle cx="1590.1" cy="1958.5" r="6.6" fill="url(#ysph)"/>
<circle cx="1600.8" cy="1973.1" r="5.8" fill="url(#ysph)"/>
<circle cx="1583.5" cy="1958.9" r="11.1" fill="url(#ysph)"/>
<circle cx="1607.5" cy="1972.8" r="6.6" fill="url(#ysph)"/>
<circle cx="1602.2" cy="1966.6" r="6.7" fill="url(#ysph)"/>
<circle cx="1576.3" cy="1950.6" r="6.8" fill="url(#ysph)"/>
<g clip-path="url(#chclip)"><rect x="1560" y="1585" width="200" height="440" fill="url(#chshade)"/></g>
<path d="M1628.2,1665.2 C1629.9,1666.2 1634.5,1668.2 1638.1,1671.1 C1641.8,1674.1 1647.0,1679.4 1650.0,1683.0 C1653.0,1686.7 1654.3,1689.6 1656.0,1692.9 C1657.6,1696.2 1658.3,1698.5 1659.9,1702.8 C1661.6,1707.1 1664.2,1713.4 1665.9,1718.7 C1667.5,1724.0 1668.8,1729.6 1669.8,1734.5 C1670.8,1739.5 1672.1,1744.4 1671.8,1748.4 C1671.5,1752.4 1668.5,1756.7 1667.8,1758.3" fill="none" stroke="#93352a" stroke-width="6.5" stroke-linecap="round" stroke-linejoin="round"/><path d="M1628.2,1665.2 C1629.9,1666.2 1634.5,1668.2 1638.1,1671.1 C1641.8,1674.1 1647.0,1679.4 1650.0,1683.0 C1653.0,1686.7 1654.3,1689.6 1656.0,1692.9 C1657.6,1696.2 1658.3,1698.5 1659.9,1702.8 C1661.6,1707.1 1664.2,1713.4 1665.9,1718.7 C1667.5,1724.0 1668.8,1729.6 1669.8,1734.5 C1670.8,1739.5 1672.1,1744.4 1671.8,1748.4 C1671.5,1752.4 1668.5,1756.7 1667.8,1758.3" fill="none" stroke="#d4584a" stroke-width="3.4" stroke-linecap="round" stroke-linejoin="round"/>
<path d="M1659.9,1702.8 C1659.6,1704.8 1659.6,1711.8 1657.9,1714.7 C1656.3,1717.7 1654.0,1719.0 1650.0,1720.7 C1646.0,1722.3 1638.8,1723.3 1634.2,1724.6 C1629.5,1726.0 1624.9,1726.6 1622.3,1728.6 C1619.6,1730.6 1618.0,1734.5 1618.3,1736.5 C1618.6,1738.5 1622.3,1740.5 1624.3,1740.5 C1626.2,1740.5 1629.5,1738.2 1630.2,1736.5 C1630.9,1734.9 1628.5,1731.6 1628.2,1730.6" fill="none" stroke="#93352a" stroke-width="6.5" stroke-linecap="round" stroke-linejoin="round"/><path d="M1659.9,1702.8 C1659.6,1704.8 1659.6,1711.8 1657.9,1714.7 C1656.3,1717.7 1654.0,1719.0 1650.0,1720.7 C1646.0,1722.3 1638.8,1723.3 1634.2,1724.6 C1629.5,1726.0 1624.9,1726.6 1622.3,1728.6 C1619.6,1730.6 1618.0,1734.5 1618.3,1736.5 C1618.6,1738.5 1622.3,1740.5 1624.3,1740.5 C1626.2,1740.5 1629.5,1738.2 1630.2,1736.5 C1630.9,1734.9 1628.5,1731.6 1628.2,1730.6" fill="none" stroke="#d4584a" stroke-width="3.4" stroke-linecap="round" stroke-linejoin="round"/>
<path d="M1572.7,1738.5 C1573.1,1741.1 1573.7,1749.4 1574.7,1754.3 C1575.7,1759.3 1575.4,1765.4 1578.7,1768.2 C1582.0,1771.0 1589.6,1771.5 1594.5,1771.2 C1599.5,1770.9 1605.1,1768.4 1608.4,1766.2 C1611.7,1764.1 1613.4,1759.6 1614.3,1758.3" fill="none" stroke="#93352a" stroke-width="6.5" stroke-linecap="round" stroke-linejoin="round"/><path d="M1572.7,1738.5 C1573.1,1741.1 1573.7,1749.4 1574.7,1754.3 C1575.7,1759.3 1575.4,1765.4 1578.7,1768.2 C1582.0,1771.0 1589.6,1771.5 1594.5,1771.2 C1599.5,1770.9 1605.1,1768.4 1608.4,1766.2 C1611.7,1764.1 1613.4,1759.6 1614.3,1758.3" fill="none" stroke="#d4584a" stroke-width="3.4" stroke-linecap="round" stroke-linejoin="round"/>
<path d="M1650.0,1772.2 C1649.7,1774.8 1648.0,1782.1 1648.0,1788.0 C1648.0,1794.0 1649.0,1801.2 1650.0,1807.8 C1651.0,1814.4 1652.7,1822.7 1654.0,1827.7 C1655.3,1832.6 1656.0,1833.3 1657.9,1837.6 C1659.9,1841.9 1665.2,1849.8 1665.9,1853.4 C1666.5,1857.0 1664.9,1857.4 1661.9,1859.4 C1658.9,1861.3 1652.7,1863.0 1648.0,1865.3 C1643.4,1867.6 1637.1,1869.3 1634.2,1873.2 C1631.2,1877.2 1630.9,1883.8 1630.2,1889.1 C1629.5,1894.4 1630.9,1899.6 1630.2,1904.9 C1629.5,1910.2 1628.9,1916.2 1626.2,1920.8 C1623.6,1925.4 1617.7,1928.7 1614.3,1932.7 C1611.0,1936.6 1609.7,1942.2 1606.4,1944.5 C1603.1,1946.9 1599.2,1947.9 1594.5,1946.5 C1589.9,1945.2 1582.0,1940.6 1578.7,1936.6 C1575.4,1932.7 1574.1,1926.4 1574.7,1922.8 C1575.4,1919.1 1579.3,1915.8 1582.7,1914.8 C1586.0,1913.8 1591.2,1914.5 1594.5,1916.8 C1597.8,1919.1 1600.5,1924.1 1602.5,1928.7 C1604.4,1933.3 1605.8,1941.9 1606.4,1944.5" fill="none" stroke="#93352a" stroke-width="6.5" stroke-linecap="round" stroke-linejoin="round"/><path d="M1650.0,1772.2 C1649.7,1774.8 1648.0,1782.1 1648.0,1788.0 C1648.0,1794.0 1649.0,1801.2 1650.0,1807.8 C1651.0,1814.4 1652.7,1822.7 1654.0,1827.7 C1655.3,1832.6 1656.0,1833.3 1657.9,1837.6 C1659.9,1841.9 1665.2,1849.8 1665.9,1853.4 C1666.5,1857.0 1664.9,1857.4 1661.9,1859.4 C1658.9,1861.3 1652.7,1863.0 1648.0,1865.3 C1643.4,1867.6 1637.1,1869.3 1634.2,1873.2 C1631.2,1877.2 1630.9,1883.8 1630.2,1889.1 C1629.5,1894.4 1630.9,1899.6 1630.2,1904.9 C1629.5,1910.2 1628.9,1916.2 1626.2,1920.8 C1623.6,1925.4 1617.7,1928.7 1614.3,1932.7 C1611.0,1936.6 1609.7,1942.2 1606.4,1944.5 C1603.1,1946.9 1599.2,1947.9 1594.5,1946.5 C1589.9,1945.2 1582.0,1940.6 1578.7,1936.6 C1575.4,1932.7 1574.1,1926.4 1574.7,1922.8 C1575.4,1919.1 1579.3,1915.8 1582.7,1914.8 C1586.0,1913.8 1591.2,1914.5 1594.5,1916.8 C1597.8,1919.1 1600.5,1924.1 1602.5,1928.7 C1604.4,1933.3 1605.8,1941.9 1606.4,1944.5" fill="none" stroke="#d4584a" stroke-width="3.4" stroke-linecap="round" stroke-linejoin="round"/>
<text x="1210.0" y="1690.5" text-anchor="start" style="font-family:'Liberation Sans',Arial,sans-serif;font-size:24.0px;font-weight:bold">C</text>
<text x="1549.0" y="1968.3" text-anchor="start" style="font-family:'Liberation Sans',Arial,sans-serif;font-size:24.0px;font-weight:bold">N</text>
<text x="1627.0" y="2055.8" text-anchor="start" style="font-family:'Liberation Sans',Arial,sans-serif;font-size:26.0px">Chaperone</text>
<line x1="598.7" y1="2386.2" x2="1313.3" y2="2386.2" stroke="#8a8a8a" stroke-width="1.7" stroke-dasharray="1.9 3.0"/>
<line x1="598.7" y1="2332.5" x2="1313.3" y2="2332.5" stroke="#8a8a8a" stroke-width="1.7" stroke-dasharray="1.9 3.0"/>
<line x1="598.7" y1="2278.8" x2="1313.3" y2="2278.8" stroke="#8a8a8a" stroke-width="1.7" stroke-dasharray="1.9 3.0"/>
<line x1="598.7" y1="2225.0" x2="1313.3" y2="2225.0" stroke="#8a8a8a" stroke-width="1.7" stroke-dasharray="1.9 3.0"/>
<line x1="598.7" y1="2171.2" x2="1313.3" y2="2171.2" stroke="#8a8a8a" stroke-width="1.7" stroke-dasharray="1.9 3.0"/>
<line x1="739.2" y1="2171.2" x2="739.2" y2="2438.0" stroke="#8a8a8a" stroke-width="1.7" stroke-dasharray="1.9 3.0"/>
<line x1="882.7" y1="2171.2" x2="882.7" y2="2438.0" stroke="#8a8a8a" stroke-width="1.7" stroke-dasharray="1.9 3.0"/>
<line x1="1026.3" y1="2171.2" x2="1026.3" y2="2438.0" stroke="#8a8a8a" stroke-width="1.7" stroke-dasharray="1.9 3.0"/>
<line x1="1169.8" y1="2171.2" x2="1169.8" y2="2438.0" stroke="#8a8a8a" stroke-width="1.7" stroke-dasharray="1.9 3.0"/>
<line x1="1313.3" y1="2171.2" x2="1313.3" y2="2438.0" stroke="#8a8a8a" stroke-width="1.7" stroke-dasharray="1.9 3.0"/>
<line x1="595.7" y1="2169.8" x2="595.7" y2="2442.0" stroke="#000" stroke-width="4"/>
<line x1="587.7" y1="2440.0" x2="1314.3" y2="2440.0" stroke="#000" stroke-width="4.2"/>
<line x1="587.7" y1="2440.0" x2="595.7" y2="2440.0" stroke="#000" stroke-width="3.4"/>
<text x="582.2" y="2448.2" text-anchor="end" style="font-family:'Liberation Sans',Arial,sans-serif;font-size:22px">0</text>
<line x1="587.7" y1="2386.2" x2="595.7" y2="2386.2" stroke="#000" stroke-width="3.4"/>
<text x="582.2" y="2394.4" text-anchor="end" style="font-family:'Liberation Sans',Arial,sans-serif;font-size:22px">5</text>
<line x1="587.7" y1="2225.0" x2="595.7" y2="2225.0" stroke="#000" stroke-width="3.4"/>
<text x="582.2" y="2233.2" text-anchor="end" style="font-family:'Liberation Sans',Arial,sans-serif;font-size:22px">20</text>
<line x1="587.7" y1="2171.2" x2="595.7" y2="2171.2" stroke="#000" stroke-width="3.4"/>
<text x="582.2" y="2179.4" text-anchor="end" style="font-family:'Liberation Sans',Arial,sans-serif;font-size:22px">25</text>
<line x1="595.7" y1="2440.0" x2="595.7" y2="2448.0" stroke="#000" stroke-width="3.4"/>
<text x="596.7" y="2474.6" text-anchor="middle" style="font-family:'Liberation Sans',Arial,sans-serif;font-size:21px">0.1</text>
<line x1="739.2" y1="2440.0" x2="739.2" y2="2448.0" stroke="#000" stroke-width="3.4"/>
<text x="740.2" y="2474.6" text-anchor="middle" style="font-family:'Liberation Sans',Arial,sans-serif;font-size:21px">1</text>
<line x1="882.7" y1="2440.0" x2="882.7" y2="2448.0" stroke="#000" stroke-width="3.4"/>
<text x="883.7" y="2474.6" text-anchor="middle" style="font-family:'Liberation Sans',Arial,sans-serif;font-size:21px">10</text>
<line x1="1026.3" y1="2440.0" x2="1026.3" y2="2448.0" stroke="#000" stroke-width="3.4"/>
<text x="1027.3" y="2474.6" text-anchor="middle" style="font-family:'Liberation Sans',Arial,sans-serif;font-size:21px">100</text>
<line x1="1169.8" y1="2440.0" x2="1169.8" y2="2448.0" stroke="#000" stroke-width="3.4"/>
<text x="1170.8" y="2474.6" text-anchor="middle" style="font-family:'Liberation Sans',Arial,sans-serif;font-size:21px">1000</text>
<line x1="1313.3" y1="2440.0" x2="1313.3" y2="2448.0" stroke="#000" stroke-width="3.4"/>
<text x="1314.3" y="2474.6" text-anchor="middle" style="font-family:'Liberation Sans',Arial,sans-serif;font-size:21px">10000</text>
<text x="975.5" y="2513" text-anchor="middle" style="font-family:'Liberation Sans',Arial,sans-serif;font-size:22.5px">Size distribution [nm]</text>
<text x="541" y="2290" text-anchor="middle" style="font-family:'Liberation Sans',Arial,sans-serif;font-size:22.5px">Mean</text>
<text x="541" y="2317.5" text-anchor="middle" style="font-family:'Liberation Sans',Arial,sans-serif;font-size:22.5px">Volume</text>
<text x="541" y="2345" text-anchor="middle" style="font-family:'Liberation Sans',Arial,sans-serif;font-size:22.5px">[%]</text>
<text x="600" y="2152" style="font-family:'Liberation Sans',Arial,sans-serif;font-size:28px;font-weight:bold">e</text>
<polyline points="680.6,2440.0 994.4,2440.0 1003.0,2427.5 1010.0,2367.5 1018.0,2262.0 1024.0,2222.0 1030.6,2202.0 1036.0,2218.0 1042.0,2238.0 1050.0,2290.0 1058.0,2345.0 1068.0,2388.0 1077.0,2408.0 1086.0,2422.0 1096.0,2431.0 1108.0,2436.0 1123.0,2439.0 1160.0,2440.0 1313.3,2440.0" fill="none" stroke="#e8741e" stroke-width="4.0" stroke-linejoin="round"/>
<polyline points="680.6,2440.0 993.1,2440.0 1002.5,2412.5 1020.0,2235.0 1030.0,2213.5 1040.0,2255.0 1047.5,2292.5 1057.5,2348.8 1067.5,2387.5 1076.0,2407.5 1085.0,2421.0 1095.0,2430.0 1107.5,2435.6 1122.5,2438.5 1160.0,2440.0 1313.3,2440.0" fill="none" stroke="#1b6aa5" stroke-width="4.0" stroke-linejoin="round"/>
</svg>
</body></html>
